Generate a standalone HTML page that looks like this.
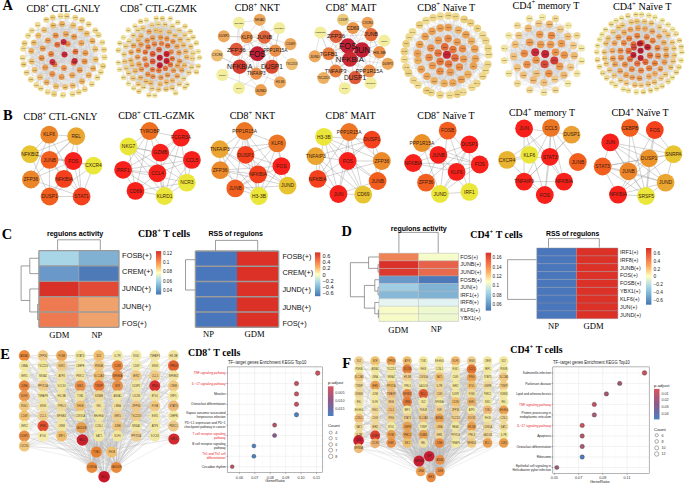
<!DOCTYPE html>
<html><head><meta charset="utf-8"><style>
html,body{margin:0;padding:0;background:#fff;}
svg{display:block;}
</style></head><body>
<svg width="685" height="484" viewBox="0 0 685 484">
<rect width="685" height="484" fill="#fff"/>
<text transform="translate(2.40 9.80) scale(0.25)" font-family="Liberation Serif" font-size="57.60" font-weight="bold" fill="#000" text-anchor="start" >A</text>
<text transform="translate(3.10 119.90) scale(0.25)" font-family="Liberation Serif" font-size="57.60" font-weight="bold" fill="#000" text-anchor="start" >B</text>
<text transform="translate(1.80 238.70) scale(0.25)" font-family="Liberation Serif" font-size="57.60" font-weight="bold" fill="#000" text-anchor="start" >C</text>
<text transform="translate(341.60 235.80) scale(0.25)" font-family="Liberation Serif" font-size="57.60" font-weight="bold" fill="#000" text-anchor="start" >D</text>
<text transform="translate(0.30 358.80) scale(0.25)" font-family="Liberation Serif" font-size="57.60" font-weight="bold" fill="#000" text-anchor="start" >E</text>
<text transform="translate(342.20 367.80) scale(0.25)" font-family="Liberation Serif" font-size="57.60" font-weight="bold" fill="#000" text-anchor="start" >F</text>
<text transform="translate(26.40 11.80) scale(0.25)" font-family="Liberation Serif" font-size="41.20" font-weight="normal" fill="#000" text-anchor="start" textLength="296.00" lengthAdjust="spacingAndGlyphs" >CD8<tspan font-size="28.02" dy="-16.48">+</tspan><tspan dy="16.48"> CTL-GNLY</tspan></text>
<text transform="translate(120.00 11.60) scale(0.25)" font-family="Liberation Serif" font-size="41.20" font-weight="normal" fill="#000" text-anchor="start" textLength="308.00" lengthAdjust="spacingAndGlyphs" >CD8<tspan font-size="28.02" dy="-16.48">+</tspan><tspan dy="16.48"> CTL-GZMK</tspan></text>
<text transform="translate(234.80 10.90) scale(0.25)" font-family="Liberation Serif" font-size="41.20" font-weight="normal" fill="#000" text-anchor="start" textLength="180.40" lengthAdjust="spacingAndGlyphs" >CD8<tspan font-size="28.02" dy="-16.48">+</tspan><tspan dy="16.48"> NKT</tspan></text>
<text transform="translate(325.80 10.90) scale(0.25)" font-family="Liberation Serif" font-size="41.20" font-weight="normal" fill="#000" text-anchor="start" textLength="202.40" lengthAdjust="spacingAndGlyphs" >CD8<tspan font-size="28.02" dy="-16.48">+</tspan><tspan dy="16.48"> MAIT</tspan></text>
<text transform="translate(417.30 10.60) scale(0.25)" font-family="Liberation Serif" font-size="41.20" font-weight="normal" fill="#000" text-anchor="start" textLength="231.60" lengthAdjust="spacingAndGlyphs" >CD8<tspan font-size="28.02" dy="-16.48">+</tspan><tspan dy="16.48"> Na&#239;ve T</tspan></text>
<text transform="translate(512.50 8.60) scale(0.25)" font-family="Liberation Serif" font-size="41.20" font-weight="normal" fill="#000" text-anchor="start" textLength="268.00" lengthAdjust="spacingAndGlyphs" >CD4<tspan font-size="28.02" dy="-16.48">+</tspan><tspan dy="16.48"> memory T</tspan></text>
<text transform="translate(612.90 10.40) scale(0.25)" font-family="Liberation Serif" font-size="41.20" font-weight="normal" fill="#000" text-anchor="start" textLength="234.00" lengthAdjust="spacingAndGlyphs" >CD4<tspan font-size="28.02" dy="-16.48">+</tspan><tspan dy="16.48"> Na&#239;ve T</tspan></text>
<text transform="translate(23.60 120.00) scale(0.25)" font-family="Liberation Serif" font-size="41.20" font-weight="normal" fill="#000" text-anchor="start" textLength="295.20" lengthAdjust="spacingAndGlyphs" >CD8<tspan font-size="28.02" dy="-16.48">+</tspan><tspan dy="16.48"> CTL-GNLY</tspan></text>
<text transform="translate(118.20 119.00) scale(0.25)" font-family="Liberation Serif" font-size="41.20" font-weight="normal" fill="#000" text-anchor="start" textLength="305.60" lengthAdjust="spacingAndGlyphs" >CD8<tspan font-size="28.02" dy="-16.48">+</tspan><tspan dy="16.48"> CTL-GZMK</tspan></text>
<text transform="translate(229.70 119.00) scale(0.25)" font-family="Liberation Serif" font-size="41.20" font-weight="normal" fill="#000" text-anchor="start" textLength="182.00" lengthAdjust="spacingAndGlyphs" >CD8<tspan font-size="28.02" dy="-16.48">+</tspan><tspan dy="16.48"> NKT</tspan></text>
<text transform="translate(325.60 119.00) scale(0.25)" font-family="Liberation Serif" font-size="41.20" font-weight="normal" fill="#000" text-anchor="start" textLength="200.00" lengthAdjust="spacingAndGlyphs" >CD8<tspan font-size="28.02" dy="-16.48">+</tspan><tspan dy="16.48"> MAIT</tspan></text>
<text transform="translate(417.30 119.00) scale(0.25)" font-family="Liberation Serif" font-size="41.20" font-weight="normal" fill="#000" text-anchor="start" textLength="228.80" lengthAdjust="spacingAndGlyphs" >CD8<tspan font-size="28.02" dy="-16.48">+</tspan><tspan dy="16.48"> Na&#239;ve T</tspan></text>
<text transform="translate(509.00 115.80) scale(0.25)" font-family="Liberation Serif" font-size="41.20" font-weight="normal" fill="#000" text-anchor="start" textLength="264.40" lengthAdjust="spacingAndGlyphs" >CD4<tspan font-size="28.02" dy="-16.48">+</tspan><tspan dy="16.48"> memory T</tspan></text>
<text transform="translate(611.40 115.80) scale(0.25)" font-family="Liberation Serif" font-size="41.20" font-weight="normal" fill="#000" text-anchor="start" textLength="229.20" lengthAdjust="spacingAndGlyphs" >CD4<tspan font-size="28.02" dy="-16.48">+</tspan><tspan dy="16.48"> Na&#239;ve T</tspan></text>
<text transform="translate(138.00 237.10) scale(0.25)" font-family="Liberation Serif" font-size="40.00" font-weight="bold" fill="#000" text-anchor="start" textLength="208.40" lengthAdjust="spacingAndGlyphs" >CD8<tspan font-size="27.20" dy="-16.00">+</tspan><tspan dy="16.00"> T cells</tspan></text>
<text transform="translate(470.30 237.80) scale(0.25)" font-family="Liberation Serif" font-size="40.00" font-weight="bold" fill="#000" text-anchor="start" textLength="209.60" lengthAdjust="spacingAndGlyphs" >CD4<tspan font-size="27.20" dy="-16.00">+</tspan><tspan dy="16.00"> T cells</tspan></text>
<text transform="translate(188.00 355.80) scale(0.25)" font-family="Liberation Serif" font-size="40.00" font-weight="bold" fill="#000" text-anchor="start" textLength="209.20" lengthAdjust="spacingAndGlyphs" >CD8<tspan font-size="27.20" dy="-16.00">+</tspan><tspan dy="16.00"> T cells</tspan></text>
<text transform="translate(510.30 353.10) scale(0.25)" font-family="Liberation Serif" font-size="40.00" font-weight="bold" fill="#000" text-anchor="start" textLength="209.60" lengthAdjust="spacingAndGlyphs" >CD4<tspan font-size="27.20" dy="-16.00">+</tspan><tspan dy="16.00"> T cells</tspan></text>
<rect x="38.90" y="250.60" width="40.00" height="15.34" fill="#a9d6e6"/>
<rect x="78.90" y="250.60" width="40.10" height="15.34" fill="#80b1d3"/>
<rect x="38.90" y="265.94" width="40.00" height="15.34" fill="#6a98c8"/>
<rect x="78.90" y="265.94" width="40.10" height="15.34" fill="#4e7ab8"/>
<rect x="38.90" y="281.28" width="40.00" height="15.34" fill="#d73128"/>
<rect x="78.90" y="281.28" width="40.10" height="15.34" fill="#e34a35"/>
<rect x="38.90" y="296.62" width="40.00" height="15.34" fill="#ee7a52"/>
<rect x="78.90" y="296.62" width="40.10" height="15.34" fill="#f0a26c"/>
<rect x="38.90" y="311.96" width="40.00" height="15.34" fill="#ee7a52"/>
<rect x="78.90" y="311.96" width="40.10" height="15.34" fill="#f0a26c"/>
<path d="M38.9 250.6L119 250.6M38.9 265.9L119 265.9M38.9 281.3L119 281.3M38.9 296.6L119 296.6M38.9 312L119 312M38.9 327.3L119 327.3M38.9 250.6L38.9 327.3M119 250.6L119 327.3" fill="none" stroke="#9a9a9a" stroke-width="1.35"/>
<path d="M78.9 250.6L78.9 327.3" fill="none" stroke="#aaaaaa" stroke-width="0.5"/>
<polyline points="57.60,250.00 57.60,239.80 100.30,239.80 100.30,250.00" fill="none" stroke="#4d4d4d" stroke-width="0.55"/>
<polyline points="38.50,258.27 29.80,258.27 29.80,273.61 38.50,273.61" fill="none" stroke="#4d4d4d" stroke-width="0.55"/>
<polyline points="38.50,304.29 37.60,304.29 37.60,319.63 38.50,319.63" fill="none" stroke="#4d4d4d" stroke-width="0.55"/>
<polyline points="38.50,288.95 29.80,288.95 29.80,311.96 37.60,311.96" fill="none" stroke="#4d4d4d" stroke-width="0.55"/>
<polyline points="29.80,265.94 21.10,265.94 21.10,300.46 29.80,300.46" fill="none" stroke="#4d4d4d" stroke-width="0.55"/>
<text transform="translate(46.90 235.70) scale(0.25)" font-family="Liberation Sans" font-size="27.20" font-weight="bold" fill="#000" text-anchor="start" textLength="225.20" lengthAdjust="spacingAndGlyphs" >regulons activity</text>
<text transform="translate(122.10 257.60) scale(0.25)" font-family="Liberation Sans" font-size="32.00" font-weight="normal" fill="#111" text-anchor="start" textLength="118.00" lengthAdjust="spacingAndGlyphs" >FOSB(+)</text>
<text transform="translate(122.10 274.00) scale(0.25)" font-family="Liberation Sans" font-size="32.00" font-weight="normal" fill="#111" text-anchor="start" textLength="123.20" lengthAdjust="spacingAndGlyphs" >CREM(+)</text>
<text transform="translate(122.10 291.00) scale(0.25)" font-family="Liberation Sans" font-size="32.00" font-weight="normal" fill="#111" text-anchor="start" textLength="116.00" lengthAdjust="spacingAndGlyphs" >JUND(+)</text>
<text transform="translate(122.10 309.00) scale(0.25)" font-family="Liberation Sans" font-size="32.00" font-weight="normal" fill="#111" text-anchor="start" textLength="116.00" lengthAdjust="spacingAndGlyphs" >JUNB(+)</text>
<text transform="translate(122.10 325.70) scale(0.25)" font-family="Liberation Sans" font-size="32.00" font-weight="normal" fill="#111" text-anchor="start" textLength="98.40" lengthAdjust="spacingAndGlyphs" >FOS(+)</text>
<text transform="translate(49.30 337.80) scale(0.25)" font-family="Liberation Serif" font-size="34.40" font-weight="normal" fill="#000" text-anchor="start" >GDM</text>
<text transform="translate(91.40 337.80) scale(0.25)" font-family="Liberation Serif" font-size="34.40" font-weight="normal" fill="#000" text-anchor="start" >NP</text>
<defs><linearGradient id="g1" x1="0" y1="0" x2="0" y2="1"><stop offset="0" stop-color="#d73027"/><stop offset="0.17" stop-color="#f46d43"/><stop offset="0.33" stop-color="#fdae61"/><stop offset="0.5" stop-color="#ffffbf"/><stop offset="0.67" stop-color="#abd9e9"/><stop offset="0.83" stop-color="#74add1"/><stop offset="1" stop-color="#4575b4"/></linearGradient></defs>
<rect x="156.0" y="251.1" width="5.2" height="43.4" fill="url(#g1)"/>
<text transform="translate(163.00 254.90) scale(0.25)" font-family="Liberation Sans" font-size="18.40" font-weight="normal" fill="#222" text-anchor="start" >0.12</text>
<text transform="translate(163.00 264.30) scale(0.25)" font-family="Liberation Sans" font-size="18.40" font-weight="normal" fill="#222" text-anchor="start" >0.1</text>
<text transform="translate(163.00 273.40) scale(0.25)" font-family="Liberation Sans" font-size="18.40" font-weight="normal" fill="#222" text-anchor="start" >0.08</text>
<text transform="translate(163.00 282.60) scale(0.25)" font-family="Liberation Sans" font-size="18.40" font-weight="normal" fill="#222" text-anchor="start" >0.06</text>
<text transform="translate(163.00 292.10) scale(0.25)" font-family="Liberation Sans" font-size="18.40" font-weight="normal" fill="#222" text-anchor="start" >0.04</text>
<rect x="195.40" y="251.00" width="41.60" height="15.24" fill="#4a77bb"/>
<rect x="237.00" y="251.00" width="41.70" height="15.24" fill="#dc3127"/>
<rect x="195.40" y="266.24" width="41.60" height="15.24" fill="#4a77bb"/>
<rect x="237.00" y="266.24" width="41.70" height="15.24" fill="#dc3127"/>
<rect x="195.40" y="281.48" width="41.60" height="15.24" fill="#4a77bb"/>
<rect x="237.00" y="281.48" width="41.70" height="15.24" fill="#dc3127"/>
<rect x="195.40" y="296.72" width="41.60" height="15.24" fill="#4a77bb"/>
<rect x="237.00" y="296.72" width="41.70" height="15.24" fill="#dc3127"/>
<rect x="195.40" y="311.96" width="41.60" height="15.24" fill="#4a77bb"/>
<rect x="237.00" y="311.96" width="41.70" height="15.24" fill="#dc3127"/>
<path d="M195.4 251L278.7 251M195.4 266.2L278.7 266.2M195.4 281.5L278.7 281.5M195.4 296.7L278.7 296.7M195.4 312L278.7 312M195.4 327.2L278.7 327.2M195.4 251L195.4 327.2M278.7 251L278.7 327.2" fill="none" stroke="#9a9a9a" stroke-width="1.35"/>
<path d="M237 251L237 327.2" fill="none" stroke="#4a77bb" stroke-width="0.01"/>
<polyline points="215.50,250.50 215.50,240.40 257.70,240.40 257.70,250.50" fill="none" stroke="#4d4d4d" stroke-width="0.55"/>
<polyline points="195.00,259.70 185.50,259.70 185.50,290.00 195.00,290.00" fill="none" stroke="#4d4d4d" stroke-width="0.55"/>
<text transform="translate(208.50 236.30) scale(0.25)" font-family="Liberation Sans" font-size="27.20" font-weight="bold" fill="#000" text-anchor="start" textLength="218.00" lengthAdjust="spacingAndGlyphs" >RSS of regulons</text>
<text transform="translate(282.40 258.50) scale(0.25)" font-family="Liberation Sans" font-size="32.00" font-weight="normal" fill="#111" text-anchor="start" textLength="115.60" lengthAdjust="spacingAndGlyphs" >FOSB(+)</text>
<text transform="translate(282.40 275.00) scale(0.25)" font-family="Liberation Sans" font-size="32.00" font-weight="normal" fill="#111" text-anchor="start" textLength="123.60" lengthAdjust="spacingAndGlyphs" >CREM(+)</text>
<text transform="translate(282.40 292.00) scale(0.25)" font-family="Liberation Sans" font-size="32.00" font-weight="normal" fill="#111" text-anchor="start" textLength="114.40" lengthAdjust="spacingAndGlyphs" >JUND(+)</text>
<text transform="translate(282.40 309.50) scale(0.25)" font-family="Liberation Sans" font-size="32.00" font-weight="normal" fill="#111" text-anchor="start" textLength="114.40" lengthAdjust="spacingAndGlyphs" >JUNB(+)</text>
<text transform="translate(282.40 326.00) scale(0.25)" font-family="Liberation Sans" font-size="32.00" font-weight="normal" fill="#111" text-anchor="start" textLength="97.60" lengthAdjust="spacingAndGlyphs" >FOS(+)</text>
<text transform="translate(203.00 337.30) scale(0.25)" font-family="Liberation Serif" font-size="34.40" font-weight="normal" fill="#000" text-anchor="start" >NP</text>
<text transform="translate(244.50 337.30) scale(0.25)" font-family="Liberation Serif" font-size="34.40" font-weight="normal" fill="#000" text-anchor="start" >GDM</text>
<defs><linearGradient id="g2" x1="0" y1="0" x2="0" y2="1"><stop offset="0" stop-color="#d73027"/><stop offset="0.17" stop-color="#f46d43"/><stop offset="0.33" stop-color="#fdae61"/><stop offset="0.5" stop-color="#ffffbf"/><stop offset="0.67" stop-color="#abd9e9"/><stop offset="0.83" stop-color="#74add1"/><stop offset="1" stop-color="#4575b4"/></linearGradient></defs>
<rect x="315.0" y="252.4" width="5.4" height="43.8" fill="url(#g2)"/>
<text transform="translate(322.60 258.00) scale(0.25)" font-family="Liberation Sans" font-size="22.40" font-weight="normal" fill="#222" text-anchor="start" >0.6</text>
<text transform="translate(322.60 264.00) scale(0.25)" font-family="Liberation Sans" font-size="22.40" font-weight="normal" fill="#222" text-anchor="start" >0.4</text>
<text transform="translate(322.60 270.20) scale(0.25)" font-family="Liberation Sans" font-size="22.40" font-weight="normal" fill="#222" text-anchor="start" >0.2</text>
<text transform="translate(322.60 276.70) scale(0.25)" font-family="Liberation Sans" font-size="22.40" font-weight="normal" fill="#222" text-anchor="start" >0</text>
<text transform="translate(322.60 282.50) scale(0.25)" font-family="Liberation Sans" font-size="22.40" font-weight="normal" fill="#222" text-anchor="start" >&#8722;0.2</text>
<text transform="translate(322.60 288.80) scale(0.25)" font-family="Liberation Sans" font-size="22.40" font-weight="normal" fill="#222" text-anchor="start" >&#8722;0.4</text>
<text transform="translate(322.60 295.00) scale(0.25)" font-family="Liberation Sans" font-size="22.40" font-weight="normal" fill="#222" text-anchor="start" >&#8722;0.6</text>
<rect x="379.00" y="253.20" width="39.50" height="7.58" fill="#ee8356"/>
<rect x="418.50" y="253.20" width="40.00" height="7.58" fill="#f5fbc9"/>
<rect x="379.00" y="260.78" width="39.50" height="7.58" fill="#d93129"/>
<rect x="418.50" y="260.78" width="40.00" height="7.58" fill="#e8614a"/>
<rect x="379.00" y="268.36" width="39.50" height="7.58" fill="#dc3a2e"/>
<rect x="418.50" y="268.36" width="40.00" height="7.58" fill="#e86a4c"/>
<rect x="379.00" y="275.93" width="39.50" height="7.58" fill="#6a98c8"/>
<rect x="418.50" y="275.93" width="40.00" height="7.58" fill="#4d79b8"/>
<rect x="379.00" y="283.51" width="39.50" height="7.58" fill="#a1cde2"/>
<rect x="418.50" y="283.51" width="40.00" height="7.58" fill="#80b2d4"/>
<rect x="379.00" y="291.09" width="39.50" height="7.58" fill="#87b8d8"/>
<rect x="418.50" y="291.09" width="40.00" height="7.58" fill="#80b2d4"/>
<rect x="379.00" y="298.67" width="39.50" height="7.58" fill="#e6f5f2"/>
<rect x="418.50" y="298.67" width="40.00" height="7.58" fill="#e2f3f4"/>
<rect x="379.00" y="306.24" width="39.50" height="7.58" fill="#f6fbc8"/>
<rect x="418.50" y="306.24" width="40.00" height="7.58" fill="#eef8cf"/>
<rect x="379.00" y="313.82" width="39.50" height="7.58" fill="#f6fbc8"/>
<rect x="418.50" y="313.82" width="40.00" height="7.58" fill="#eef8cf"/>
<path d="M379 253.2L458.5 253.2M379 260.8L458.5 260.8M379 268.4L458.5 268.4M379 275.9L458.5 275.9M379 283.5L458.5 283.5M379 291.1L458.5 291.1M379 298.7L458.5 298.7M379 306.2L458.5 306.2M379 313.8L458.5 313.8M379 321.4L458.5 321.4M379 253.2L379 321.4M458.5 253.2L458.5 321.4M418.5 253.2L418.5 321.4" fill="none" stroke="#b4b4b4" stroke-width="0.5"/>
<polyline points="398.90,252.80 398.90,232.40 438.20,232.40 438.20,252.80" fill="none" stroke="#4d4d4d" stroke-width="0.55"/>
<polyline points="378.80,264.57 378.00,264.57 378.00,272.14 378.80,272.14" fill="none" stroke="#4d4d4d" stroke-width="0.55"/>
<polyline points="378.80,256.99 368.60,256.99 368.60,268.36 378.00,268.36" fill="none" stroke="#4d4d4d" stroke-width="0.55"/>
<polyline points="378.80,287.30 378.00,287.30 378.00,294.88 378.80,294.88" fill="none" stroke="#4d4d4d" stroke-width="0.55"/>
<polyline points="378.80,279.72 374.80,279.72 374.80,291.09 378.00,291.09" fill="none" stroke="#4d4d4d" stroke-width="0.55"/>
<polyline points="378.80,310.03 378.30,310.03 378.30,317.61 378.80,317.61" fill="none" stroke="#4d4d4d" stroke-width="0.55"/>
<polyline points="378.80,302.46 374.80,302.46 374.80,313.82 378.30,313.82" fill="none" stroke="#4d4d4d" stroke-width="0.55"/>
<polyline points="374.80,285.41 364.40,285.41 364.40,308.14 374.80,308.14" fill="none" stroke="#4d4d4d" stroke-width="0.55"/>
<polyline points="368.60,262.67 350.40,262.67 350.40,296.77 364.40,296.77" fill="none" stroke="#4d4d4d" stroke-width="0.55"/>
<text transform="translate(390.80 231.40) scale(0.25)" font-family="Liberation Sans" font-size="27.20" font-weight="bold" fill="#000" text-anchor="start" textLength="223.60" lengthAdjust="spacingAndGlyphs" >regulons activity</text>
<text transform="translate(460.30 258.89) scale(0.25)" font-family="Liberation Sans" font-size="21.60" font-weight="normal" fill="#222" text-anchor="start" >FOS(+)</text>
<text transform="translate(460.30 266.47) scale(0.25)" font-family="Liberation Sans" font-size="21.60" font-weight="normal" fill="#222" text-anchor="start" >JUNB(+)</text>
<text transform="translate(460.30 274.04) scale(0.25)" font-family="Liberation Sans" font-size="21.60" font-weight="normal" fill="#222" text-anchor="start" >JUND(+)</text>
<text transform="translate(460.30 281.62) scale(0.25)" font-family="Liberation Sans" font-size="21.60" font-weight="normal" fill="#222" text-anchor="start" >FOSB(+)</text>
<text transform="translate(460.30 289.20) scale(0.25)" font-family="Liberation Sans" font-size="21.60" font-weight="normal" fill="#222" text-anchor="start" >JUN(+)</text>
<text transform="translate(460.30 296.78) scale(0.25)" font-family="Liberation Sans" font-size="21.60" font-weight="normal" fill="#222" text-anchor="start" >IRF1(+)</text>
<text transform="translate(460.30 304.36) scale(0.25)" font-family="Liberation Sans" font-size="21.60" font-weight="normal" fill="#222" text-anchor="start" >IRF8(+)</text>
<text transform="translate(460.30 311.93) scale(0.25)" font-family="Liberation Sans" font-size="21.60" font-weight="normal" fill="#222" text-anchor="start" >KLF6(+)</text>
<text transform="translate(460.30 319.51) scale(0.25)" font-family="Liberation Sans" font-size="21.60" font-weight="normal" fill="#222" text-anchor="start" >YBX1(+)</text>
<text transform="translate(388.30 332.60) scale(0.25)" font-family="Liberation Serif" font-size="34.40" font-weight="normal" fill="#000" text-anchor="start" >GDM</text>
<text transform="translate(430.80 332.00) scale(0.25)" font-family="Liberation Serif" font-size="34.40" font-weight="normal" fill="#000" text-anchor="start" >NP</text>
<defs><linearGradient id="g3" x1="0" y1="0" x2="0" y2="1"><stop offset="0" stop-color="#d73027"/><stop offset="0.17" stop-color="#f46d43"/><stop offset="0.33" stop-color="#fdae61"/><stop offset="0.5" stop-color="#ffffbf"/><stop offset="0.67" stop-color="#abd9e9"/><stop offset="0.83" stop-color="#74add1"/><stop offset="1" stop-color="#4575b4"/></linearGradient></defs>
<rect x="485.7" y="252.7" width="5.4" height="57.9" fill="url(#g3)"/>
<text transform="translate(492.60 259.30) scale(0.25)" font-family="Liberation Sans" font-size="18.40" font-weight="normal" fill="#222" text-anchor="start" >0.16</text>
<text transform="translate(492.60 268.50) scale(0.25)" font-family="Liberation Sans" font-size="18.40" font-weight="normal" fill="#222" text-anchor="start" >0.14</text>
<text transform="translate(492.60 277.90) scale(0.25)" font-family="Liberation Sans" font-size="18.40" font-weight="normal" fill="#222" text-anchor="start" >0.12</text>
<text transform="translate(492.60 287.30) scale(0.25)" font-family="Liberation Sans" font-size="18.40" font-weight="normal" fill="#222" text-anchor="start" >0.1</text>
<text transform="translate(492.60 296.70) scale(0.25)" font-family="Liberation Sans" font-size="18.40" font-weight="normal" fill="#222" text-anchor="start" >0.08</text>
<text transform="translate(492.60 306.00) scale(0.25)" font-family="Liberation Sans" font-size="18.40" font-weight="normal" fill="#222" text-anchor="start" >0.06</text>
<rect x="536.80" y="248.00" width="39.70" height="7.86" fill="#4a77bb"/>
<rect x="576.50" y="248.00" width="41.40" height="7.86" fill="#dc3127"/>
<rect x="536.80" y="255.86" width="39.70" height="7.86" fill="#4a77bb"/>
<rect x="576.50" y="255.86" width="41.40" height="7.86" fill="#dc3127"/>
<rect x="536.80" y="263.71" width="39.70" height="7.86" fill="#4a77bb"/>
<rect x="576.50" y="263.71" width="41.40" height="7.86" fill="#dc3127"/>
<rect x="536.80" y="271.57" width="39.70" height="7.86" fill="#4a77bb"/>
<rect x="576.50" y="271.57" width="41.40" height="7.86" fill="#dc3127"/>
<rect x="536.80" y="279.42" width="39.70" height="7.86" fill="#4a77bb"/>
<rect x="576.50" y="279.42" width="41.40" height="7.86" fill="#dc3127"/>
<rect x="536.80" y="287.28" width="39.70" height="7.86" fill="#4a77bb"/>
<rect x="576.50" y="287.28" width="41.40" height="7.86" fill="#dc3127"/>
<rect x="536.80" y="295.13" width="39.70" height="7.86" fill="#4a77bb"/>
<rect x="576.50" y="295.13" width="41.40" height="7.86" fill="#dc3127"/>
<rect x="536.80" y="302.99" width="39.70" height="7.86" fill="#4a77bb"/>
<rect x="576.50" y="302.99" width="41.40" height="7.86" fill="#dc3127"/>
<rect x="536.80" y="310.84" width="39.70" height="7.86" fill="#4a77bb"/>
<rect x="576.50" y="310.84" width="41.40" height="7.86" fill="#dc3127"/>
<path d="M536.8 248L617.9 248M536.8 255.9L617.9 255.9M536.8 263.7L617.9 263.7M536.8 271.6L617.9 271.6M536.8 279.4L617.9 279.4M536.8 287.3L617.9 287.3M536.8 295.1L617.9 295.1M536.8 303L617.9 303M536.8 310.8L617.9 310.8M536.8 318.7L617.9 318.7M536.8 248L536.8 318.7M617.9 248L617.9 318.7" fill="none" stroke="#8f8f9f" stroke-width="0.45"/>
<path d="M576.5 248L576.5 318.7" fill="none" stroke="#4a77bb" stroke-width="0.01"/>
<polyline points="548.50,247.60 548.50,238.60 599.30,238.60 599.30,247.60" fill="none" stroke="#4d4d4d" stroke-width="0.55"/>
<polyline points="536.40,259.70 507.60,259.70 507.60,299.40 536.40,299.40" fill="none" stroke="#4d4d4d" stroke-width="0.55"/>
<text transform="translate(546.00 236.40) scale(0.25)" font-family="Liberation Sans" font-size="27.20" font-weight="bold" fill="#000" text-anchor="start" textLength="213.20" lengthAdjust="spacingAndGlyphs" >RSS of regulons</text>
<text transform="translate(620.00 253.83) scale(0.25)" font-family="Liberation Sans" font-size="21.60" font-weight="normal" fill="#222" text-anchor="start" >IRF1(+)</text>
<text transform="translate(620.00 261.68) scale(0.25)" font-family="Liberation Sans" font-size="21.60" font-weight="normal" fill="#222" text-anchor="start" >IRF8(+)</text>
<text transform="translate(620.00 269.54) scale(0.25)" font-family="Liberation Sans" font-size="21.60" font-weight="normal" fill="#222" text-anchor="start" >JUNB(+)</text>
<text transform="translate(620.00 277.39) scale(0.25)" font-family="Liberation Sans" font-size="21.60" font-weight="normal" fill="#222" text-anchor="start" >FOS(+)</text>
<text transform="translate(620.00 285.25) scale(0.25)" font-family="Liberation Sans" font-size="21.60" font-weight="normal" fill="#222" text-anchor="start" >FOSB(+)</text>
<text transform="translate(620.00 293.11) scale(0.25)" font-family="Liberation Sans" font-size="21.60" font-weight="normal" fill="#222" text-anchor="start" >YBX1(+)</text>
<text transform="translate(620.00 300.96) scale(0.25)" font-family="Liberation Sans" font-size="21.60" font-weight="normal" fill="#222" text-anchor="start" >KLF6(+)</text>
<text transform="translate(620.00 308.82) scale(0.25)" font-family="Liberation Sans" font-size="21.60" font-weight="normal" fill="#222" text-anchor="start" >JUN(+)</text>
<text transform="translate(620.00 316.67) scale(0.25)" font-family="Liberation Sans" font-size="21.60" font-weight="normal" fill="#222" text-anchor="start" >JUND(+)</text>
<text transform="translate(548.00 329.40) scale(0.25)" font-family="Liberation Serif" font-size="34.40" font-weight="normal" fill="#000" text-anchor="start" >NP</text>
<text transform="translate(583.50 329.40) scale(0.25)" font-family="Liberation Serif" font-size="34.40" font-weight="normal" fill="#000" text-anchor="start" >GDM</text>
<defs><linearGradient id="g4" x1="0" y1="0" x2="0" y2="1"><stop offset="0" stop-color="#d73027"/><stop offset="0.17" stop-color="#f46d43"/><stop offset="0.33" stop-color="#fdae61"/><stop offset="0.5" stop-color="#ffffbf"/><stop offset="0.67" stop-color="#abd9e9"/><stop offset="0.83" stop-color="#74add1"/><stop offset="1" stop-color="#4575b4"/></linearGradient></defs>
<rect x="646.0" y="248.0" width="5.4" height="56.7" fill="url(#g4)"/>
<text transform="translate(653.50 254.50) scale(0.25)" font-family="Liberation Sans" font-size="19.20" font-weight="normal" fill="#222" text-anchor="start" >0.6</text>
<text transform="translate(653.50 262.50) scale(0.25)" font-family="Liberation Sans" font-size="19.20" font-weight="normal" fill="#222" text-anchor="start" >0.4</text>
<text transform="translate(653.50 270.50) scale(0.25)" font-family="Liberation Sans" font-size="19.20" font-weight="normal" fill="#222" text-anchor="start" >0.2</text>
<text transform="translate(653.50 278.30) scale(0.25)" font-family="Liberation Sans" font-size="19.20" font-weight="normal" fill="#222" text-anchor="start" >0</text>
<text transform="translate(653.50 286.30) scale(0.25)" font-family="Liberation Sans" font-size="19.20" font-weight="normal" fill="#222" text-anchor="start" >&#8722;0.2</text>
<text transform="translate(653.50 294.40) scale(0.25)" font-family="Liberation Sans" font-size="19.20" font-weight="normal" fill="#222" text-anchor="start" >&#8722;0.4</text>
<text transform="translate(653.50 302.40) scale(0.25)" font-family="Liberation Sans" font-size="19.20" font-weight="normal" fill="#222" text-anchor="start" >&#8722;0.6</text>
<rect x="227.50" y="366.90" width="95.10" height="105.80" fill="#ffffff"/>
<path d="M231.7 366.9L231.7 472.7M247.1 366.9L247.1 472.7M262.5 366.9L262.5 472.7M278 366.9L278 472.7M293.4 366.9L293.4 472.7M308.8 366.9L308.8 472.7M324.2 366.9L324.2 472.7" fill="none" stroke="#f3f3f3" stroke-width="0.35"/>
<path d="M239.4 366.9L239.4 472.7M254.8 366.9L254.8 472.7M270.2 366.9L270.2 472.7M285.7 366.9L285.7 472.7M301.1 366.9L301.1 472.7M316.5 366.9L316.5 472.7M227.5 373.1L322.6 373.1M227.5 383.5L322.6 383.5M227.5 393.9L322.6 393.9M227.5 404.3L322.6 404.3M227.5 414.7L322.6 414.7M227.5 425.1L322.6 425.1M227.5 435.5L322.6 435.5M227.5 445.9L322.6 445.9M227.5 456.3L322.6 456.3M227.5 466.7L322.6 466.7" fill="none" stroke="#e6e6e6" stroke-width="0.5"/>
<rect x="227.50" y="366.90" width="95.10" height="105.80" fill="none" stroke="#6a6a6a" stroke-width="0.5"/>
<path d="M226.3 373.1L227.5 373.1" fill="none" stroke="#333" stroke-width="0.4"/>
<text transform="translate(225.60 374.20) scale(0.25)" font-family="Liberation Sans" font-size="14.20" font-weight="normal" fill="#e8202a" text-anchor="end" textLength="128.15" lengthAdjust="spacingAndGlyphs" >TNF signaling pathway</text>
<path d="M226.3 383.5L227.5 383.5" fill="none" stroke="#333" stroke-width="0.4"/>
<text transform="translate(225.60 384.60) scale(0.25)" font-family="Liberation Sans" font-size="14.20" font-weight="normal" fill="#e8202a" text-anchor="end" textLength="135.54" lengthAdjust="spacingAndGlyphs" >IL&#8722;17 signaling pathway</text>
<path d="M226.3 393.9L227.5 393.9" fill="none" stroke="#333" stroke-width="0.4"/>
<text transform="translate(225.60 395.00) scale(0.25)" font-family="Liberation Sans" font-size="14.20" font-weight="normal" fill="#1a1a1a" text-anchor="end" textLength="46.92" lengthAdjust="spacingAndGlyphs" >Measles</text>
<path d="M226.3 404.3L227.5 404.3" fill="none" stroke="#333" stroke-width="0.4"/>
<text transform="translate(225.60 405.40) scale(0.25)" font-family="Liberation Sans" font-size="14.20" font-weight="normal" fill="#1a1a1a" text-anchor="end" textLength="138.44" lengthAdjust="spacingAndGlyphs" >Osteoclast differentiation</text>
<path d="M226.3 414.7L227.5 414.7" fill="none" stroke="#333" stroke-width="0.4"/>
<text transform="translate(225.60 413.85) scale(0.25)" font-family="Liberation Sans" font-size="14.20" font-weight="normal" fill="#1a1a1a" text-anchor="end" textLength="157.93" lengthAdjust="spacingAndGlyphs" >Kaposi sarcoma&#8722;associated</text>
<text transform="translate(225.60 417.75) scale(0.25)" font-family="Liberation Sans" font-size="14.20" font-weight="normal" fill="#1a1a1a" text-anchor="end" textLength="115.55" lengthAdjust="spacingAndGlyphs" >herpesvirus infection</text>
<path d="M226.3 425.1L227.5 425.1" fill="none" stroke="#333" stroke-width="0.4"/>
<text transform="translate(225.60 424.25) scale(0.25)" font-family="Liberation Sans" font-size="14.20" font-weight="normal" fill="#1a1a1a" text-anchor="end" textLength="163.20" lengthAdjust="spacingAndGlyphs" >PD&#8722;L1 expression and PD&#8722;1</text>
<text transform="translate(225.60 428.15) scale(0.25)" font-family="Liberation Sans" font-size="14.20" font-weight="normal" fill="#1a1a1a" text-anchor="end" textLength="165.28" lengthAdjust="spacingAndGlyphs" >checkpoint pathway in cancer</text>
<path d="M226.3 435.5L227.5 435.5" fill="none" stroke="#333" stroke-width="0.4"/>
<text transform="translate(225.60 434.65) scale(0.25)" font-family="Liberation Sans" font-size="14.20" font-weight="normal" fill="#e8202a" text-anchor="end" textLength="132.83" lengthAdjust="spacingAndGlyphs" >T cell receptor signaling</text>
<text transform="translate(225.60 438.55) scale(0.25)" font-family="Liberation Sans" font-size="14.20" font-weight="normal" fill="#e8202a" text-anchor="end" textLength="46.93" lengthAdjust="spacingAndGlyphs" >pathway</text>
<path d="M226.3 445.9L227.5 445.9" fill="none" stroke="#333" stroke-width="0.4"/>
<text transform="translate(225.60 445.05) scale(0.25)" font-family="Liberation Sans" font-size="14.20" font-weight="normal" fill="#1a1a1a" text-anchor="end" textLength="133.76" lengthAdjust="spacingAndGlyphs" >B cell receptor signaling</text>
<text transform="translate(225.60 448.95) scale(0.25)" font-family="Liberation Sans" font-size="14.20" font-weight="normal" fill="#1a1a1a" text-anchor="end" textLength="46.93" lengthAdjust="spacingAndGlyphs" >pathway</text>
<path d="M226.3 456.3L227.5 456.3" fill="none" stroke="#333" stroke-width="0.4"/>
<text transform="translate(225.60 455.45) scale(0.25)" font-family="Liberation Sans" font-size="14.20" font-weight="normal" fill="#e8202a" text-anchor="end" textLength="93.62" lengthAdjust="spacingAndGlyphs" >Th1 and Th2 cell</text>
<text transform="translate(225.60 459.35) scale(0.25)" font-family="Liberation Sans" font-size="14.20" font-weight="normal" fill="#e8202a" text-anchor="end" textLength="75.41" lengthAdjust="spacingAndGlyphs" >differentiation</text>
<path d="M226.3 466.7L227.5 466.7" fill="none" stroke="#333" stroke-width="0.4"/>
<text transform="translate(225.60 467.80) scale(0.25)" font-family="Liberation Sans" font-size="14.20" font-weight="normal" fill="#1a1a1a" text-anchor="end" textLength="95.23" lengthAdjust="spacingAndGlyphs" >Circadian rhythm</text>
<path d="M239.4 472.7L239.4 473.9" fill="none" stroke="#333" stroke-width="0.4"/>
<text transform="translate(239.40 478.50) scale(0.25)" font-family="Liberation Sans" font-size="14.80" font-weight="normal" fill="#333" text-anchor="middle" >0.06</text>
<path d="M254.8 472.7L254.8 473.9" fill="none" stroke="#333" stroke-width="0.4"/>
<text transform="translate(254.82 478.50) scale(0.25)" font-family="Liberation Sans" font-size="14.80" font-weight="normal" fill="#333" text-anchor="middle" >0.07</text>
<path d="M270.2 472.7L270.2 473.9" fill="none" stroke="#333" stroke-width="0.4"/>
<text transform="translate(270.24 478.50) scale(0.25)" font-family="Liberation Sans" font-size="14.80" font-weight="normal" fill="#333" text-anchor="middle" >0.08</text>
<path d="M285.7 472.7L285.7 473.9" fill="none" stroke="#333" stroke-width="0.4"/>
<text transform="translate(285.66 478.50) scale(0.25)" font-family="Liberation Sans" font-size="14.80" font-weight="normal" fill="#333" text-anchor="middle" >0.09</text>
<path d="M301.1 472.7L301.1 473.9" fill="none" stroke="#333" stroke-width="0.4"/>
<text transform="translate(301.08 478.50) scale(0.25)" font-family="Liberation Sans" font-size="14.80" font-weight="normal" fill="#333" text-anchor="middle" >0.10</text>
<path d="M316.5 472.7L316.5 473.9" fill="none" stroke="#333" stroke-width="0.4"/>
<text transform="translate(316.50 478.50) scale(0.25)" font-family="Liberation Sans" font-size="14.80" font-weight="normal" fill="#333" text-anchor="middle" >0.11</text>
<text transform="translate(275.00 482.00) scale(0.25)" font-family="Liberation Sans" font-size="16.40" font-weight="normal" fill="#222" text-anchor="middle" >GeneRatio</text>
<text transform="translate(227.90 363.60) scale(0.25)" font-family="Liberation Sans" font-size="18.80" font-weight="normal" fill="#222" text-anchor="start" textLength="313.60" lengthAdjust="spacingAndGlyphs" >TF&#8722;target genes Enrichment KEGG Top10</text>
<circle cx="317.7" cy="373.1" r="2.3" fill="#d0505e" stroke="#333" stroke-width="0.35"/>
<circle cx="296.5" cy="383.5" r="2.2" fill="#c8505e" stroke="#333" stroke-width="0.35"/>
<circle cx="296.5" cy="393.9" r="2.2" fill="#c8505e" stroke="#333" stroke-width="0.35"/>
<circle cx="296.5" cy="404.3" r="2.2" fill="#c8505e" stroke="#333" stroke-width="0.35"/>
<circle cx="296.5" cy="414.7" r="2.2" fill="#4a7fc0" stroke="#333" stroke-width="0.35"/>
<circle cx="274.6" cy="425.1" r="2.1" fill="#b84e64" stroke="#333" stroke-width="0.35"/>
<circle cx="274.6" cy="435.5" r="2.1" fill="#8a5a8e" stroke="#333" stroke-width="0.35"/>
<circle cx="253.9" cy="445.9" r="2" fill="#4a7fc0" stroke="#333" stroke-width="0.35"/>
<circle cx="253.9" cy="456.3" r="2" fill="#4a7fc0" stroke="#333" stroke-width="0.35"/>
<circle cx="232.2" cy="466.7" r="1.9" fill="#c04e60" stroke="#333" stroke-width="0.35"/>
<text transform="translate(327.90 384.00) scale(0.25)" font-family="Liberation Sans" font-size="17.60" font-weight="normal" fill="#222" text-anchor="start" >p.adjust</text>
<defs><linearGradient id="g5" x1="0" y1="0" x2="0" y2="1"><stop offset="0" stop-color="#d9545e"/><stop offset="0.5" stop-color="#8c5a8a"/><stop offset="1" stop-color="#4a80c0"/></linearGradient></defs>
<rect x="327.9" y="386.3" width="5.6" height="29.7" fill="url(#g5)"/>
<text transform="translate(335.20 393.80) scale(0.25)" font-family="Liberation Sans" font-size="14.80" font-weight="normal" fill="#333" text-anchor="start" >0.005</text>
<text transform="translate(335.20 402.10) scale(0.25)" font-family="Liberation Sans" font-size="14.80" font-weight="normal" fill="#333" text-anchor="start" >0.010</text>
<text transform="translate(335.20 410.30) scale(0.25)" font-family="Liberation Sans" font-size="14.80" font-weight="normal" fill="#333" text-anchor="start" >0.015</text>
<text transform="translate(327.90 427.00) scale(0.25)" font-family="Liberation Sans" font-size="17.60" font-weight="normal" fill="#222" text-anchor="start" >Count</text>
<circle cx="330.7" cy="432.6" r="1.5" fill="none" stroke="#333" stroke-width="0.4"/>
<text transform="translate(335.20 434.00) scale(0.25)" font-family="Liberation Sans" font-size="14.80" font-weight="normal" fill="#333" text-anchor="start" >4</text>
<circle cx="330.7" cy="438.2" r="1.7" fill="none" stroke="#333" stroke-width="0.4"/>
<text transform="translate(335.20 439.60) scale(0.25)" font-family="Liberation Sans" font-size="14.80" font-weight="normal" fill="#333" text-anchor="start" >5</text>
<circle cx="330.7" cy="444.5" r="1.9" fill="none" stroke="#333" stroke-width="0.4"/>
<text transform="translate(335.20 445.90) scale(0.25)" font-family="Liberation Sans" font-size="14.80" font-weight="normal" fill="#333" text-anchor="start" >6</text>
<circle cx="330.7" cy="450.2" r="2.0" fill="none" stroke="#333" stroke-width="0.4"/>
<text transform="translate(335.20 451.60) scale(0.25)" font-family="Liberation Sans" font-size="14.80" font-weight="normal" fill="#333" text-anchor="start" >7</text>
<circle cx="330.7" cy="456.4" r="2.2" fill="none" stroke="#333" stroke-width="0.4"/>
<text transform="translate(335.20 457.80) scale(0.25)" font-family="Liberation Sans" font-size="14.80" font-weight="normal" fill="#333" text-anchor="start" >8</text>
<rect x="552.80" y="366.90" width="96.40" height="106.70" fill="#ffffff"/>
<path d="M566.5 366.9L566.5 473.6M590.7 366.9L590.7 473.6M614.9 366.9L614.9 473.6M639.1 366.9L639.1 473.6" fill="none" stroke="#f3f3f3" stroke-width="0.35"/>
<path d="M554.4 366.9L554.4 473.6M578.6 366.9L578.6 473.6M602.8 366.9L602.8 473.6M627 366.9L627 473.6M552.8 372.9L649.2 372.9M552.8 383.4L649.2 383.4M552.8 393.9L649.2 393.9M552.8 404.4L649.2 404.4M552.8 414.9L649.2 414.9M552.8 425.4L649.2 425.4M552.8 436L649.2 436M552.8 446.5L649.2 446.5M552.8 457L649.2 457M552.8 467.5L649.2 467.5" fill="none" stroke="#e6e6e6" stroke-width="0.5"/>
<rect x="552.80" y="366.90" width="96.40" height="106.70" fill="none" stroke="#6a6a6a" stroke-width="0.5"/>
<path d="M551.6 372.9L552.8 372.9" fill="none" stroke="#333" stroke-width="0.4"/>
<text transform="translate(551.00 374.00) scale(0.25)" font-family="Liberation Sans" font-size="14.20" font-weight="normal" fill="#1a1a1a" text-anchor="end" textLength="112.76" lengthAdjust="spacingAndGlyphs" >Salmonella infection</text>
<path d="M551.6 383.4L552.8 383.4" fill="none" stroke="#333" stroke-width="0.4"/>
<text transform="translate(551.00 384.51) scale(0.25)" font-family="Liberation Sans" font-size="14.20" font-weight="normal" fill="#1a1a1a" text-anchor="end" textLength="102.95" lengthAdjust="spacingAndGlyphs" >Parkinson disease</text>
<path d="M551.6 393.9L552.8 393.9" fill="none" stroke="#333" stroke-width="0.4"/>
<text transform="translate(551.00 395.02) scale(0.25)" font-family="Liberation Sans" font-size="14.20" font-weight="normal" fill="#1a1a1a" text-anchor="end" textLength="139.37" lengthAdjust="spacingAndGlyphs" >Lipid and atherosclerosis</text>
<path d="M551.6 404.4L552.8 404.4" fill="none" stroke="#333" stroke-width="0.4"/>
<text transform="translate(551.00 405.53) scale(0.25)" font-family="Liberation Sans" font-size="14.20" font-weight="normal" fill="#e8202a" text-anchor="end" textLength="128.15" lengthAdjust="spacingAndGlyphs" >TNF signaling pathway</text>
<path d="M551.6 414.9L552.8 414.9" fill="none" stroke="#333" stroke-width="0.4"/>
<text transform="translate(551.00 414.09) scale(0.25)" font-family="Liberation Sans" font-size="14.20" font-weight="normal" fill="#1a1a1a" text-anchor="end" textLength="117.66" lengthAdjust="spacingAndGlyphs" >Protein processing in</text>
<text transform="translate(551.00 417.99) scale(0.25)" font-family="Liberation Sans" font-size="14.20" font-weight="normal" fill="#1a1a1a" text-anchor="end" textLength="125.35" lengthAdjust="spacingAndGlyphs" >endoplasmic reticulum</text>
<path d="M551.6 425.4L552.8 425.4" fill="none" stroke="#333" stroke-width="0.4"/>
<text transform="translate(551.00 426.55) scale(0.25)" font-family="Liberation Sans" font-size="14.20" font-weight="normal" fill="#e8202a" text-anchor="end" textLength="135.54" lengthAdjust="spacingAndGlyphs" >IL&#8722;17 signaling pathway</text>
<path d="M551.6 436L552.8 436" fill="none" stroke="#333" stroke-width="0.4"/>
<text transform="translate(551.00 437.06) scale(0.25)" font-family="Liberation Sans" font-size="14.20" font-weight="normal" fill="#1a1a1a" text-anchor="end" textLength="55.33" lengthAdjust="spacingAndGlyphs" >Apoptosis</text>
<path d="M551.6 446.5L552.8 446.5" fill="none" stroke="#333" stroke-width="0.4"/>
<text transform="translate(551.00 447.57) scale(0.25)" font-family="Liberation Sans" font-size="14.20" font-weight="normal" fill="#1a1a1a" text-anchor="end" textLength="138.44" lengthAdjust="spacingAndGlyphs" >Osteoclast differentiation</text>
<path d="M551.6 457L552.8 457" fill="none" stroke="#333" stroke-width="0.4"/>
<text transform="translate(551.00 458.08) scale(0.25)" font-family="Liberation Sans" font-size="14.20" font-weight="normal" fill="#1a1a1a" text-anchor="end" textLength="56.72" lengthAdjust="spacingAndGlyphs" >Ribosome</text>
<path d="M551.6 467.5L552.8 467.5" fill="none" stroke="#333" stroke-width="0.4"/>
<text transform="translate(551.00 466.64) scale(0.25)" font-family="Liberation Sans" font-size="14.20" font-weight="normal" fill="#1a1a1a" text-anchor="end" textLength="140.08" lengthAdjust="spacingAndGlyphs" >Epithelial cell signaling in</text>
<text transform="translate(551.00 470.54) scale(0.25)" font-family="Liberation Sans" font-size="14.20" font-weight="normal" fill="#1a1a1a" text-anchor="end" textLength="154.06" lengthAdjust="spacingAndGlyphs" >Helicobacter pylori infection</text>
<path d="M554.4 473.6L554.4 474.8" fill="none" stroke="#333" stroke-width="0.4"/>
<text transform="translate(554.40 479.40) scale(0.25)" font-family="Liberation Sans" font-size="14.80" font-weight="normal" fill="#333" text-anchor="middle" >0.05</text>
<path d="M578.6 473.6L578.6 474.8" fill="none" stroke="#333" stroke-width="0.4"/>
<text transform="translate(578.60 479.40) scale(0.25)" font-family="Liberation Sans" font-size="14.80" font-weight="normal" fill="#333" text-anchor="middle" >0.07</text>
<path d="M602.8 473.6L602.8 474.8" fill="none" stroke="#333" stroke-width="0.4"/>
<text transform="translate(602.80 479.40) scale(0.25)" font-family="Liberation Sans" font-size="14.80" font-weight="normal" fill="#333" text-anchor="middle" >0.09</text>
<path d="M627 473.6L627 474.8" fill="none" stroke="#333" stroke-width="0.4"/>
<text transform="translate(627.00 479.40) scale(0.25)" font-family="Liberation Sans" font-size="14.80" font-weight="normal" fill="#333" text-anchor="middle" >0.11</text>
<text transform="translate(599.70 482.90) scale(0.25)" font-family="Liberation Sans" font-size="16.40" font-weight="normal" fill="#222" text-anchor="middle" >GeneRatio</text>
<text transform="translate(553.00 363.60) scale(0.25)" font-family="Liberation Sans" font-size="18.80" font-weight="normal" fill="#222" text-anchor="start" textLength="307.20" lengthAdjust="spacingAndGlyphs" >TF&#8722;target genes Enrichment KEGG Top10</text>
<circle cx="644.5" cy="372.9" r="2.3" fill="#c85060" stroke="#333" stroke-width="0.35"/>
<circle cx="619.7" cy="383.4" r="2.2" fill="#a05670" stroke="#333" stroke-width="0.35"/>
<circle cx="606.4" cy="393.9" r="2.2" fill="#a05670" stroke="#333" stroke-width="0.35"/>
<circle cx="594.3" cy="404.4" r="2.2" fill="#c05062" stroke="#333" stroke-width="0.35"/>
<circle cx="594.3" cy="414.9" r="2.2" fill="#a85a72" stroke="#333" stroke-width="0.35"/>
<circle cx="582.2" cy="425.4" r="2.2" fill="#c85060" stroke="#333" stroke-width="0.35"/>
<circle cx="582.2" cy="436" r="2.2" fill="#b05868" stroke="#333" stroke-width="0.35"/>
<circle cx="582.2" cy="446.5" r="2.2" fill="#a85a72" stroke="#333" stroke-width="0.35"/>
<circle cx="582.2" cy="457" r="2.2" fill="#4a7cc0" stroke="#333" stroke-width="0.35"/>
<circle cx="556.8" cy="467.5" r="2.1" fill="#a05878" stroke="#333" stroke-width="0.35"/>
<text transform="translate(654.00 387.00) scale(0.25)" font-family="Liberation Sans" font-size="17.60" font-weight="normal" fill="#222" text-anchor="start" >p.adjust</text>
<defs><linearGradient id="g6" x1="0" y1="0" x2="0" y2="1"><stop offset="0" stop-color="#d9545e"/><stop offset="0.5" stop-color="#8c5a8a"/><stop offset="1" stop-color="#4a80c0"/></linearGradient></defs>
<rect x="654.0" y="388.9" width="5.5" height="30.5" fill="url(#g6)"/>
<text transform="translate(661.40 394.80) scale(0.25)" font-family="Liberation Sans" font-size="14.80" font-weight="normal" fill="#333" text-anchor="start" >0.01</text>
<text transform="translate(661.40 400.90) scale(0.25)" font-family="Liberation Sans" font-size="14.80" font-weight="normal" fill="#333" text-anchor="start" >0.02</text>
<text transform="translate(661.40 407.80) scale(0.25)" font-family="Liberation Sans" font-size="14.80" font-weight="normal" fill="#333" text-anchor="start" >0.03</text>
<text transform="translate(661.40 414.50) scale(0.25)" font-family="Liberation Sans" font-size="14.80" font-weight="normal" fill="#333" text-anchor="start" >0.04</text>
<text transform="translate(654.00 430.80) scale(0.25)" font-family="Liberation Sans" font-size="17.60" font-weight="normal" fill="#222" text-anchor="start" >Count</text>
<circle cx="656.7" cy="435.2" r="1.6" fill="none" stroke="#333" stroke-width="0.4"/>
<text transform="translate(661.40 436.60) scale(0.25)" font-family="Liberation Sans" font-size="14.80" font-weight="normal" fill="#333" text-anchor="start" >6</text>
<circle cx="656.7" cy="441.4" r="1.8" fill="none" stroke="#333" stroke-width="0.4"/>
<text transform="translate(661.40 442.80) scale(0.25)" font-family="Liberation Sans" font-size="14.80" font-weight="normal" fill="#333" text-anchor="start" >8</text>
<circle cx="656.7" cy="447.9" r="2.0" fill="none" stroke="#333" stroke-width="0.4"/>
<text transform="translate(661.40 449.30) scale(0.25)" font-family="Liberation Sans" font-size="14.80" font-weight="normal" fill="#333" text-anchor="start" >10</text>
<circle cx="656.7" cy="454.0" r="2.2" fill="none" stroke="#333" stroke-width="0.4"/>
<text transform="translate(661.40 455.40) scale(0.25)" font-family="Liberation Sans" font-size="14.80" font-weight="normal" fill="#333" text-anchor="start" >12</text>
<path d="M49.2 134.7L76.2 136.2M49.2 134.7L30 154.1M49.2 134.7L30.9 179.5M49.2 134.7L49.6 196.5M49.2 134.7L81.6 196.5M76.2 136.2L30 154.1M76.2 136.2L49.6 159.9M76.2 136.2L30.9 179.5M76.2 136.2L64 178.9M76.2 136.2L81.6 196.5M30 154.1L49.6 159.9M30 154.1L73.3 161M30 154.1L93.5 165.7M30 154.1L49.6 196.5M49.6 159.9L73.3 161M49.6 159.9L64 178.9M49.6 159.9L81.6 196.5M73.3 161L93.5 165.7M73.3 161L30.9 179.5M73.3 161L49.6 196.5M73.3 161L81.6 196.5M93.5 165.7L49.6 196.5M93.5 165.7L81.6 196.5M30.9 179.5L81.6 196.5M64 178.9L49.6 196.5M49.6 196.5L81.6 196.5" fill="none" stroke="#979797" stroke-width="0.42"/>
<circle cx="49.2" cy="134.7" r="8.9" fill="#ec8428"/>
<circle cx="76.2" cy="136.2" r="8.9" fill="#eaa630"/>
<circle cx="30" cy="154.1" r="8.9" fill="#e8c430"/>
<circle cx="49.6" cy="159.9" r="8.9" fill="#f25e1e"/>
<circle cx="73.3" cy="161" r="8.9" fill="#f8201a"/>
<circle cx="93.5" cy="165.7" r="8.9" fill="#eae63a"/>
<circle cx="30.9" cy="179.5" r="8.9" fill="#ec8428"/>
<circle cx="64" cy="178.9" r="8.9" fill="#f4401c"/>
<circle cx="49.6" cy="196.5" r="8.9" fill="#f25e1e"/>
<circle cx="81.6" cy="196.5" r="8.9" fill="#f4401c"/>
<text transform="translate(49.20 136.46) scale(0.25)" font-family="Liberation Sans" font-size="19.60" font-weight="normal" fill="#3a1a10" text-anchor="middle" >KLF6</text>
<text transform="translate(76.20 137.96) scale(0.25)" font-family="Liberation Sans" font-size="19.60" font-weight="normal" fill="#3a1a10" text-anchor="middle" >REL</text>
<text transform="translate(30.00 155.86) scale(0.25)" font-family="Liberation Sans" font-size="19.60" font-weight="normal" fill="#3a1a10" text-anchor="middle" >NFKBIZ</text>
<text transform="translate(49.60 161.66) scale(0.25)" font-family="Liberation Sans" font-size="19.60" font-weight="normal" fill="#3a1a10" text-anchor="middle" >JUNB</text>
<text transform="translate(73.30 162.76) scale(0.25)" font-family="Liberation Sans" font-size="19.60" font-weight="normal" fill="#3a1a10" text-anchor="middle" >FOS</text>
<text transform="translate(93.50 167.46) scale(0.25)" font-family="Liberation Sans" font-size="19.60" font-weight="normal" fill="#3a1a10" text-anchor="middle" >CXCR4</text>
<text transform="translate(30.90 181.26) scale(0.25)" font-family="Liberation Sans" font-size="19.60" font-weight="normal" fill="#3a1a10" text-anchor="middle" >ZFP36</text>
<text transform="translate(64.00 180.66) scale(0.25)" font-family="Liberation Sans" font-size="19.60" font-weight="normal" fill="#3a1a10" text-anchor="middle" >NFKBIA</text>
<text transform="translate(49.60 198.26) scale(0.25)" font-family="Liberation Sans" font-size="19.60" font-weight="normal" fill="#3a1a10" text-anchor="middle" >DUSP1</text>
<text transform="translate(81.60 198.26) scale(0.25)" font-family="Liberation Sans" font-size="19.60" font-weight="normal" fill="#3a1a10" text-anchor="middle" >STAT1</text>
<path d="M149.6 131L181 137.6M149.6 131L128.5 146.5M149.6 131L123.1 169.8M149.6 131L186.8 182.6M149.6 131L135.5 190.9M149.6 131L164.5 196M181 137.6L160.3 152.7M181 137.6L123.1 169.8M181 137.6L157.4 173.3M181 137.6L186.8 182.6M181 137.6L164.5 196M128.5 146.5L160.3 152.7M128.5 146.5L191.9 159.9M128.5 146.5L157.4 173.3M128.5 146.5L186.8 182.6M128.5 146.5L135.5 190.9M128.5 146.5L164.5 196M160.3 152.7L191.9 159.9M160.3 152.7L164.5 196M191.9 159.9L123.1 169.8M191.9 159.9L157.4 173.3M191.9 159.9L186.8 182.6M191.9 159.9L164.5 196M123.1 169.8L157.4 173.3M123.1 169.8L186.8 182.6M123.1 169.8L135.5 190.9M123.1 169.8L164.5 196M157.4 173.3L135.5 190.9M157.4 173.3L164.5 196M186.8 182.6L135.5 190.9M186.8 182.6L164.5 196M135.5 190.9L164.5 196" fill="none" stroke="#979797" stroke-width="0.42"/>
<circle cx="149.6" cy="131" r="8.9" fill="#ec7020"/>
<circle cx="181" cy="137.6" r="8.9" fill="#f8201a"/>
<circle cx="128.5" cy="146.5" r="8.9" fill="#eae63a"/>
<circle cx="160.3" cy="152.7" r="8.9" fill="#f8201a"/>
<circle cx="191.9" cy="159.9" r="8.9" fill="#f8201a"/>
<circle cx="123.1" cy="169.8" r="8.9" fill="#f8201a"/>
<circle cx="157.4" cy="173.3" r="8.9" fill="#f8201a"/>
<circle cx="186.8" cy="182.6" r="8.9" fill="#eae63a"/>
<circle cx="135.5" cy="190.9" r="8.9" fill="#f8201a"/>
<circle cx="164.5" cy="196" r="8.9" fill="#eae63a"/>
<text transform="translate(149.60 132.76) scale(0.25)" font-family="Liberation Sans" font-size="19.60" font-weight="normal" fill="#3a1a10" text-anchor="middle" >TYROBP</text>
<text transform="translate(181.00 139.36) scale(0.25)" font-family="Liberation Sans" font-size="19.60" font-weight="normal" fill="#3a1a10" text-anchor="middle" >FCGR3A</text>
<text transform="translate(128.50 148.26) scale(0.25)" font-family="Liberation Sans" font-size="19.60" font-weight="normal" fill="#3a1a10" text-anchor="middle" >NKG7</text>
<text transform="translate(160.30 154.46) scale(0.25)" font-family="Liberation Sans" font-size="19.60" font-weight="normal" fill="#3a1a10" text-anchor="middle" >GZMB</text>
<text transform="translate(191.90 161.66) scale(0.25)" font-family="Liberation Sans" font-size="19.60" font-weight="normal" fill="#3a1a10" text-anchor="middle" >CCL5</text>
<text transform="translate(123.10 171.56) scale(0.25)" font-family="Liberation Sans" font-size="19.60" font-weight="normal" fill="#3a1a10" text-anchor="middle" >PRF1</text>
<text transform="translate(157.40 175.06) scale(0.25)" font-family="Liberation Sans" font-size="19.60" font-weight="normal" fill="#3a1a10" text-anchor="middle" >CCL4</text>
<text transform="translate(186.80 184.36) scale(0.25)" font-family="Liberation Sans" font-size="19.60" font-weight="normal" fill="#3a1a10" text-anchor="middle" >NCR3</text>
<text transform="translate(135.50 192.66) scale(0.25)" font-family="Liberation Sans" font-size="19.60" font-weight="normal" fill="#3a1a10" text-anchor="middle" >CD69</text>
<text transform="translate(164.50 197.76) scale(0.25)" font-family="Liberation Sans" font-size="19.60" font-weight="normal" fill="#3a1a10" text-anchor="middle" >KLRD1</text>
<path d="M244.6 131L277.2 143.4M244.6 131L219.8 149.2M244.6 131L245.6 154.8M244.6 131L220.2 170.2M244.6 131L258 174.4M244.6 131L235.3 188.4M244.6 131L287.6 185.7M244.6 131L259 196M277.2 143.4L219.8 149.2M277.2 143.4L245.6 154.8M277.2 143.4L281.4 166.1M277.2 143.4L235.3 188.4M277.2 143.4L287.6 185.7M277.2 143.4L259 196M219.8 149.2L220.2 170.2M219.8 149.2L258 174.4M219.8 149.2L235.3 188.4M219.8 149.2L287.6 185.7M219.8 149.2L259 196M245.6 154.8L281.4 166.1M245.6 154.8L287.6 185.7M245.6 154.8L259 196M281.4 166.1L220.2 170.2M281.4 166.1L235.3 188.4M281.4 166.1L259 196M220.2 170.2L258 174.4M220.2 170.2L287.6 185.7M220.2 170.2L259 196M258 174.4L235.3 188.4M258 174.4L259 196M235.3 188.4L287.6 185.7M235.3 188.4L259 196" fill="none" stroke="#979797" stroke-width="0.42"/>
<circle cx="244.6" cy="131" r="8.9" fill="#ec7624"/>
<circle cx="277.2" cy="143.4" r="8.9" fill="#ec7624"/>
<circle cx="219.8" cy="149.2" r="8.9" fill="#eaa630"/>
<circle cx="245.6" cy="154.8" r="8.9" fill="#f4401c"/>
<circle cx="281.4" cy="166.1" r="8.9" fill="#f8201a"/>
<circle cx="220.2" cy="170.2" r="8.9" fill="#ec8a2a"/>
<circle cx="258" cy="174.4" r="8.9" fill="#f4401c"/>
<circle cx="235.3" cy="188.4" r="8.9" fill="#f25e1e"/>
<circle cx="287.6" cy="185.7" r="8.9" fill="#e8c430"/>
<circle cx="259" cy="196" r="8.9" fill="#eae63a"/>
<text transform="translate(244.60 132.76) scale(0.25)" font-family="Liberation Sans" font-size="19.60" font-weight="normal" fill="#3a1a10" text-anchor="middle" >PPP1R15A</text>
<text transform="translate(277.20 145.16) scale(0.25)" font-family="Liberation Sans" font-size="19.60" font-weight="normal" fill="#3a1a10" text-anchor="middle" >KLF6</text>
<text transform="translate(219.80 150.96) scale(0.25)" font-family="Liberation Sans" font-size="19.60" font-weight="normal" fill="#3a1a10" text-anchor="middle" >TNFAIP3</text>
<text transform="translate(245.60 156.56) scale(0.25)" font-family="Liberation Sans" font-size="19.60" font-weight="normal" fill="#3a1a10" text-anchor="middle" >DUSP1</text>
<text transform="translate(281.40 167.86) scale(0.25)" font-family="Liberation Sans" font-size="19.60" font-weight="normal" fill="#3a1a10" text-anchor="middle" >FOS</text>
<text transform="translate(220.20 171.96) scale(0.25)" font-family="Liberation Sans" font-size="19.60" font-weight="normal" fill="#3a1a10" text-anchor="middle" >ZFP36</text>
<text transform="translate(258.00 176.16) scale(0.25)" font-family="Liberation Sans" font-size="19.60" font-weight="normal" fill="#3a1a10" text-anchor="middle" >NFKBIA</text>
<text transform="translate(235.30 190.16) scale(0.25)" font-family="Liberation Sans" font-size="19.60" font-weight="normal" fill="#3a1a10" text-anchor="middle" >JUNB</text>
<text transform="translate(287.60 187.46) scale(0.25)" font-family="Liberation Sans" font-size="19.60" font-weight="normal" fill="#3a1a10" text-anchor="middle" >JUND</text>
<text transform="translate(259.00 197.76) scale(0.25)" font-family="Liberation Sans" font-size="19.60" font-weight="normal" fill="#3a1a10" text-anchor="middle" >H3-3B</text>
<path d="M323.9 136.8L371.9 139.7M323.9 136.8L381.8 161M323.9 136.8L317.7 178.9M323.9 136.8L377.6 181M323.9 136.8L338.4 194M323.9 136.8L363.2 194.6M349.1 132L347.7 161M349.1 132L381.8 161M349.1 132L317.7 178.9M349.1 132L338.4 194M349.1 132L363.2 194.6M371.9 139.7L315.7 156.2M371.9 139.7L347.7 161M371.9 139.7L381.8 161M371.9 139.7L317.7 178.9M371.9 139.7L377.6 181M315.7 156.2L347.7 161M315.7 156.2L317.7 178.9M315.7 156.2L338.4 194M315.7 156.2L363.2 194.6M347.7 161L381.8 161M347.7 161L377.6 181M347.7 161L338.4 194M347.7 161L363.2 194.6M381.8 161L317.7 178.9M381.8 161L377.6 181M317.7 178.9L338.4 194M377.6 181L338.4 194M377.6 181L363.2 194.6M338.4 194L363.2 194.6" fill="none" stroke="#979797" stroke-width="0.42"/>
<circle cx="323.9" cy="136.8" r="8.9" fill="#eae63a"/>
<circle cx="349.1" cy="132" r="8.9" fill="#ec7624"/>
<circle cx="371.9" cy="139.7" r="8.9" fill="#f4401c"/>
<circle cx="315.7" cy="156.2" r="8.9" fill="#eaa630"/>
<circle cx="347.7" cy="161" r="8.9" fill="#f8201a"/>
<circle cx="381.8" cy="161" r="8.9" fill="#ec8a2a"/>
<circle cx="317.7" cy="178.9" r="8.9" fill="#f4401c"/>
<circle cx="377.6" cy="181" r="8.9" fill="#f25e1e"/>
<circle cx="338.4" cy="194" r="8.9" fill="#f8201a"/>
<circle cx="363.2" cy="194.6" r="8.9" fill="#e8c430"/>
<text transform="translate(323.90 138.56) scale(0.25)" font-family="Liberation Sans" font-size="19.60" font-weight="normal" fill="#3a1a10" text-anchor="middle" >H3-3B</text>
<text transform="translate(349.10 133.76) scale(0.25)" font-family="Liberation Sans" font-size="19.60" font-weight="normal" fill="#3a1a10" text-anchor="middle" >PPP1R15A</text>
<text transform="translate(371.90 141.46) scale(0.25)" font-family="Liberation Sans" font-size="19.60" font-weight="normal" fill="#3a1a10" text-anchor="middle" >DUSP1</text>
<text transform="translate(315.70 157.96) scale(0.25)" font-family="Liberation Sans" font-size="19.60" font-weight="normal" fill="#3a1a10" text-anchor="middle" >TNFAIP3</text>
<text transform="translate(347.70 162.76) scale(0.25)" font-family="Liberation Sans" font-size="19.60" font-weight="normal" fill="#3a1a10" text-anchor="middle" >FOS</text>
<text transform="translate(381.80 162.76) scale(0.25)" font-family="Liberation Sans" font-size="19.60" font-weight="normal" fill="#3a1a10" text-anchor="middle" >ZFP36</text>
<text transform="translate(317.70 180.66) scale(0.25)" font-family="Liberation Sans" font-size="19.60" font-weight="normal" fill="#3a1a10" text-anchor="middle" >NFKBIA</text>
<text transform="translate(377.60 182.76) scale(0.25)" font-family="Liberation Sans" font-size="19.60" font-weight="normal" fill="#3a1a10" text-anchor="middle" >JUNB</text>
<text transform="translate(338.40 195.76) scale(0.25)" font-family="Liberation Sans" font-size="19.60" font-weight="normal" fill="#3a1a10" text-anchor="middle" >JUN</text>
<text transform="translate(363.20 196.36) scale(0.25)" font-family="Liberation Sans" font-size="19.60" font-weight="normal" fill="#3a1a10" text-anchor="middle" >CD69</text>
<path d="M447.7 130.6L413.2 163M447.7 130.6L479.7 164.5M447.7 130.6L440 194M447.7 130.6L469.4 191.9M421.9 143L438.4 154.8M421.9 143L479.7 164.5M421.9 143L440 194M421.9 143L469.4 191.9M469.4 144.4L438.4 154.8M469.4 144.4L456.6 171.9M469.4 144.4L426 182.6M469.4 144.4L440 194M469.4 144.4L469.4 191.9M438.4 154.8L413.2 163M438.4 154.8L479.7 164.5M438.4 154.8L456.6 171.9M438.4 154.8L426 182.6M413.2 163L479.7 164.5M413.2 163L456.6 171.9M413.2 163L440 194M479.7 164.5L456.6 171.9M479.7 164.5L440 194M456.6 171.9L440 194M440 194L469.4 191.9" fill="none" stroke="#979797" stroke-width="0.42"/>
<circle cx="447.7" cy="130.6" r="8.9" fill="#f25e1e"/>
<circle cx="421.9" cy="143" r="8.9" fill="#eb9028"/>
<circle cx="469.4" cy="144.4" r="8.9" fill="#f8201a"/>
<circle cx="438.4" cy="154.8" r="8.9" fill="#f8201a"/>
<circle cx="413.2" cy="163" r="8.9" fill="#f8201a"/>
<circle cx="479.7" cy="164.5" r="8.9" fill="#f8201a"/>
<circle cx="456.6" cy="171.9" r="8.9" fill="#f8201a"/>
<circle cx="426" cy="182.6" r="8.9" fill="#f25e1e"/>
<circle cx="440" cy="194" r="8.9" fill="#eae63a"/>
<circle cx="469.4" cy="191.9" r="8.9" fill="#eae63a"/>
<text transform="translate(447.70 132.36) scale(0.25)" font-family="Liberation Sans" font-size="19.60" font-weight="normal" fill="#3a1a10" text-anchor="middle" >FOSB</text>
<text transform="translate(421.90 144.76) scale(0.25)" font-family="Liberation Sans" font-size="19.60" font-weight="normal" fill="#3a1a10" text-anchor="middle" >PPP1R15A</text>
<text transform="translate(469.40 146.16) scale(0.25)" font-family="Liberation Sans" font-size="19.60" font-weight="normal" fill="#3a1a10" text-anchor="middle" >DUSP1</text>
<text transform="translate(438.40 156.56) scale(0.25)" font-family="Liberation Sans" font-size="19.60" font-weight="normal" fill="#3a1a10" text-anchor="middle" >JUNB</text>
<text transform="translate(413.20 164.76) scale(0.25)" font-family="Liberation Sans" font-size="19.60" font-weight="normal" fill="#3a1a10" text-anchor="middle" >NFKBIA</text>
<text transform="translate(479.70 166.26) scale(0.25)" font-family="Liberation Sans" font-size="19.60" font-weight="normal" fill="#3a1a10" text-anchor="middle" >FOS</text>
<text transform="translate(456.60 173.66) scale(0.25)" font-family="Liberation Sans" font-size="19.60" font-weight="normal" fill="#3a1a10" text-anchor="middle" >KLF6</text>
<text transform="translate(426.00 184.36) scale(0.25)" font-family="Liberation Sans" font-size="19.60" font-weight="normal" fill="#3a1a10" text-anchor="middle" >ZFP36</text>
<text transform="translate(440.00 195.76) scale(0.25)" font-family="Liberation Sans" font-size="19.60" font-weight="normal" fill="#3a1a10" text-anchor="middle" >JUND</text>
<text transform="translate(469.40 193.66) scale(0.25)" font-family="Liberation Sans" font-size="19.60" font-weight="normal" fill="#3a1a10" text-anchor="middle" >IRF1</text>
<path d="M524.1 128.5L571.6 134.7M524.1 128.5L549.9 156.8M524.1 128.5L524.1 181.6M524.1 128.5L564 181.6M524.1 128.5L544.8 195M551 127.9L507 159.9M551 127.9L549.9 156.8M551 127.9L577.8 162M551 127.9L524.1 181.6M551 127.9L564 181.6M551 127.9L544.8 195M571.6 134.7L549.9 156.8M571.6 134.7L524.1 181.6M507 159.9L529.3 154.8M507 159.9L549.9 156.8M507 159.9L544.8 195M549.9 156.8L524.1 181.6M549.9 156.8L564 181.6M549.9 156.8L544.8 195M524.1 181.6L564 181.6M524.1 181.6L544.8 195" fill="none" stroke="#979797" stroke-width="0.42"/>
<circle cx="524.1" cy="128.5" r="8.9" fill="#f8201a"/>
<circle cx="551" cy="127.9" r="8.9" fill="#ec7624"/>
<circle cx="571.6" cy="134.7" r="8.9" fill="#eaa032"/>
<circle cx="507" cy="159.9" r="8.9" fill="#e8b430"/>
<circle cx="529.3" cy="154.8" r="8.9" fill="#eae63a"/>
<circle cx="549.9" cy="156.8" r="8.9" fill="#f8201a"/>
<circle cx="577.8" cy="162" r="8.9" fill="#f25e1e"/>
<circle cx="524.1" cy="181.6" r="8.9" fill="#f8201a"/>
<circle cx="564" cy="181.6" r="8.9" fill="#f8201a"/>
<circle cx="544.8" cy="195" r="8.9" fill="#f8201a"/>
<text transform="translate(524.10 130.26) scale(0.25)" font-family="Liberation Sans" font-size="19.60" font-weight="normal" fill="#3a1a10" text-anchor="middle" >JUN</text>
<text transform="translate(551.00 129.66) scale(0.25)" font-family="Liberation Sans" font-size="19.60" font-weight="normal" fill="#3a1a10" text-anchor="middle" >CCL5</text>
<text transform="translate(571.60 136.46) scale(0.25)" font-family="Liberation Sans" font-size="19.60" font-weight="normal" fill="#3a1a10" text-anchor="middle" >DUSP1</text>
<text transform="translate(507.00 161.66) scale(0.25)" font-family="Liberation Sans" font-size="19.60" font-weight="normal" fill="#3a1a10" text-anchor="middle" >CXCR4</text>
<text transform="translate(529.30 156.56) scale(0.25)" font-family="Liberation Sans" font-size="19.60" font-weight="normal" fill="#3a1a10" text-anchor="middle" >KLF6</text>
<text transform="translate(549.90 158.56) scale(0.25)" font-family="Liberation Sans" font-size="19.60" font-weight="normal" fill="#3a1a10" text-anchor="middle" >STAT3</text>
<text transform="translate(577.80 163.76) scale(0.25)" font-family="Liberation Sans" font-size="19.60" font-weight="normal" fill="#3a1a10" text-anchor="middle" >JUNB</text>
<text transform="translate(524.10 183.36) scale(0.25)" font-family="Liberation Sans" font-size="19.60" font-weight="normal" fill="#3a1a10" text-anchor="middle" >TNFAIP3</text>
<text transform="translate(564.00 183.36) scale(0.25)" font-family="Liberation Sans" font-size="19.60" font-weight="normal" fill="#3a1a10" text-anchor="middle" >NFKBIA</text>
<text transform="translate(544.80 196.76) scale(0.25)" font-family="Liberation Sans" font-size="19.60" font-weight="normal" fill="#3a1a10" text-anchor="middle" >FOS</text>
<path d="M630 127.9L673.4 154.1M630 127.9L628.4 171.3M630 127.9L646 196M654.8 130L673.4 154.1M654.8 130L649 158.3M654.8 130L618 194.6M654.8 130L646 196M610.2 142.4L673.4 154.1M610.2 142.4L649 158.3M610.2 142.4L602.6 166.5M610.2 142.4L628.4 171.3M610.2 142.4L665.6 182.6M610.2 142.4L646 196M673.4 154.1L649 158.3M673.4 154.1L602.6 166.5M673.4 154.1L665.6 182.6M673.4 154.1L618 194.6M649 158.3L602.6 166.5M649 158.3L628.4 171.3M649 158.3L665.6 182.6M649 158.3L618 194.6M649 158.3L646 196M602.6 166.5L628.4 171.3M602.6 166.5L665.6 182.6M602.6 166.5L618 194.6M602.6 166.5L646 196M628.4 171.3L665.6 182.6M628.4 171.3L646 196M665.6 182.6L618 194.6M665.6 182.6L646 196M618 194.6L646 196" fill="none" stroke="#979797" stroke-width="0.42"/>
<circle cx="630" cy="127.9" r="8.9" fill="#f25e1e"/>
<circle cx="654.8" cy="130" r="8.9" fill="#f4401c"/>
<circle cx="610.2" cy="142.4" r="8.9" fill="#f8201a"/>
<circle cx="673.4" cy="154.1" r="8.9" fill="#e8c430"/>
<circle cx="649" cy="158.3" r="8.9" fill="#eb9228"/>
<circle cx="602.6" cy="166.5" r="8.9" fill="#f25e1e"/>
<circle cx="628.4" cy="171.3" r="8.9" fill="#ec8628"/>
<circle cx="665.6" cy="182.6" r="8.9" fill="#eaa630"/>
<circle cx="618" cy="194.6" r="8.9" fill="#f8201a"/>
<circle cx="646" cy="196" r="8.9" fill="#eae63a"/>
<text transform="translate(630.00 129.66) scale(0.25)" font-family="Liberation Sans" font-size="19.60" font-weight="normal" fill="#3a1a10" text-anchor="middle" >CEBPB</text>
<text transform="translate(654.80 131.76) scale(0.25)" font-family="Liberation Sans" font-size="19.60" font-weight="normal" fill="#3a1a10" text-anchor="middle" >FOS</text>
<text transform="translate(610.20 144.16) scale(0.25)" font-family="Liberation Sans" font-size="19.60" font-weight="normal" fill="#3a1a10" text-anchor="middle" >JUN</text>
<text transform="translate(673.40 155.86) scale(0.25)" font-family="Liberation Sans" font-size="19.60" font-weight="normal" fill="#3a1a10" text-anchor="middle" >SNRPA</text>
<text transform="translate(649.00 160.06) scale(0.25)" font-family="Liberation Sans" font-size="19.60" font-weight="normal" fill="#3a1a10" text-anchor="middle" >DUSP1</text>
<text transform="translate(602.60 168.26) scale(0.25)" font-family="Liberation Sans" font-size="19.60" font-weight="normal" fill="#3a1a10" text-anchor="middle" >STAT3</text>
<text transform="translate(628.40 173.06) scale(0.25)" font-family="Liberation Sans" font-size="19.60" font-weight="normal" fill="#3a1a10" text-anchor="middle" >JUNB</text>
<text transform="translate(665.60 184.36) scale(0.25)" font-family="Liberation Sans" font-size="19.60" font-weight="normal" fill="#3a1a10" text-anchor="middle" >JUND</text>
<text transform="translate(618.00 196.36) scale(0.25)" font-family="Liberation Sans" font-size="19.60" font-weight="normal" fill="#3a1a10" text-anchor="middle" >NFKBIA</text>
<text transform="translate(646.00 197.76) scale(0.25)" font-family="Liberation Sans" font-size="19.60" font-weight="normal" fill="#3a1a10" text-anchor="middle" >SRSF5</text>
<ellipse cx="63.5" cy="55.5" rx="34" ry="32" fill="#ececec"/>
<path d="M63.6 42L42.7 48.6M72.7 85.7L74.1 36.7M46.3 19.7L63 95M22.6 57.8L95.3 30.5M41.6 57.9L54.6 64.3M54.1 93.9L88.8 75.3M82.1 20.3L75.3 17.7M100.8 71.9L63 95M93.1 68.6L86.8 33.5M72.2 75.3L102.2 42.6M72.5 94L84.8 89.3M46.3 19.7L82 81.4M44.2 30.1L81.3 42.9M57.3 44.7L22.6 57.8M40.8 88.4L38.3 35.6M23.1 48.7L72.2 75.3M34.6 69.9L74.1 36.7M67.8 43.8L23.1 48.7M75.4 51.7L91.8 84.1M100.8 71.9L45.2 67.4M33.8 42.7L56.1 86.2M91.8 84.1L100.8 71.9M63.6 42L54.1 93.9M41.6 57.9L63 95M56.1 86.2L46.6 82.4M23.1 48.7L54.1 93.9M54.1 93.9L72.2 75.3M73.7 62.7L44.2 30.1M84.8 89.3L22.6 57.8M31.6 61.5L33.8 42.7M47.7 92L45.2 67.4M54.1 93.9L92.4 41.1M97.4 77.7L47.8 40.4M57.3 44.7L103 66M74.7 61.1L53.2 25.6M53.2 25.6L67.8 43.8M103 66L64.5 54.6M54.1 93.9L47.7 92M40.8 88.4L26.6 72.7M104 49.7L92.4 41.1M34.6 69.9L62 24M67.8 43.8L61.6 76.9M79.8 70L52.3 74M73.7 62.7L47.7 92M74.1 36.7L65.9 34.1M97.4 77.7L56.1 86.2M63.6 42L40.8 88.4M41.6 57.9L100.8 71.9M95.3 30.5L26.6 72.7M47.8 40.4L52.4 62.1M42.7 48.6L104 49.7M103 66L44.2 30.1M65.2 87L24.5 43.3M52.4 62.1L66.8 16.1M74.1 36.7L37.7 24.8M31.6 61.5L79.8 70M47.8 40.4L98.6 35.1M40 77.3L80.8 28.8M104 49.7L66.8 16.1M84.6 61.6L66.8 16.1M82.1 20.3L62 24M88.6 24.3L67.8 43.8M46.6 82.4L75.3 17.7M47.8 40.4L31.3 51.1M84.8 89.3L63 95M88.8 75.3L37.7 24.8M26.6 72.7L72.2 75.3M45.2 67.4L88.8 75.3M82.1 20.3L86.8 33.5M53.2 25.6L74.1 36.7M47.8 40.4L46.6 82.4M74.7 61.1L72.2 75.3M40 77.3L54.1 93.9M91.8 84.1L88.8 75.3M64.5 54.6L84.8 89.3M88.8 75.3L57.3 44.7M33.8 42.7L56.1 86.2M51.1 54L100.8 71.9M23.1 48.7L80.8 28.8M61.6 76.9L60.5 16.1M97.4 77.7L93.1 68.6M98.6 35.1L24.5 43.3M78.8 92.1L26.6 72.7M72.2 75.3L30.9 79.4M85.4 53.1L44.2 30.1M54.1 93.9L66.8 16.1M66.8 16.1L45.2 67.4M104 49.7L46.3 19.7M103 66L45.2 67.4M85.4 53.1L91.8 84.1M46.3 19.7L88.6 24.3M93.1 68.6L31.3 51.1M73.7 62.7L74.1 36.7M55.7 35.4L52.4 62.1M31.7 30.6L73.2 25.4M88.6 24.3L40.8 88.4M86.8 33.5L62 24M22.6 57.8L72.2 75.3M61.6 76.9L66.8 16.1M104.5 57.3L53.2 25.6M64 68L51.1 54M55.7 35.4L31.6 61.5M52.3 74L40 77.3M75.3 17.7L36.3 85.1M23.6 64.4L82.1 20.3M102.2 42.6L62 24M40.8 88.4L56.1 86.2M85.4 53.1L40 77.3M95.7 59.4L100.8 71.9M31.3 51.1L55.7 35.4M47.7 92L91.8 84.1M79.8 70L31.6 61.5M64 68L92.4 41.1M88.8 75.3L42.7 48.6M97.4 77.7L82.1 20.3M63 95L95.3 49.1M91.8 84.1L46.3 19.7M85.4 53.1L34.6 69.9M23.1 48.7L45.2 67.4M28 35.7L74.1 36.7M74.1 36.7L79.8 70M47.8 40.4L67.8 43.8M40.8 88.4L88.6 24.3M79.8 70L81.3 42.9M54.6 64.3L72.7 85.7M54.6 64.3L37.7 24.8M74.1 36.7L65.9 34.1M54.6 64.3L104 49.7M56.1 86.2L53.2 25.6M52.4 62.1L75.3 17.7M65.2 87L24.5 43.3M73.7 62.7L81.3 42.9M93.1 68.6L57.3 44.7M47.8 40.4L66.8 16.1M86.8 33.5L85.4 53.1M26.6 72.7L55.7 35.4M104.5 57.3L64.5 54.6M53.2 25.6L97.4 77.7M85.4 53.1L84.8 89.3M74.1 36.7L80.8 28.8M73.7 62.7L51.1 54M23.6 64.4L42.7 48.6M40.8 88.4L37.7 24.8M63 95L85.4 53.1M61.6 76.9L86.8 33.5M80.8 28.8L93.1 68.6M102.2 42.6L45.2 67.4M47.8 40.4L22.6 57.8M31.6 61.5L84.6 61.6M45.2 67.4L81.3 42.9M46.6 82.4L30.9 79.4M60.5 16.1L92.4 41.1M74.7 61.1L97.4 77.7M95.7 59.4L22.6 57.8M100.8 71.9L91.8 84.1M60.5 16.1L28 35.7M95.3 30.5L103 66M82 81.4L40 77.3M33.8 42.7L102.2 42.6M74.7 61.1L47.8 40.4M30.9 79.4L47.8 40.4M67.8 43.8L23.6 64.4M65.9 34.1L74.7 61.1M104 49.7L66.8 16.1M81.3 42.9L84.6 61.6M100.8 71.9L53.2 25.6M86.8 33.5L81.3 42.9M52.4 62.1L31.7 30.6M85.4 53.1L75.3 17.7M85.4 53.1L82.1 20.3M81.3 42.9L82.1 20.3M73.7 62.7L52.4 62.1M75.4 51.7L23.1 48.7M95.3 30.5L31.3 51.1M52.7 17.4L46.6 82.4M64.5 54.6L46.6 82.4M60.5 16.1L82.1 20.3M60.5 16.1L36.3 85.1M23.1 48.7L98.6 35.1M22.6 57.8L40.8 88.4M95.7 59.4L62 24M36.3 85.1L84.6 61.6M92.4 41.1L73.7 62.7M22.6 57.8L66.8 16.1M80.8 28.8L100.8 71.9M36.3 85.1L66.8 16.1M51.1 54L33.8 42.7M38.3 35.6L26.6 72.7M55.7 35.4L31.6 61.5M55.7 35.4L60.5 16.1M54.1 93.9L41.6 57.9M30.9 79.4L97.4 77.7M91.8 84.1L64 68M52.4 62.1L65.9 34.1M51.1 54L41.6 57.9M24.5 43.3L60.5 16.1M52.7 17.4L26.6 72.7M75.3 17.7L46.3 19.7M31.7 30.6L82 81.4M36.3 85.1L67.8 43.8M72.5 94L23.1 48.7M52.3 74L54.1 93.9M36.3 85.1L40 77.3M73.2 25.4L52.3 74M95.3 49.1L65.9 34.1M33.8 42.7L84.6 61.6M75.3 17.7L63.6 42M44.2 30.1L103 66M84.8 89.3L66.8 16.1M52.7 17.4L86.8 33.5M61.6 76.9L38.3 35.6M44.2 30.1L80.8 28.8M60.5 16.1L64.5 54.6M37.7 24.8L36.3 85.1M65.9 34.1L103 66M40 77.3L47.7 92M80.8 28.8L51.1 54M63.6 42L60.5 16.1M55.7 35.4L67.8 43.8M31.6 61.5L95.7 59.4M88.8 75.3L26.6 72.7M31.7 30.6L80.8 28.8M23.1 48.7L34.6 69.9M85.4 53.1L44.2 30.1M84.6 61.6L52.7 17.4M80.8 28.8L75.3 17.7M52.7 17.4L54.1 93.9M31.6 61.5L65.2 87M45.2 67.4L36.3 85.1M103 66L33.8 42.7M74.7 61.1L78.8 92.1M95.3 30.5L93.1 68.6M65.2 87L31.6 61.5M82.1 20.3L80.8 28.8M51.1 54L52.7 17.4M85.4 53.1L54.1 93.9M62 24L65.9 34.1M47.8 40.4L82.1 20.3M23.6 64.4L73.2 25.4M57.3 44.7L100.8 71.9M26.6 72.7L52.4 62.1M30.9 79.4L98.6 35.1M104 49.7L79.8 70M80.8 28.8L55.7 35.4M78.8 92.1L66.8 16.1M53.2 25.6L103 66M36.3 85.1L95.7 59.4M104 49.7L88.8 75.3M31.6 61.5L64 68M73.7 62.7L65.9 34.1M92.4 41.1L74.1 36.7M51.1 54L36.3 85.1M79.8 70L54.1 93.9M64 68L63.6 42M84.8 89.3L62 24M31.7 30.6L62 24M45.2 67.4L37.7 24.8M47.8 40.4L73.7 62.7M52.4 62.1L63.6 42M72.5 94L95.3 49.1M47.8 40.4L92.4 41.1M82 81.4L81.3 42.9M80.8 28.8L63.6 42M56.1 86.2L38.3 35.6M81.3 42.9L82 81.4M41.6 57.9L93.1 68.6M54.6 64.3L82 81.4M72.7 85.7L97.4 77.7M103 66L102.2 42.6M67.8 43.8L84.8 89.3M31.7 30.6L86.8 33.5M62 24L78.8 92.1M46.6 82.4L73.2 25.4M78.8 92.1L67.8 43.8M46.6 82.4L54.1 93.9M88.6 24.3L95.3 49.1M41.6 57.9L104 49.7M102.2 42.6L84.8 89.3M74.1 36.7L36.3 85.1M52.3 74L24.5 43.3M102.2 42.6L64.5 54.6M26.6 72.7L78.8 92.1M74.7 61.1L92.4 41.1M61.6 76.9L23.6 64.4M75.3 17.7L78.8 92.1M33.8 42.7L81.3 42.9M28 35.7L23.6 64.4M38.3 35.6L79.8 70M23.1 48.7L92.4 41.1M61.6 76.9L63.6 42M95.7 59.4L67.8 43.8M92.4 41.1L38.3 35.6M81.3 42.9L23.1 48.7M72.7 85.7L22.6 57.8M98.6 35.1L41.6 57.9M26.6 72.7L55.7 35.4M56.1 86.2L55.7 35.4M74.7 61.1L33.8 42.7" fill="none" stroke="#c4c4c4" stroke-width="0.28" stroke-opacity="0.75"/>
<circle cx="104.5" cy="57.3" r="3" fill="#f0dc92"/>
<circle cx="103" cy="66" r="3" fill="#ecd080"/>
<circle cx="100.8" cy="71.9" r="3" fill="#f0dc92"/>
<circle cx="97.4" cy="77.7" r="3" fill="#f0dc92"/>
<circle cx="91.8" cy="84.1" r="3" fill="#f0dc92"/>
<circle cx="84.8" cy="89.3" r="3" fill="#eed68a"/>
<circle cx="78.8" cy="92.1" r="3" fill="#eed68a"/>
<circle cx="72.5" cy="94" r="3" fill="#f0dc92"/>
<circle cx="63" cy="95" r="3" fill="#f0dc92"/>
<circle cx="54.1" cy="93.9" r="3" fill="#ecd080"/>
<circle cx="47.7" cy="92" r="3" fill="#f0dc92"/>
<circle cx="40.8" cy="88.4" r="3" fill="#f0dc92"/>
<circle cx="36.3" cy="85.1" r="3" fill="#f0dc92"/>
<circle cx="30.9" cy="79.4" r="3" fill="#eed68a"/>
<circle cx="26.6" cy="72.7" r="3" fill="#eed68a"/>
<circle cx="23.6" cy="64.4" r="3" fill="#ecd080"/>
<circle cx="22.6" cy="57.8" r="3" fill="#f0dc92"/>
<circle cx="23.1" cy="48.7" r="3" fill="#f0dc92"/>
<circle cx="24.5" cy="43.3" r="3" fill="#ecd080"/>
<circle cx="28" cy="35.7" r="3" fill="#f0dc92"/>
<circle cx="31.7" cy="30.6" r="3" fill="#f0dc92"/>
<circle cx="37.7" cy="24.8" r="3" fill="#f0dc92"/>
<circle cx="46.3" cy="19.7" r="3" fill="#eed68a"/>
<circle cx="52.7" cy="17.4" r="3" fill="#ecd080"/>
<circle cx="60.5" cy="16.1" r="3" fill="#f0dc92"/>
<circle cx="66.8" cy="16.1" r="3" fill="#eed68a"/>
<circle cx="75.3" cy="17.7" r="3" fill="#eed68a"/>
<circle cx="82.1" cy="20.3" r="3" fill="#ecd080"/>
<circle cx="88.6" cy="24.3" r="3" fill="#eed68a"/>
<circle cx="95.3" cy="30.5" r="3" fill="#eed68a"/>
<circle cx="98.6" cy="35.1" r="3" fill="#eed68a"/>
<circle cx="102.2" cy="42.6" r="3" fill="#f0dc92"/>
<circle cx="104" cy="49.7" r="3" fill="#eed68a"/>
<circle cx="95.7" cy="59.4" r="3" fill="#ecbc68"/>
<circle cx="93.1" cy="68.6" r="3" fill="#eab060"/>
<circle cx="88.8" cy="75.3" r="3" fill="#eab060"/>
<circle cx="82" cy="81.4" r="3" fill="#eab060"/>
<circle cx="72.7" cy="85.7" r="3" fill="#ecbc68"/>
<circle cx="65.2" cy="87" r="3" fill="#ecc070"/>
<circle cx="56.1" cy="86.2" r="3" fill="#ecbc68"/>
<circle cx="46.6" cy="82.4" r="3" fill="#eab060"/>
<circle cx="40" cy="77.3" r="3" fill="#ecc070"/>
<circle cx="34.6" cy="69.9" r="3" fill="#ecc070"/>
<circle cx="31.6" cy="61.5" r="3" fill="#ecc070"/>
<circle cx="31.3" cy="51.1" r="3" fill="#eab060"/>
<circle cx="33.8" cy="42.7" r="3" fill="#ecbc68"/>
<circle cx="38.3" cy="35.6" r="3" fill="#ecbc68"/>
<circle cx="44.2" cy="30.1" r="3" fill="#ecc070"/>
<circle cx="53.2" cy="25.6" r="3" fill="#ecbc68"/>
<circle cx="62" cy="24" r="3" fill="#eab060"/>
<circle cx="73.2" cy="25.4" r="3" fill="#ecc070"/>
<circle cx="80.8" cy="28.8" r="3" fill="#ecbc68"/>
<circle cx="86.8" cy="33.5" r="3" fill="#ecbc68"/>
<circle cx="92.4" cy="41.1" r="3" fill="#eab060"/>
<circle cx="95.3" cy="49.1" r="3" fill="#ecc070"/>
<circle cx="84.6" cy="61.6" r="3" fill="#e89048"/>
<circle cx="79.8" cy="70" r="3" fill="#e99a50"/>
<circle cx="72.2" cy="75.3" r="3" fill="#eba458"/>
<circle cx="61.6" cy="76.9" r="3" fill="#e99a50"/>
<circle cx="52.3" cy="74" r="3" fill="#e89048"/>
<circle cx="45.2" cy="67.4" r="3" fill="#e99a50"/>
<circle cx="41.6" cy="57.9" r="3" fill="#e89048"/>
<circle cx="42.7" cy="48.6" r="3" fill="#e99a50"/>
<circle cx="47.8" cy="40.4" r="3" fill="#e99a50"/>
<circle cx="55.7" cy="35.4" r="3" fill="#e89048"/>
<circle cx="65.9" cy="34.1" r="3" fill="#eba458"/>
<circle cx="74.1" cy="36.7" r="3" fill="#e99a50"/>
<circle cx="81.3" cy="42.9" r="3" fill="#eba458"/>
<circle cx="85.4" cy="53.1" r="3" fill="#e99a50"/>
<circle cx="73.7" cy="62.7" r="2.9" fill="#e4703a"/>
<circle cx="64" cy="68" r="2.9" fill="#eb9048"/>
<circle cx="54.6" cy="64.3" r="2.9" fill="#e88040"/>
<circle cx="51.1" cy="54" r="2.9" fill="#e88040"/>
<circle cx="57.3" cy="44.7" r="2.9" fill="#e4703a"/>
<circle cx="67.8" cy="43.8" r="2.9" fill="#eb9048"/>
<circle cx="75.4" cy="51.7" r="2.9" fill="#e4703a"/>
<circle cx="63.6" cy="42" r="3" fill="#c42a3a"/>
<circle cx="64.5" cy="54.6" r="3" fill="#c42a3a"/>
<circle cx="52.4" cy="62.1" r="3" fill="#c83040"/>
<circle cx="74.7" cy="61.1" r="3" fill="#c42a3a"/>
<text transform="translate(104.46 58.04) scale(0.25)" font-family="Liberation Sans" font-size="8.00" font-weight="normal" fill="#2a1a10" text-anchor="middle" textLength="15.93" lengthAdjust="spacingAndGlyphs" fill-opacity="0.9">KLF6</text>
<text transform="translate(103.03 66.72) scale(0.25)" font-family="Liberation Sans" font-size="8.00" font-weight="normal" fill="#2a1a10" text-anchor="middle" textLength="15.93" lengthAdjust="spacingAndGlyphs" fill-opacity="0.9">RGS1</text>
<text transform="translate(100.82 72.58) scale(0.25)" font-family="Liberation Sans" font-size="8.00" font-weight="normal" fill="#2a1a10" text-anchor="middle" textLength="15.93" lengthAdjust="spacingAndGlyphs" fill-opacity="0.9">CD69</text>
<text transform="translate(97.42 78.41) scale(0.25)" font-family="Liberation Sans" font-size="8.00" font-weight="normal" fill="#2a1a10" text-anchor="middle" textLength="15.93" lengthAdjust="spacingAndGlyphs" fill-opacity="0.9">IER2</text>
<text transform="translate(91.78 84.82) scale(0.25)" font-family="Liberation Sans" font-size="8.00" font-weight="normal" fill="#2a1a10" text-anchor="middle" textLength="15.93" lengthAdjust="spacingAndGlyphs" fill-opacity="0.9">DUSP2</text>
<text transform="translate(84.77 89.99) scale(0.25)" font-family="Liberation Sans" font-size="8.00" font-weight="normal" fill="#2a1a10" text-anchor="middle" textLength="15.93" lengthAdjust="spacingAndGlyphs" fill-opacity="0.9">CXCR4</text>
<text transform="translate(78.81 92.86) scale(0.25)" font-family="Liberation Sans" font-size="8.00" font-weight="normal" fill="#2a1a10" text-anchor="middle" textLength="15.93" lengthAdjust="spacingAndGlyphs" fill-opacity="0.9">ZFP36</text>
<text transform="translate(72.48 94.76) scale(0.25)" font-family="Liberation Sans" font-size="8.00" font-weight="normal" fill="#2a1a10" text-anchor="middle" textLength="15.93" lengthAdjust="spacingAndGlyphs" fill-opacity="0.9">TSC22D3</text>
<text transform="translate(62.96 95.72) scale(0.25)" font-family="Liberation Sans" font-size="8.00" font-weight="normal" fill="#2a1a10" text-anchor="middle" textLength="15.93" lengthAdjust="spacingAndGlyphs" fill-opacity="0.9">NR4A2</text>
<text transform="translate(54.10 94.67) scale(0.25)" font-family="Liberation Sans" font-size="8.00" font-weight="normal" fill="#2a1a10" text-anchor="middle" textLength="15.93" lengthAdjust="spacingAndGlyphs" fill-opacity="0.9">PPP1R15A</text>
<text transform="translate(47.70 92.67) scale(0.25)" font-family="Liberation Sans" font-size="8.00" font-weight="normal" fill="#2a1a10" text-anchor="middle" textLength="15.93" lengthAdjust="spacingAndGlyphs" fill-opacity="0.9">TNFAIP3</text>
<text transform="translate(40.84 89.14) scale(0.25)" font-family="Liberation Sans" font-size="8.00" font-weight="normal" fill="#2a1a10" text-anchor="middle" textLength="15.93" lengthAdjust="spacingAndGlyphs" fill-opacity="0.9">SRGN</text>
<text transform="translate(36.31 85.78) scale(0.25)" font-family="Liberation Sans" font-size="8.00" font-weight="normal" fill="#2a1a10" text-anchor="middle" textLength="15.93" lengthAdjust="spacingAndGlyphs" fill-opacity="0.9">CCL5</text>
<text transform="translate(30.89 80.17) scale(0.25)" font-family="Liberation Sans" font-size="8.00" font-weight="normal" fill="#2a1a10" text-anchor="middle" textLength="15.93" lengthAdjust="spacingAndGlyphs" fill-opacity="0.9">IFNG</text>
<text transform="translate(26.60 73.43) scale(0.25)" font-family="Liberation Sans" font-size="8.00" font-weight="normal" fill="#2a1a10" text-anchor="middle" textLength="15.93" lengthAdjust="spacingAndGlyphs" fill-opacity="0.9">BTG1</text>
<text transform="translate(23.56 65.13) scale(0.25)" font-family="Liberation Sans" font-size="8.00" font-weight="normal" fill="#2a1a10" text-anchor="middle" textLength="15.93" lengthAdjust="spacingAndGlyphs" fill-opacity="0.9">FOSB</text>
<text transform="translate(22.57 58.55) scale(0.25)" font-family="Liberation Sans" font-size="8.00" font-weight="normal" fill="#2a1a10" text-anchor="middle" textLength="15.93" lengthAdjust="spacingAndGlyphs" fill-opacity="0.9">EGR1</text>
<text transform="translate(23.11 49.44) scale(0.25)" font-family="Liberation Sans" font-size="8.00" font-weight="normal" fill="#2a1a10" text-anchor="middle" textLength="15.93" lengthAdjust="spacingAndGlyphs" fill-opacity="0.9">ATF3</text>
<text transform="translate(24.51 44.01) scale(0.25)" font-family="Liberation Sans" font-size="8.00" font-weight="normal" fill="#2a1a10" text-anchor="middle" textLength="15.93" lengthAdjust="spacingAndGlyphs" fill-opacity="0.9">SOCS3</text>
<text transform="translate(28.04 36.39) scale(0.25)" font-family="Liberation Sans" font-size="8.00" font-weight="normal" fill="#2a1a10" text-anchor="middle" textLength="15.93" lengthAdjust="spacingAndGlyphs" fill-opacity="0.9">H3-3B</text>
<text transform="translate(31.70 31.28) scale(0.25)" font-family="Liberation Sans" font-size="8.00" font-weight="normal" fill="#2a1a10" text-anchor="middle" textLength="15.93" lengthAdjust="spacingAndGlyphs" fill-opacity="0.9">YPEL3</text>
<text transform="translate(37.66 25.55) scale(0.25)" font-family="Liberation Sans" font-size="8.00" font-weight="normal" fill="#2a1a10" text-anchor="middle" textLength="15.93" lengthAdjust="spacingAndGlyphs" fill-opacity="0.9">NFKBIZ</text>
<text transform="translate(46.26 20.38) scale(0.25)" font-family="Liberation Sans" font-size="8.00" font-weight="normal" fill="#2a1a10" text-anchor="middle" textLength="15.93" lengthAdjust="spacingAndGlyphs" fill-opacity="0.9">CREM</text>
<text transform="translate(52.70 18.12) scale(0.25)" font-family="Liberation Sans" font-size="8.00" font-weight="normal" fill="#2a1a10" text-anchor="middle" textLength="15.93" lengthAdjust="spacingAndGlyphs" fill-opacity="0.9">IRF1</text>
<text transform="translate(60.54 16.82) scale(0.25)" font-family="Liberation Sans" font-size="8.00" font-weight="normal" fill="#2a1a10" text-anchor="middle" textLength="15.93" lengthAdjust="spacingAndGlyphs" fill-opacity="0.9">STAT3</text>
<text transform="translate(66.81 16.85) scale(0.25)" font-family="Liberation Sans" font-size="8.00" font-weight="normal" fill="#2a1a10" text-anchor="middle" textLength="15.93" lengthAdjust="spacingAndGlyphs" fill-opacity="0.9">CEBPB</text>
<text transform="translate(75.34 18.40) scale(0.25)" font-family="Liberation Sans" font-size="8.00" font-weight="normal" fill="#2a1a10" text-anchor="middle" textLength="15.93" lengthAdjust="spacingAndGlyphs" fill-opacity="0.9">PNRC1</text>
<text transform="translate(82.08 21.01) scale(0.25)" font-family="Liberation Sans" font-size="8.00" font-weight="normal" fill="#2a1a10" text-anchor="middle" textLength="15.93" lengthAdjust="spacingAndGlyphs" fill-opacity="0.9">SIK1</text>
<text transform="translate(88.63 25.01) scale(0.25)" font-family="Liberation Sans" font-size="8.00" font-weight="normal" fill="#2a1a10" text-anchor="middle" textLength="15.93" lengthAdjust="spacingAndGlyphs" fill-opacity="0.9">TOB1</text>
<text transform="translate(95.28 31.27) scale(0.25)" font-family="Liberation Sans" font-size="8.00" font-weight="normal" fill="#2a1a10" text-anchor="middle" textLength="15.93" lengthAdjust="spacingAndGlyphs" fill-opacity="0.9">RHOB</text>
<text transform="translate(98.58 35.77) scale(0.25)" font-family="Liberation Sans" font-size="8.00" font-weight="normal" fill="#2a1a10" text-anchor="middle" textLength="15.93" lengthAdjust="spacingAndGlyphs" fill-opacity="0.9">CDKN1A</text>
<text transform="translate(102.25 43.30) scale(0.25)" font-family="Liberation Sans" font-size="8.00" font-weight="normal" fill="#2a1a10" text-anchor="middle" textLength="15.93" lengthAdjust="spacingAndGlyphs" fill-opacity="0.9">GADD45B</text>
<text transform="translate(104.05 50.37) scale(0.25)" font-family="Liberation Sans" font-size="8.00" font-weight="normal" fill="#2a1a10" text-anchor="middle" textLength="15.93" lengthAdjust="spacingAndGlyphs" fill-opacity="0.9">MCL1</text>
<text transform="translate(95.75 60.16) scale(0.25)" font-family="Liberation Sans" font-size="8.00" font-weight="normal" fill="#2a1a10" text-anchor="middle" textLength="13.20" lengthAdjust="spacingAndGlyphs" fill-opacity="0.9">ID2</text>
<text transform="translate(93.07 69.29) scale(0.25)" font-family="Liberation Sans" font-size="8.00" font-weight="normal" fill="#2a1a10" text-anchor="middle" textLength="15.93" lengthAdjust="spacingAndGlyphs" fill-opacity="0.9">PDE4B</text>
<text transform="translate(88.81 75.98) scale(0.25)" font-family="Liberation Sans" font-size="8.00" font-weight="normal" fill="#2a1a10" text-anchor="middle" textLength="15.93" lengthAdjust="spacingAndGlyphs" fill-opacity="0.9">SLC2A3</text>
<text transform="translate(82.05 82.09) scale(0.25)" font-family="Liberation Sans" font-size="8.00" font-weight="normal" fill="#2a1a10" text-anchor="middle" textLength="15.93" lengthAdjust="spacingAndGlyphs" fill-opacity="0.9">TXNIP</text>
<text transform="translate(72.72 86.42) scale(0.25)" font-family="Liberation Sans" font-size="8.00" font-weight="normal" fill="#2a1a10" text-anchor="middle" textLength="15.93" lengthAdjust="spacingAndGlyphs" fill-opacity="0.9">KDM6B</text>
<text transform="translate(65.19 87.68) scale(0.25)" font-family="Liberation Sans" font-size="8.00" font-weight="normal" fill="#2a1a10" text-anchor="middle" textLength="13.20" lengthAdjust="spacingAndGlyphs" fill-opacity="0.9">REL</text>
<text transform="translate(56.06 86.88) scale(0.25)" font-family="Liberation Sans" font-size="8.00" font-weight="normal" fill="#2a1a10" text-anchor="middle" textLength="15.93" lengthAdjust="spacingAndGlyphs" fill-opacity="0.9">BHLHE40</text>
<text transform="translate(46.63 83.15) scale(0.25)" font-family="Liberation Sans" font-size="8.00" font-weight="normal" fill="#2a1a10" text-anchor="middle" textLength="15.93" lengthAdjust="spacingAndGlyphs" fill-opacity="0.9">CCNL1</text>
<text transform="translate(40.00 77.98) scale(0.25)" font-family="Liberation Sans" font-size="8.00" font-weight="normal" fill="#2a1a10" text-anchor="middle" textLength="15.93" lengthAdjust="spacingAndGlyphs" fill-opacity="0.9">SAT1</text>
<text transform="translate(34.61 70.66) scale(0.25)" font-family="Liberation Sans" font-size="8.00" font-weight="normal" fill="#2a1a10" text-anchor="middle" textLength="15.93" lengthAdjust="spacingAndGlyphs" fill-opacity="0.9">IL7R</text>
<text transform="translate(31.59 62.18) scale(0.25)" font-family="Liberation Sans" font-size="8.00" font-weight="normal" fill="#2a1a10" text-anchor="middle" textLength="15.93" lengthAdjust="spacingAndGlyphs" fill-opacity="0.9">CD83</text>
<text transform="translate(31.33 51.78) scale(0.25)" font-family="Liberation Sans" font-size="8.00" font-weight="normal" fill="#2a1a10" text-anchor="middle" textLength="15.93" lengthAdjust="spacingAndGlyphs" fill-opacity="0.9">NFKBIA</text>
<text transform="translate(33.79 43.46) scale(0.25)" font-family="Liberation Sans" font-size="8.00" font-weight="normal" fill="#2a1a10" text-anchor="middle" textLength="13.20" lengthAdjust="spacingAndGlyphs" fill-opacity="0.9">EZR</text>
<text transform="translate(38.29 36.34) scale(0.25)" font-family="Liberation Sans" font-size="8.00" font-weight="normal" fill="#2a1a10" text-anchor="middle" textLength="15.93" lengthAdjust="spacingAndGlyphs" fill-opacity="0.9">ANXA1</text>
<text transform="translate(44.25 30.84) scale(0.25)" font-family="Liberation Sans" font-size="8.00" font-weight="normal" fill="#2a1a10" text-anchor="middle" textLength="15.93" lengthAdjust="spacingAndGlyphs" fill-opacity="0.9">LMNA</text>
<text transform="translate(53.15 26.36) scale(0.25)" font-family="Liberation Sans" font-size="8.00" font-weight="normal" fill="#2a1a10" text-anchor="middle" textLength="15.93" lengthAdjust="spacingAndGlyphs" fill-opacity="0.9">IER5</text>
<text transform="translate(62.01 24.75) scale(0.25)" font-family="Liberation Sans" font-size="8.00" font-weight="normal" fill="#2a1a10" text-anchor="middle" textLength="15.93" lengthAdjust="spacingAndGlyphs" fill-opacity="0.9">JUNB</text>
<text transform="translate(73.18 26.15) scale(0.25)" font-family="Liberation Sans" font-size="8.00" font-weight="normal" fill="#2a1a10" text-anchor="middle" textLength="15.93" lengthAdjust="spacingAndGlyphs" fill-opacity="0.9">KLF6</text>
<text transform="translate(80.76 29.53) scale(0.25)" font-family="Liberation Sans" font-size="8.00" font-weight="normal" fill="#2a1a10" text-anchor="middle" textLength="15.93" lengthAdjust="spacingAndGlyphs" fill-opacity="0.9">RGS1</text>
<text transform="translate(86.75 34.21) scale(0.25)" font-family="Liberation Sans" font-size="8.00" font-weight="normal" fill="#2a1a10" text-anchor="middle" textLength="15.93" lengthAdjust="spacingAndGlyphs" fill-opacity="0.9">CD69</text>
<text transform="translate(92.41 41.84) scale(0.25)" font-family="Liberation Sans" font-size="8.00" font-weight="normal" fill="#2a1a10" text-anchor="middle" textLength="15.93" lengthAdjust="spacingAndGlyphs" fill-opacity="0.9">IER2</text>
<text transform="translate(95.32 49.81) scale(0.25)" font-family="Liberation Sans" font-size="8.00" font-weight="normal" fill="#2a1a10" text-anchor="middle" textLength="15.93" lengthAdjust="spacingAndGlyphs" fill-opacity="0.9">DUSP2</text>
<text transform="translate(84.60 62.29) scale(0.25)" font-family="Liberation Sans" font-size="8.00" font-weight="normal" fill="#2a1a10" text-anchor="middle" textLength="15.93" lengthAdjust="spacingAndGlyphs" fill-opacity="0.9">CXCR4</text>
<text transform="translate(79.75 70.71) scale(0.25)" font-family="Liberation Sans" font-size="8.00" font-weight="normal" fill="#2a1a10" text-anchor="middle" textLength="15.93" lengthAdjust="spacingAndGlyphs" fill-opacity="0.9">ZFP36</text>
<text transform="translate(72.19 75.97) scale(0.25)" font-family="Liberation Sans" font-size="8.00" font-weight="normal" fill="#2a1a10" text-anchor="middle" textLength="15.93" lengthAdjust="spacingAndGlyphs" fill-opacity="0.9">TSC22D3</text>
<text transform="translate(61.60 77.64) scale(0.25)" font-family="Liberation Sans" font-size="8.00" font-weight="normal" fill="#2a1a10" text-anchor="middle" textLength="15.93" lengthAdjust="spacingAndGlyphs" fill-opacity="0.9">NR4A2</text>
<text transform="translate(52.33 74.74) scale(0.25)" font-family="Liberation Sans" font-size="8.00" font-weight="normal" fill="#2a1a10" text-anchor="middle" textLength="15.93" lengthAdjust="spacingAndGlyphs" fill-opacity="0.9">PPP1R15A</text>
<text transform="translate(45.19 68.14) scale(0.25)" font-family="Liberation Sans" font-size="8.00" font-weight="normal" fill="#2a1a10" text-anchor="middle" textLength="15.93" lengthAdjust="spacingAndGlyphs" fill-opacity="0.9">TNFAIP3</text>
<text transform="translate(41.64 58.62) scale(0.25)" font-family="Liberation Sans" font-size="8.00" font-weight="normal" fill="#2a1a10" text-anchor="middle" textLength="15.93" lengthAdjust="spacingAndGlyphs" fill-opacity="0.9">SRGN</text>
<text transform="translate(42.66 49.32) scale(0.25)" font-family="Liberation Sans" font-size="8.00" font-weight="normal" fill="#2a1a10" text-anchor="middle" textLength="15.93" lengthAdjust="spacingAndGlyphs" fill-opacity="0.9">CCL5</text>
<text transform="translate(47.83 41.13) scale(0.25)" font-family="Liberation Sans" font-size="8.00" font-weight="normal" fill="#2a1a10" text-anchor="middle" textLength="15.93" lengthAdjust="spacingAndGlyphs" fill-opacity="0.9">IFNG</text>
<text transform="translate(55.69 36.12) scale(0.25)" font-family="Liberation Sans" font-size="8.00" font-weight="normal" fill="#2a1a10" text-anchor="middle" textLength="15.93" lengthAdjust="spacingAndGlyphs" fill-opacity="0.9">BTG1</text>
<text transform="translate(65.88 34.85) scale(0.25)" font-family="Liberation Sans" font-size="8.00" font-weight="normal" fill="#2a1a10" text-anchor="middle" textLength="15.93" lengthAdjust="spacingAndGlyphs" fill-opacity="0.9">FOSB</text>
<text transform="translate(74.13 37.40) scale(0.25)" font-family="Liberation Sans" font-size="8.00" font-weight="normal" fill="#2a1a10" text-anchor="middle" textLength="15.93" lengthAdjust="spacingAndGlyphs" fill-opacity="0.9">EGR1</text>
<text transform="translate(81.34 43.64) scale(0.25)" font-family="Liberation Sans" font-size="8.00" font-weight="normal" fill="#2a1a10" text-anchor="middle" textLength="15.93" lengthAdjust="spacingAndGlyphs" fill-opacity="0.9">ATF3</text>
<text transform="translate(85.36 53.78) scale(0.25)" font-family="Liberation Sans" font-size="8.00" font-weight="normal" fill="#2a1a10" text-anchor="middle" textLength="15.93" lengthAdjust="spacingAndGlyphs" fill-opacity="0.9">SOCS3</text>
<text transform="translate(73.71 63.43) scale(0.25)" font-family="Liberation Sans" font-size="8.00" font-weight="normal" fill="#2a1a10" text-anchor="middle" textLength="15.66" lengthAdjust="spacingAndGlyphs" fill-opacity="0.9">H3-3B</text>
<text transform="translate(64.03 68.71) scale(0.25)" font-family="Liberation Sans" font-size="8.00" font-weight="normal" fill="#2a1a10" text-anchor="middle" textLength="15.66" lengthAdjust="spacingAndGlyphs" fill-opacity="0.9">YPEL3</text>
<text transform="translate(54.61 65.01) scale(0.25)" font-family="Liberation Sans" font-size="8.00" font-weight="normal" fill="#2a1a10" text-anchor="middle" textLength="15.66" lengthAdjust="spacingAndGlyphs" fill-opacity="0.9">NFKBIZ</text>
<text transform="translate(51.09 54.73) scale(0.25)" font-family="Liberation Sans" font-size="8.00" font-weight="normal" fill="#2a1a10" text-anchor="middle" textLength="15.66" lengthAdjust="spacingAndGlyphs" fill-opacity="0.9">CREM</text>
<text transform="translate(57.28 45.38) scale(0.25)" font-family="Liberation Sans" font-size="8.00" font-weight="normal" fill="#2a1a10" text-anchor="middle" textLength="15.66" lengthAdjust="spacingAndGlyphs" fill-opacity="0.9">IRF1</text>
<text transform="translate(67.84 44.50) scale(0.25)" font-family="Liberation Sans" font-size="8.00" font-weight="normal" fill="#2a1a10" text-anchor="middle" textLength="15.66" lengthAdjust="spacingAndGlyphs" fill-opacity="0.9">STAT3</text>
<text transform="translate(75.42 52.45) scale(0.25)" font-family="Liberation Sans" font-size="8.00" font-weight="normal" fill="#2a1a10" text-anchor="middle" textLength="15.66" lengthAdjust="spacingAndGlyphs" fill-opacity="0.9">CEBPB</text>
<text transform="translate(63.60 42.72) scale(0.25)" font-family="Liberation Sans" font-size="8.00" font-weight="normal" fill="#2a1a10" text-anchor="middle" textLength="15.93" lengthAdjust="spacingAndGlyphs" fill-opacity="0.9">PNRC1</text>
<text transform="translate(64.50 55.32) scale(0.25)" font-family="Liberation Sans" font-size="8.00" font-weight="normal" fill="#2a1a10" text-anchor="middle" textLength="15.93" lengthAdjust="spacingAndGlyphs" fill-opacity="0.9">SIK1</text>
<text transform="translate(52.40 62.82) scale(0.25)" font-family="Liberation Sans" font-size="8.00" font-weight="normal" fill="#2a1a10" text-anchor="middle" textLength="15.93" lengthAdjust="spacingAndGlyphs" fill-opacity="0.9">TOB1</text>
<text transform="translate(74.70 61.82) scale(0.25)" font-family="Liberation Sans" font-size="8.00" font-weight="normal" fill="#2a1a10" text-anchor="middle" textLength="15.93" lengthAdjust="spacingAndGlyphs" fill-opacity="0.9">RHOB</text>
<ellipse cx="158.5" cy="57.0" rx="36" ry="34" fill="#ebebeb"/>
<path d="M135 25.9L158.8 70.5M198.3 51.4L133.2 35.6M144.9 59L150.8 82.9M171.1 51.9L188.9 72.7M166.6 61L152.7 61.4M150.8 82.9L170.4 64.8M125.7 46.3L166.9 38.7M177.8 22.5L123.3 37.4M171.1 51.9L190.3 31.5M147.3 40.7L152.5 69.6M135.3 70.8L118.3 62.8M172.9 41.6L192.4 58.8M183.6 78.8L184.8 87.6M146 81.3L140.5 77.7M171.1 51.9L184.7 34.8M118.3 62.8L181.7 70M160.5 31.3L160.1 84M170.3 18.8L159.1 49.6M158.8 70.5L130.8 60.1M158.8 70.5L152.5 69.6M180.1 39.7L148.9 94.9M179.3 30.4L152 88.7M196.4 71.9L177.2 76M137.8 30.1L124.1 54.2M158.8 70.5L151.9 25.1M128.5 83.7L133.7 88.1M140.5 77.7L159.8 57.8M171.1 51.9L160.1 84M190.8 46.8L132.1 64.8M166.9 38.7L158.8 70.5M161.6 43.5L141 44.7M135.3 70.8L151.9 25.1M140.5 77.7L198.2 66.1M152.5 69.6L172.5 80.6M129.1 41.1L165.1 24.8M167.7 45.8L135 25.9M187.2 84.6L128.6 73M172.9 41.6L133.7 88.1M150.8 82.9L177.5 65.6M160.5 31.3L172.1 87.8M143.3 86.9L196.3 42.9M152 88.7L158.3 23.9M172.1 87.8L177 46.5M166.4 82L138.5 50.5M143 28L150.8 82.9M128.5 83.7L160.6 37.5M175.6 92.9L145.3 52.1M166.1 89.2L183.3 44.9M159.1 49.6L125.7 46.3M167.5 75.1L166.1 89.2M124.8 61.4L128.5 83.7M183.3 44.9L119.7 43.1M170.4 64.8L175.6 92.9M118.3 50.3L178.9 52.7M135 25.9L138.9 91.4M149.1 31.8L140.5 21.4M128.3 30L166.9 38.7M159.1 49.6L172.5 80.6M146 81.3L156.2 18.3M162.4 18.5L135.3 70.8M170.4 64.8L161.6 43.5M144.9 59L124.1 54.2M196.3 42.9L165.4 68.4M151.9 25.1L196.4 71.9M185.7 51.4L135 25.9M166.1 89.2L190.8 46.8M130.8 60.1L190.8 46.8M160.9 77.6L133.1 78.3M141 44.7L156.2 18.3M170.4 64.8L188.9 72.7M141 44.7L198.2 66.1M166.1 89.2L179.3 30.4M141 44.7L147.3 40.7M179.3 30.4L190.3 31.5M156.2 18.3L152.7 61.4M196.4 71.9L166.6 61M160.5 31.3L124.1 54.2M124.1 54.2L158.4 89.6M119.5 69.5L156 30.8M181.7 70L129.1 41.1M165.1 24.8L124.1 54.2M133.1 78.3L175.6 92.9M130.8 60.1L152 88.7M146 81.3L145.3 52.1M150.8 82.9L160.5 31.3M132.1 64.8L167.7 45.8M198.2 66.1L152 88.7M160.5 31.3L145.3 52.1M132.1 64.8L138.2 83.9M128.3 30L166.6 61M158.8 70.5L148.9 94.9M159.8 57.8L138.2 83.9M192.4 58.8L166.6 61M140.5 77.7L185.7 51.4M166.9 38.7L152.8 76.6M161.6 43.5L190.3 31.5M154.4 44L119.7 43.1M123.5 77.6L152.7 61.4M152.7 61.4L138.9 91.4M156 30.8L162.4 18.5M138.5 50.5L179.3 30.4M172.2 58.6L177.5 65.6M126.2 68.2L179.4 83.9M160.6 37.5L175.6 92.9M179.3 30.4L196.3 42.9M171.1 51.9L129.1 41.1M138.2 83.9L126.2 68.2M154.8 95.4L169.3 32.1M152.7 61.4L148.1 46.9M138.2 83.9L185.7 51.4M167.5 75.1L184.4 65.1M167.7 45.8L190.3 31.5M144.9 59L196.3 42.9M160.5 31.3L138.9 91.4M170.4 64.8L119.5 69.5M179.5 61.1L184.4 65.1M177.2 76L161.6 43.5M178.9 52.7L166.6 61M146.3 20L166.4 82M185.1 26.3L177.5 65.6M167.7 45.8L193 53.3M146 81.3L160.6 37.5M137.8 30.1L152.8 76.6M126.2 68.2L177.8 22.5M152.5 69.6L159.8 57.8M177.5 65.6L128.3 30M138.3 40.1L173.4 70.6M156.2 18.3L150.8 82.9M186.6 57.1L147.9 74.2M188.1 39.7L140.5 21.4M118.3 50.3L185.1 26.3M183.3 44.9L158.3 23.9M193.1 37.1L162.4 18.5M188.9 72.7L160.5 31.3M133.7 88.1L133.1 78.3M186.6 57.1L166.6 53.9M173.4 70.6L188.1 39.7M160.1 84L123.5 77.6M179.3 30.4L183.3 44.9M143 28L171.1 51.9M185.1 26.3L156.2 18.3M159.1 49.6L152.5 69.6M171.1 51.9L131.1 52.3M183.3 44.9L162.4 18.5M183.3 44.9L131.1 52.3M135 25.9L128.5 83.7M140.5 77.7L160.9 77.6M156.2 18.3L141.5 69.2M133.1 78.3L169.3 32.1M138.3 40.1L185.7 51.4M156.2 18.3L175.6 92.9M198.3 51.4L186.6 57.1M139 64.3L146.5 65M181.7 70L137.5 57.1M154.4 44L128.3 30M146.3 20L171.1 51.9M123.5 77.6L146.5 65M159.8 65.3L190.8 46.8M149.1 31.8L167.5 75.1M198.3 51.4L140.5 21.4M166.6 53.9L177.2 76M172.9 41.6L171.1 51.9M135 25.9L161.6 43.5M172.1 87.8L160.1 84M135.3 70.8L141 36M191.6 67L150.8 82.9M144.9 59L169.3 32.1M183.6 78.8L188.9 72.7M128.5 83.7L143 28M146.3 20L135.3 70.8M179.4 83.9L159.8 57.8M152.7 53.9L140.5 77.7M148.1 46.9L131.1 52.3M179.5 61.1L187.2 84.6M172.4 26.4L141 36M175.6 92.9L188.1 39.7M165.4 68.4L160.1 84M123.3 37.4L159.1 49.6M185.1 26.3L169.3 32.1M179.3 30.4L152.5 38M144.9 59L132.1 64.8M170.3 18.8L177.5 65.6M148.9 94.9L177.5 65.6M171.1 51.9L196.4 71.9M198.2 66.1L119.7 43.1M139 64.3L146 81.3M135 25.9L151.9 25.1M152 88.7L132.1 64.8M190.3 31.5L123.5 77.6M184.7 34.8L183.3 44.9M159.8 57.8L152.8 76.6M146 81.3L172.2 58.6M123.5 77.6L166.4 82M162.4 18.5L172.9 41.6M158.4 89.6L138.9 91.4M172.9 41.6L146.3 20M159.8 57.8L151.9 25.1M187.2 84.6L158.8 70.5M128.6 73L152.7 61.4M198.2 66.1L140.5 21.4M118.3 62.8L128.5 83.7M198.2 66.1L179.4 83.9M147.3 40.7L154.4 44M129.1 41.1L183.6 78.8M152 88.7L141.5 69.2M124.1 54.2L119.7 43.1M159.8 57.8L185.7 51.4M133.6 45.7L156.2 18.3M184.7 34.8L141 36M177 46.5L138.5 50.5M119.5 69.5L148.1 46.9M160.9 77.6L179.3 30.4M170.4 64.8L166.9 38.7M158.3 23.9L129.1 41.1M152.7 53.9L172.1 87.8M171.1 51.9L125.7 46.3M133.1 78.3L172.1 87.8M198.3 51.4L160.9 77.6M133.1 78.3L154.4 44M159.8 65.3L188.9 72.7M160.6 37.5L152.5 38M126.2 68.2L199.6 57.6M119.7 43.1L128.5 83.7M151.9 25.1L199.6 57.6M146.3 20L198.3 51.4M184.7 34.8L166.6 61M177.2 76L177.5 65.6M146 81.3L144.9 59M146.5 65L159.8 57.8M178.9 52.7L143 28M154.4 44L160.9 77.6M147.3 40.7L183.3 44.9M137.8 30.1L167.5 75.1M138.9 91.4L123.5 77.6M159.1 49.6L146.3 20M149.1 31.8L188.1 39.7M156.2 18.3L167.5 75.1M138.5 50.5L152.5 69.6M170.4 64.8L188.1 39.7M143.3 86.9L135.3 70.8M152 88.7L159.1 49.6M139 64.3L192.4 58.8M154.8 95.4L199.6 57.6M145.3 52.1L185.1 26.3M138.2 83.9L177.2 76M143 28L132.1 64.8M138.2 83.9L141 44.7M147.9 74.2L162.4 18.5M159.8 57.8L128.3 30M177 46.5L138.9 91.4M158.3 23.9L123.3 37.4M128.5 83.7L160.5 31.3M128.6 73L133.2 35.6M199.6 57.6L138.2 83.9M193 53.3L172.1 87.8M124.1 54.2L133.7 88.1M143.3 86.9L126.2 68.2M126.2 68.2L196.4 71.9M118.3 62.8L126.2 68.2M172.4 26.4L192.4 58.8M179.4 83.9L177.8 22.5M148.9 94.9L165.1 24.8M128.3 30L190.3 31.5M166.6 53.9L160.6 37.5M147.9 74.2L160.5 31.3M172.2 58.6L198.2 66.1M137.5 57.1L146.5 65M198.3 51.4L158.4 89.6M118.3 62.8L154.8 95.4M172.9 41.6L173.4 70.6M183.3 44.9L141.5 69.2M152.8 76.6L135 25.9M196.4 71.9L172.9 41.6M129.1 41.1L146 81.3M146.5 65L123.5 77.6M129.1 41.1L190.3 31.5M162.4 18.5L159.1 49.6M179.3 30.4L160.5 31.3M119.7 43.1L123.5 77.6M152.5 69.6L128.5 83.7M166.6 53.9L141 44.7M132.1 64.8L124.1 54.2M158.8 70.5L184.4 65.1M170.3 18.8L128.3 30M169.3 32.1L162.4 18.5M141.5 69.2L177.2 76M126.2 68.2L172.4 26.4M119.5 69.5L170.3 18.8M137.5 57.1L140.5 21.4M143.3 86.9L184.7 34.8M141 44.7L118.3 50.3M159.8 57.8L148.9 94.9M187.2 84.6L186.6 57.1M148.9 94.9L154.8 95.4M166.4 82L139 64.3M192.4 58.8L152.5 38M138.2 83.9L152.8 76.6M198.2 66.1L152.7 53.9M143.3 86.9L156.2 18.3M140.5 77.7L165.1 24.8M169.3 32.1L165.1 24.8M144.9 59L133.7 88.1M128.6 73L144.9 59M119.7 43.1L175.6 92.9M181.7 70L152.5 69.6M177.5 65.6L119.5 69.5M154.4 44L148.9 94.9M186.6 57.1L161.6 43.5M180.1 39.7L159.1 49.6M172.4 26.4L160.6 37.5M172.2 58.6L133.6 45.7M143.3 86.9L180.1 39.7M150.8 82.9L184.4 65.1M177.2 76L146.5 65M172.4 26.4L133.6 45.7M191.6 67L135.3 70.8M186.6 57.1L151.9 25.1M123.3 37.4L169.3 32.1M185.1 26.3L138.3 40.1M199.6 57.6L159.8 65.3M193 53.3L152.5 38M128.6 73L156.2 18.3M141.5 69.2L198.3 51.4M178.9 52.7L184.4 65.1M172.1 87.8L150.8 82.9M141 36L139 64.3M160.6 37.5L133.7 88.1M190.3 31.5L135 25.9M170.4 64.8L170.3 18.8M165.4 68.4L160.5 31.3M196.4 71.9L156.2 18.3M177.2 76L132.1 64.8M178.9 52.7L148.1 46.9M180.1 39.7L172.4 26.4M145.3 52.1L196.3 42.9M141 36L160.9 77.6M158.3 23.9L185.7 51.4M179.3 30.4L146.3 20M162.4 18.5L171.1 51.9M173.4 70.6L161.6 43.5M124.8 61.4L167.7 45.8M135.3 70.8L177.2 76M138.2 83.9L173.4 70.6M162.4 18.5L166.6 53.9M184.7 34.8L162.4 18.5M196.4 71.9L159.8 65.3M166.6 53.9L140.5 77.7M118.3 62.8L145.3 52.1M152.7 53.9L191.6 67M166.9 38.7L149.1 31.8M188.9 72.7L152.7 61.4M147.9 74.2L158.3 23.9M130.8 60.1L166.1 89.2M188.1 39.7L126.2 68.2M169.3 32.1L159.8 65.3M190.8 46.8L179.3 30.4M185.7 51.4L138.9 91.4M167.5 75.1L160.5 31.3M199.6 57.6L119.7 43.1M174.9 35.6L185.7 51.4M152.8 76.6L160.1 84M144.9 59L119.7 43.1M146 81.3L172.5 80.6M140.5 77.7L184.8 87.6M135 25.9L147.3 40.7M185.1 26.3L146 81.3M161.6 43.5L159.8 57.8M148.9 94.9L187.2 84.6M167.7 45.8L158.8 70.5M119.7 43.1L179.3 30.4M137.8 30.1L184.7 34.8M160.5 31.3L159.8 65.3M187.2 84.6L156 30.8M188.1 39.7L152.5 69.6M177 46.5L166.6 61M137.8 30.1L175.6 92.9M162.4 18.5L124.8 61.4M148.9 94.9L185.1 26.3M152.7 53.9L151.9 25.1M118.3 62.8L179.4 83.9M179.5 61.1L166.6 53.9M174.9 35.6L135.3 70.8M172.1 87.8L133.2 35.6M132.1 64.8L177.8 22.5M173.4 70.6L143 28M190.3 31.5L138.2 83.9M191.6 67L118.3 62.8M166.6 53.9L146.3 20M190.3 31.5L141.5 69.2M181.7 70L149.1 31.8M190.8 46.8L148.1 46.9M160.6 37.5L146.5 65M177.8 22.5L147.3 40.7M146.3 20L169.3 32.1M118.3 50.3L140.5 77.7M148.9 94.9L123.5 77.6M160.6 37.5L131.1 52.3M135 25.9L179.3 30.4M172.9 41.6L141 44.7M152.5 38L133.2 35.6M129.1 41.1L119.7 43.1M172.5 80.6L137.8 30.1M141 36L165.4 68.4M135.3 70.8L177.2 76M156 30.8L179.5 61.1M179.3 30.4L148.9 94.9M177.5 65.6L196.3 42.9M135 25.9L179.4 83.9M178.9 52.7L184.4 65.1M188.1 39.7L119.7 43.1M177.5 65.6L152.7 53.9M178.9 52.7L128.6 73M166.1 89.2L199.6 57.6M190.3 31.5L192.4 58.8M167.5 75.1L172.5 80.6M165.1 24.8L156 30.8M156 30.8L172.2 58.6M123.3 37.4L123.5 77.6M184.8 87.6L151.9 25.1M146.5 65L187.2 84.6M166.4 82L166.6 61M180.1 39.7L172.1 87.8M143.3 86.9L198.3 51.4M140.5 21.4L175.6 92.9M198.2 66.1L160.5 31.3M159.1 49.6L165.4 68.4M154.4 44L147.9 74.2M188.1 39.7L141 44.7M149.1 31.8L156 30.8M184.4 65.1L175.6 92.9M167.5 75.1L124.8 61.4M119.5 69.5L174.9 35.6M141 44.7L198.2 66.1M162.4 18.5L172.1 87.8M138.3 40.1L177 46.5M160.5 31.3L171.1 51.9M152.5 69.6L156 30.8M181.7 70L162.4 18.5M128.3 30L172.2 58.6M181.7 70L129.1 41.1M130.8 60.1L141 36M177 46.5L184.8 87.6M159.8 65.3L118.3 62.8M165.4 68.4L190.8 46.8" fill="none" stroke="#c4c4c4" stroke-width="0.28" stroke-opacity="0.75"/>
<circle cx="199.6" cy="57.6" r="2.7" fill="#f0dc92"/>
<circle cx="198.2" cy="66.1" r="2.7" fill="#eed68a"/>
<circle cx="196.4" cy="71.9" r="2.7" fill="#eed68a"/>
<circle cx="187.2" cy="84.6" r="2.7" fill="#f2e2a0"/>
<circle cx="184.8" cy="87.6" r="2.7" fill="#f0dc92"/>
<circle cx="175.6" cy="92.9" r="2.7" fill="#f0dc92"/>
<circle cx="154.8" cy="95.4" r="2.7" fill="#f2e2a0"/>
<circle cx="148.9" cy="94.9" r="2.7" fill="#f0dc92"/>
<circle cx="138.9" cy="91.4" r="2.7" fill="#eed68a"/>
<circle cx="133.7" cy="88.1" r="2.7" fill="#f0dc92"/>
<circle cx="128.5" cy="83.7" r="2.7" fill="#f2e2a0"/>
<circle cx="123.5" cy="77.6" r="2.7" fill="#f0dc92"/>
<circle cx="119.5" cy="69.5" r="2.7" fill="#f2e2a0"/>
<circle cx="118.3" cy="62.8" r="2.7" fill="#f2e2a0"/>
<circle cx="118.3" cy="50.3" r="2.7" fill="#eed68a"/>
<circle cx="119.7" cy="43.1" r="2.7" fill="#f0dc92"/>
<circle cx="123.3" cy="37.4" r="2.7" fill="#f2e2a0"/>
<circle cx="128.3" cy="30" r="2.7" fill="#f0dc92"/>
<circle cx="135" cy="25.9" r="2.7" fill="#f2e2a0"/>
<circle cx="140.5" cy="21.4" r="2.7" fill="#eed68a"/>
<circle cx="146.3" cy="20" r="2.7" fill="#f2e2a0"/>
<circle cx="156.2" cy="18.3" r="2.7" fill="#f0dc92"/>
<circle cx="162.4" cy="18.5" r="2.7" fill="#eed68a"/>
<circle cx="170.3" cy="18.8" r="2.7" fill="#f2e2a0"/>
<circle cx="177.8" cy="22.5" r="2.7" fill="#f0dc92"/>
<circle cx="185.1" cy="26.3" r="2.7" fill="#eed68a"/>
<circle cx="190.3" cy="31.5" r="2.7" fill="#eed68a"/>
<circle cx="193.1" cy="37.1" r="2.7" fill="#eed68a"/>
<circle cx="196.3" cy="42.9" r="2.7" fill="#eed68a"/>
<circle cx="198.3" cy="51.4" r="2.7" fill="#f2e2a0"/>
<circle cx="192.4" cy="58.8" r="2.7" fill="#f0d088"/>
<circle cx="191.6" cy="67" r="2.7" fill="#f0d088"/>
<circle cx="188.9" cy="72.7" r="2.7" fill="#f0d088"/>
<circle cx="183.6" cy="78.8" r="2.7" fill="#eed68a"/>
<circle cx="179.4" cy="83.9" r="2.7" fill="#f0d088"/>
<circle cx="172.1" cy="87.8" r="2.7" fill="#eec878"/>
<circle cx="166.1" cy="89.2" r="2.7" fill="#eec878"/>
<circle cx="158.4" cy="89.6" r="2.7" fill="#eec878"/>
<circle cx="152" cy="88.7" r="2.7" fill="#f0d088"/>
<circle cx="143.3" cy="86.9" r="2.7" fill="#eed68a"/>
<circle cx="138.2" cy="83.9" r="2.7" fill="#eec878"/>
<circle cx="133.1" cy="78.3" r="2.7" fill="#eec878"/>
<circle cx="128.6" cy="73" r="2.7" fill="#f0d088"/>
<circle cx="126.2" cy="68.2" r="2.7" fill="#f0d088"/>
<circle cx="124.8" cy="61.4" r="2.7" fill="#eec878"/>
<circle cx="124.1" cy="54.2" r="2.7" fill="#f0d088"/>
<circle cx="125.7" cy="46.3" r="2.7" fill="#f0d088"/>
<circle cx="129.1" cy="41.1" r="2.7" fill="#eed68a"/>
<circle cx="133.2" cy="35.6" r="2.7" fill="#f0d088"/>
<circle cx="137.8" cy="30.1" r="2.7" fill="#eed68a"/>
<circle cx="143" cy="28" r="2.7" fill="#eec878"/>
<circle cx="151.9" cy="25.1" r="2.7" fill="#f0d088"/>
<circle cx="158.3" cy="23.9" r="2.7" fill="#eed68a"/>
<circle cx="165.1" cy="24.8" r="2.7" fill="#f0d088"/>
<circle cx="172.4" cy="26.4" r="2.7" fill="#eed68a"/>
<circle cx="179.3" cy="30.4" r="2.7" fill="#f0d088"/>
<circle cx="184.7" cy="34.8" r="2.7" fill="#f0d088"/>
<circle cx="188.1" cy="39.7" r="2.7" fill="#eed68a"/>
<circle cx="190.8" cy="46.8" r="2.7" fill="#eec878"/>
<circle cx="193" cy="53.3" r="2.7" fill="#eed68a"/>
<circle cx="186.6" cy="57.1" r="2.7" fill="#eeb868"/>
<circle cx="184.4" cy="65.1" r="2.7" fill="#eeb868"/>
<circle cx="181.7" cy="70" r="2.7" fill="#eba458"/>
<circle cx="177.2" cy="76" r="2.7" fill="#eba458"/>
<circle cx="172.5" cy="80.6" r="2.7" fill="#ecb868"/>
<circle cx="166.4" cy="82" r="2.7" fill="#eeb868"/>
<circle cx="160.1" cy="84" r="2.7" fill="#eeb868"/>
<circle cx="150.8" cy="82.9" r="2.7" fill="#eeb868"/>
<circle cx="146" cy="81.3" r="2.7" fill="#eec070"/>
<circle cx="140.5" cy="77.7" r="2.7" fill="#ecb868"/>
<circle cx="135.3" cy="70.8" r="2.7" fill="#ecb868"/>
<circle cx="132.1" cy="64.8" r="2.7" fill="#eec070"/>
<circle cx="130.8" cy="60.1" r="2.7" fill="#ecb868"/>
<circle cx="131.1" cy="52.3" r="2.7" fill="#eba458"/>
<circle cx="133.6" cy="45.7" r="2.7" fill="#eba458"/>
<circle cx="138.3" cy="40.1" r="2.7" fill="#eeb868"/>
<circle cx="141" cy="36" r="2.7" fill="#eeb868"/>
<circle cx="149.1" cy="31.8" r="2.7" fill="#eba458"/>
<circle cx="156" cy="30.8" r="2.7" fill="#eec070"/>
<circle cx="160.5" cy="31.3" r="2.7" fill="#eec070"/>
<circle cx="169.3" cy="32.1" r="2.7" fill="#ecb868"/>
<circle cx="174.9" cy="35.6" r="2.7" fill="#eec070"/>
<circle cx="180.1" cy="39.7" r="2.7" fill="#ecb868"/>
<circle cx="183.3" cy="44.9" r="2.7" fill="#eeb868"/>
<circle cx="185.7" cy="51.4" r="2.7" fill="#eeb868"/>
<circle cx="179.5" cy="61.1" r="2.7" fill="#e99a50"/>
<circle cx="177.5" cy="65.6" r="2.7" fill="#eba458"/>
<circle cx="173.4" cy="70.6" r="2.7" fill="#e99a50"/>
<circle cx="167.5" cy="75.1" r="2.7" fill="#e99a50"/>
<circle cx="160.9" cy="77.6" r="2.7" fill="#e99a50"/>
<circle cx="152.8" cy="76.6" r="2.7" fill="#e89048"/>
<circle cx="147.9" cy="74.2" r="2.7" fill="#e89048"/>
<circle cx="141.5" cy="69.2" r="2.7" fill="#e99a50"/>
<circle cx="139" cy="64.3" r="2.7" fill="#eba458"/>
<circle cx="137.5" cy="57.1" r="2.7" fill="#e99a50"/>
<circle cx="138.5" cy="50.5" r="2.7" fill="#e99a50"/>
<circle cx="141" cy="44.7" r="2.7" fill="#e99a50"/>
<circle cx="147.3" cy="40.7" r="2.7" fill="#e89048"/>
<circle cx="152.5" cy="38" r="2.7" fill="#e99a50"/>
<circle cx="160.6" cy="37.5" r="2.7" fill="#e99a50"/>
<circle cx="166.9" cy="38.7" r="2.7" fill="#e89048"/>
<circle cx="172.9" cy="41.6" r="2.7" fill="#e89048"/>
<circle cx="177" cy="46.5" r="2.7" fill="#eba458"/>
<circle cx="178.9" cy="52.7" r="2.7" fill="#e99a50"/>
<circle cx="172.2" cy="58.6" r="2.7" fill="#e4763c"/>
<circle cx="170.4" cy="64.8" r="2.7" fill="#e4763c"/>
<circle cx="165.4" cy="68.4" r="2.7" fill="#e4763c"/>
<circle cx="158.8" cy="70.5" r="2.7" fill="#e87a40"/>
<circle cx="152.5" cy="69.6" r="2.7" fill="#e87a40"/>
<circle cx="146.5" cy="65" r="2.7" fill="#e87a40"/>
<circle cx="144.9" cy="59" r="2.7" fill="#e88848"/>
<circle cx="145.3" cy="52.1" r="2.7" fill="#e4763c"/>
<circle cx="148.1" cy="46.9" r="2.7" fill="#e4763c"/>
<circle cx="154.4" cy="44" r="2.7" fill="#e88848"/>
<circle cx="161.6" cy="43.5" r="2.7" fill="#e88848"/>
<circle cx="167.7" cy="45.8" r="2.7" fill="#e4763c"/>
<circle cx="171.1" cy="51.9" r="2.7" fill="#e88848"/>
<circle cx="159.8" cy="57.8" r="3" fill="#c42030"/>
<circle cx="166.6" cy="53.9" r="3" fill="#c82232"/>
<circle cx="166.6" cy="61" r="3" fill="#c82232"/>
<circle cx="159.8" cy="65.3" r="3" fill="#c42030"/>
<circle cx="152.7" cy="53.9" r="2.9" fill="#e05a38"/>
<circle cx="152.7" cy="61.4" r="2.9" fill="#e05a38"/>
<circle cx="159.1" cy="49.6" r="2.9" fill="#e36838"/>
<text transform="translate(199.56 58.30) scale(0.25)" font-family="Liberation Sans" font-size="7.60" font-weight="normal" fill="#2a1a10" text-anchor="middle" textLength="14.58" lengthAdjust="spacingAndGlyphs" fill-opacity="0.9">CDKN1A</text>
<text transform="translate(198.16 66.78) scale(0.25)" font-family="Liberation Sans" font-size="7.60" font-weight="normal" fill="#2a1a10" text-anchor="middle" textLength="14.58" lengthAdjust="spacingAndGlyphs" fill-opacity="0.9">GADD45B</text>
<text transform="translate(196.41 72.59) scale(0.25)" font-family="Liberation Sans" font-size="7.60" font-weight="normal" fill="#2a1a10" text-anchor="middle" textLength="14.58" lengthAdjust="spacingAndGlyphs" fill-opacity="0.9">MCL1</text>
<text transform="translate(187.15 85.28) scale(0.25)" font-family="Liberation Sans" font-size="7.60" font-weight="normal" fill="#2a1a10" text-anchor="middle" textLength="12.54" lengthAdjust="spacingAndGlyphs" fill-opacity="0.9">ID2</text>
<text transform="translate(184.82 88.25) scale(0.25)" font-family="Liberation Sans" font-size="7.60" font-weight="normal" fill="#2a1a10" text-anchor="middle" textLength="14.58" lengthAdjust="spacingAndGlyphs" fill-opacity="0.9">PDE4B</text>
<text transform="translate(175.63 93.54) scale(0.25)" font-family="Liberation Sans" font-size="7.60" font-weight="normal" fill="#2a1a10" text-anchor="middle" textLength="14.58" lengthAdjust="spacingAndGlyphs" fill-opacity="0.9">SLC2A3</text>
<text transform="translate(154.76 96.06) scale(0.25)" font-family="Liberation Sans" font-size="7.60" font-weight="normal" fill="#2a1a10" text-anchor="middle" textLength="14.58" lengthAdjust="spacingAndGlyphs" fill-opacity="0.9">TXNIP</text>
<text transform="translate(148.89 95.63) scale(0.25)" font-family="Liberation Sans" font-size="7.60" font-weight="normal" fill="#2a1a10" text-anchor="middle" textLength="14.58" lengthAdjust="spacingAndGlyphs" fill-opacity="0.9">KDM6B</text>
<text transform="translate(138.89 92.13) scale(0.25)" font-family="Liberation Sans" font-size="7.60" font-weight="normal" fill="#2a1a10" text-anchor="middle" textLength="12.54" lengthAdjust="spacingAndGlyphs" fill-opacity="0.9">REL</text>
<text transform="translate(133.73 88.82) scale(0.25)" font-family="Liberation Sans" font-size="7.60" font-weight="normal" fill="#2a1a10" text-anchor="middle" textLength="14.58" lengthAdjust="spacingAndGlyphs" fill-opacity="0.9">BHLHE40</text>
<text transform="translate(128.46 84.41) scale(0.25)" font-family="Liberation Sans" font-size="7.60" font-weight="normal" fill="#2a1a10" text-anchor="middle" textLength="14.58" lengthAdjust="spacingAndGlyphs" fill-opacity="0.9">CCNL1</text>
<text transform="translate(123.53 78.28) scale(0.25)" font-family="Liberation Sans" font-size="7.60" font-weight="normal" fill="#2a1a10" text-anchor="middle" textLength="14.58" lengthAdjust="spacingAndGlyphs" fill-opacity="0.9">SAT1</text>
<text transform="translate(119.55 70.16) scale(0.25)" font-family="Liberation Sans" font-size="7.60" font-weight="normal" fill="#2a1a10" text-anchor="middle" textLength="14.58" lengthAdjust="spacingAndGlyphs" fill-opacity="0.9">IL7R</text>
<text transform="translate(118.33 63.44) scale(0.25)" font-family="Liberation Sans" font-size="7.60" font-weight="normal" fill="#2a1a10" text-anchor="middle" textLength="14.58" lengthAdjust="spacingAndGlyphs" fill-opacity="0.9">CD83</text>
<text transform="translate(118.28 51.01) scale(0.25)" font-family="Liberation Sans" font-size="7.60" font-weight="normal" fill="#2a1a10" text-anchor="middle" textLength="14.58" lengthAdjust="spacingAndGlyphs" fill-opacity="0.9">NFKBIA</text>
<text transform="translate(119.74 43.78) scale(0.25)" font-family="Liberation Sans" font-size="7.60" font-weight="normal" fill="#2a1a10" text-anchor="middle" textLength="12.54" lengthAdjust="spacingAndGlyphs" fill-opacity="0.9">EZR</text>
<text transform="translate(123.33 38.05) scale(0.25)" font-family="Liberation Sans" font-size="7.60" font-weight="normal" fill="#2a1a10" text-anchor="middle" textLength="14.58" lengthAdjust="spacingAndGlyphs" fill-opacity="0.9">ANXA1</text>
<text transform="translate(128.35 30.72) scale(0.25)" font-family="Liberation Sans" font-size="7.60" font-weight="normal" fill="#2a1a10" text-anchor="middle" textLength="14.58" lengthAdjust="spacingAndGlyphs" fill-opacity="0.9">LMNA</text>
<text transform="translate(134.99 26.55) scale(0.25)" font-family="Liberation Sans" font-size="7.60" font-weight="normal" fill="#2a1a10" text-anchor="middle" textLength="14.58" lengthAdjust="spacingAndGlyphs" fill-opacity="0.9">IER5</text>
<text transform="translate(140.53 22.13) scale(0.25)" font-family="Liberation Sans" font-size="7.60" font-weight="normal" fill="#2a1a10" text-anchor="middle" textLength="14.58" lengthAdjust="spacingAndGlyphs" fill-opacity="0.9">JUNB</text>
<text transform="translate(146.30 20.66) scale(0.25)" font-family="Liberation Sans" font-size="7.60" font-weight="normal" fill="#2a1a10" text-anchor="middle" textLength="14.58" lengthAdjust="spacingAndGlyphs" fill-opacity="0.9">KLF6</text>
<text transform="translate(156.21 18.98) scale(0.25)" font-family="Liberation Sans" font-size="7.60" font-weight="normal" fill="#2a1a10" text-anchor="middle" textLength="14.58" lengthAdjust="spacingAndGlyphs" fill-opacity="0.9">RGS1</text>
<text transform="translate(162.41 19.19) scale(0.25)" font-family="Liberation Sans" font-size="7.60" font-weight="normal" fill="#2a1a10" text-anchor="middle" textLength="14.58" lengthAdjust="spacingAndGlyphs" fill-opacity="0.9">CD69</text>
<text transform="translate(170.29 19.47) scale(0.25)" font-family="Liberation Sans" font-size="7.60" font-weight="normal" fill="#2a1a10" text-anchor="middle" textLength="14.58" lengthAdjust="spacingAndGlyphs" fill-opacity="0.9">IER2</text>
<text transform="translate(177.76 23.15) scale(0.25)" font-family="Liberation Sans" font-size="7.60" font-weight="normal" fill="#2a1a10" text-anchor="middle" textLength="14.58" lengthAdjust="spacingAndGlyphs" fill-opacity="0.9">DUSP2</text>
<text transform="translate(185.14 27.02) scale(0.25)" font-family="Liberation Sans" font-size="7.60" font-weight="normal" fill="#2a1a10" text-anchor="middle" textLength="14.58" lengthAdjust="spacingAndGlyphs" fill-opacity="0.9">CXCR4</text>
<text transform="translate(190.27 32.18) scale(0.25)" font-family="Liberation Sans" font-size="7.60" font-weight="normal" fill="#2a1a10" text-anchor="middle" textLength="14.58" lengthAdjust="spacingAndGlyphs" fill-opacity="0.9">ZFP36</text>
<text transform="translate(193.11 37.74) scale(0.25)" font-family="Liberation Sans" font-size="7.60" font-weight="normal" fill="#2a1a10" text-anchor="middle" textLength="14.58" lengthAdjust="spacingAndGlyphs" fill-opacity="0.9">TSC22D3</text>
<text transform="translate(196.31 43.58) scale(0.25)" font-family="Liberation Sans" font-size="7.60" font-weight="normal" fill="#2a1a10" text-anchor="middle" textLength="14.58" lengthAdjust="spacingAndGlyphs" fill-opacity="0.9">NR4A2</text>
<text transform="translate(198.33 52.09) scale(0.25)" font-family="Liberation Sans" font-size="7.60" font-weight="normal" fill="#2a1a10" text-anchor="middle" textLength="14.58" lengthAdjust="spacingAndGlyphs" fill-opacity="0.9">PPP1R15A</text>
<text transform="translate(192.38 59.46) scale(0.25)" font-family="Liberation Sans" font-size="7.60" font-weight="normal" fill="#2a1a10" text-anchor="middle" textLength="14.58" lengthAdjust="spacingAndGlyphs" fill-opacity="0.9">TNFAIP3</text>
<text transform="translate(191.58 67.64) scale(0.25)" font-family="Liberation Sans" font-size="7.60" font-weight="normal" fill="#2a1a10" text-anchor="middle" textLength="14.58" lengthAdjust="spacingAndGlyphs" fill-opacity="0.9">SRGN</text>
<text transform="translate(188.86 73.40) scale(0.25)" font-family="Liberation Sans" font-size="7.60" font-weight="normal" fill="#2a1a10" text-anchor="middle" textLength="14.58" lengthAdjust="spacingAndGlyphs" fill-opacity="0.9">CCL5</text>
<text transform="translate(183.61 79.44) scale(0.25)" font-family="Liberation Sans" font-size="7.60" font-weight="normal" fill="#2a1a10" text-anchor="middle" textLength="14.58" lengthAdjust="spacingAndGlyphs" fill-opacity="0.9">IFNG</text>
<text transform="translate(179.37 84.62) scale(0.25)" font-family="Liberation Sans" font-size="7.60" font-weight="normal" fill="#2a1a10" text-anchor="middle" textLength="14.58" lengthAdjust="spacingAndGlyphs" fill-opacity="0.9">BTG1</text>
<text transform="translate(172.15 88.52) scale(0.25)" font-family="Liberation Sans" font-size="7.60" font-weight="normal" fill="#2a1a10" text-anchor="middle" textLength="14.58" lengthAdjust="spacingAndGlyphs" fill-opacity="0.9">FOSB</text>
<text transform="translate(166.07 89.84) scale(0.25)" font-family="Liberation Sans" font-size="7.60" font-weight="normal" fill="#2a1a10" text-anchor="middle" textLength="14.58" lengthAdjust="spacingAndGlyphs" fill-opacity="0.9">EGR1</text>
<text transform="translate(158.39 90.28) scale(0.25)" font-family="Liberation Sans" font-size="7.60" font-weight="normal" fill="#2a1a10" text-anchor="middle" textLength="14.58" lengthAdjust="spacingAndGlyphs" fill-opacity="0.9">ATF3</text>
<text transform="translate(152.04 89.39) scale(0.25)" font-family="Liberation Sans" font-size="7.60" font-weight="normal" fill="#2a1a10" text-anchor="middle" textLength="14.58" lengthAdjust="spacingAndGlyphs" fill-opacity="0.9">SOCS3</text>
<text transform="translate(143.28 87.59) scale(0.25)" font-family="Liberation Sans" font-size="7.60" font-weight="normal" fill="#2a1a10" text-anchor="middle" textLength="14.58" lengthAdjust="spacingAndGlyphs" fill-opacity="0.9">H3-3B</text>
<text transform="translate(138.16 84.63) scale(0.25)" font-family="Liberation Sans" font-size="7.60" font-weight="normal" fill="#2a1a10" text-anchor="middle" textLength="14.58" lengthAdjust="spacingAndGlyphs" fill-opacity="0.9">YPEL3</text>
<text transform="translate(133.09 78.94) scale(0.25)" font-family="Liberation Sans" font-size="7.60" font-weight="normal" fill="#2a1a10" text-anchor="middle" textLength="14.58" lengthAdjust="spacingAndGlyphs" fill-opacity="0.9">NFKBIZ</text>
<text transform="translate(128.58 73.73) scale(0.25)" font-family="Liberation Sans" font-size="7.60" font-weight="normal" fill="#2a1a10" text-anchor="middle" textLength="14.58" lengthAdjust="spacingAndGlyphs" fill-opacity="0.9">CREM</text>
<text transform="translate(126.20 68.92) scale(0.25)" font-family="Liberation Sans" font-size="7.60" font-weight="normal" fill="#2a1a10" text-anchor="middle" textLength="14.58" lengthAdjust="spacingAndGlyphs" fill-opacity="0.9">IRF1</text>
<text transform="translate(124.76 62.08) scale(0.25)" font-family="Liberation Sans" font-size="7.60" font-weight="normal" fill="#2a1a10" text-anchor="middle" textLength="14.58" lengthAdjust="spacingAndGlyphs" fill-opacity="0.9">STAT3</text>
<text transform="translate(124.12 54.93) scale(0.25)" font-family="Liberation Sans" font-size="7.60" font-weight="normal" fill="#2a1a10" text-anchor="middle" textLength="14.58" lengthAdjust="spacingAndGlyphs" fill-opacity="0.9">CEBPB</text>
<text transform="translate(125.74 46.95) scale(0.25)" font-family="Liberation Sans" font-size="7.60" font-weight="normal" fill="#2a1a10" text-anchor="middle" textLength="14.58" lengthAdjust="spacingAndGlyphs" fill-opacity="0.9">PNRC1</text>
<text transform="translate(129.15 41.83) scale(0.25)" font-family="Liberation Sans" font-size="7.60" font-weight="normal" fill="#2a1a10" text-anchor="middle" textLength="14.58" lengthAdjust="spacingAndGlyphs" fill-opacity="0.9">SIK1</text>
<text transform="translate(133.23 36.29) scale(0.25)" font-family="Liberation Sans" font-size="7.60" font-weight="normal" fill="#2a1a10" text-anchor="middle" textLength="14.58" lengthAdjust="spacingAndGlyphs" fill-opacity="0.9">TOB1</text>
<text transform="translate(137.78 30.82) scale(0.25)" font-family="Liberation Sans" font-size="7.60" font-weight="normal" fill="#2a1a10" text-anchor="middle" textLength="14.58" lengthAdjust="spacingAndGlyphs" fill-opacity="0.9">RHOB</text>
<text transform="translate(143.03 28.65) scale(0.25)" font-family="Liberation Sans" font-size="7.60" font-weight="normal" fill="#2a1a10" text-anchor="middle" textLength="14.58" lengthAdjust="spacingAndGlyphs" fill-opacity="0.9">CDKN1A</text>
<text transform="translate(151.93 25.78) scale(0.25)" font-family="Liberation Sans" font-size="7.60" font-weight="normal" fill="#2a1a10" text-anchor="middle" textLength="14.58" lengthAdjust="spacingAndGlyphs" fill-opacity="0.9">GADD45B</text>
<text transform="translate(158.34 24.55) scale(0.25)" font-family="Liberation Sans" font-size="7.60" font-weight="normal" fill="#2a1a10" text-anchor="middle" textLength="14.58" lengthAdjust="spacingAndGlyphs" fill-opacity="0.9">MCL1</text>
<text transform="translate(165.08 25.46) scale(0.25)" font-family="Liberation Sans" font-size="7.60" font-weight="normal" fill="#2a1a10" text-anchor="middle" textLength="12.54" lengthAdjust="spacingAndGlyphs" fill-opacity="0.9">ID2</text>
<text transform="translate(172.36 27.07) scale(0.25)" font-family="Liberation Sans" font-size="7.60" font-weight="normal" fill="#2a1a10" text-anchor="middle" textLength="14.58" lengthAdjust="spacingAndGlyphs" fill-opacity="0.9">PDE4B</text>
<text transform="translate(179.30 31.06) scale(0.25)" font-family="Liberation Sans" font-size="7.60" font-weight="normal" fill="#2a1a10" text-anchor="middle" textLength="14.58" lengthAdjust="spacingAndGlyphs" fill-opacity="0.9">SLC2A3</text>
<text transform="translate(184.75 35.52) scale(0.25)" font-family="Liberation Sans" font-size="7.60" font-weight="normal" fill="#2a1a10" text-anchor="middle" textLength="14.58" lengthAdjust="spacingAndGlyphs" fill-opacity="0.9">TXNIP</text>
<text transform="translate(188.07 40.39) scale(0.25)" font-family="Liberation Sans" font-size="7.60" font-weight="normal" fill="#2a1a10" text-anchor="middle" textLength="14.58" lengthAdjust="spacingAndGlyphs" fill-opacity="0.9">KDM6B</text>
<text transform="translate(190.76 47.46) scale(0.25)" font-family="Liberation Sans" font-size="7.60" font-weight="normal" fill="#2a1a10" text-anchor="middle" textLength="12.54" lengthAdjust="spacingAndGlyphs" fill-opacity="0.9">REL</text>
<text transform="translate(192.97 53.97) scale(0.25)" font-family="Liberation Sans" font-size="7.60" font-weight="normal" fill="#2a1a10" text-anchor="middle" textLength="14.58" lengthAdjust="spacingAndGlyphs" fill-opacity="0.9">BHLHE40</text>
<text transform="translate(186.59 57.81) scale(0.25)" font-family="Liberation Sans" font-size="7.60" font-weight="normal" fill="#2a1a10" text-anchor="middle" textLength="14.58" lengthAdjust="spacingAndGlyphs" fill-opacity="0.9">CCNL1</text>
<text transform="translate(184.42 65.77) scale(0.25)" font-family="Liberation Sans" font-size="7.60" font-weight="normal" fill="#2a1a10" text-anchor="middle" textLength="14.58" lengthAdjust="spacingAndGlyphs" fill-opacity="0.9">SAT1</text>
<text transform="translate(181.69 70.68) scale(0.25)" font-family="Liberation Sans" font-size="7.60" font-weight="normal" fill="#2a1a10" text-anchor="middle" textLength="14.58" lengthAdjust="spacingAndGlyphs" fill-opacity="0.9">IL7R</text>
<text transform="translate(177.15 76.71) scale(0.25)" font-family="Liberation Sans" font-size="7.60" font-weight="normal" fill="#2a1a10" text-anchor="middle" textLength="14.58" lengthAdjust="spacingAndGlyphs" fill-opacity="0.9">CD83</text>
<text transform="translate(172.47 81.31) scale(0.25)" font-family="Liberation Sans" font-size="7.60" font-weight="normal" fill="#2a1a10" text-anchor="middle" textLength="14.58" lengthAdjust="spacingAndGlyphs" fill-opacity="0.9">NFKBIA</text>
<text transform="translate(166.38 82.69) scale(0.25)" font-family="Liberation Sans" font-size="7.60" font-weight="normal" fill="#2a1a10" text-anchor="middle" textLength="12.54" lengthAdjust="spacingAndGlyphs" fill-opacity="0.9">EZR</text>
<text transform="translate(160.12 84.65) scale(0.25)" font-family="Liberation Sans" font-size="7.60" font-weight="normal" fill="#2a1a10" text-anchor="middle" textLength="14.58" lengthAdjust="spacingAndGlyphs" fill-opacity="0.9">ANXA1</text>
<text transform="translate(150.75 83.55) scale(0.25)" font-family="Liberation Sans" font-size="7.60" font-weight="normal" fill="#2a1a10" text-anchor="middle" textLength="14.58" lengthAdjust="spacingAndGlyphs" fill-opacity="0.9">LMNA</text>
<text transform="translate(145.95 81.94) scale(0.25)" font-family="Liberation Sans" font-size="7.60" font-weight="normal" fill="#2a1a10" text-anchor="middle" textLength="14.58" lengthAdjust="spacingAndGlyphs" fill-opacity="0.9">IER5</text>
<text transform="translate(140.50 78.39) scale(0.25)" font-family="Liberation Sans" font-size="7.60" font-weight="normal" fill="#2a1a10" text-anchor="middle" textLength="14.58" lengthAdjust="spacingAndGlyphs" fill-opacity="0.9">JUNB</text>
<text transform="translate(135.34 71.52) scale(0.25)" font-family="Liberation Sans" font-size="7.60" font-weight="normal" fill="#2a1a10" text-anchor="middle" textLength="14.58" lengthAdjust="spacingAndGlyphs" fill-opacity="0.9">KLF6</text>
<text transform="translate(132.06 65.53) scale(0.25)" font-family="Liberation Sans" font-size="7.60" font-weight="normal" fill="#2a1a10" text-anchor="middle" textLength="14.58" lengthAdjust="spacingAndGlyphs" fill-opacity="0.9">RGS1</text>
<text transform="translate(130.79 60.77) scale(0.25)" font-family="Liberation Sans" font-size="7.60" font-weight="normal" fill="#2a1a10" text-anchor="middle" textLength="14.58" lengthAdjust="spacingAndGlyphs" fill-opacity="0.9">CD69</text>
<text transform="translate(131.10 52.94) scale(0.25)" font-family="Liberation Sans" font-size="7.60" font-weight="normal" fill="#2a1a10" text-anchor="middle" textLength="14.58" lengthAdjust="spacingAndGlyphs" fill-opacity="0.9">IER2</text>
<text transform="translate(133.58 46.41) scale(0.25)" font-family="Liberation Sans" font-size="7.60" font-weight="normal" fill="#2a1a10" text-anchor="middle" textLength="14.58" lengthAdjust="spacingAndGlyphs" fill-opacity="0.9">DUSP2</text>
<text transform="translate(138.28 40.74) scale(0.25)" font-family="Liberation Sans" font-size="7.60" font-weight="normal" fill="#2a1a10" text-anchor="middle" textLength="14.58" lengthAdjust="spacingAndGlyphs" fill-opacity="0.9">CXCR4</text>
<text transform="translate(140.98 36.70) scale(0.25)" font-family="Liberation Sans" font-size="7.60" font-weight="normal" fill="#2a1a10" text-anchor="middle" textLength="14.58" lengthAdjust="spacingAndGlyphs" fill-opacity="0.9">ZFP36</text>
<text transform="translate(149.09 32.48) scale(0.25)" font-family="Liberation Sans" font-size="7.60" font-weight="normal" fill="#2a1a10" text-anchor="middle" textLength="14.58" lengthAdjust="spacingAndGlyphs" fill-opacity="0.9">TSC22D3</text>
<text transform="translate(155.98 31.49) scale(0.25)" font-family="Liberation Sans" font-size="7.60" font-weight="normal" fill="#2a1a10" text-anchor="middle" textLength="14.58" lengthAdjust="spacingAndGlyphs" fill-opacity="0.9">NR4A2</text>
<text transform="translate(160.54 31.93) scale(0.25)" font-family="Liberation Sans" font-size="7.60" font-weight="normal" fill="#2a1a10" text-anchor="middle" textLength="14.58" lengthAdjust="spacingAndGlyphs" fill-opacity="0.9">PPP1R15A</text>
<text transform="translate(169.32 32.75) scale(0.25)" font-family="Liberation Sans" font-size="7.60" font-weight="normal" fill="#2a1a10" text-anchor="middle" textLength="14.58" lengthAdjust="spacingAndGlyphs" fill-opacity="0.9">TNFAIP3</text>
<text transform="translate(174.91 36.26) scale(0.25)" font-family="Liberation Sans" font-size="7.60" font-weight="normal" fill="#2a1a10" text-anchor="middle" textLength="14.58" lengthAdjust="spacingAndGlyphs" fill-opacity="0.9">SRGN</text>
<text transform="translate(180.07 40.41) scale(0.25)" font-family="Liberation Sans" font-size="7.60" font-weight="normal" fill="#2a1a10" text-anchor="middle" textLength="14.58" lengthAdjust="spacingAndGlyphs" fill-opacity="0.9">CCL5</text>
<text transform="translate(183.33 45.60) scale(0.25)" font-family="Liberation Sans" font-size="7.60" font-weight="normal" fill="#2a1a10" text-anchor="middle" textLength="14.58" lengthAdjust="spacingAndGlyphs" fill-opacity="0.9">IFNG</text>
<text transform="translate(185.72 52.05) scale(0.25)" font-family="Liberation Sans" font-size="7.60" font-weight="normal" fill="#2a1a10" text-anchor="middle" textLength="14.58" lengthAdjust="spacingAndGlyphs" fill-opacity="0.9">BTG1</text>
<text transform="translate(179.50 61.74) scale(0.25)" font-family="Liberation Sans" font-size="7.60" font-weight="normal" fill="#2a1a10" text-anchor="middle" textLength="14.58" lengthAdjust="spacingAndGlyphs" fill-opacity="0.9">FOSB</text>
<text transform="translate(177.45 66.32) scale(0.25)" font-family="Liberation Sans" font-size="7.60" font-weight="normal" fill="#2a1a10" text-anchor="middle" textLength="14.58" lengthAdjust="spacingAndGlyphs" fill-opacity="0.9">EGR1</text>
<text transform="translate(173.37 71.32) scale(0.25)" font-family="Liberation Sans" font-size="7.60" font-weight="normal" fill="#2a1a10" text-anchor="middle" textLength="14.58" lengthAdjust="spacingAndGlyphs" fill-opacity="0.9">ATF3</text>
<text transform="translate(167.47 75.75) scale(0.25)" font-family="Liberation Sans" font-size="7.60" font-weight="normal" fill="#2a1a10" text-anchor="middle" textLength="14.58" lengthAdjust="spacingAndGlyphs" fill-opacity="0.9">SOCS3</text>
<text transform="translate(160.87 78.28) scale(0.25)" font-family="Liberation Sans" font-size="7.60" font-weight="normal" fill="#2a1a10" text-anchor="middle" textLength="14.58" lengthAdjust="spacingAndGlyphs" fill-opacity="0.9">H3-3B</text>
<text transform="translate(152.81 77.31) scale(0.25)" font-family="Liberation Sans" font-size="7.60" font-weight="normal" fill="#2a1a10" text-anchor="middle" textLength="14.58" lengthAdjust="spacingAndGlyphs" fill-opacity="0.9">YPEL3</text>
<text transform="translate(147.86 74.86) scale(0.25)" font-family="Liberation Sans" font-size="7.60" font-weight="normal" fill="#2a1a10" text-anchor="middle" textLength="14.58" lengthAdjust="spacingAndGlyphs" fill-opacity="0.9">NFKBIZ</text>
<text transform="translate(141.48 69.92) scale(0.25)" font-family="Liberation Sans" font-size="7.60" font-weight="normal" fill="#2a1a10" text-anchor="middle" textLength="14.58" lengthAdjust="spacingAndGlyphs" fill-opacity="0.9">CREM</text>
<text transform="translate(139.05 64.94) scale(0.25)" font-family="Liberation Sans" font-size="7.60" font-weight="normal" fill="#2a1a10" text-anchor="middle" textLength="14.58" lengthAdjust="spacingAndGlyphs" fill-opacity="0.9">IRF1</text>
<text transform="translate(137.51 57.82) scale(0.25)" font-family="Liberation Sans" font-size="7.60" font-weight="normal" fill="#2a1a10" text-anchor="middle" textLength="14.58" lengthAdjust="spacingAndGlyphs" fill-opacity="0.9">STAT3</text>
<text transform="translate(138.48 51.21) scale(0.25)" font-family="Liberation Sans" font-size="7.60" font-weight="normal" fill="#2a1a10" text-anchor="middle" textLength="14.58" lengthAdjust="spacingAndGlyphs" fill-opacity="0.9">CEBPB</text>
<text transform="translate(141.05 45.38) scale(0.25)" font-family="Liberation Sans" font-size="7.60" font-weight="normal" fill="#2a1a10" text-anchor="middle" textLength="14.58" lengthAdjust="spacingAndGlyphs" fill-opacity="0.9">PNRC1</text>
<text transform="translate(147.30 41.42) scale(0.25)" font-family="Liberation Sans" font-size="7.60" font-weight="normal" fill="#2a1a10" text-anchor="middle" textLength="14.58" lengthAdjust="spacingAndGlyphs" fill-opacity="0.9">SIK1</text>
<text transform="translate(152.52 38.64) scale(0.25)" font-family="Liberation Sans" font-size="7.60" font-weight="normal" fill="#2a1a10" text-anchor="middle" textLength="14.58" lengthAdjust="spacingAndGlyphs" fill-opacity="0.9">TOB1</text>
<text transform="translate(160.60 38.18) scale(0.25)" font-family="Liberation Sans" font-size="7.60" font-weight="normal" fill="#2a1a10" text-anchor="middle" textLength="14.58" lengthAdjust="spacingAndGlyphs" fill-opacity="0.9">RHOB</text>
<text transform="translate(166.88 39.37) scale(0.25)" font-family="Liberation Sans" font-size="7.60" font-weight="normal" fill="#2a1a10" text-anchor="middle" textLength="14.58" lengthAdjust="spacingAndGlyphs" fill-opacity="0.9">CDKN1A</text>
<text transform="translate(172.90 42.31) scale(0.25)" font-family="Liberation Sans" font-size="7.60" font-weight="normal" fill="#2a1a10" text-anchor="middle" textLength="14.58" lengthAdjust="spacingAndGlyphs" fill-opacity="0.9">GADD45B</text>
<text transform="translate(176.98 47.14) scale(0.25)" font-family="Liberation Sans" font-size="7.60" font-weight="normal" fill="#2a1a10" text-anchor="middle" textLength="14.58" lengthAdjust="spacingAndGlyphs" fill-opacity="0.9">MCL1</text>
<text transform="translate(178.93 53.43) scale(0.25)" font-family="Liberation Sans" font-size="7.60" font-weight="normal" fill="#2a1a10" text-anchor="middle" textLength="12.54" lengthAdjust="spacingAndGlyphs" fill-opacity="0.9">ID2</text>
<text transform="translate(172.20 59.25) scale(0.25)" font-family="Liberation Sans" font-size="7.60" font-weight="normal" fill="#2a1a10" text-anchor="middle" textLength="14.58" lengthAdjust="spacingAndGlyphs" fill-opacity="0.9">PDE4B</text>
<text transform="translate(170.44 65.48) scale(0.25)" font-family="Liberation Sans" font-size="7.60" font-weight="normal" fill="#2a1a10" text-anchor="middle" textLength="14.58" lengthAdjust="spacingAndGlyphs" fill-opacity="0.9">SLC2A3</text>
<text transform="translate(165.35 69.09) scale(0.25)" font-family="Liberation Sans" font-size="7.60" font-weight="normal" fill="#2a1a10" text-anchor="middle" textLength="14.58" lengthAdjust="spacingAndGlyphs" fill-opacity="0.9">TXNIP</text>
<text transform="translate(158.84 71.19) scale(0.25)" font-family="Liberation Sans" font-size="7.60" font-weight="normal" fill="#2a1a10" text-anchor="middle" textLength="14.58" lengthAdjust="spacingAndGlyphs" fill-opacity="0.9">KDM6B</text>
<text transform="translate(152.45 70.28) scale(0.25)" font-family="Liberation Sans" font-size="7.60" font-weight="normal" fill="#2a1a10" text-anchor="middle" textLength="12.54" lengthAdjust="spacingAndGlyphs" fill-opacity="0.9">REL</text>
<text transform="translate(146.49 65.73) scale(0.25)" font-family="Liberation Sans" font-size="7.60" font-weight="normal" fill="#2a1a10" text-anchor="middle" textLength="14.58" lengthAdjust="spacingAndGlyphs" fill-opacity="0.9">BHLHE40</text>
<text transform="translate(144.94 59.68) scale(0.25)" font-family="Liberation Sans" font-size="7.60" font-weight="normal" fill="#2a1a10" text-anchor="middle" textLength="14.58" lengthAdjust="spacingAndGlyphs" fill-opacity="0.9">CCNL1</text>
<text transform="translate(145.33 52.77) scale(0.25)" font-family="Liberation Sans" font-size="7.60" font-weight="normal" fill="#2a1a10" text-anchor="middle" textLength="14.58" lengthAdjust="spacingAndGlyphs" fill-opacity="0.9">SAT1</text>
<text transform="translate(148.06 47.56) scale(0.25)" font-family="Liberation Sans" font-size="7.60" font-weight="normal" fill="#2a1a10" text-anchor="middle" textLength="14.58" lengthAdjust="spacingAndGlyphs" fill-opacity="0.9">IL7R</text>
<text transform="translate(154.38 44.66) scale(0.25)" font-family="Liberation Sans" font-size="7.60" font-weight="normal" fill="#2a1a10" text-anchor="middle" textLength="14.58" lengthAdjust="spacingAndGlyphs" fill-opacity="0.9">CD83</text>
<text transform="translate(161.58 44.23) scale(0.25)" font-family="Liberation Sans" font-size="7.60" font-weight="normal" fill="#2a1a10" text-anchor="middle" textLength="14.58" lengthAdjust="spacingAndGlyphs" fill-opacity="0.9">NFKBIA</text>
<text transform="translate(167.67 46.49) scale(0.25)" font-family="Liberation Sans" font-size="7.60" font-weight="normal" fill="#2a1a10" text-anchor="middle" textLength="12.54" lengthAdjust="spacingAndGlyphs" fill-opacity="0.9">EZR</text>
<text transform="translate(171.06 52.55) scale(0.25)" font-family="Liberation Sans" font-size="7.60" font-weight="normal" fill="#2a1a10" text-anchor="middle" textLength="14.58" lengthAdjust="spacingAndGlyphs" fill-opacity="0.9">ANXA1</text>
<text transform="translate(159.80 58.48) scale(0.25)" font-family="Liberation Sans" font-size="7.60" font-weight="normal" fill="#2a1a10" text-anchor="middle" textLength="15.93" lengthAdjust="spacingAndGlyphs" fill-opacity="0.9">LMNA</text>
<text transform="translate(166.60 54.58) scale(0.25)" font-family="Liberation Sans" font-size="7.60" font-weight="normal" fill="#2a1a10" text-anchor="middle" textLength="15.93" lengthAdjust="spacingAndGlyphs" fill-opacity="0.9">IER5</text>
<text transform="translate(166.60 61.68) scale(0.25)" font-family="Liberation Sans" font-size="7.60" font-weight="normal" fill="#2a1a10" text-anchor="middle" textLength="15.93" lengthAdjust="spacingAndGlyphs" fill-opacity="0.9">JUNB</text>
<text transform="translate(159.80 65.98) scale(0.25)" font-family="Liberation Sans" font-size="7.60" font-weight="normal" fill="#2a1a10" text-anchor="middle" textLength="15.93" lengthAdjust="spacingAndGlyphs" fill-opacity="0.9">KLF6</text>
<text transform="translate(152.70 54.58) scale(0.25)" font-family="Liberation Sans" font-size="7.60" font-weight="normal" fill="#2a1a10" text-anchor="middle" textLength="15.66" lengthAdjust="spacingAndGlyphs" fill-opacity="0.9">RGS1</text>
<text transform="translate(152.70 62.08) scale(0.25)" font-family="Liberation Sans" font-size="7.60" font-weight="normal" fill="#2a1a10" text-anchor="middle" textLength="15.66" lengthAdjust="spacingAndGlyphs" fill-opacity="0.9">CD69</text>
<text transform="translate(159.10 50.28) scale(0.25)" font-family="Liberation Sans" font-size="7.60" font-weight="normal" fill="#2a1a10" text-anchor="middle" textLength="15.66" lengthAdjust="spacingAndGlyphs" fill-opacity="0.9">IER2</text>
<ellipse cx="446.5" cy="55.5" rx="34" ry="32" fill="#ececec"/>
<path d="M475.3 58.7L459.4 67M482.8 35L425.1 36.6M485.8 40.7L461.3 79.6M459.4 67L455.8 16.7M419.8 44.5L459.4 67M476.8 83.3L427 76.2M465.9 34.7L429.1 57.5M426.6 90.6L449.8 95.2M472 87.2L488.8 54.7M434.2 80.8L440.3 16.1M432.5 65.7L448.1 38.6M446.9 54.7L458.4 30M418 60.6L457.1 94M452.8 82.8L438.1 53M450.3 72.1L404.4 51.5M406.1 43.8L463 92.1M408.5 72.9L440.3 28.1M412.5 31.9L464.1 19.3M434.2 80.8L444.2 83.4M458.4 30L452.8 82.8M476.8 83.3L419.8 44.5M404.4 59.3L418 84.9M432.1 31.2L457.2 42M440 71.3L450.3 72.1M472 87.2L419.8 44.5M444.7 46.9L452.8 82.8M404.4 59.3L463 92.1M421.2 69.2L419.6 24.8M452.9 49.5L404.4 59.3M488.8 54.7L485.8 40.7M409.1 36.9L426.6 90.6M448.1 38.6L440.3 28.1M440.1 94.8L419.8 44.5M475.3 58.7L464.1 19.3M463 92.1L482.8 35M482.8 35L440.1 61.6M440 71.3L440.3 16.1M465.9 34.7L463 92.1M446.9 54.7L463 92.1M408.5 72.9L404.4 51.5M444.7 46.9L440.3 28.1M444.7 46.9L465.9 34.7M444.2 83.4L409.1 36.9M452.9 49.5L444.2 83.4M475.3 58.7L426.6 90.6M440.3 28.1L463 92.1M482.7 76.1L419.6 24.8M487.8 64.3L413.4 80.3M438.1 53L473.4 65.9M426.6 90.6L418 60.6M459.4 67L412.5 31.9M452.8 82.8L472 87.2M408.5 72.9L418 84.9M434.2 80.8L471.4 41.1M458.4 30L438.4 40.4M458.4 30L473.4 65.9M432.5 65.7L444.2 83.4M488.8 54.7L438.1 53M482.7 76.1L444.7 46.9M475.3 58.7L467.9 74.4M418 60.6L470.7 22.8M485.8 40.7L440.3 28.1M463.6 59L412.5 31.9M448.1 38.6L474.7 48.9M475.3 58.7L409.1 36.9M430.8 48L444.7 46.9M430.8 48L440.3 16.1M448.3 27.6L438.4 40.4M440.3 16.1L482.7 76.1M476.8 83.3L448.1 38.6M455 57.9L425.9 20.7M404.4 59.3L413.4 80.3M488.8 54.7L404.4 51.5M434.2 80.8L431.1 92.6M462.5 48.7L440.1 61.6M457.1 94L464.1 19.3M459.4 67L482.7 76.1M444.7 46.9L485.6 70.7M406.1 43.8L444.2 83.4M409.1 36.9L463 92.1M455 57.9L459.4 67M488.1 48.2L470.7 22.8M457.2 42L485.6 70.7M418 84.9L485.8 40.7M427 76.2L438.1 53M455 57.9L487.8 64.3M432.5 65.7L417.6 53.4M470.7 22.8L463 92.1M438.1 53L459.4 67M482.8 35L448.6 64M487.8 64.3L418 84.9M440.3 28.1L406.1 43.8M430.8 48L425.1 36.6M404.4 51.5L419.8 44.5M477.4 28.3L461.3 79.6M426.6 90.6L488.1 48.2M404.4 51.5L404.4 59.3M425.9 20.7L413.4 80.3M457.1 94L452.9 49.5M406.1 43.8L448.6 64M482.7 76.1L430.8 48M425.1 36.6L448.3 27.6M462.5 48.7L448.6 64M474.7 48.9L449.8 95.2M440 71.3L438.1 53M467.9 74.4L417.6 53.4M448.3 27.6L406.1 67.2M455.8 16.7L421.2 69.2M448.3 27.6L440.1 94.8M448.1 38.6L463.6 59M444.2 83.4L482.7 76.1M432.5 65.7L458.4 30M474.7 48.9L448.1 38.6M457.1 94L431.1 92.6M488.1 48.2L464.1 19.3M488.8 54.7L406.1 43.8M444.7 46.9L421.2 69.2M444.2 83.4L438.1 53M455.8 16.7L450.3 72.1M452.8 82.8L487.8 64.3M455.8 16.7L426.6 90.6M408.5 72.9L404.4 59.3M449.8 95.2L446.9 54.7M458.4 30L464.1 19.3M427 76.2L412.5 31.9M485.6 70.7L412.5 31.9M433 17.8L463 92.1M457.1 94L477.4 28.3M450.3 72.1L425.9 20.7M474.7 48.9L431.1 92.6M457.2 42L448.6 64M409.1 36.9L408.5 72.9M463 92.1L419.8 44.5M463 92.1L440.1 61.6M440.1 61.6L425.9 20.7M426.6 90.6L459.4 67M434.2 80.8L463.6 59M444.2 83.4L485.8 40.7M475.3 58.7L461.3 79.6M446.9 54.7L463.6 59M461.3 79.6L467.9 74.4M464.1 19.3L418 84.9M431.1 92.6L412.5 31.9M463 92.1L406.1 67.2M488.1 48.2L409.1 36.9M470.7 22.8L434.2 80.8M418 84.9L413.4 80.3M462.5 48.7L440 71.3M413.4 80.3L472 87.2M452.9 49.5L463.6 59M404.4 51.5L448.1 38.6M477.4 28.3L448.1 38.6M418 60.6L432.1 31.2M406.1 67.2L488.8 54.7M457.2 42L426.6 90.6M418 84.9L473.4 65.9M432.5 65.7L487.8 64.3M463.6 59L404.4 51.5M488.8 54.7L440.1 61.6M404.4 51.5L485.8 40.7M419.8 44.5L409.1 36.9M459.4 67L450.3 72.1M485.6 70.7L425.1 36.6M432.1 31.2L418 60.6M419.8 44.5L440.3 16.1M413.4 80.3L406.1 43.8M412.5 31.9L419.6 24.8M459.4 67L457.1 94M450.3 72.1L406.1 67.2M457.2 42L474.7 48.9M446.9 54.7L455.8 16.7M409.1 36.9L448.3 27.6M485.6 70.7L465.9 34.7M465.9 34.7L417.6 53.4M459.4 67L471.4 41.1M461.3 79.6L431.1 92.6M485.8 40.7L471.4 41.1M419.6 24.8L463 92.1M430.8 48L440 71.3M413.4 80.3L444.7 46.9M448.6 64L432.5 65.7M406.1 43.8L472 87.2M440.3 16.1L482.7 76.1M482.8 35L450.3 72.1M472 87.2L462.5 48.7M473.4 65.9L459.4 67M472 87.2L419.8 44.5M440.3 16.1L429.1 57.5M471.4 41.1L412.5 31.9M440 71.3L455.8 16.7M450.3 72.1L465.9 34.7M457.1 94L465.9 34.7M471.4 41.1L470.7 22.8M440.3 16.1L459.4 67M455.8 16.7L476.8 83.3M476.8 83.3L485.6 70.7M432.5 65.7L438.1 53M465.9 34.7L471.4 41.1M455 57.9L404.4 59.3M429.1 57.5L426.6 90.6M462.5 48.7L457.2 42M432.5 65.7L431.1 92.6M444.7 46.9L448.6 64M448.6 64L487.8 64.3M457.1 94L457.2 42M425.9 20.7L482.8 35M408.5 72.9L482.7 76.1M463.6 59L455.8 16.7M430.8 48L448.1 38.6M476.8 83.3L463.6 59M472 87.2L448.3 15.7M467.9 74.4L462.5 48.7M438.1 53L409.1 36.9M406.1 43.8L409.1 36.9M485.6 70.7L425.9 20.7M449.8 95.2L452.8 82.8M419.6 24.8L438.4 40.4M440.3 16.1L462.5 48.7M488.8 54.7L485.8 40.7M449.8 95.2L430.8 48M408.5 72.9L449.8 95.2M449.8 95.2L458.4 30M438.1 53L425.9 20.7M440.3 16.1L457.1 94M482.7 76.1L448.3 27.6M455.8 16.7L432.5 65.7M418 60.6L406.1 43.8M432.5 65.7L425.9 20.7M404.4 51.5L482.8 35M440.1 61.6L440.1 94.8M455 57.9L459.4 67M448.6 64L419.6 24.8M471.4 41.1L474.7 48.9M485.8 40.7L434.2 80.8M461.3 79.6L432.5 65.7M488.8 54.7L413.4 80.3M440 71.3L429.1 57.5M482.8 35L433 17.8M475.3 58.7L485.6 70.7M430.8 48L464.1 19.3M467.9 74.4L444.7 46.9M488.8 54.7L404.4 59.3M459.4 67L418 60.6M482.8 35L440 71.3M485.6 70.7L471.4 41.1M473.4 65.9L418 84.9M404.4 51.5L476.8 83.3M418 60.6L440 71.3M482.7 76.1L440.1 94.8M440.1 94.8L408.5 72.9M432.1 31.2L431.1 92.6M425.9 20.7L457.2 42M430.8 48L488.8 54.7M430.8 48L448.6 64M485.6 70.7L417.6 53.4M446.9 54.7L419.8 44.5M431.1 92.6L474.7 48.9M474.7 48.9L431.1 92.6M455.8 16.7L417.6 53.4M409.1 36.9L406.1 67.2M409.1 36.9L440.1 94.8M458.4 30L452.8 82.8M462.5 48.7L461.3 79.6M463.6 59L448.3 15.7M462.5 48.7L440.3 16.1M413.4 80.3L444.7 46.9M458.4 30L444.2 83.4M472 87.2L440.1 94.8M434.2 80.8L432.5 65.7M448.3 15.7L438.4 40.4M487.8 64.3L463 92.1M459.4 67L440.1 61.6M440.1 94.8L438.4 40.4M434.2 80.8L455.8 16.7M406.1 67.2L421.2 69.2M487.8 64.3L444.2 83.4M438.4 40.4L485.6 70.7M419.6 24.8L438.1 53M418 60.6L476.8 83.3M452.8 82.8L450.3 72.1M488.8 54.7L459.4 67M404.4 51.5L459.4 67M463 92.1L440.3 28.1M409.1 36.9L419.6 24.8M432.1 31.2L458.4 30M485.8 40.7L444.2 83.4M448.6 64L448.1 38.6M455.8 16.7L485.6 70.7M418 84.9L427 76.2M419.6 24.8L457.1 94M485.8 40.7L470.7 22.8M461.3 79.6L425.1 36.6M471.4 41.1L440.1 61.6M461.3 79.6L487.8 64.3M487.8 64.3L440.3 16.1M475.3 58.7L449.8 95.2M446.9 54.7L482.8 35M404.4 51.5L413.4 80.3M463.6 59L465.9 34.7" fill="none" stroke="#c4c4c4" stroke-width="0.28" stroke-opacity="0.75"/>
<circle cx="488.8" cy="54.7" r="3.9" fill="#f0dc92"/>
<circle cx="487.8" cy="64.3" r="3.9" fill="#eed68a"/>
<circle cx="485.6" cy="70.7" r="3.9" fill="#f0dc92"/>
<circle cx="482.7" cy="76.1" r="3.9" fill="#eed68a"/>
<circle cx="476.8" cy="83.3" r="3.9" fill="#eed68a"/>
<circle cx="472" cy="87.2" r="3.9" fill="#f0dc92"/>
<circle cx="463" cy="92.1" r="3.9" fill="#f0dc92"/>
<circle cx="457.1" cy="94" r="3.9" fill="#ecd080"/>
<circle cx="449.8" cy="95.2" r="3.9" fill="#f0dc92"/>
<circle cx="440.1" cy="94.8" r="3.9" fill="#eed68a"/>
<circle cx="431.1" cy="92.6" r="3.9" fill="#eed68a"/>
<circle cx="426.6" cy="90.6" r="3.9" fill="#ecd080"/>
<circle cx="418" cy="84.9" r="3.9" fill="#f0dc92"/>
<circle cx="413.4" cy="80.3" r="3.9" fill="#eed68a"/>
<circle cx="408.5" cy="72.9" r="3.9" fill="#ecd080"/>
<circle cx="406.1" cy="67.2" r="3.9" fill="#eed68a"/>
<circle cx="404.4" cy="59.3" r="3.9" fill="#f0dc92"/>
<circle cx="404.4" cy="51.5" r="3.9" fill="#ecd080"/>
<circle cx="406.1" cy="43.8" r="3.9" fill="#ecd080"/>
<circle cx="409.1" cy="36.9" r="3.9" fill="#f0dc92"/>
<circle cx="412.5" cy="31.9" r="3.9" fill="#f0dc92"/>
<circle cx="419.6" cy="24.8" r="3.9" fill="#ecd080"/>
<circle cx="425.9" cy="20.7" r="3.9" fill="#f0dc92"/>
<circle cx="433" cy="17.8" r="3.9" fill="#eed68a"/>
<circle cx="440.3" cy="16.1" r="3.9" fill="#f0dc92"/>
<circle cx="448.3" cy="15.7" r="3.9" fill="#eed68a"/>
<circle cx="455.8" cy="16.7" r="3.9" fill="#eed68a"/>
<circle cx="464.1" cy="19.3" r="3.9" fill="#ecd080"/>
<circle cx="470.7" cy="22.8" r="3.9" fill="#ecd080"/>
<circle cx="477.4" cy="28.3" r="3.9" fill="#ecd080"/>
<circle cx="482.8" cy="35" r="3.9" fill="#f0dc92"/>
<circle cx="485.8" cy="40.7" r="3.9" fill="#eed68a"/>
<circle cx="488.1" cy="48.2" r="3.9" fill="#eed68a"/>
<circle cx="475.3" cy="58.7" r="3.8" fill="#eba458"/>
<circle cx="473.4" cy="65.9" r="3.8" fill="#eaa050"/>
<circle cx="467.9" cy="74.4" r="3.8" fill="#ecb060"/>
<circle cx="461.3" cy="79.6" r="3.8" fill="#eaa050"/>
<circle cx="452.8" cy="82.8" r="3.8" fill="#eba458"/>
<circle cx="444.2" cy="83.4" r="3.8" fill="#ecb060"/>
<circle cx="434.2" cy="80.8" r="3.8" fill="#ecb060"/>
<circle cx="427" cy="76.2" r="3.8" fill="#eba458"/>
<circle cx="421.2" cy="69.2" r="3.8" fill="#eaa050"/>
<circle cx="418" cy="60.6" r="3.8" fill="#ecb060"/>
<circle cx="417.6" cy="53.4" r="3.8" fill="#eaa050"/>
<circle cx="419.8" cy="44.5" r="3.8" fill="#eaa050"/>
<circle cx="425.1" cy="36.6" r="3.8" fill="#eaa050"/>
<circle cx="432.1" cy="31.2" r="3.8" fill="#eaa050"/>
<circle cx="440.3" cy="28.1" r="3.8" fill="#eaa050"/>
<circle cx="448.3" cy="27.6" r="3.8" fill="#eaa050"/>
<circle cx="458.4" cy="30" r="3.8" fill="#ecb060"/>
<circle cx="465.9" cy="34.7" r="3.8" fill="#eaa050"/>
<circle cx="471.4" cy="41.1" r="3.8" fill="#ecb060"/>
<circle cx="474.7" cy="48.9" r="3.8" fill="#eaa050"/>
<circle cx="463.6" cy="59" r="3.8" fill="#eb9a52"/>
<circle cx="459.4" cy="67" r="3.8" fill="#e88c48"/>
<circle cx="450.3" cy="72.1" r="3.8" fill="#eb9a52"/>
<circle cx="440" cy="71.3" r="3.8" fill="#e88c48"/>
<circle cx="432.5" cy="65.7" r="3.8" fill="#eb9a52"/>
<circle cx="429.1" cy="57.5" r="3.8" fill="#e88c48"/>
<circle cx="430.8" cy="48" r="3.8" fill="#e88c48"/>
<circle cx="438.4" cy="40.4" r="3.8" fill="#eb9a52"/>
<circle cx="448.1" cy="38.6" r="3.8" fill="#e88c48"/>
<circle cx="457.2" cy="42" r="3.8" fill="#eb9a52"/>
<circle cx="462.5" cy="48.7" r="3.8" fill="#e88c48"/>
<circle cx="455" cy="57.9" r="3.8" fill="#e06a3a"/>
<circle cx="448.6" cy="64" r="3.8" fill="#e4763c"/>
<circle cx="440.1" cy="61.6" r="3.8" fill="#e4763c"/>
<circle cx="438.1" cy="53" r="3.8" fill="#e4763c"/>
<circle cx="444.7" cy="46.9" r="3.8" fill="#e06a3a"/>
<circle cx="452.9" cy="49.5" r="3.8" fill="#e4763c"/>
<circle cx="446.9" cy="54.7" r="4" fill="#c42434"/>
<text transform="translate(488.79 55.45) scale(0.25)" font-family="Liberation Sans" font-size="8.00" font-weight="normal" fill="#2a1a10" text-anchor="middle" textLength="20.79" lengthAdjust="spacingAndGlyphs" fill-opacity="0.9">DUSP2</text>
<text transform="translate(487.75 65.03) scale(0.25)" font-family="Liberation Sans" font-size="8.00" font-weight="normal" fill="#2a1a10" text-anchor="middle" textLength="20.79" lengthAdjust="spacingAndGlyphs" fill-opacity="0.9">CXCR4</text>
<text transform="translate(485.58 71.46) scale(0.25)" font-family="Liberation Sans" font-size="8.00" font-weight="normal" fill="#2a1a10" text-anchor="middle" textLength="20.79" lengthAdjust="spacingAndGlyphs" fill-opacity="0.9">ZFP36</text>
<text transform="translate(482.72 76.78) scale(0.25)" font-family="Liberation Sans" font-size="8.00" font-weight="normal" fill="#2a1a10" text-anchor="middle" textLength="20.79" lengthAdjust="spacingAndGlyphs" fill-opacity="0.9">TSC22D3</text>
<text transform="translate(476.78 84.01) scale(0.25)" font-family="Liberation Sans" font-size="8.00" font-weight="normal" fill="#2a1a10" text-anchor="middle" textLength="20.79" lengthAdjust="spacingAndGlyphs" fill-opacity="0.9">NR4A2</text>
<text transform="translate(472.04 87.94) scale(0.25)" font-family="Liberation Sans" font-size="8.00" font-weight="normal" fill="#2a1a10" text-anchor="middle" textLength="20.79" lengthAdjust="spacingAndGlyphs" fill-opacity="0.9">PPP1R15A</text>
<text transform="translate(463.00 92.87) scale(0.25)" font-family="Liberation Sans" font-size="8.00" font-weight="normal" fill="#2a1a10" text-anchor="middle" textLength="20.79" lengthAdjust="spacingAndGlyphs" fill-opacity="0.9">TNFAIP3</text>
<text transform="translate(457.15 94.74) scale(0.25)" font-family="Liberation Sans" font-size="8.00" font-weight="normal" fill="#2a1a10" text-anchor="middle" textLength="17.60" lengthAdjust="spacingAndGlyphs" fill-opacity="0.9">SRGN</text>
<text transform="translate(449.77 95.90) scale(0.25)" font-family="Liberation Sans" font-size="8.00" font-weight="normal" fill="#2a1a10" text-anchor="middle" textLength="17.60" lengthAdjust="spacingAndGlyphs" fill-opacity="0.9">CCL5</text>
<text transform="translate(440.12 95.56) scale(0.25)" font-family="Liberation Sans" font-size="8.00" font-weight="normal" fill="#2a1a10" text-anchor="middle" textLength="17.60" lengthAdjust="spacingAndGlyphs" fill-opacity="0.9">IFNG</text>
<text transform="translate(431.10 93.29) scale(0.25)" font-family="Liberation Sans" font-size="8.00" font-weight="normal" fill="#2a1a10" text-anchor="middle" textLength="17.60" lengthAdjust="spacingAndGlyphs" fill-opacity="0.9">BTG1</text>
<text transform="translate(426.58 91.33) scale(0.25)" font-family="Liberation Sans" font-size="8.00" font-weight="normal" fill="#2a1a10" text-anchor="middle" textLength="17.60" lengthAdjust="spacingAndGlyphs" fill-opacity="0.9">FOSB</text>
<text transform="translate(417.97 85.61) scale(0.25)" font-family="Liberation Sans" font-size="8.00" font-weight="normal" fill="#2a1a10" text-anchor="middle" textLength="17.60" lengthAdjust="spacingAndGlyphs" fill-opacity="0.9">EGR1</text>
<text transform="translate(413.38 80.98) scale(0.25)" font-family="Liberation Sans" font-size="8.00" font-weight="normal" fill="#2a1a10" text-anchor="middle" textLength="17.60" lengthAdjust="spacingAndGlyphs" fill-opacity="0.9">ATF3</text>
<text transform="translate(408.46 73.62) scale(0.25)" font-family="Liberation Sans" font-size="8.00" font-weight="normal" fill="#2a1a10" text-anchor="middle" textLength="20.79" lengthAdjust="spacingAndGlyphs" fill-opacity="0.9">SOCS3</text>
<text transform="translate(406.05 67.87) scale(0.25)" font-family="Liberation Sans" font-size="8.00" font-weight="normal" fill="#2a1a10" text-anchor="middle" textLength="20.79" lengthAdjust="spacingAndGlyphs" fill-opacity="0.9">H3-3B</text>
<text transform="translate(404.40 60.05) scale(0.25)" font-family="Liberation Sans" font-size="8.00" font-weight="normal" fill="#2a1a10" text-anchor="middle" textLength="20.79" lengthAdjust="spacingAndGlyphs" fill-opacity="0.9">YPEL3</text>
<text transform="translate(404.41 52.23) scale(0.25)" font-family="Liberation Sans" font-size="8.00" font-weight="normal" fill="#2a1a10" text-anchor="middle" textLength="20.79" lengthAdjust="spacingAndGlyphs" fill-opacity="0.9">NFKBIZ</text>
<text transform="translate(406.08 44.49) scale(0.25)" font-family="Liberation Sans" font-size="8.00" font-weight="normal" fill="#2a1a10" text-anchor="middle" textLength="17.60" lengthAdjust="spacingAndGlyphs" fill-opacity="0.9">CREM</text>
<text transform="translate(409.12 37.59) scale(0.25)" font-family="Liberation Sans" font-size="8.00" font-weight="normal" fill="#2a1a10" text-anchor="middle" textLength="17.60" lengthAdjust="spacingAndGlyphs" fill-opacity="0.9">IRF1</text>
<text transform="translate(412.47 32.59) scale(0.25)" font-family="Liberation Sans" font-size="8.00" font-weight="normal" fill="#2a1a10" text-anchor="middle" textLength="20.79" lengthAdjust="spacingAndGlyphs" fill-opacity="0.9">STAT3</text>
<text transform="translate(419.57 25.53) scale(0.25)" font-family="Liberation Sans" font-size="8.00" font-weight="normal" fill="#2a1a10" text-anchor="middle" textLength="20.79" lengthAdjust="spacingAndGlyphs" fill-opacity="0.9">CEBPB</text>
<text transform="translate(425.91 21.45) scale(0.25)" font-family="Liberation Sans" font-size="8.00" font-weight="normal" fill="#2a1a10" text-anchor="middle" textLength="20.79" lengthAdjust="spacingAndGlyphs" fill-opacity="0.9">PNRC1</text>
<text transform="translate(433.02 18.49) scale(0.25)" font-family="Liberation Sans" font-size="8.00" font-weight="normal" fill="#2a1a10" text-anchor="middle" textLength="17.60" lengthAdjust="spacingAndGlyphs" fill-opacity="0.9">SIK1</text>
<text transform="translate(440.28 16.85) scale(0.25)" font-family="Liberation Sans" font-size="8.00" font-weight="normal" fill="#2a1a10" text-anchor="middle" textLength="17.60" lengthAdjust="spacingAndGlyphs" fill-opacity="0.9">TOB1</text>
<text transform="translate(448.32 16.46) scale(0.25)" font-family="Liberation Sans" font-size="8.00" font-weight="normal" fill="#2a1a10" text-anchor="middle" textLength="17.60" lengthAdjust="spacingAndGlyphs" fill-opacity="0.9">RHOB</text>
<text transform="translate(455.79 17.39) scale(0.25)" font-family="Liberation Sans" font-size="8.00" font-weight="normal" fill="#2a1a10" text-anchor="middle" textLength="20.79" lengthAdjust="spacingAndGlyphs" fill-opacity="0.9">CDKN1A</text>
<text transform="translate(464.14 20.05) scale(0.25)" font-family="Liberation Sans" font-size="8.00" font-weight="normal" fill="#2a1a10" text-anchor="middle" textLength="20.79" lengthAdjust="spacingAndGlyphs" fill-opacity="0.9">GADD45B</text>
<text transform="translate(470.68 23.56) scale(0.25)" font-family="Liberation Sans" font-size="8.00" font-weight="normal" fill="#2a1a10" text-anchor="middle" textLength="17.60" lengthAdjust="spacingAndGlyphs" fill-opacity="0.9">MCL1</text>
<text transform="translate(477.36 29.00) scale(0.25)" font-family="Liberation Sans" font-size="8.00" font-weight="normal" fill="#2a1a10" text-anchor="middle" textLength="13.20" lengthAdjust="spacingAndGlyphs" fill-opacity="0.9">ID2</text>
<text transform="translate(482.78 35.76) scale(0.25)" font-family="Liberation Sans" font-size="8.00" font-weight="normal" fill="#2a1a10" text-anchor="middle" textLength="20.79" lengthAdjust="spacingAndGlyphs" fill-opacity="0.9">PDE4B</text>
<text transform="translate(485.76 41.40) scale(0.25)" font-family="Liberation Sans" font-size="8.00" font-weight="normal" fill="#2a1a10" text-anchor="middle" textLength="20.79" lengthAdjust="spacingAndGlyphs" fill-opacity="0.9">SLC2A3</text>
<text transform="translate(488.08 48.89) scale(0.25)" font-family="Liberation Sans" font-size="8.00" font-weight="normal" fill="#2a1a10" text-anchor="middle" textLength="20.79" lengthAdjust="spacingAndGlyphs" fill-opacity="0.9">TXNIP</text>
<text transform="translate(475.30 59.46) scale(0.25)" font-family="Liberation Sans" font-size="8.00" font-weight="normal" fill="#2a1a10" text-anchor="middle" textLength="20.52" lengthAdjust="spacingAndGlyphs" fill-opacity="0.9">KDM6B</text>
<text transform="translate(473.43 66.61) scale(0.25)" font-family="Liberation Sans" font-size="8.00" font-weight="normal" fill="#2a1a10" text-anchor="middle" textLength="13.20" lengthAdjust="spacingAndGlyphs" fill-opacity="0.9">REL</text>
<text transform="translate(467.94 75.07) scale(0.25)" font-family="Liberation Sans" font-size="8.00" font-weight="normal" fill="#2a1a10" text-anchor="middle" textLength="20.52" lengthAdjust="spacingAndGlyphs" fill-opacity="0.9">BHLHE40</text>
<text transform="translate(461.34 80.28) scale(0.25)" font-family="Liberation Sans" font-size="8.00" font-weight="normal" fill="#2a1a10" text-anchor="middle" textLength="20.52" lengthAdjust="spacingAndGlyphs" fill-opacity="0.9">CCNL1</text>
<text transform="translate(452.83 83.54) scale(0.25)" font-family="Liberation Sans" font-size="8.00" font-weight="normal" fill="#2a1a10" text-anchor="middle" textLength="17.60" lengthAdjust="spacingAndGlyphs" fill-opacity="0.9">SAT1</text>
<text transform="translate(444.24 84.13) scale(0.25)" font-family="Liberation Sans" font-size="8.00" font-weight="normal" fill="#2a1a10" text-anchor="middle" textLength="17.60" lengthAdjust="spacingAndGlyphs" fill-opacity="0.9">IL7R</text>
<text transform="translate(434.18 81.57) scale(0.25)" font-family="Liberation Sans" font-size="8.00" font-weight="normal" fill="#2a1a10" text-anchor="middle" textLength="17.60" lengthAdjust="spacingAndGlyphs" fill-opacity="0.9">CD83</text>
<text transform="translate(426.96 76.91) scale(0.25)" font-family="Liberation Sans" font-size="8.00" font-weight="normal" fill="#2a1a10" text-anchor="middle" textLength="20.52" lengthAdjust="spacingAndGlyphs" fill-opacity="0.9">NFKBIA</text>
<text transform="translate(421.19 69.88) scale(0.25)" font-family="Liberation Sans" font-size="8.00" font-weight="normal" fill="#2a1a10" text-anchor="middle" textLength="13.20" lengthAdjust="spacingAndGlyphs" fill-opacity="0.9">EZR</text>
<text transform="translate(417.99 61.36) scale(0.25)" font-family="Liberation Sans" font-size="8.00" font-weight="normal" fill="#2a1a10" text-anchor="middle" textLength="20.52" lengthAdjust="spacingAndGlyphs" fill-opacity="0.9">ANXA1</text>
<text transform="translate(417.58 54.09) scale(0.25)" font-family="Liberation Sans" font-size="8.00" font-weight="normal" fill="#2a1a10" text-anchor="middle" textLength="17.60" lengthAdjust="spacingAndGlyphs" fill-opacity="0.9">LMNA</text>
<text transform="translate(419.84 45.21) scale(0.25)" font-family="Liberation Sans" font-size="8.00" font-weight="normal" fill="#2a1a10" text-anchor="middle" textLength="17.60" lengthAdjust="spacingAndGlyphs" fill-opacity="0.9">IER5</text>
<text transform="translate(425.10 37.32) scale(0.25)" font-family="Liberation Sans" font-size="8.00" font-weight="normal" fill="#2a1a10" text-anchor="middle" textLength="17.60" lengthAdjust="spacingAndGlyphs" fill-opacity="0.9">JUNB</text>
<text transform="translate(432.09 31.92) scale(0.25)" font-family="Liberation Sans" font-size="8.00" font-weight="normal" fill="#2a1a10" text-anchor="middle" textLength="17.60" lengthAdjust="spacingAndGlyphs" fill-opacity="0.9">KLF6</text>
<text transform="translate(440.33 28.86) scale(0.25)" font-family="Liberation Sans" font-size="8.00" font-weight="normal" fill="#2a1a10" text-anchor="middle" textLength="17.60" lengthAdjust="spacingAndGlyphs" fill-opacity="0.9">RGS1</text>
<text transform="translate(448.34 28.28) scale(0.25)" font-family="Liberation Sans" font-size="8.00" font-weight="normal" fill="#2a1a10" text-anchor="middle" textLength="17.60" lengthAdjust="spacingAndGlyphs" fill-opacity="0.9">CD69</text>
<text transform="translate(458.36 30.67) scale(0.25)" font-family="Liberation Sans" font-size="8.00" font-weight="normal" fill="#2a1a10" text-anchor="middle" textLength="17.60" lengthAdjust="spacingAndGlyphs" fill-opacity="0.9">IER2</text>
<text transform="translate(465.95 35.45) scale(0.25)" font-family="Liberation Sans" font-size="8.00" font-weight="normal" fill="#2a1a10" text-anchor="middle" textLength="20.52" lengthAdjust="spacingAndGlyphs" fill-opacity="0.9">DUSP2</text>
<text transform="translate(471.36 41.80) scale(0.25)" font-family="Liberation Sans" font-size="8.00" font-weight="normal" fill="#2a1a10" text-anchor="middle" textLength="20.52" lengthAdjust="spacingAndGlyphs" fill-opacity="0.9">CXCR4</text>
<text transform="translate(474.68 49.60) scale(0.25)" font-family="Liberation Sans" font-size="8.00" font-weight="normal" fill="#2a1a10" text-anchor="middle" textLength="20.52" lengthAdjust="spacingAndGlyphs" fill-opacity="0.9">ZFP36</text>
<text transform="translate(463.64 59.67) scale(0.25)" font-family="Liberation Sans" font-size="8.00" font-weight="normal" fill="#2a1a10" text-anchor="middle" textLength="20.52" lengthAdjust="spacingAndGlyphs" fill-opacity="0.9">TSC22D3</text>
<text transform="translate(459.37 67.74) scale(0.25)" font-family="Liberation Sans" font-size="8.00" font-weight="normal" fill="#2a1a10" text-anchor="middle" textLength="20.52" lengthAdjust="spacingAndGlyphs" fill-opacity="0.9">NR4A2</text>
<text transform="translate(450.27 72.82) scale(0.25)" font-family="Liberation Sans" font-size="8.00" font-weight="normal" fill="#2a1a10" text-anchor="middle" textLength="20.52" lengthAdjust="spacingAndGlyphs" fill-opacity="0.9">PPP1R15A</text>
<text transform="translate(440.00 72.00) scale(0.25)" font-family="Liberation Sans" font-size="8.00" font-weight="normal" fill="#2a1a10" text-anchor="middle" textLength="20.52" lengthAdjust="spacingAndGlyphs" fill-opacity="0.9">TNFAIP3</text>
<text transform="translate(432.52 66.44) scale(0.25)" font-family="Liberation Sans" font-size="8.00" font-weight="normal" fill="#2a1a10" text-anchor="middle" textLength="17.60" lengthAdjust="spacingAndGlyphs" fill-opacity="0.9">SRGN</text>
<text transform="translate(429.12 58.18) scale(0.25)" font-family="Liberation Sans" font-size="8.00" font-weight="normal" fill="#2a1a10" text-anchor="middle" textLength="17.60" lengthAdjust="spacingAndGlyphs" fill-opacity="0.9">CCL5</text>
<text transform="translate(430.78 48.74) scale(0.25)" font-family="Liberation Sans" font-size="8.00" font-weight="normal" fill="#2a1a10" text-anchor="middle" textLength="17.60" lengthAdjust="spacingAndGlyphs" fill-opacity="0.9">IFNG</text>
<text transform="translate(438.40 41.15) scale(0.25)" font-family="Liberation Sans" font-size="8.00" font-weight="normal" fill="#2a1a10" text-anchor="middle" textLength="17.60" lengthAdjust="spacingAndGlyphs" fill-opacity="0.9">BTG1</text>
<text transform="translate(448.11 39.29) scale(0.25)" font-family="Liberation Sans" font-size="8.00" font-weight="normal" fill="#2a1a10" text-anchor="middle" textLength="17.60" lengthAdjust="spacingAndGlyphs" fill-opacity="0.9">FOSB</text>
<text transform="translate(457.18 42.75) scale(0.25)" font-family="Liberation Sans" font-size="8.00" font-weight="normal" fill="#2a1a10" text-anchor="middle" textLength="17.60" lengthAdjust="spacingAndGlyphs" fill-opacity="0.9">EGR1</text>
<text transform="translate(462.54 49.43) scale(0.25)" font-family="Liberation Sans" font-size="8.00" font-weight="normal" fill="#2a1a10" text-anchor="middle" textLength="17.60" lengthAdjust="spacingAndGlyphs" fill-opacity="0.9">ATF3</text>
<text transform="translate(454.98 58.59) scale(0.25)" font-family="Liberation Sans" font-size="8.00" font-weight="normal" fill="#2a1a10" text-anchor="middle" textLength="20.52" lengthAdjust="spacingAndGlyphs" fill-opacity="0.9">SOCS3</text>
<text transform="translate(448.64 64.76) scale(0.25)" font-family="Liberation Sans" font-size="8.00" font-weight="normal" fill="#2a1a10" text-anchor="middle" textLength="20.52" lengthAdjust="spacingAndGlyphs" fill-opacity="0.9">H3-3B</text>
<text transform="translate(440.14 62.30) scale(0.25)" font-family="Liberation Sans" font-size="8.00" font-weight="normal" fill="#2a1a10" text-anchor="middle" textLength="20.52" lengthAdjust="spacingAndGlyphs" fill-opacity="0.9">YPEL3</text>
<text transform="translate(438.07 53.70) scale(0.25)" font-family="Liberation Sans" font-size="8.00" font-weight="normal" fill="#2a1a10" text-anchor="middle" textLength="20.52" lengthAdjust="spacingAndGlyphs" fill-opacity="0.9">NFKBIZ</text>
<text transform="translate(444.71 47.60) scale(0.25)" font-family="Liberation Sans" font-size="8.00" font-weight="normal" fill="#2a1a10" text-anchor="middle" textLength="17.60" lengthAdjust="spacingAndGlyphs" fill-opacity="0.9">CREM</text>
<text transform="translate(452.92 50.20) scale(0.25)" font-family="Liberation Sans" font-size="8.00" font-weight="normal" fill="#2a1a10" text-anchor="middle" textLength="17.60" lengthAdjust="spacingAndGlyphs" fill-opacity="0.9">IRF1</text>
<text transform="translate(446.90 55.42) scale(0.25)" font-family="Liberation Sans" font-size="8.00" font-weight="normal" fill="#2a1a10" text-anchor="middle" textLength="21.60" lengthAdjust="spacingAndGlyphs" fill-opacity="0.9">STAT3</text>
<ellipse cx="639.3" cy="53.2" rx="36" ry="33" fill="#ececec"/>
<path d="M648.3 84.1L649.1 68.2M661 78.3L676.3 72.3M662.3 20.6L599.4 66.7M679.4 40.5L649 76.5M657.4 48L623.9 42.9M658 56L673.2 61.1M627.9 15.8L673.9 48.5M632.2 77.3L637.3 63.5M633.4 54.9L613.1 32M676.3 72.3L633.4 54.9M624.1 32.5L650.5 90.6M613.1 32L654.4 82.1M639.5 78.2L614.3 75.6M646.8 37.1L620.2 70.9M605.9 43.5L662.3 20.6M659.2 36.3L620.5 50.7M604.3 52.1L616.1 20.7M637.2 35.8L676.3 72.3M620.6 80.2L641.8 43M654.9 63.2L637 21.3M654.9 17.1L614.3 75.6M650 55.5L672.3 42.5M606.6 77.9L620.5 50.7M635.8 14.5L645.5 61.9M649 15.4L611.1 24.1M662.3 20.6L628.6 50.9M641.8 43L643.3 91.8M654.9 17.1L646.8 37.1M628.4 90.7L622.5 25.1M641.8 43L638 28.2M654.9 73.6L662 86M676.3 72.3L611.1 24.1M652.3 31.3L657.4 48M659.2 36.3L615.1 64.2M630.4 29.6L679.4 40.5M629.2 38.4L605.9 43.5M622.5 25.1L635.8 14.5M633.4 54.9L624.9 64.6M650.5 90.6L614.6 43.1M643.3 91.8L658 56M654.9 63.2L605.5 29.7M654.9 63.2L626.3 82.9M622.5 25.1L663.8 42.7M616.1 20.7L614.3 75.6M615.6 85.4L615.1 64.2M634.9 84.9L637 21.3M627.9 15.8L621 57.8M659.2 36.3L648.3 84.1M661 78.3L659.5 27.1M666.2 55.4L637.3 63.5M673.2 61.1L662 86M602.1 34.5L612.9 58.4M618.5 37.2L622.5 25.1M599.4 66.7L633.4 54.9M633.5 44.3L650 55.5M676.1 33.8L637 21.3M633.4 54.9L673.2 61.1M666.2 55.4L662 86M596.8 52L656.7 88.6M672.3 42.5L676.3 72.3M659.2 36.3L673.2 61.1M651.3 23.1L634.9 84.9M618.5 37.2L681.2 46.7M626.3 82.9L645 28.8M631.8 69.3L602.1 34.5M602.7 72.9L652.7 40.8M676.3 72.3L621.5 18M664.7 31.2L623.9 42.9M650.5 90.6L602.7 72.9M639.9 43.5L626.1 75M641.5 14.5L633.4 54.9M641.8 43L673.2 61.1M628.6 50.9L606.2 63.7M626.1 75L637 21.3M645.5 61.9L615.1 64.2M657.4 48L648.3 84.1M602.1 34.5L648.3 84.1M654.9 17.1L633.5 44.3M641.8 43L654.9 73.6M618.5 37.2L641.1 85.2M661 78.3L650 55.5M672.3 42.5L608.2 38.4M611.8 82.8L681.1 60.4M668.2 81.6L673.2 61.1M648.4 47.3L640.6 50.7M672.7 29.2L599.5 39.5M674.2 55.4L616.1 20.7M657.4 48L646.8 37.1M616.1 20.7L611.8 82.8M668.1 35L628.6 50.9M631.8 69.3L635.8 14.5M614.3 75.6L679.4 40.5M620.2 70.9L613.1 32M611.8 82.8L614.3 75.6M629.2 38.4L611.8 82.8M613.1 32L623.9 42.9M615.1 64.2L620.5 50.7M657.4 48L643.3 91.8M658 56L645.5 61.9M664.5 62.1L645.5 61.9M649 15.4L656.7 88.6M626.1 75L664.5 62.1M621.5 18L664.5 62.1M666.2 55.4L621 57.8M626.1 75L620.6 80.2M611.1 24.1L666.2 55.4M636.3 91.9L602.7 72.9M634.9 84.9L641.8 43M614.6 43.1L644.4 21.5M637.3 63.5L606.6 77.9M636.3 91.9L623.9 42.9M624.9 64.6L628.4 90.7M648.4 47.3L654.9 73.6M632.2 77.3L641.5 14.5M635.8 14.5L633.4 54.9M615.6 85.4L599.4 66.7M637 21.3L654.9 73.6M637 21.3L670.7 67.3M614.3 75.6L668.1 35M650.5 90.6L624.1 32.5M645 28.8L647.2 47.1M639.9 43.5L634.9 84.9M606.6 77.9L633.4 54.9M664.7 31.2L654.4 82.1M628.6 50.9L672.7 29.2M599.5 39.5L622.5 25.1M644.4 21.5L654.9 63.2M629.2 38.4L623.3 89.1M614.6 43.1L641.1 85.2M668.2 81.6L666.2 55.4M618.6 27.4L670.7 67.3M681.1 60.4L621 57.8M656.7 88.6L666.2 55.4M620.6 80.2L616.1 20.7M654.9 17.1L664.5 62.1M615.6 85.4L641.1 85.2M668.1 35L666 49.2M637.2 35.8L599.5 39.5M633.9 47.6L676.1 33.8M605.9 43.5L662 86M602.1 34.5L621 57.8M650.5 90.6L605.9 43.5M614.6 43.1L654.4 82.1M644.4 21.5L645.5 61.9M611.1 24.1L654.9 73.6M666 49.2L647.2 47.1M608.2 38.4L596.8 52M620.5 50.7L654.9 73.6M664.5 62.1L621 57.8M666 49.2L604.3 52.1M674.2 55.4L654.9 63.2M654.9 17.1L657.4 48M681.2 46.7L627.9 15.8M599.5 39.5L666 49.2M630.4 29.6L606.6 77.9M662.3 20.6L654.9 17.1M668.1 35L618.5 37.2M656.7 88.6L621.5 18M597.4 59.9L627.9 15.8M609.6 70.1L662.3 20.6M611.8 82.8L641.5 14.5M641.5 14.5L681.1 60.4M616.1 20.7L631.8 69.3M652.3 31.3L638 28.2M623.9 42.9L673.2 61.1M672.3 77.6L633.4 54.9M676.1 33.8L654.9 73.6M649 15.4L635.8 14.5M661 78.3L599.4 66.7M641.5 14.5L662 86M657.4 48L676.1 33.8M650 55.5L605.5 29.7M681.8 52L660.4 68.8M628.6 50.9L650 55.5M604.3 52.1L618.5 37.2M664.7 31.2L676.1 33.8M651.3 23.1L618.6 27.4M623.9 42.9L649 15.4M624.9 64.6L662 86M659.5 27.1L647.2 47.1M596.8 52L622.5 25.1M621.5 18L654.9 63.2M641 70.6L624.1 32.5M668.1 24.7L616.1 20.7M664.7 31.2L632.2 77.3M640.6 58L630.4 29.6M673.2 61.1L606.6 77.9M659.5 27.1L618.5 37.2M606.2 63.7L676.3 72.3M644.4 21.5L666.2 55.4M665.5 74.4L605.9 43.5M670.7 67.3L681.2 46.7M664.5 62.1L665.5 74.4M630.1 59L666.2 55.4M650.5 90.6L652.7 40.8M630.4 29.6L681.1 60.4M654.4 82.1L650.5 90.6M654.9 17.1L597.6 45.7M611.1 24.1L613.1 32M662.3 20.6L613.1 32M659.5 27.1L658 56M614.3 75.6L620.5 50.7M614.3 75.6L681.8 52M606.2 63.7L639.5 78.2M649 15.4L633.5 44.3M658 56L643.3 91.8M679.4 40.5L628.4 90.7M668.1 35L615.1 64.2M639.5 78.2L621.5 18M623.9 42.9L638 28.2M631.8 69.3L672.3 42.5M644.4 21.5L652.7 40.8M647.2 47.1L604.3 52.1M654.9 63.2L657.4 48M622.5 25.1L661 78.3M634.9 84.9L620.6 80.2M641.8 43L649 76.5M637 21.3L658 56M624.9 64.6L668.1 24.7M614.3 75.6L676.1 33.8M634.9 84.9L605.5 29.7M679 67.1L602.7 72.9M641 70.6L681.2 46.7M606.6 77.9L659.5 27.1M650 55.5L649.1 68.2M637.3 63.5L630.4 29.6M651.3 23.1L638 28.2M656.7 88.6L641.5 14.5M637 21.3L679 67.1M662 86L599.4 66.7M604.7 58.2L624.1 32.5M620.5 50.7L628.6 50.9M602.1 34.5L620.2 70.9M616.1 20.7L648.4 47.3M663.8 42.7L602.1 34.5M614.3 75.6L668.2 81.6M621.5 18L681.2 46.7M602.7 72.9L637.3 63.5M668.2 81.6L665.5 74.4M665.5 74.4L650.5 90.6M668.1 35L621.5 18M648.4 47.3L679 67.1M615.6 85.4L649.1 68.2M636.3 91.9L654.9 73.6M623.9 42.9L681.1 60.4M621 57.8L635.8 14.5M654.9 73.6L604.7 58.2M596.8 52L639.9 43.5M662 86L661 78.3M661 78.3L649 76.5M615.1 64.2L652.7 40.8M604.3 52.1L612.4 50.8M604.3 52.1L637.3 63.5M612.9 58.4L679 67.1M614.6 43.1L664.5 62.1M644.4 21.5L679 67.1M633.4 54.9L633.5 44.3M662 86L676.3 72.3M623.3 89.1L654.9 63.2M605.9 43.5L611.1 24.1M612.4 50.8L620.2 70.9M681.1 60.4L657.4 48M618.5 37.2L602.7 72.9M615.6 85.4L674.2 55.4M665.5 74.4L679 67.1M668.2 81.6L664.5 62.1M641 70.6L611.1 24.1M637.3 63.5L631.2 22.1M623.9 42.9L638 28.2M665.5 74.4L605.5 29.7M654.9 17.1L679.4 40.5M672.7 29.2L650 55.5M637 21.3L604.3 52.1M611.1 24.1L639.9 43.5M651.3 23.1L652.3 31.3M624.9 64.6L637.2 35.8M627.9 15.8L668.1 35M605.5 29.7L637.2 35.8M612.4 50.8L659.5 27.1M641.5 14.5L672.7 29.2M644.4 21.5L597.6 45.7M668.2 81.6L636.3 91.9M652.3 31.3L614.3 75.6M661 78.3L659.5 27.1M646.8 37.1L626.1 75M673.9 48.5L608.2 38.4M670.7 67.3L630.4 29.6M633.4 54.9L679.4 40.5M605.9 43.5L629.2 38.4M664.5 62.1L654.4 82.1M681.8 52L662 86M641.1 85.2L672.3 77.6M666.2 55.4L668.1 35M637.2 35.8L654.9 17.1M676.3 72.3L660.4 68.8M679 67.1L633.9 47.6M656.7 88.6L661 78.3M643.3 91.8L673.9 48.5M621 57.8L646.8 37.1M597.6 45.7L620.5 50.7M661 78.3L615.1 64.2M651.3 23.1L620.6 80.2M631.8 69.3L620.6 80.2M639.5 78.2L602.7 72.9M661 78.3L609.6 70.1M611.1 24.1L606.6 77.9M602.7 72.9L657.4 48M666.2 55.4L640.6 50.7M620.6 80.2L606.2 63.7M633.5 44.3L616.1 20.7M674.2 55.4L606.6 77.9M648.4 47.3L633.4 54.9M654.9 63.2L641.1 85.2M614.6 43.1L650.5 90.6M620.2 70.9L673.2 61.1M618.5 37.2L664.7 31.2M633.4 54.9L672.7 29.2M645 28.8L654.9 73.6M679.4 40.5L618.6 27.4M654.9 17.1L668.2 81.6M631.8 69.3L647.2 47.1M615.1 64.2L618.5 37.2M618.6 27.4L611.8 82.8M614.3 75.6L647.2 47.1M611.8 82.8L620.6 80.2M614.3 75.6L661 78.3M606.6 77.9L661 78.3M628.4 90.7L681.2 46.7M624.1 32.5L624.9 64.6M635.8 14.5L673.2 61.1M648.4 47.3L645.5 61.9M627.9 15.8L637.3 63.5M615.6 85.4L665.5 74.4M651.3 23.1L658 56M622.5 25.1L633.9 47.6M621 57.8L656.7 88.6M676.1 33.8L660.4 68.8M681.2 46.7L660.4 68.8M681.2 46.7L660.4 68.8M633.9 47.6L602.7 72.9M654.4 82.1L654.9 73.6M645.5 61.9L663.8 42.7M673.2 61.1L662.3 20.6M652.3 31.3L644.4 21.5M628.4 90.7L623.3 89.1M618.6 27.4L637 21.3M620.5 50.7L672.7 29.2M681.8 52L674.2 55.4M624.1 32.5L633.9 47.6M620.6 80.2L676.1 33.8M641.8 43L670.7 67.3M654.9 63.2L659.2 36.3M597.4 59.9L596.8 52M636.3 91.9L672.7 29.2M620.2 70.9L612.4 50.8M647.2 47.1L672.3 42.5M648.4 47.3L599.5 39.5M616.1 20.7L621 57.8M651.3 23.1L615.1 64.2M648.4 47.3L616.1 20.7M658 56L659.2 36.3M657.4 48L666.2 55.4M606.2 63.7L676.1 33.8M614.3 75.6L604.7 58.2M670.7 67.3L645.5 61.9M623.3 89.1L615.6 85.4M660.4 68.8L664.7 31.2M644.4 21.5L665.5 74.4M611.8 82.8L641.5 14.5M604.3 52.1L599.5 39.5M640.6 50.7L606.2 63.7M618.6 27.4L676.3 72.3M649 76.5L641 70.6M652.7 40.8L649.1 68.2M648.4 47.3L638 28.2M621 57.8L662.3 20.6M633.5 44.3L652.7 40.8M620.5 50.7L641.1 85.2M615.1 64.2L654.9 63.2M673.2 61.1L637 21.3M608.2 38.4L624.9 64.6M606.2 63.7L676.1 33.8M668.1 24.7L631.2 22.1M645.5 61.9L652.7 40.8M609.6 70.1L605.5 29.7M681.2 46.7L641 70.6M623.9 42.9L621.5 18M622.5 25.1L604.7 58.2M641 70.6L620.6 80.2M645 28.8L654.9 73.6M639.5 78.2L618.6 27.4M676.1 33.8L605.5 29.7M640.6 50.7L668.2 81.6M639.9 43.5L644.4 21.5M679.4 40.5L602.7 72.9M615.6 85.4L664.7 31.2M635.8 14.5L672.3 77.6M623.9 42.9L679 67.1M649.1 68.2L599.5 39.5M639.5 78.2L630.1 59M628.6 50.9L641.8 43M606.6 77.9L626.1 75M597.4 59.9L650 55.5M606.6 77.9L660.4 68.8M649 15.4L651.3 23.1M666 49.2L621.5 18M639.5 78.2L599.5 39.5M663.8 42.7L648.4 47.3M627.9 15.8L672.3 77.6M637 21.3L648.4 47.3M665.5 74.4L602.7 72.9M676.3 72.3L649 76.5M657.4 48L666 49.2M604.7 58.2L618.6 27.4M639.5 78.2L611.8 82.8M599.5 39.5L623.3 89.1M659.5 27.1L635.8 14.5M599.5 39.5L631.8 69.3M620.2 70.9L616.1 20.7M670.7 67.3L644.4 21.5M621 57.8L654.4 82.1M597.6 45.7L602.7 72.9M640.6 50.7L626.3 82.9M668.1 24.7L651.3 23.1M668.1 24.7L633.9 47.6M668.1 35L629.2 38.4M635.8 14.5L608.2 38.4M628.6 50.9L681.2 46.7M620.5 50.7L649 15.4M662.3 20.6L641.1 85.2M672.3 42.5L673.9 48.5M638 28.2L664.7 31.2M643.3 91.8L672.3 77.6M611.1 24.1L613.1 32M609.6 70.1L628.6 50.9M649 76.5L679.4 40.5M650.5 90.6L620.2 70.9M679 67.1L658 56" fill="none" stroke="#c4c4c4" stroke-width="0.28" stroke-opacity="0.75"/>
<circle cx="681.8" cy="52" r="2.8" fill="#f0e49a"/>
<circle cx="681.1" cy="60.4" r="2.8" fill="#f0e49a"/>
<circle cx="679" cy="67.1" r="2.8" fill="#eed890"/>
<circle cx="676.3" cy="72.3" r="2.8" fill="#eed890"/>
<circle cx="672.3" cy="77.6" r="2.8" fill="#f0e49a"/>
<circle cx="668.2" cy="81.6" r="2.8" fill="#eed890"/>
<circle cx="662" cy="86" r="2.8" fill="#eed890"/>
<circle cx="656.7" cy="88.6" r="2.8" fill="#f0e098"/>
<circle cx="650.5" cy="90.6" r="2.8" fill="#eed890"/>
<circle cx="643.3" cy="91.8" r="2.8" fill="#eed890"/>
<circle cx="636.3" cy="91.9" r="2.8" fill="#f0e49a"/>
<circle cx="628.4" cy="90.7" r="2.8" fill="#f0e098"/>
<circle cx="623.3" cy="89.1" r="2.8" fill="#f0e49a"/>
<circle cx="615.6" cy="85.4" r="2.8" fill="#f0e098"/>
<circle cx="611.8" cy="82.8" r="2.8" fill="#f0e098"/>
<circle cx="606.6" cy="77.9" r="2.8" fill="#eed890"/>
<circle cx="602.7" cy="72.9" r="2.8" fill="#eed890"/>
<circle cx="599.4" cy="66.7" r="2.8" fill="#eed890"/>
<circle cx="597.4" cy="59.9" r="2.8" fill="#eed890"/>
<circle cx="596.8" cy="52" r="2.8" fill="#f0e098"/>
<circle cx="597.6" cy="45.7" r="2.8" fill="#f0e49a"/>
<circle cx="599.5" cy="39.5" r="2.8" fill="#f0e49a"/>
<circle cx="602.1" cy="34.5" r="2.8" fill="#f0e49a"/>
<circle cx="605.5" cy="29.7" r="2.8" fill="#f0e098"/>
<circle cx="611.1" cy="24.1" r="2.8" fill="#eed890"/>
<circle cx="616.1" cy="20.7" r="2.8" fill="#f0e098"/>
<circle cx="621.5" cy="18" r="2.8" fill="#f0e49a"/>
<circle cx="627.9" cy="15.8" r="2.8" fill="#eed890"/>
<circle cx="635.8" cy="14.5" r="2.8" fill="#f0e098"/>
<circle cx="641.5" cy="14.5" r="2.8" fill="#f0e098"/>
<circle cx="649" cy="15.4" r="2.8" fill="#f0e098"/>
<circle cx="654.9" cy="17.1" r="2.8" fill="#f0e49a"/>
<circle cx="662.3" cy="20.6" r="2.8" fill="#f0e49a"/>
<circle cx="668.1" cy="24.7" r="2.8" fill="#f0e098"/>
<circle cx="672.7" cy="29.2" r="2.8" fill="#f0e49a"/>
<circle cx="676.1" cy="33.8" r="2.8" fill="#eed890"/>
<circle cx="679.4" cy="40.5" r="2.8" fill="#eed890"/>
<circle cx="681.2" cy="46.7" r="2.8" fill="#eed890"/>
<circle cx="674.2" cy="55.4" r="2.8" fill="#eec878"/>
<circle cx="673.2" cy="61.1" r="2.8" fill="#f0c880"/>
<circle cx="670.7" cy="67.3" r="2.8" fill="#ecc070"/>
<circle cx="665.5" cy="74.4" r="2.8" fill="#eec878"/>
<circle cx="661" cy="78.3" r="2.8" fill="#f0c880"/>
<circle cx="654.4" cy="82.1" r="2.8" fill="#ecc070"/>
<circle cx="648.3" cy="84.1" r="2.8" fill="#ecc070"/>
<circle cx="641.1" cy="85.2" r="2.8" fill="#f0c880"/>
<circle cx="634.9" cy="84.9" r="2.8" fill="#ecc070"/>
<circle cx="626.3" cy="82.9" r="2.8" fill="#f0c880"/>
<circle cx="620.6" cy="80.2" r="2.8" fill="#f0c880"/>
<circle cx="614.3" cy="75.6" r="2.8" fill="#eec878"/>
<circle cx="609.6" cy="70.1" r="2.8" fill="#f0c880"/>
<circle cx="606.2" cy="63.7" r="2.8" fill="#eec878"/>
<circle cx="604.7" cy="58.2" r="2.8" fill="#eec878"/>
<circle cx="604.3" cy="52.1" r="2.8" fill="#eec878"/>
<circle cx="605.9" cy="43.5" r="2.8" fill="#ecc070"/>
<circle cx="608.2" cy="38.4" r="2.8" fill="#ecc070"/>
<circle cx="613.1" cy="32" r="2.8" fill="#f0c880"/>
<circle cx="618.6" cy="27.4" r="2.8" fill="#eec878"/>
<circle cx="622.5" cy="25.1" r="2.8" fill="#eec878"/>
<circle cx="631.2" cy="22.1" r="2.8" fill="#eec878"/>
<circle cx="637" cy="21.3" r="2.8" fill="#ecc070"/>
<circle cx="644.4" cy="21.5" r="2.8" fill="#eec878"/>
<circle cx="651.3" cy="23.1" r="2.8" fill="#ecc070"/>
<circle cx="659.5" cy="27.1" r="2.8" fill="#f0c880"/>
<circle cx="664.7" cy="31.2" r="2.8" fill="#f0c880"/>
<circle cx="668.1" cy="35" r="2.8" fill="#ecc070"/>
<circle cx="672.3" cy="42.5" r="2.8" fill="#eec878"/>
<circle cx="673.9" cy="48.5" r="2.8" fill="#eec878"/>
<circle cx="666.2" cy="55.4" r="2.9" fill="#e99a50"/>
<circle cx="664.5" cy="62.1" r="2.9" fill="#e99a50"/>
<circle cx="660.4" cy="68.8" r="2.9" fill="#e99a50"/>
<circle cx="654.9" cy="73.6" r="2.9" fill="#ecaa60"/>
<circle cx="649" cy="76.5" r="2.9" fill="#ecaa60"/>
<circle cx="639.5" cy="78.2" r="2.9" fill="#e99a50"/>
<circle cx="632.2" cy="77.3" r="2.9" fill="#eba258"/>
<circle cx="626.1" cy="75" r="2.9" fill="#eba258"/>
<circle cx="620.2" cy="70.9" r="2.9" fill="#eba258"/>
<circle cx="615.1" cy="64.2" r="2.9" fill="#eba258"/>
<circle cx="612.9" cy="58.4" r="2.9" fill="#e99a50"/>
<circle cx="612.4" cy="50.8" r="2.9" fill="#ecaa60"/>
<circle cx="614.6" cy="43.1" r="2.9" fill="#eba258"/>
<circle cx="618.5" cy="37.2" r="2.9" fill="#e99a50"/>
<circle cx="624.1" cy="32.5" r="2.9" fill="#ecaa60"/>
<circle cx="630.4" cy="29.6" r="2.9" fill="#eba258"/>
<circle cx="638" cy="28.2" r="2.9" fill="#eba258"/>
<circle cx="645" cy="28.8" r="2.9" fill="#ecaa60"/>
<circle cx="652.3" cy="31.3" r="2.9" fill="#eba258"/>
<circle cx="659.2" cy="36.3" r="2.9" fill="#eba258"/>
<circle cx="663.8" cy="42.7" r="2.9" fill="#ecaa60"/>
<circle cx="666" cy="49.2" r="2.9" fill="#ecaa60"/>
<circle cx="658" cy="56" r="3" fill="#e88a45"/>
<circle cx="654.9" cy="63.2" r="3" fill="#e6823f"/>
<circle cx="649.1" cy="68.2" r="3" fill="#e6823f"/>
<circle cx="641" cy="70.6" r="3" fill="#e88a45"/>
<circle cx="631.8" cy="69.3" r="3" fill="#e88a45"/>
<circle cx="624.9" cy="64.6" r="3" fill="#e88a45"/>
<circle cx="621" cy="57.8" r="3" fill="#e88a45"/>
<circle cx="620.5" cy="50.7" r="3" fill="#e88a45"/>
<circle cx="623.9" cy="42.9" r="3" fill="#e88a45"/>
<circle cx="629.2" cy="38.4" r="3" fill="#e6823f"/>
<circle cx="637.2" cy="35.8" r="3" fill="#e6823f"/>
<circle cx="646.8" cy="37.1" r="3" fill="#e88a45"/>
<circle cx="652.7" cy="40.8" r="3" fill="#e6823f"/>
<circle cx="657.4" cy="48" r="3" fill="#e6823f"/>
<circle cx="650" cy="55.5" r="3.1" fill="#e4703a"/>
<circle cx="645.5" cy="61.9" r="3.1" fill="#e06a38"/>
<circle cx="637.3" cy="63.5" r="3.1" fill="#e4703a"/>
<circle cx="630.1" cy="59" r="3.1" fill="#e4703a"/>
<circle cx="628.6" cy="50.9" r="3.1" fill="#e4703a"/>
<circle cx="633.5" cy="44.3" r="3.1" fill="#e4703a"/>
<circle cx="641.8" cy="43" r="3.1" fill="#e06a38"/>
<circle cx="648.4" cy="47.3" r="3.1" fill="#e06a38"/>
<circle cx="639.9" cy="43.5" r="3" fill="#b81e30"/>
<circle cx="647.2" cy="47.1" r="3" fill="#bc2030"/>
<circle cx="640.6" cy="50.7" r="3" fill="#b81e30"/>
<circle cx="633.4" cy="54.9" r="3" fill="#bc2030"/>
<circle cx="640.6" cy="58" r="3" fill="#c02432"/>
<circle cx="633.9" cy="47.6" r="3" fill="#d0483a"/>
<text transform="translate(681.78 52.70) scale(0.25)" font-family="Liberation Sans" font-size="8.00" font-weight="normal" fill="#2a1a10" text-anchor="middle" textLength="15.12" lengthAdjust="spacingAndGlyphs" fill-opacity="0.9">CEBPB</text>
<text transform="translate(681.07 61.09) scale(0.25)" font-family="Liberation Sans" font-size="8.00" font-weight="normal" fill="#2a1a10" text-anchor="middle" textLength="15.12" lengthAdjust="spacingAndGlyphs" fill-opacity="0.9">PNRC1</text>
<text transform="translate(678.99 67.80) scale(0.25)" font-family="Liberation Sans" font-size="8.00" font-weight="normal" fill="#2a1a10" text-anchor="middle" textLength="15.12" lengthAdjust="spacingAndGlyphs" fill-opacity="0.9">SIK1</text>
<text transform="translate(676.29 73.03) scale(0.25)" font-family="Liberation Sans" font-size="8.00" font-weight="normal" fill="#2a1a10" text-anchor="middle" textLength="15.12" lengthAdjust="spacingAndGlyphs" fill-opacity="0.9">TOB1</text>
<text transform="translate(672.34 78.32) scale(0.25)" font-family="Liberation Sans" font-size="8.00" font-weight="normal" fill="#2a1a10" text-anchor="middle" textLength="15.12" lengthAdjust="spacingAndGlyphs" fill-opacity="0.9">RHOB</text>
<text transform="translate(668.21 82.36) scale(0.25)" font-family="Liberation Sans" font-size="8.00" font-weight="normal" fill="#2a1a10" text-anchor="middle" textLength="15.12" lengthAdjust="spacingAndGlyphs" fill-opacity="0.9">CDKN1A</text>
<text transform="translate(662.02 86.71) scale(0.25)" font-family="Liberation Sans" font-size="8.00" font-weight="normal" fill="#2a1a10" text-anchor="middle" textLength="15.12" lengthAdjust="spacingAndGlyphs" fill-opacity="0.9">GADD45B</text>
<text transform="translate(656.70 89.32) scale(0.25)" font-family="Liberation Sans" font-size="8.00" font-weight="normal" fill="#2a1a10" text-anchor="middle" textLength="15.12" lengthAdjust="spacingAndGlyphs" fill-opacity="0.9">MCL1</text>
<text transform="translate(650.51 91.35) scale(0.25)" font-family="Liberation Sans" font-size="8.00" font-weight="normal" fill="#2a1a10" text-anchor="middle" textLength="13.20" lengthAdjust="spacingAndGlyphs" fill-opacity="0.9">ID2</text>
<text transform="translate(643.29 92.55) scale(0.25)" font-family="Liberation Sans" font-size="8.00" font-weight="normal" fill="#2a1a10" text-anchor="middle" textLength="15.12" lengthAdjust="spacingAndGlyphs" fill-opacity="0.9">PDE4B</text>
<text transform="translate(636.26 92.62) scale(0.25)" font-family="Liberation Sans" font-size="8.00" font-weight="normal" fill="#2a1a10" text-anchor="middle" textLength="15.12" lengthAdjust="spacingAndGlyphs" fill-opacity="0.9">SLC2A3</text>
<text transform="translate(628.43 91.43) scale(0.25)" font-family="Liberation Sans" font-size="8.00" font-weight="normal" fill="#2a1a10" text-anchor="middle" textLength="15.12" lengthAdjust="spacingAndGlyphs" fill-opacity="0.9">TXNIP</text>
<text transform="translate(623.29 89.86) scale(0.25)" font-family="Liberation Sans" font-size="8.00" font-weight="normal" fill="#2a1a10" text-anchor="middle" textLength="15.12" lengthAdjust="spacingAndGlyphs" fill-opacity="0.9">KDM6B</text>
<text transform="translate(615.59 86.12) scale(0.25)" font-family="Liberation Sans" font-size="8.00" font-weight="normal" fill="#2a1a10" text-anchor="middle" textLength="13.20" lengthAdjust="spacingAndGlyphs" fill-opacity="0.9">REL</text>
<text transform="translate(611.76 83.47) scale(0.25)" font-family="Liberation Sans" font-size="8.00" font-weight="normal" fill="#2a1a10" text-anchor="middle" textLength="15.12" lengthAdjust="spacingAndGlyphs" fill-opacity="0.9">BHLHE40</text>
<text transform="translate(606.56 78.66) scale(0.25)" font-family="Liberation Sans" font-size="8.00" font-weight="normal" fill="#2a1a10" text-anchor="middle" textLength="15.12" lengthAdjust="spacingAndGlyphs" fill-opacity="0.9">CCNL1</text>
<text transform="translate(602.71 73.66) scale(0.25)" font-family="Liberation Sans" font-size="8.00" font-weight="normal" fill="#2a1a10" text-anchor="middle" textLength="15.12" lengthAdjust="spacingAndGlyphs" fill-opacity="0.9">SAT1</text>
<text transform="translate(599.44 67.38) scale(0.25)" font-family="Liberation Sans" font-size="8.00" font-weight="normal" fill="#2a1a10" text-anchor="middle" textLength="15.12" lengthAdjust="spacingAndGlyphs" fill-opacity="0.9">IL7R</text>
<text transform="translate(597.43 60.60) scale(0.25)" font-family="Liberation Sans" font-size="8.00" font-weight="normal" fill="#2a1a10" text-anchor="middle" textLength="15.12" lengthAdjust="spacingAndGlyphs" fill-opacity="0.9">CD83</text>
<text transform="translate(596.82 52.69) scale(0.25)" font-family="Liberation Sans" font-size="8.00" font-weight="normal" fill="#2a1a10" text-anchor="middle" textLength="15.12" lengthAdjust="spacingAndGlyphs" fill-opacity="0.9">NFKBIA</text>
<text transform="translate(597.61 46.40) scale(0.25)" font-family="Liberation Sans" font-size="8.00" font-weight="normal" fill="#2a1a10" text-anchor="middle" textLength="13.20" lengthAdjust="spacingAndGlyphs" fill-opacity="0.9">EZR</text>
<text transform="translate(599.55 40.19) scale(0.25)" font-family="Liberation Sans" font-size="8.00" font-weight="normal" fill="#2a1a10" text-anchor="middle" textLength="15.12" lengthAdjust="spacingAndGlyphs" fill-opacity="0.9">ANXA1</text>
<text transform="translate(602.07 35.21) scale(0.25)" font-family="Liberation Sans" font-size="8.00" font-weight="normal" fill="#2a1a10" text-anchor="middle" textLength="15.12" lengthAdjust="spacingAndGlyphs" fill-opacity="0.9">LMNA</text>
<text transform="translate(605.48 30.42) scale(0.25)" font-family="Liberation Sans" font-size="8.00" font-weight="normal" fill="#2a1a10" text-anchor="middle" textLength="15.12" lengthAdjust="spacingAndGlyphs" fill-opacity="0.9">IER5</text>
<text transform="translate(611.14 24.86) scale(0.25)" font-family="Liberation Sans" font-size="8.00" font-weight="normal" fill="#2a1a10" text-anchor="middle" textLength="15.12" lengthAdjust="spacingAndGlyphs" fill-opacity="0.9">JUNB</text>
<text transform="translate(616.09 21.41) scale(0.25)" font-family="Liberation Sans" font-size="8.00" font-weight="normal" fill="#2a1a10" text-anchor="middle" textLength="15.12" lengthAdjust="spacingAndGlyphs" fill-opacity="0.9">KLF6</text>
<text transform="translate(621.52 18.68) scale(0.25)" font-family="Liberation Sans" font-size="8.00" font-weight="normal" fill="#2a1a10" text-anchor="middle" textLength="15.12" lengthAdjust="spacingAndGlyphs" fill-opacity="0.9">RGS1</text>
<text transform="translate(627.94 16.53) scale(0.25)" font-family="Liberation Sans" font-size="8.00" font-weight="normal" fill="#2a1a10" text-anchor="middle" textLength="15.12" lengthAdjust="spacingAndGlyphs" fill-opacity="0.9">CD69</text>
<text transform="translate(635.79 15.25) scale(0.25)" font-family="Liberation Sans" font-size="8.00" font-weight="normal" fill="#2a1a10" text-anchor="middle" textLength="15.12" lengthAdjust="spacingAndGlyphs" fill-opacity="0.9">IER2</text>
<text transform="translate(641.52 15.17) scale(0.25)" font-family="Liberation Sans" font-size="8.00" font-weight="normal" fill="#2a1a10" text-anchor="middle" textLength="15.12" lengthAdjust="spacingAndGlyphs" fill-opacity="0.9">DUSP2</text>
<text transform="translate(649.00 16.14) scale(0.25)" font-family="Liberation Sans" font-size="8.00" font-weight="normal" fill="#2a1a10" text-anchor="middle" textLength="15.12" lengthAdjust="spacingAndGlyphs" fill-opacity="0.9">CXCR4</text>
<text transform="translate(654.89 17.82) scale(0.25)" font-family="Liberation Sans" font-size="8.00" font-weight="normal" fill="#2a1a10" text-anchor="middle" textLength="15.12" lengthAdjust="spacingAndGlyphs" fill-opacity="0.9">ZFP36</text>
<text transform="translate(662.29 21.29) scale(0.25)" font-family="Liberation Sans" font-size="8.00" font-weight="normal" fill="#2a1a10" text-anchor="middle" textLength="15.12" lengthAdjust="spacingAndGlyphs" fill-opacity="0.9">TSC22D3</text>
<text transform="translate(668.15 25.43) scale(0.25)" font-family="Liberation Sans" font-size="8.00" font-weight="normal" fill="#2a1a10" text-anchor="middle" textLength="15.12" lengthAdjust="spacingAndGlyphs" fill-opacity="0.9">NR4A2</text>
<text transform="translate(672.68 29.91) scale(0.25)" font-family="Liberation Sans" font-size="8.00" font-weight="normal" fill="#2a1a10" text-anchor="middle" textLength="15.12" lengthAdjust="spacingAndGlyphs" fill-opacity="0.9">PPP1R15A</text>
<text transform="translate(676.13 34.55) scale(0.25)" font-family="Liberation Sans" font-size="8.00" font-weight="normal" fill="#2a1a10" text-anchor="middle" textLength="15.12" lengthAdjust="spacingAndGlyphs" fill-opacity="0.9">TNFAIP3</text>
<text transform="translate(679.45 41.19) scale(0.25)" font-family="Liberation Sans" font-size="8.00" font-weight="normal" fill="#2a1a10" text-anchor="middle" textLength="15.12" lengthAdjust="spacingAndGlyphs" fill-opacity="0.9">SRGN</text>
<text transform="translate(681.20 47.41) scale(0.25)" font-family="Liberation Sans" font-size="8.00" font-weight="normal" fill="#2a1a10" text-anchor="middle" textLength="15.12" lengthAdjust="spacingAndGlyphs" fill-opacity="0.9">CCL5</text>
<text transform="translate(674.22 56.08) scale(0.25)" font-family="Liberation Sans" font-size="8.00" font-weight="normal" fill="#2a1a10" text-anchor="middle" textLength="15.12" lengthAdjust="spacingAndGlyphs" fill-opacity="0.9">IFNG</text>
<text transform="translate(673.21 61.84) scale(0.25)" font-family="Liberation Sans" font-size="8.00" font-weight="normal" fill="#2a1a10" text-anchor="middle" textLength="15.12" lengthAdjust="spacingAndGlyphs" fill-opacity="0.9">BTG1</text>
<text transform="translate(670.70 68.06) scale(0.25)" font-family="Liberation Sans" font-size="8.00" font-weight="normal" fill="#2a1a10" text-anchor="middle" textLength="15.12" lengthAdjust="spacingAndGlyphs" fill-opacity="0.9">FOSB</text>
<text transform="translate(665.53 75.10) scale(0.25)" font-family="Liberation Sans" font-size="8.00" font-weight="normal" fill="#2a1a10" text-anchor="middle" textLength="15.12" lengthAdjust="spacingAndGlyphs" fill-opacity="0.9">EGR1</text>
<text transform="translate(660.97 79.05) scale(0.25)" font-family="Liberation Sans" font-size="8.00" font-weight="normal" fill="#2a1a10" text-anchor="middle" textLength="15.12" lengthAdjust="spacingAndGlyphs" fill-opacity="0.9">ATF3</text>
<text transform="translate(654.44 82.77) scale(0.25)" font-family="Liberation Sans" font-size="8.00" font-weight="normal" fill="#2a1a10" text-anchor="middle" textLength="15.12" lengthAdjust="spacingAndGlyphs" fill-opacity="0.9">SOCS3</text>
<text transform="translate(648.26 84.85) scale(0.25)" font-family="Liberation Sans" font-size="8.00" font-weight="normal" fill="#2a1a10" text-anchor="middle" textLength="15.12" lengthAdjust="spacingAndGlyphs" fill-opacity="0.9">H3-3B</text>
<text transform="translate(641.13 85.88) scale(0.25)" font-family="Liberation Sans" font-size="8.00" font-weight="normal" fill="#2a1a10" text-anchor="middle" textLength="15.12" lengthAdjust="spacingAndGlyphs" fill-opacity="0.9">YPEL3</text>
<text transform="translate(634.89 85.66) scale(0.25)" font-family="Liberation Sans" font-size="8.00" font-weight="normal" fill="#2a1a10" text-anchor="middle" textLength="15.12" lengthAdjust="spacingAndGlyphs" fill-opacity="0.9">NFKBIZ</text>
<text transform="translate(626.33 83.64) scale(0.25)" font-family="Liberation Sans" font-size="8.00" font-weight="normal" fill="#2a1a10" text-anchor="middle" textLength="15.12" lengthAdjust="spacingAndGlyphs" fill-opacity="0.9">CREM</text>
<text transform="translate(620.57 80.95) scale(0.25)" font-family="Liberation Sans" font-size="8.00" font-weight="normal" fill="#2a1a10" text-anchor="middle" textLength="15.12" lengthAdjust="spacingAndGlyphs" fill-opacity="0.9">IRF1</text>
<text transform="translate(614.30 76.32) scale(0.25)" font-family="Liberation Sans" font-size="8.00" font-weight="normal" fill="#2a1a10" text-anchor="middle" textLength="15.12" lengthAdjust="spacingAndGlyphs" fill-opacity="0.9">STAT3</text>
<text transform="translate(609.61 70.86) scale(0.25)" font-family="Liberation Sans" font-size="8.00" font-weight="normal" fill="#2a1a10" text-anchor="middle" textLength="15.12" lengthAdjust="spacingAndGlyphs" fill-opacity="0.9">CEBPB</text>
<text transform="translate(606.25 64.44) scale(0.25)" font-family="Liberation Sans" font-size="8.00" font-weight="normal" fill="#2a1a10" text-anchor="middle" textLength="15.12" lengthAdjust="spacingAndGlyphs" fill-opacity="0.9">PNRC1</text>
<text transform="translate(604.74 58.97) scale(0.25)" font-family="Liberation Sans" font-size="8.00" font-weight="normal" fill="#2a1a10" text-anchor="middle" textLength="15.12" lengthAdjust="spacingAndGlyphs" fill-opacity="0.9">SIK1</text>
<text transform="translate(604.32 52.79) scale(0.25)" font-family="Liberation Sans" font-size="8.00" font-weight="normal" fill="#2a1a10" text-anchor="middle" textLength="15.12" lengthAdjust="spacingAndGlyphs" fill-opacity="0.9">TOB1</text>
<text transform="translate(605.95 44.22) scale(0.25)" font-family="Liberation Sans" font-size="8.00" font-weight="normal" fill="#2a1a10" text-anchor="middle" textLength="15.12" lengthAdjust="spacingAndGlyphs" fill-opacity="0.9">RHOB</text>
<text transform="translate(608.25 39.16) scale(0.25)" font-family="Liberation Sans" font-size="8.00" font-weight="normal" fill="#2a1a10" text-anchor="middle" textLength="15.12" lengthAdjust="spacingAndGlyphs" fill-opacity="0.9">CDKN1A</text>
<text transform="translate(613.06 32.74) scale(0.25)" font-family="Liberation Sans" font-size="8.00" font-weight="normal" fill="#2a1a10" text-anchor="middle" textLength="15.12" lengthAdjust="spacingAndGlyphs" fill-opacity="0.9">GADD45B</text>
<text transform="translate(618.57 28.14) scale(0.25)" font-family="Liberation Sans" font-size="8.00" font-weight="normal" fill="#2a1a10" text-anchor="middle" textLength="15.12" lengthAdjust="spacingAndGlyphs" fill-opacity="0.9">MCL1</text>
<text transform="translate(622.50 25.85) scale(0.25)" font-family="Liberation Sans" font-size="8.00" font-weight="normal" fill="#2a1a10" text-anchor="middle" textLength="13.20" lengthAdjust="spacingAndGlyphs" fill-opacity="0.9">ID2</text>
<text transform="translate(631.25 22.78) scale(0.25)" font-family="Liberation Sans" font-size="8.00" font-weight="normal" fill="#2a1a10" text-anchor="middle" textLength="15.12" lengthAdjust="spacingAndGlyphs" fill-opacity="0.9">PDE4B</text>
<text transform="translate(636.98 21.99) scale(0.25)" font-family="Liberation Sans" font-size="8.00" font-weight="normal" fill="#2a1a10" text-anchor="middle" textLength="15.12" lengthAdjust="spacingAndGlyphs" fill-opacity="0.9">SLC2A3</text>
<text transform="translate(644.39 22.26) scale(0.25)" font-family="Liberation Sans" font-size="8.00" font-weight="normal" fill="#2a1a10" text-anchor="middle" textLength="15.12" lengthAdjust="spacingAndGlyphs" fill-opacity="0.9">TXNIP</text>
<text transform="translate(651.33 23.87) scale(0.25)" font-family="Liberation Sans" font-size="8.00" font-weight="normal" fill="#2a1a10" text-anchor="middle" textLength="15.12" lengthAdjust="spacingAndGlyphs" fill-opacity="0.9">KDM6B</text>
<text transform="translate(659.55 27.82) scale(0.25)" font-family="Liberation Sans" font-size="8.00" font-weight="normal" fill="#2a1a10" text-anchor="middle" textLength="13.20" lengthAdjust="spacingAndGlyphs" fill-opacity="0.9">REL</text>
<text transform="translate(664.67 31.87) scale(0.25)" font-family="Liberation Sans" font-size="8.00" font-weight="normal" fill="#2a1a10" text-anchor="middle" textLength="15.12" lengthAdjust="spacingAndGlyphs" fill-opacity="0.9">BHLHE40</text>
<text transform="translate(668.07 35.70) scale(0.25)" font-family="Liberation Sans" font-size="8.00" font-weight="normal" fill="#2a1a10" text-anchor="middle" textLength="15.12" lengthAdjust="spacingAndGlyphs" fill-opacity="0.9">CCNL1</text>
<text transform="translate(672.30 43.26) scale(0.25)" font-family="Liberation Sans" font-size="8.00" font-weight="normal" fill="#2a1a10" text-anchor="middle" textLength="15.12" lengthAdjust="spacingAndGlyphs" fill-opacity="0.9">SAT1</text>
<text transform="translate(673.91 49.18) scale(0.25)" font-family="Liberation Sans" font-size="8.00" font-weight="normal" fill="#2a1a10" text-anchor="middle" textLength="15.12" lengthAdjust="spacingAndGlyphs" fill-opacity="0.9">IL7R</text>
<text transform="translate(666.19 56.15) scale(0.25)" font-family="Liberation Sans" font-size="8.00" font-weight="normal" fill="#2a1a10" text-anchor="middle" textLength="15.66" lengthAdjust="spacingAndGlyphs" fill-opacity="0.9">CD83</text>
<text transform="translate(664.52 62.85) scale(0.25)" font-family="Liberation Sans" font-size="8.00" font-weight="normal" fill="#2a1a10" text-anchor="middle" textLength="15.66" lengthAdjust="spacingAndGlyphs" fill-opacity="0.9">NFKBIA</text>
<text transform="translate(660.38 69.54) scale(0.25)" font-family="Liberation Sans" font-size="8.00" font-weight="normal" fill="#2a1a10" text-anchor="middle" textLength="13.20" lengthAdjust="spacingAndGlyphs" fill-opacity="0.9">EZR</text>
<text transform="translate(654.88 74.34) scale(0.25)" font-family="Liberation Sans" font-size="8.00" font-weight="normal" fill="#2a1a10" text-anchor="middle" textLength="15.66" lengthAdjust="spacingAndGlyphs" fill-opacity="0.9">ANXA1</text>
<text transform="translate(648.96 77.27) scale(0.25)" font-family="Liberation Sans" font-size="8.00" font-weight="normal" fill="#2a1a10" text-anchor="middle" textLength="15.66" lengthAdjust="spacingAndGlyphs" fill-opacity="0.9">LMNA</text>
<text transform="translate(639.52 78.92) scale(0.25)" font-family="Liberation Sans" font-size="8.00" font-weight="normal" fill="#2a1a10" text-anchor="middle" textLength="15.66" lengthAdjust="spacingAndGlyphs" fill-opacity="0.9">IER5</text>
<text transform="translate(632.24 78.05) scale(0.25)" font-family="Liberation Sans" font-size="8.00" font-weight="normal" fill="#2a1a10" text-anchor="middle" textLength="15.66" lengthAdjust="spacingAndGlyphs" fill-opacity="0.9">JUNB</text>
<text transform="translate(626.13 75.75) scale(0.25)" font-family="Liberation Sans" font-size="8.00" font-weight="normal" fill="#2a1a10" text-anchor="middle" textLength="15.66" lengthAdjust="spacingAndGlyphs" fill-opacity="0.9">KLF6</text>
<text transform="translate(620.23 71.62) scale(0.25)" font-family="Liberation Sans" font-size="8.00" font-weight="normal" fill="#2a1a10" text-anchor="middle" textLength="15.66" lengthAdjust="spacingAndGlyphs" fill-opacity="0.9">RGS1</text>
<text transform="translate(615.06 64.92) scale(0.25)" font-family="Liberation Sans" font-size="8.00" font-weight="normal" fill="#2a1a10" text-anchor="middle" textLength="15.66" lengthAdjust="spacingAndGlyphs" fill-opacity="0.9">CD69</text>
<text transform="translate(612.89 59.10) scale(0.25)" font-family="Liberation Sans" font-size="8.00" font-weight="normal" fill="#2a1a10" text-anchor="middle" textLength="15.66" lengthAdjust="spacingAndGlyphs" fill-opacity="0.9">IER2</text>
<text transform="translate(612.42 51.53) scale(0.25)" font-family="Liberation Sans" font-size="8.00" font-weight="normal" fill="#2a1a10" text-anchor="middle" textLength="15.66" lengthAdjust="spacingAndGlyphs" fill-opacity="0.9">DUSP2</text>
<text transform="translate(614.62 43.79) scale(0.25)" font-family="Liberation Sans" font-size="8.00" font-weight="normal" fill="#2a1a10" text-anchor="middle" textLength="15.66" lengthAdjust="spacingAndGlyphs" fill-opacity="0.9">CXCR4</text>
<text transform="translate(618.55 37.93) scale(0.25)" font-family="Liberation Sans" font-size="8.00" font-weight="normal" fill="#2a1a10" text-anchor="middle" textLength="15.66" lengthAdjust="spacingAndGlyphs" fill-opacity="0.9">ZFP36</text>
<text transform="translate(624.11 33.25) scale(0.25)" font-family="Liberation Sans" font-size="8.00" font-weight="normal" fill="#2a1a10" text-anchor="middle" textLength="15.66" lengthAdjust="spacingAndGlyphs" fill-opacity="0.9">TSC22D3</text>
<text transform="translate(630.44 30.30) scale(0.25)" font-family="Liberation Sans" font-size="8.00" font-weight="normal" fill="#2a1a10" text-anchor="middle" textLength="15.66" lengthAdjust="spacingAndGlyphs" fill-opacity="0.9">NR4A2</text>
<text transform="translate(638.03 28.95) scale(0.25)" font-family="Liberation Sans" font-size="8.00" font-weight="normal" fill="#2a1a10" text-anchor="middle" textLength="15.66" lengthAdjust="spacingAndGlyphs" fill-opacity="0.9">PPP1R15A</text>
<text transform="translate(645.05 29.49) scale(0.25)" font-family="Liberation Sans" font-size="8.00" font-weight="normal" fill="#2a1a10" text-anchor="middle" textLength="15.66" lengthAdjust="spacingAndGlyphs" fill-opacity="0.9">TNFAIP3</text>
<text transform="translate(652.30 32.01) scale(0.25)" font-family="Liberation Sans" font-size="8.00" font-weight="normal" fill="#2a1a10" text-anchor="middle" textLength="15.66" lengthAdjust="spacingAndGlyphs" fill-opacity="0.9">SRGN</text>
<text transform="translate(659.18 37.00) scale(0.25)" font-family="Liberation Sans" font-size="8.00" font-weight="normal" fill="#2a1a10" text-anchor="middle" textLength="15.66" lengthAdjust="spacingAndGlyphs" fill-opacity="0.9">CCL5</text>
<text transform="translate(663.81 43.44) scale(0.25)" font-family="Liberation Sans" font-size="8.00" font-weight="normal" fill="#2a1a10" text-anchor="middle" textLength="15.66" lengthAdjust="spacingAndGlyphs" fill-opacity="0.9">IFNG</text>
<text transform="translate(665.96 49.94) scale(0.25)" font-family="Liberation Sans" font-size="8.00" font-weight="normal" fill="#2a1a10" text-anchor="middle" textLength="15.66" lengthAdjust="spacingAndGlyphs" fill-opacity="0.9">BTG1</text>
<text transform="translate(658.05 56.75) scale(0.25)" font-family="Liberation Sans" font-size="8.00" font-weight="normal" fill="#2a1a10" text-anchor="middle" textLength="16.20" lengthAdjust="spacingAndGlyphs" fill-opacity="0.9">FOSB</text>
<text transform="translate(654.93 63.87) scale(0.25)" font-family="Liberation Sans" font-size="8.00" font-weight="normal" fill="#2a1a10" text-anchor="middle" textLength="16.20" lengthAdjust="spacingAndGlyphs" fill-opacity="0.9">EGR1</text>
<text transform="translate(649.10 68.91) scale(0.25)" font-family="Liberation Sans" font-size="8.00" font-weight="normal" fill="#2a1a10" text-anchor="middle" textLength="16.20" lengthAdjust="spacingAndGlyphs" fill-opacity="0.9">ATF3</text>
<text transform="translate(640.98 71.35) scale(0.25)" font-family="Liberation Sans" font-size="8.00" font-weight="normal" fill="#2a1a10" text-anchor="middle" textLength="16.20" lengthAdjust="spacingAndGlyphs" fill-opacity="0.9">SOCS3</text>
<text transform="translate(631.84 70.01) scale(0.25)" font-family="Liberation Sans" font-size="8.00" font-weight="normal" fill="#2a1a10" text-anchor="middle" textLength="16.20" lengthAdjust="spacingAndGlyphs" fill-opacity="0.9">H3-3B</text>
<text transform="translate(624.87 65.30) scale(0.25)" font-family="Liberation Sans" font-size="8.00" font-weight="normal" fill="#2a1a10" text-anchor="middle" textLength="16.20" lengthAdjust="spacingAndGlyphs" fill-opacity="0.9">YPEL3</text>
<text transform="translate(620.96 58.51) scale(0.25)" font-family="Liberation Sans" font-size="8.00" font-weight="normal" fill="#2a1a10" text-anchor="middle" textLength="16.20" lengthAdjust="spacingAndGlyphs" fill-opacity="0.9">NFKBIZ</text>
<text transform="translate(620.50 51.41) scale(0.25)" font-family="Liberation Sans" font-size="8.00" font-weight="normal" fill="#2a1a10" text-anchor="middle" textLength="16.20" lengthAdjust="spacingAndGlyphs" fill-opacity="0.9">CREM</text>
<text transform="translate(623.93 43.63) scale(0.25)" font-family="Liberation Sans" font-size="8.00" font-weight="normal" fill="#2a1a10" text-anchor="middle" textLength="16.20" lengthAdjust="spacingAndGlyphs" fill-opacity="0.9">IRF1</text>
<text transform="translate(629.24 39.07) scale(0.25)" font-family="Liberation Sans" font-size="8.00" font-weight="normal" fill="#2a1a10" text-anchor="middle" textLength="16.20" lengthAdjust="spacingAndGlyphs" fill-opacity="0.9">STAT3</text>
<text transform="translate(637.20 36.53) scale(0.25)" font-family="Liberation Sans" font-size="8.00" font-weight="normal" fill="#2a1a10" text-anchor="middle" textLength="16.20" lengthAdjust="spacingAndGlyphs" fill-opacity="0.9">CEBPB</text>
<text transform="translate(646.79 37.84) scale(0.25)" font-family="Liberation Sans" font-size="8.00" font-weight="normal" fill="#2a1a10" text-anchor="middle" textLength="16.20" lengthAdjust="spacingAndGlyphs" fill-opacity="0.9">PNRC1</text>
<text transform="translate(652.71 41.52) scale(0.25)" font-family="Liberation Sans" font-size="8.00" font-weight="normal" fill="#2a1a10" text-anchor="middle" textLength="16.20" lengthAdjust="spacingAndGlyphs" fill-opacity="0.9">SIK1</text>
<text transform="translate(657.44 48.73) scale(0.25)" font-family="Liberation Sans" font-size="8.00" font-weight="normal" fill="#2a1a10" text-anchor="middle" textLength="16.20" lengthAdjust="spacingAndGlyphs" fill-opacity="0.9">TOB1</text>
<text transform="translate(650.04 56.19) scale(0.25)" font-family="Liberation Sans" font-size="8.00" font-weight="normal" fill="#2a1a10" text-anchor="middle" textLength="16.74" lengthAdjust="spacingAndGlyphs" fill-opacity="0.9">RHOB</text>
<text transform="translate(645.53 62.58) scale(0.25)" font-family="Liberation Sans" font-size="8.00" font-weight="normal" fill="#2a1a10" text-anchor="middle" textLength="16.74" lengthAdjust="spacingAndGlyphs" fill-opacity="0.9">CDKN1A</text>
<text transform="translate(637.33 64.25) scale(0.25)" font-family="Liberation Sans" font-size="8.00" font-weight="normal" fill="#2a1a10" text-anchor="middle" textLength="16.74" lengthAdjust="spacingAndGlyphs" fill-opacity="0.9">GADD45B</text>
<text transform="translate(630.11 59.69) scale(0.25)" font-family="Liberation Sans" font-size="8.00" font-weight="normal" fill="#2a1a10" text-anchor="middle" textLength="16.74" lengthAdjust="spacingAndGlyphs" fill-opacity="0.9">MCL1</text>
<text transform="translate(628.56 51.65) scale(0.25)" font-family="Liberation Sans" font-size="8.00" font-weight="normal" fill="#2a1a10" text-anchor="middle" textLength="13.20" lengthAdjust="spacingAndGlyphs" fill-opacity="0.9">ID2</text>
<text transform="translate(633.54 44.97) scale(0.25)" font-family="Liberation Sans" font-size="8.00" font-weight="normal" fill="#2a1a10" text-anchor="middle" textLength="16.74" lengthAdjust="spacingAndGlyphs" fill-opacity="0.9">PDE4B</text>
<text transform="translate(641.79 43.69) scale(0.25)" font-family="Liberation Sans" font-size="8.00" font-weight="normal" fill="#2a1a10" text-anchor="middle" textLength="16.74" lengthAdjust="spacingAndGlyphs" fill-opacity="0.9">SLC2A3</text>
<text transform="translate(648.41 48.04) scale(0.25)" font-family="Liberation Sans" font-size="8.00" font-weight="normal" fill="#2a1a10" text-anchor="middle" textLength="16.74" lengthAdjust="spacingAndGlyphs" fill-opacity="0.9">TXNIP</text>
<text transform="translate(639.90 44.22) scale(0.25)" font-family="Liberation Sans" font-size="8.00" font-weight="normal" fill="#2a1a10" text-anchor="middle" textLength="16.20" lengthAdjust="spacingAndGlyphs" fill-opacity="0.9">KDM6B</text>
<text transform="translate(647.20 47.82) scale(0.25)" font-family="Liberation Sans" font-size="8.00" font-weight="normal" fill="#2a1a10" text-anchor="middle" textLength="13.20" lengthAdjust="spacingAndGlyphs" fill-opacity="0.9">REL</text>
<text transform="translate(640.60 51.42) scale(0.25)" font-family="Liberation Sans" font-size="8.00" font-weight="normal" fill="#2a1a10" text-anchor="middle" textLength="16.20" lengthAdjust="spacingAndGlyphs" fill-opacity="0.9">BHLHE40</text>
<text transform="translate(633.40 55.62) scale(0.25)" font-family="Liberation Sans" font-size="8.00" font-weight="normal" fill="#2a1a10" text-anchor="middle" textLength="16.20" lengthAdjust="spacingAndGlyphs" fill-opacity="0.9">CCNL1</text>
<text transform="translate(640.60 58.72) scale(0.25)" font-family="Liberation Sans" font-size="8.00" font-weight="normal" fill="#2a1a10" text-anchor="middle" textLength="16.20" lengthAdjust="spacingAndGlyphs" fill-opacity="0.9">SAT1</text>
<text transform="translate(633.90 48.32) scale(0.25)" font-family="Liberation Sans" font-size="8.00" font-weight="normal" fill="#2a1a10" text-anchor="middle" textLength="16.20" lengthAdjust="spacingAndGlyphs" fill-opacity="0.9">IL7R</text>
<ellipse cx="543" cy="55" rx="33" ry="31" fill="#ececec"/>
<path d="M554.8 79.1L560.3 29.1M555.5 90L529.7 90M559.7 66.4L555.5 18.7M567.9 36.4L544.6 64.2M504.3 48.2L577 35.5M535.2 52.2L517.4 83.6M508.8 73.6L539.7 34.5M554.3 60.5L559.7 66.4M524.3 53.6L564.3 55.1M577 35.5L577 73.6M536.6 73.6L567.9 36.4M536.6 73.6L544.6 64.2M543.9 82.7L517.4 83.6M517.4 67.8L555.5 90M528.3 28.2L563.9 75.1M518.8 35.5L533.4 80M574.3 55.8L549.4 24.2M543.9 82.7L513.7 56.4M560.3 29.1L543.9 82.7M517.4 25.5L542.5 17.3M581.5 48.2L543.9 92.7M560.3 29.1L529.4 18.7M560.3 29.1L577 35.5M536.6 73.6L540.6 44.5M548.8 73.6L538.8 23.6M504.3 60.5L536.1 60M540.6 44.5L513.7 56.4M536.6 73.6L550.6 44.5M577 73.6L529.7 90M559.7 66.4L543.9 92.7M555.5 52.2L523.4 75.1M517.4 67.8L523.4 75.1M527 64.5L540.6 44.5M515.2 44.5L504.3 48.2M581.5 60.9L543.9 92.7M577 35.5L544.6 64.2M529.7 90L535.2 52.2M570.6 67.3L533.4 80M543.9 92.7L539.7 34.5M555.5 18.7L539.7 34.5M538.8 23.6L559.7 66.4M504.3 48.2L563.9 75.1M543.9 92.7L548.8 73.6M524.3 53.6L529.4 18.7M523.4 75.1L560.3 29.1M549.4 24.2L543.9 82.7M559.7 66.4L504.3 48.2M504.3 48.2L543.9 92.7M536.6 73.6L577 35.5M574.3 55.8L554.3 60.5M563.9 75.1L535.2 52.2M548.8 73.6L567.9 36.4M568.3 25.5L518.8 35.5M568.3 25.5L508.8 35.5M559.7 66.4L518.8 35.5M555.5 18.7L563.9 75.1M504.3 48.2L543.9 92.7M554.8 79.1L577 35.5M517.4 67.8L529.7 42.4M548.8 73.6L564.3 55.1M567.9 36.4L568.3 25.5M508.8 35.5L567.9 83.6M529.7 42.4L538.8 23.6M564.3 55.1L567.9 36.4M542.5 17.3L508.8 73.6M533.4 80L545.2 54M555.5 90L533.4 80M540.6 44.5L535.2 52.2M570.6 67.3L560.3 29.1M524.3 53.6L567.9 36.4M515.2 44.5L567.9 83.6M528.3 28.2L524.3 53.6M517.4 25.5L567.9 83.6M535.2 52.2L564.3 55.1M529.4 18.7L543.9 82.7M539.7 34.5L567.9 83.6M561.5 43.6L542.5 17.3M508.8 35.5L524.3 53.6M513.7 56.4L529.7 42.4M504.3 48.2L524.3 53.6M563.9 75.1L508.8 35.5M539.7 34.5L554.8 79.1M527 64.5L554.3 60.5M555.5 90L581.5 60.9M554.8 79.1L581.5 60.9M529.7 90L542.5 17.3M529.7 42.4L574.3 55.8M545.2 54L555.5 90M577 35.5L577 73.6M529.7 42.4L518.8 35.5M567.9 83.6L515.2 44.5M528.3 28.2L513.7 56.4M554.8 79.1L560.3 29.1M504.3 60.5L550.6 44.5M543.9 92.7L529.7 90M529.7 90L543.9 82.7M517.4 83.6L561.5 43.6M548.8 73.6L536.6 73.6M527 64.5L555.5 18.7M540.6 44.5L561.5 43.6M549.4 24.2L548.8 73.6M535.2 52.2L568.3 25.5M545.2 54L529.4 18.7M543.9 82.7L573.4 45.5M577 35.5L554.8 79.1M527 64.5L536.1 60M529.7 90L561.5 43.6M504.3 60.5L508.8 35.5M551.5 35.5L540.6 44.5M513.7 56.4L548.8 73.6M555.5 18.7L504.3 48.2M543.9 82.7L555.5 90M515.2 44.5L564.3 55.1M518.8 35.5L544.6 64.2M549.4 24.2L554.3 60.5M536.6 73.6L560.3 29.1M536.1 60L581.5 60.9M528.3 28.2L540.6 44.5M568.3 25.5L549.4 24.2M540.6 44.5L548.8 73.6M513.7 56.4L538.8 23.6M515.2 44.5L518.8 35.5M551.5 35.5L550.6 44.5M538.8 23.6L527 64.5M536.6 73.6L517.4 83.6M577 35.5L550.6 44.5M544.6 64.2L513.7 56.4M517.4 83.6L523.4 75.1M577 35.5L513.7 56.4M559.7 66.4L563.9 75.1M581.5 60.9L577 35.5M529.7 42.4L577 35.5M555.5 52.2L544.6 64.2M554.3 60.5L527 64.5M574.3 55.8L549.4 24.2M550.6 44.5L542.5 17.3M539.7 34.5L529.7 42.4M561.5 43.6L574.3 55.8M567.9 36.4L538.8 23.6M549.4 24.2L543.9 82.7M554.8 79.1L577 35.5M504.3 60.5L542.5 17.3M568.3 25.5L559.7 66.4M570.6 67.3L555.5 18.7M504.3 48.2L517.4 25.5M561.5 43.6L524.3 53.6M544.6 64.2L554.8 79.1M564.3 55.1L570.6 67.3M573.4 45.5L554.3 60.5M504.3 48.2L554.8 79.1M543.9 82.7L513.7 56.4M560.3 29.1L504.3 60.5M555.5 52.2L529.7 42.4M581.5 48.2L555.5 18.7M567.9 36.4L529.7 90M560.3 29.1L533.4 80M561.5 43.6L540.6 44.5M508.8 73.6L535.2 52.2M574.3 55.8L555.5 52.2M555.5 52.2L527 64.5M550.6 44.5L559.7 66.4M564.3 55.1L540.6 44.5M551.5 35.5L544.6 64.2M539.7 34.5L508.8 35.5M504.3 48.2L567.9 36.4M560.3 29.1L543.9 82.7M515.2 44.5L550.6 44.5M543.9 82.7L544.6 64.2M538.8 23.6L561.5 43.6M529.4 18.7L543.9 92.7M513.7 56.4L517.4 83.6M515.2 44.5L554.8 79.1M561.5 43.6L555.5 90M581.5 48.2L536.6 73.6M529.7 90L581.5 48.2M538.8 23.6L515.2 44.5M550.6 44.5L543.9 82.7M573.4 45.5L581.5 60.9M543.9 92.7L561.5 43.6M570.6 67.3L508.8 73.6M539.7 34.5L517.4 67.8M533.4 80L529.7 42.4M524.3 53.6L539.7 34.5M517.4 83.6L508.8 35.5M581.5 48.2L542.5 17.3M513.7 56.4L549.4 24.2M508.8 35.5L555.5 90M539.7 34.5L549.4 24.2M517.4 83.6L504.3 48.2M540.6 44.5L551.5 35.5M517.4 25.5L561.5 43.6M543.9 82.7L543.9 92.7M554.8 79.1L573.4 45.5M554.8 79.1L570.6 67.3M573.4 45.5L550.6 44.5M559.7 66.4L517.4 25.5M559.7 66.4L529.7 90M559.7 66.4L543.9 82.7M550.6 44.5L517.4 25.5M581.5 60.9L517.4 83.6M508.8 73.6L555.5 18.7M523.4 75.1L554.3 60.5M555.5 52.2L561.5 43.6M533.4 80L542.5 17.3M577 35.5L549.4 24.2M524.3 53.6L555.5 18.7M554.8 79.1L540.6 44.5M574.3 55.8L551.5 35.5M574.3 55.8L504.3 48.2M529.4 18.7L528.3 28.2M555.5 90L581.5 60.9M515.2 44.5L517.4 83.6M573.4 45.5L533.4 80M529.4 18.7L533.4 80M543.9 92.7L567.9 83.6M536.1 60L545.2 54M544.6 64.2L570.6 67.3M538.8 23.6L568.3 25.5M515.2 44.5L517.4 83.6M563.9 75.1L554.8 79.1M536.6 73.6L504.3 48.2M504.3 60.5L536.1 60M554.3 60.5L544.6 64.2M524.3 53.6L573.4 45.5M545.2 54L542.5 17.3M559.7 66.4L524.3 53.6M577 35.5L581.5 48.2M570.6 67.3L548.8 73.6M527 64.5L559.7 66.4M517.4 83.6L555.5 90M568.3 25.5L560.3 29.1M544.6 64.2L538.8 23.6M540.6 44.5L528.3 28.2M550.6 44.5L560.3 29.1M567.9 36.4L539.7 34.5" fill="none" stroke="#c4c4c4" stroke-width="0.28" stroke-opacity="0.75"/>
<circle cx="529.4" cy="18.7" r="3.6" fill="#f2e4a2"/>
<circle cx="542.5" cy="17.3" r="3.6" fill="#f3e8a8"/>
<circle cx="555.5" cy="18.7" r="3.6" fill="#f1d894"/>
<circle cx="568.3" cy="25.5" r="3.6" fill="#f3e8a8"/>
<circle cx="577" cy="35.5" r="3.6" fill="#f1d894"/>
<circle cx="581.5" cy="48.2" r="3.6" fill="#f3e8a8"/>
<circle cx="581.5" cy="60.9" r="3.6" fill="#f3e8a8"/>
<circle cx="577" cy="73.6" r="3.6" fill="#f2e4a2"/>
<circle cx="567.9" cy="83.6" r="3.6" fill="#f3e8a8"/>
<circle cx="555.5" cy="90" r="3.6" fill="#f1d894"/>
<circle cx="543.9" cy="92.7" r="3.6" fill="#f2e4a2"/>
<circle cx="529.7" cy="90" r="3.6" fill="#f1d894"/>
<circle cx="517.4" cy="83.6" r="3.6" fill="#f1d894"/>
<circle cx="508.8" cy="73.6" r="3.6" fill="#f2e4a2"/>
<circle cx="504.3" cy="60.5" r="3.6" fill="#f2e4a2"/>
<circle cx="504.3" cy="48.2" r="3.6" fill="#f2e4a2"/>
<circle cx="508.8" cy="35.5" r="3.6" fill="#f3e8a8"/>
<circle cx="517.4" cy="25.5" r="3.6" fill="#f1d894"/>
<circle cx="518.8" cy="35.5" r="3.7" fill="#f0c888"/>
<circle cx="515.2" cy="44.5" r="3.7" fill="#efc07a"/>
<circle cx="513.7" cy="56.4" r="3.7" fill="#efc07a"/>
<circle cx="517.4" cy="67.8" r="3.7" fill="#efc07a"/>
<circle cx="523.4" cy="75.1" r="3.7" fill="#efc07a"/>
<circle cx="533.4" cy="80" r="3.7" fill="#eeb870"/>
<circle cx="543.9" cy="82.7" r="3.7" fill="#efc07a"/>
<circle cx="554.8" cy="79.1" r="3.7" fill="#f0c888"/>
<circle cx="563.9" cy="75.1" r="3.7" fill="#eeb870"/>
<circle cx="570.6" cy="67.3" r="3.7" fill="#f0c888"/>
<circle cx="574.3" cy="55.8" r="3.7" fill="#eeb870"/>
<circle cx="573.4" cy="45.5" r="3.7" fill="#f0c888"/>
<circle cx="567.9" cy="36.4" r="3.7" fill="#efc07a"/>
<circle cx="560.3" cy="29.1" r="3.7" fill="#f0c888"/>
<circle cx="549.4" cy="24.2" r="3.7" fill="#eeb870"/>
<circle cx="538.8" cy="23.6" r="3.7" fill="#f0c888"/>
<circle cx="528.3" cy="28.2" r="3.7" fill="#eeb870"/>
<circle cx="536.6" cy="73.6" r="3.7" fill="#efc07a"/>
<circle cx="536.1" cy="60" r="3.8" fill="#eb9248"/>
<circle cx="524.3" cy="53.6" r="3.8" fill="#e88c48"/>
<circle cx="540.6" cy="44.5" r="3.8" fill="#eb9a52"/>
<circle cx="550.6" cy="44.5" r="3.8" fill="#eb9a52"/>
<circle cx="555.5" cy="52.2" r="3.8" fill="#eb9248"/>
<circle cx="529.7" cy="42.4" r="3.8" fill="#eb9a52"/>
<circle cx="559.7" cy="66.4" r="3.8" fill="#eb9a52"/>
<circle cx="539.7" cy="34.5" r="3.8" fill="#eb9a52"/>
<circle cx="551.5" cy="35.5" r="3.8" fill="#e88c48"/>
<circle cx="561.5" cy="43.6" r="3.8" fill="#eb9a52"/>
<circle cx="564.3" cy="55.1" r="3.8" fill="#eb9248"/>
<circle cx="548.8" cy="73.6" r="3.8" fill="#eb9248"/>
<circle cx="527" cy="64.5" r="3.8" fill="#e88c48"/>
<circle cx="535.2" cy="52.2" r="4" fill="#c8283a"/>
<circle cx="545.2" cy="54" r="4" fill="#c42434"/>
<circle cx="554.3" cy="60.5" r="4" fill="#d03a36"/>
<circle cx="544.6" cy="64.2" r="4" fill="#d84838"/>
<text transform="translate(529.40 19.46) scale(0.25)" font-family="Liberation Sans" font-size="8.40" font-weight="normal" fill="#2a1a10" text-anchor="middle" textLength="18.48" lengthAdjust="spacingAndGlyphs" fill-opacity="0.9">CD83</text>
<text transform="translate(542.50 18.06) scale(0.25)" font-family="Liberation Sans" font-size="8.40" font-weight="normal" fill="#2a1a10" text-anchor="middle" textLength="19.44" lengthAdjust="spacingAndGlyphs" fill-opacity="0.9">NFKBIA</text>
<text transform="translate(555.50 19.46) scale(0.25)" font-family="Liberation Sans" font-size="8.40" font-weight="normal" fill="#2a1a10" text-anchor="middle" textLength="13.86" lengthAdjust="spacingAndGlyphs" fill-opacity="0.9">EZR</text>
<text transform="translate(568.30 26.26) scale(0.25)" font-family="Liberation Sans" font-size="8.40" font-weight="normal" fill="#2a1a10" text-anchor="middle" textLength="19.44" lengthAdjust="spacingAndGlyphs" fill-opacity="0.9">ANXA1</text>
<text transform="translate(577.00 36.26) scale(0.25)" font-family="Liberation Sans" font-size="8.40" font-weight="normal" fill="#2a1a10" text-anchor="middle" textLength="18.48" lengthAdjust="spacingAndGlyphs" fill-opacity="0.9">LMNA</text>
<text transform="translate(581.50 48.96) scale(0.25)" font-family="Liberation Sans" font-size="8.40" font-weight="normal" fill="#2a1a10" text-anchor="middle" textLength="18.48" lengthAdjust="spacingAndGlyphs" fill-opacity="0.9">IER5</text>
<text transform="translate(581.50 61.66) scale(0.25)" font-family="Liberation Sans" font-size="8.40" font-weight="normal" fill="#2a1a10" text-anchor="middle" textLength="18.48" lengthAdjust="spacingAndGlyphs" fill-opacity="0.9">JUNB</text>
<text transform="translate(577.00 74.36) scale(0.25)" font-family="Liberation Sans" font-size="8.40" font-weight="normal" fill="#2a1a10" text-anchor="middle" textLength="18.48" lengthAdjust="spacingAndGlyphs" fill-opacity="0.9">KLF6</text>
<text transform="translate(567.90 84.36) scale(0.25)" font-family="Liberation Sans" font-size="8.40" font-weight="normal" fill="#2a1a10" text-anchor="middle" textLength="18.48" lengthAdjust="spacingAndGlyphs" fill-opacity="0.9">RGS1</text>
<text transform="translate(555.50 90.76) scale(0.25)" font-family="Liberation Sans" font-size="8.40" font-weight="normal" fill="#2a1a10" text-anchor="middle" textLength="18.48" lengthAdjust="spacingAndGlyphs" fill-opacity="0.9">CD69</text>
<text transform="translate(543.90 93.46) scale(0.25)" font-family="Liberation Sans" font-size="8.40" font-weight="normal" fill="#2a1a10" text-anchor="middle" textLength="18.48" lengthAdjust="spacingAndGlyphs" fill-opacity="0.9">IER2</text>
<text transform="translate(529.70 90.76) scale(0.25)" font-family="Liberation Sans" font-size="8.40" font-weight="normal" fill="#2a1a10" text-anchor="middle" textLength="19.44" lengthAdjust="spacingAndGlyphs" fill-opacity="0.9">DUSP2</text>
<text transform="translate(517.40 84.36) scale(0.25)" font-family="Liberation Sans" font-size="8.40" font-weight="normal" fill="#2a1a10" text-anchor="middle" textLength="19.44" lengthAdjust="spacingAndGlyphs" fill-opacity="0.9">CXCR4</text>
<text transform="translate(508.80 74.36) scale(0.25)" font-family="Liberation Sans" font-size="8.40" font-weight="normal" fill="#2a1a10" text-anchor="middle" textLength="19.44" lengthAdjust="spacingAndGlyphs" fill-opacity="0.9">ZFP36</text>
<text transform="translate(504.30 61.26) scale(0.25)" font-family="Liberation Sans" font-size="8.40" font-weight="normal" fill="#2a1a10" text-anchor="middle" textLength="19.44" lengthAdjust="spacingAndGlyphs" fill-opacity="0.9">TSC22D3</text>
<text transform="translate(504.30 48.96) scale(0.25)" font-family="Liberation Sans" font-size="8.40" font-weight="normal" fill="#2a1a10" text-anchor="middle" textLength="19.44" lengthAdjust="spacingAndGlyphs" fill-opacity="0.9">NR4A2</text>
<text transform="translate(508.80 36.26) scale(0.25)" font-family="Liberation Sans" font-size="8.40" font-weight="normal" fill="#2a1a10" text-anchor="middle" textLength="19.44" lengthAdjust="spacingAndGlyphs" fill-opacity="0.9">PPP1R15A</text>
<text transform="translate(517.40 26.26) scale(0.25)" font-family="Liberation Sans" font-size="8.40" font-weight="normal" fill="#2a1a10" text-anchor="middle" textLength="19.44" lengthAdjust="spacingAndGlyphs" fill-opacity="0.9">TNFAIP3</text>
<text transform="translate(518.80 36.26) scale(0.25)" font-family="Liberation Sans" font-size="8.40" font-weight="normal" fill="#2a1a10" text-anchor="middle" textLength="18.48" lengthAdjust="spacingAndGlyphs" fill-opacity="0.9">SRGN</text>
<text transform="translate(515.20 45.26) scale(0.25)" font-family="Liberation Sans" font-size="8.40" font-weight="normal" fill="#2a1a10" text-anchor="middle" textLength="18.48" lengthAdjust="spacingAndGlyphs" fill-opacity="0.9">CCL5</text>
<text transform="translate(513.70 57.16) scale(0.25)" font-family="Liberation Sans" font-size="8.40" font-weight="normal" fill="#2a1a10" text-anchor="middle" textLength="18.48" lengthAdjust="spacingAndGlyphs" fill-opacity="0.9">IFNG</text>
<text transform="translate(517.40 68.56) scale(0.25)" font-family="Liberation Sans" font-size="8.40" font-weight="normal" fill="#2a1a10" text-anchor="middle" textLength="18.48" lengthAdjust="spacingAndGlyphs" fill-opacity="0.9">BTG1</text>
<text transform="translate(523.40 75.86) scale(0.25)" font-family="Liberation Sans" font-size="8.40" font-weight="normal" fill="#2a1a10" text-anchor="middle" textLength="18.48" lengthAdjust="spacingAndGlyphs" fill-opacity="0.9">FOSB</text>
<text transform="translate(533.40 80.76) scale(0.25)" font-family="Liberation Sans" font-size="8.40" font-weight="normal" fill="#2a1a10" text-anchor="middle" textLength="18.48" lengthAdjust="spacingAndGlyphs" fill-opacity="0.9">EGR1</text>
<text transform="translate(543.90 83.46) scale(0.25)" font-family="Liberation Sans" font-size="8.40" font-weight="normal" fill="#2a1a10" text-anchor="middle" textLength="18.48" lengthAdjust="spacingAndGlyphs" fill-opacity="0.9">ATF3</text>
<text transform="translate(554.80 79.86) scale(0.25)" font-family="Liberation Sans" font-size="8.40" font-weight="normal" fill="#2a1a10" text-anchor="middle" textLength="19.98" lengthAdjust="spacingAndGlyphs" fill-opacity="0.9">SOCS3</text>
<text transform="translate(563.90 75.86) scale(0.25)" font-family="Liberation Sans" font-size="8.40" font-weight="normal" fill="#2a1a10" text-anchor="middle" textLength="19.98" lengthAdjust="spacingAndGlyphs" fill-opacity="0.9">H3-3B</text>
<text transform="translate(570.60 68.06) scale(0.25)" font-family="Liberation Sans" font-size="8.40" font-weight="normal" fill="#2a1a10" text-anchor="middle" textLength="19.98" lengthAdjust="spacingAndGlyphs" fill-opacity="0.9">YPEL3</text>
<text transform="translate(574.30 56.56) scale(0.25)" font-family="Liberation Sans" font-size="8.40" font-weight="normal" fill="#2a1a10" text-anchor="middle" textLength="19.98" lengthAdjust="spacingAndGlyphs" fill-opacity="0.9">NFKBIZ</text>
<text transform="translate(573.40 46.26) scale(0.25)" font-family="Liberation Sans" font-size="8.40" font-weight="normal" fill="#2a1a10" text-anchor="middle" textLength="18.48" lengthAdjust="spacingAndGlyphs" fill-opacity="0.9">CREM</text>
<text transform="translate(567.90 37.16) scale(0.25)" font-family="Liberation Sans" font-size="8.40" font-weight="normal" fill="#2a1a10" text-anchor="middle" textLength="18.48" lengthAdjust="spacingAndGlyphs" fill-opacity="0.9">IRF1</text>
<text transform="translate(560.30 29.86) scale(0.25)" font-family="Liberation Sans" font-size="8.40" font-weight="normal" fill="#2a1a10" text-anchor="middle" textLength="19.98" lengthAdjust="spacingAndGlyphs" fill-opacity="0.9">STAT3</text>
<text transform="translate(549.40 24.96) scale(0.25)" font-family="Liberation Sans" font-size="8.40" font-weight="normal" fill="#2a1a10" text-anchor="middle" textLength="19.98" lengthAdjust="spacingAndGlyphs" fill-opacity="0.9">CEBPB</text>
<text transform="translate(538.80 24.36) scale(0.25)" font-family="Liberation Sans" font-size="8.40" font-weight="normal" fill="#2a1a10" text-anchor="middle" textLength="19.98" lengthAdjust="spacingAndGlyphs" fill-opacity="0.9">PNRC1</text>
<text transform="translate(528.30 28.96) scale(0.25)" font-family="Liberation Sans" font-size="8.40" font-weight="normal" fill="#2a1a10" text-anchor="middle" textLength="18.48" lengthAdjust="spacingAndGlyphs" fill-opacity="0.9">SIK1</text>
<text transform="translate(536.60 74.36) scale(0.25)" font-family="Liberation Sans" font-size="8.40" font-weight="normal" fill="#2a1a10" text-anchor="middle" textLength="18.48" lengthAdjust="spacingAndGlyphs" fill-opacity="0.9">TOB1</text>
<text transform="translate(536.10 60.76) scale(0.25)" font-family="Liberation Sans" font-size="8.40" font-weight="normal" fill="#2a1a10" text-anchor="middle" textLength="18.48" lengthAdjust="spacingAndGlyphs" fill-opacity="0.9">RHOB</text>
<text transform="translate(524.30 54.36) scale(0.25)" font-family="Liberation Sans" font-size="8.40" font-weight="normal" fill="#2a1a10" text-anchor="middle" textLength="20.52" lengthAdjust="spacingAndGlyphs" fill-opacity="0.9">CDKN1A</text>
<text transform="translate(540.60 45.26) scale(0.25)" font-family="Liberation Sans" font-size="8.40" font-weight="normal" fill="#2a1a10" text-anchor="middle" textLength="20.52" lengthAdjust="spacingAndGlyphs" fill-opacity="0.9">GADD45B</text>
<text transform="translate(550.60 45.26) scale(0.25)" font-family="Liberation Sans" font-size="8.40" font-weight="normal" fill="#2a1a10" text-anchor="middle" textLength="18.48" lengthAdjust="spacingAndGlyphs" fill-opacity="0.9">MCL1</text>
<text transform="translate(555.50 52.96) scale(0.25)" font-family="Liberation Sans" font-size="8.40" font-weight="normal" fill="#2a1a10" text-anchor="middle" textLength="13.86" lengthAdjust="spacingAndGlyphs" fill-opacity="0.9">ID2</text>
<text transform="translate(529.70 43.16) scale(0.25)" font-family="Liberation Sans" font-size="8.40" font-weight="normal" fill="#2a1a10" text-anchor="middle" textLength="20.52" lengthAdjust="spacingAndGlyphs" fill-opacity="0.9">PDE4B</text>
<text transform="translate(559.70 67.16) scale(0.25)" font-family="Liberation Sans" font-size="8.40" font-weight="normal" fill="#2a1a10" text-anchor="middle" textLength="20.52" lengthAdjust="spacingAndGlyphs" fill-opacity="0.9">SLC2A3</text>
<text transform="translate(539.70 35.26) scale(0.25)" font-family="Liberation Sans" font-size="8.40" font-weight="normal" fill="#2a1a10" text-anchor="middle" textLength="20.52" lengthAdjust="spacingAndGlyphs" fill-opacity="0.9">TXNIP</text>
<text transform="translate(551.50 36.26) scale(0.25)" font-family="Liberation Sans" font-size="8.40" font-weight="normal" fill="#2a1a10" text-anchor="middle" textLength="20.52" lengthAdjust="spacingAndGlyphs" fill-opacity="0.9">KDM6B</text>
<text transform="translate(561.50 44.36) scale(0.25)" font-family="Liberation Sans" font-size="8.40" font-weight="normal" fill="#2a1a10" text-anchor="middle" textLength="13.86" lengthAdjust="spacingAndGlyphs" fill-opacity="0.9">REL</text>
<text transform="translate(564.30 55.86) scale(0.25)" font-family="Liberation Sans" font-size="8.40" font-weight="normal" fill="#2a1a10" text-anchor="middle" textLength="20.52" lengthAdjust="spacingAndGlyphs" fill-opacity="0.9">BHLHE40</text>
<text transform="translate(548.80 74.36) scale(0.25)" font-family="Liberation Sans" font-size="8.40" font-weight="normal" fill="#2a1a10" text-anchor="middle" textLength="20.52" lengthAdjust="spacingAndGlyphs" fill-opacity="0.9">CCNL1</text>
<text transform="translate(527.00 65.26) scale(0.25)" font-family="Liberation Sans" font-size="8.40" font-weight="normal" fill="#2a1a10" text-anchor="middle" textLength="18.48" lengthAdjust="spacingAndGlyphs" fill-opacity="0.9">SAT1</text>
<text transform="translate(535.20 52.96) scale(0.25)" font-family="Liberation Sans" font-size="8.40" font-weight="normal" fill="#2a1a10" text-anchor="middle" textLength="18.48" lengthAdjust="spacingAndGlyphs" fill-opacity="0.9">IL7R</text>
<text transform="translate(545.20 54.76) scale(0.25)" font-family="Liberation Sans" font-size="8.40" font-weight="normal" fill="#2a1a10" text-anchor="middle" textLength="18.48" lengthAdjust="spacingAndGlyphs" fill-opacity="0.9">CD83</text>
<text transform="translate(554.30 61.26) scale(0.25)" font-family="Liberation Sans" font-size="8.40" font-weight="normal" fill="#2a1a10" text-anchor="middle" textLength="21.60" lengthAdjust="spacingAndGlyphs" fill-opacity="0.9">NFKBIA</text>
<text transform="translate(544.60 64.96) scale(0.25)" font-family="Liberation Sans" font-size="8.40" font-weight="normal" fill="#2a1a10" text-anchor="middle" textLength="13.86" lengthAdjust="spacingAndGlyphs" fill-opacity="0.9">EZR</text>
<path d="M259.7 19.8L238.9 22.8M259.7 19.8L264.4 37.2M259.7 19.8L236.3 49.3M259.7 19.8L275.3 50.6M238.9 22.8L246.7 37.2M238.9 22.8L236.3 49.3M238.9 22.8L257.4 53.7M238.9 22.8L239.7 66.7M279.3 28L246.7 37.2M279.3 28L257.4 53.7M279.3 28L275.3 50.6M279.3 28L271.9 66.7M223.8 36.3L246.7 37.2M223.8 36.3L264.4 37.2M246.7 37.2L264.4 37.2M246.7 37.2L257.4 53.7M246.7 37.2L275.3 50.6M246.7 37.2L239.7 66.7M246.7 37.2L271.9 66.7M246.7 37.2L256.2 73.7M264.4 37.2L290.4 44.1M264.4 37.2L236.3 49.3M264.4 37.2L257.4 53.7M264.4 37.2L275.3 50.6M264.4 37.2L239.7 66.7M264.4 37.2L271.9 66.7M264.4 37.2L291.8 64.1M264.4 37.2L256.2 73.7M236.3 49.3L257.4 53.7M236.3 49.3L275.3 50.6M236.3 49.3L239.7 66.7M236.3 49.3L271.9 66.7M236.3 49.3L256.2 73.7M236.3 49.3L222.4 74.9M257.4 53.7L275.3 50.6M257.4 53.7L239.7 66.7M257.4 53.7L271.9 66.7M257.4 53.7L256.2 73.7M257.4 53.7L280 82.3M275.3 50.6L239.7 66.7M275.3 50.6L271.9 66.7M275.3 50.6L256.2 73.7M275.3 50.6L280 82.3M217.2 55.4L239.7 66.7M217.2 55.4L256.2 73.7M239.7 66.7L271.9 66.7M239.7 66.7L256.2 73.7M239.7 66.7L238.9 88.1M239.7 66.7L260.9 90.2M271.9 66.7L256.2 73.7M271.9 66.7L280 82.3M271.9 66.7L238.9 88.1M271.9 66.7L260.9 90.2M256.2 73.7L280 82.3M222.4 74.9L260.9 90.2" fill="none" stroke="#b0b0b0" stroke-width="0.35"/>
<circle cx="259.7" cy="19.8" r="6.1" fill="#eca85c"/>
<circle cx="238.9" cy="22.8" r="6.1" fill="#f2ee9e"/>
<circle cx="279.3" cy="28" r="6.1" fill="#f2ee9e"/>
<circle cx="223.8" cy="36.3" r="6.1" fill="#eca85c"/>
<circle cx="246.7" cy="37.2" r="6.1" fill="#eb9048"/>
<circle cx="264.4" cy="37.2" r="6.6" fill="#e2663a"/>
<circle cx="290.4" cy="44.1" r="6.1" fill="#eca85c"/>
<circle cx="236.3" cy="49.3" r="6.6" fill="#e0583a"/>
<circle cx="257.4" cy="53.7" r="7.4" fill="#c41e34"/>
<circle cx="275.3" cy="50.6" r="6.1" fill="#eb9048"/>
<circle cx="217.2" cy="55.4" r="6.1" fill="#eebe72"/>
<circle cx="239.7" cy="66.7" r="7.2" fill="#d53a2e"/>
<circle cx="271.9" cy="66.7" r="7" fill="#db4a30"/>
<circle cx="291.8" cy="64.1" r="6.1" fill="#eebe72"/>
<circle cx="256.2" cy="73.7" r="6.1" fill="#eb9048"/>
<circle cx="222.4" cy="74.9" r="6.1" fill="#f2ee9e"/>
<circle cx="280" cy="82.3" r="6.1" fill="#eca85c"/>
<circle cx="238.9" cy="88.1" r="6.1" fill="#f2ee9e"/>
<circle cx="260.9" cy="90.2" r="6.1" fill="#eba050"/>
<text transform="translate(259.70 20.88) scale(0.25)" font-family="Liberation Sans" font-size="12.00" font-weight="normal" fill="#1c1616" text-anchor="middle" >NR4A2</text>
<text transform="translate(238.90 23.66) scale(0.25)" font-family="Liberation Sans" font-size="9.60" font-weight="normal" fill="#1c1616" text-anchor="middle" >ZNF331</text>
<text transform="translate(279.30 28.86) scale(0.25)" font-family="Liberation Sans" font-size="9.60" font-weight="normal" fill="#1c1616" text-anchor="middle" >PTGER4</text>
<text transform="translate(223.80 37.38) scale(0.25)" font-family="Liberation Sans" font-size="12.00" font-weight="normal" fill="#1c1616" text-anchor="middle" >DUSP2</text>
<text transform="translate(246.70 38.86) scale(0.25)" font-family="Liberation Sans" font-size="18.40" font-weight="normal" fill="#1c1616" text-anchor="middle" >KLF6</text>
<text transform="translate(264.40 39.36) scale(0.25)" font-family="Liberation Sans" font-size="24.00" font-weight="normal" fill="#1c1616" text-anchor="middle" >JUNB</text>
<text transform="translate(290.40 45.40) scale(0.25)" font-family="Liberation Sans" font-size="14.40" font-weight="normal" fill="#1c1616" text-anchor="middle" >CD69</text>
<text transform="translate(236.30 51.53) scale(0.25)" font-family="Liberation Sans" font-size="24.80" font-weight="normal" fill="#1c1616" text-anchor="middle" >ZFP36</text>
<text transform="translate(257.40 56.65) scale(0.25)" font-family="Liberation Sans" font-size="32.80" font-weight="normal" fill="#1c1616" text-anchor="middle" >FOS</text>
<text transform="translate(275.30 52.33) scale(0.25)" font-family="Liberation Sans" font-size="19.20" font-weight="normal" fill="#1c1616" text-anchor="middle" >PPP1R15A</text>
<text transform="translate(217.20 56.48) scale(0.25)" font-family="Liberation Sans" font-size="12.00" font-weight="normal" fill="#1c1616" text-anchor="middle" >CXCR4</text>
<text transform="translate(239.70 69.22) scale(0.25)" font-family="Liberation Sans" font-size="28.00" font-weight="normal" fill="#1c1616" text-anchor="middle" >NFKBIA</text>
<text transform="translate(271.90 69.08) scale(0.25)" font-family="Liberation Sans" font-size="26.40" font-weight="normal" fill="#1c1616" text-anchor="middle" >DUSP1</text>
<text transform="translate(291.80 65.04) scale(0.25)" font-family="Liberation Sans" font-size="10.40" font-weight="normal" fill="#1c1616" text-anchor="middle" >TSC22D3</text>
<text transform="translate(256.20 75.36) scale(0.25)" font-family="Liberation Sans" font-size="18.40" font-weight="normal" fill="#1c1616" text-anchor="middle" >TNFAIP3</text>
<text transform="translate(222.40 75.76) scale(0.25)" font-family="Liberation Sans" font-size="9.60" font-weight="normal" fill="#1c1616" text-anchor="middle" >CCNP</text>
<text transform="translate(280.00 83.38) scale(0.25)" font-family="Liberation Sans" font-size="12.00" font-weight="normal" fill="#1c1616" text-anchor="middle" >H3-3B</text>
<text transform="translate(238.90 88.96) scale(0.25)" font-family="Liberation Sans" font-size="9.60" font-weight="normal" fill="#1c1616" text-anchor="middle" >SIK1</text>
<text transform="translate(260.90 91.64) scale(0.25)" font-family="Liberation Sans" font-size="16.00" font-weight="normal" fill="#1c1616" text-anchor="middle" >JUND</text>
<path d="M343 19.8L367.6 22.8M343 19.8L353 28M343 19.8L362 49.9M367.6 22.8L347.8 45.9M367.6 22.8L379.4 52.3M367.6 22.8L349.9 59.2M353 28L336 36.3M353 28L371.1 34.6M353 28L347.8 45.9M353 28L362 49.9M353 28L328.7 53.7M353 28L349.9 59.2M320.4 32.5L336 36.3M320.4 32.5L347.8 45.9M320.4 32.5L314.8 56.3M320.4 32.5L328.7 53.7M320.4 32.5L349.9 59.2M320.4 32.5L335.6 71M336 36.3L371.1 34.6M336 36.3L362 49.9M336 36.3L328.7 53.7M336 36.3L349.9 59.2M336 36.3L335.6 71M371.1 34.6L347.8 45.9M371.1 34.6L362 49.9M371.1 34.6L379.4 52.3M371.1 34.6L349.9 59.2M371.1 34.6L369.3 71M384.3 40.7L347.8 45.9M384.3 40.7L349.9 59.2M384.3 40.7L369.3 71M384.3 40.7L370.7 83.2M347.8 45.9L362 49.9M347.8 45.9L314.8 56.3M347.8 45.9L328.7 53.7M347.8 45.9L379.4 52.3M347.8 45.9L349.9 59.2M347.8 45.9L387.8 63.8M347.8 45.9L335.6 71M362 49.9L328.7 53.7M362 49.9L379.4 52.3M362 49.9L349.9 59.2M362 49.9L335.6 71M362 49.9L369.3 71M362 49.9L355.1 77.6M362 49.9L370.7 83.2M328.7 53.7L349.9 59.2M328.7 53.7L335.6 71M328.7 53.7L369.3 71M328.7 53.7L355.1 77.6M379.4 52.3L349.9 59.2M379.4 52.3L387.8 63.8M349.9 59.2L387.8 63.8M349.9 59.2L335.6 71M349.9 59.2L369.3 71M349.9 59.2L323.5 78M349.9 59.2L355.1 77.6M387.8 63.8L369.3 71M335.6 71L369.3 71M335.6 71L355.1 77.6M335.6 71L344.7 88.4M369.3 71L370.7 83.2M369.3 71L344.7 88.4" fill="none" stroke="#b0b0b0" stroke-width="0.35"/>
<circle cx="343" cy="19.8" r="6" fill="#eccc7a"/>
<circle cx="367.6" cy="22.8" r="6.1" fill="#eca25a"/>
<circle cx="353" cy="28" r="6.1" fill="#ec9448"/>
<circle cx="320.4" cy="32.5" r="6.1" fill="#f2ee9e"/>
<circle cx="336" cy="36.3" r="6.6" fill="#e0603a"/>
<circle cx="371.1" cy="34.6" r="6.6" fill="#e46a38"/>
<circle cx="384.3" cy="40.7" r="6.1" fill="#f2ee9e"/>
<circle cx="347.8" cy="45.9" r="7.6" fill="#c41e34"/>
<circle cx="362" cy="49.9" r="7.6" fill="#c41e34"/>
<circle cx="314.8" cy="56.3" r="6.1" fill="#eca85c"/>
<circle cx="328.7" cy="53.7" r="6.4" fill="#e67a3c"/>
<circle cx="379.4" cy="52.3" r="6.2" fill="#eb9048"/>
<circle cx="349.9" cy="59.2" r="7.6" fill="#cc2a32"/>
<circle cx="387.8" cy="63.8" r="6.1" fill="#eca85c"/>
<circle cx="335.6" cy="71" r="6.4" fill="#e8803e"/>
<circle cx="369.3" cy="71" r="6.4" fill="#eb9048"/>
<circle cx="323.5" cy="78" r="6.1" fill="#ecb060"/>
<circle cx="355.1" cy="77.6" r="6.6" fill="#e0583a"/>
<circle cx="370.7" cy="83.2" r="6.1" fill="#f2ee9e"/>
<circle cx="344.7" cy="88.4" r="6.1" fill="#f2ee9e"/>
<text transform="translate(343.00 20.74) scale(0.25)" font-family="Liberation Sans" font-size="10.40" font-weight="normal" fill="#1c1616" text-anchor="middle" >CXXXP</text>
<text transform="translate(367.60 23.88) scale(0.25)" font-family="Liberation Sans" font-size="12.00" font-weight="normal" fill="#1c1616" text-anchor="middle" >CXCR4</text>
<text transform="translate(353.00 29.80) scale(0.25)" font-family="Liberation Sans" font-size="20.00" font-weight="normal" fill="#1c1616" text-anchor="middle" >CD69</text>
<text transform="translate(320.40 33.29) scale(0.25)" font-family="Liberation Sans" font-size="8.80" font-weight="normal" fill="#1c1616" text-anchor="middle" >HNRNPDL</text>
<text transform="translate(336.00 38.46) scale(0.25)" font-family="Liberation Sans" font-size="24.00" font-weight="normal" fill="#1c1616" text-anchor="middle" >ZFP36</text>
<text transform="translate(371.10 36.47) scale(0.25)" font-family="Liberation Sans" font-size="20.80" font-weight="normal" fill="#1c1616" text-anchor="middle" >JUNB</text>
<text transform="translate(384.30 41.56) scale(0.25)" font-family="Liberation Sans" font-size="9.60" font-weight="normal" fill="#1c1616" text-anchor="middle" >CRLF</text>
<text transform="translate(347.80 49.00) scale(0.25)" font-family="Liberation Sans" font-size="34.40" font-weight="normal" fill="#1c1616" text-anchor="middle" >FOS</text>
<text transform="translate(362.00 53.00) scale(0.25)" font-family="Liberation Sans" font-size="34.40" font-weight="normal" fill="#1c1616" text-anchor="middle" >JUN</text>
<text transform="translate(314.80 57.60) scale(0.25)" font-family="Liberation Sans" font-size="14.40" font-weight="normal" fill="#1c1616" text-anchor="middle" >JUND</text>
<text transform="translate(328.70 55.72) scale(0.25)" font-family="Liberation Sans" font-size="22.40" font-weight="normal" fill="#1c1616" text-anchor="middle" >TGFB1</text>
<text transform="translate(379.40 53.88) scale(0.25)" font-family="Liberation Sans" font-size="17.60" font-weight="normal" fill="#1c1616" text-anchor="middle" >H3-3B</text>
<text transform="translate(349.90 62.01) scale(0.25)" font-family="Liberation Sans" font-size="31.20" font-weight="normal" fill="#1c1616" text-anchor="middle" >NFKBIA</text>
<text transform="translate(387.80 64.95) scale(0.25)" font-family="Liberation Sans" font-size="12.80" font-weight="normal" fill="#1c1616" text-anchor="middle" >DUSP2</text>
<text transform="translate(335.60 72.94) scale(0.25)" font-family="Liberation Sans" font-size="21.60" font-weight="normal" fill="#1c1616" text-anchor="middle" >TNFAIP3</text>
<text transform="translate(369.30 72.94) scale(0.25)" font-family="Liberation Sans" font-size="21.60" font-weight="normal" fill="#1c1616" text-anchor="middle" >PPP1R15A</text>
<text transform="translate(323.50 79.08) scale(0.25)" font-family="Liberation Sans" font-size="12.00" font-weight="normal" fill="#1c1616" text-anchor="middle" >TSC22D3</text>
<text transform="translate(355.10 79.98) scale(0.25)" font-family="Liberation Sans" font-size="26.40" font-weight="normal" fill="#1c1616" text-anchor="middle" >DUSP1</text>
<text transform="translate(370.70 83.99) scale(0.25)" font-family="Liberation Sans" font-size="8.80" font-weight="normal" fill="#1c1616" text-anchor="middle" >ZFP36L2</text>
<text transform="translate(344.70 89.19) scale(0.25)" font-family="Liberation Sans" font-size="8.80" font-weight="normal" fill="#1c1616" text-anchor="middle" >CHD6</text>
<path d="M80.2 385.8L154.8 355.6M154.8 415.9L61.6 365.7M80.2 385.8L80.2 365.7M154.8 415.9L80.2 395.8M117.5 395.8L154.8 415.9M136.2 395.8L154.8 415.9M154.8 385.8L173.5 426M98.9 415.9L173.5 375.7M117.5 355.6L117.5 385.8M81.4 427.5L117.5 405.9M24.3 355.6L43 395.8M24.3 385.8L154.8 395.8M80.2 405.9L24.3 395.8M136.2 415.9L61.6 385.8M98.9 426L173.5 405.9M98.9 365.7L117.5 365.7M136.2 375.7L61.6 405.9M24.3 385.8L136.2 365.7M61.6 375.7L136.2 405.9M24.3 365.7L24.3 426M43 385.8L173.5 375.7M43 385.8L61.6 385.8M154.8 415.9L136.2 395.8M24.3 375.7L136.2 355.6M117.5 426L61.6 415.9M117.5 365.7L43 395.8M136.2 426L154.8 415.9M61.6 385.8L173.5 375.7M98.9 436L136.2 375.7M136.2 436L43 405.9M154.8 375.7L136.2 365.7M24.3 365.7L136.2 355.6M154.8 405.9L24.3 405.9M136.2 405.9L154.8 365.7M154.8 405.9L43 375.7M154.8 385.8L98.9 375.7M154.8 395.8L136.2 385.8M24.3 385.8L98.9 395.8M117.5 426L154.8 385.8M43 365.7L173.5 365.7M173.5 365.7L117.5 415.9M154.8 426L81.4 427.5M80.2 355.6L136.2 405.9M173.5 375.7L136.2 415.9M61.6 436L154.8 405.9M24.3 415.9L98.9 395.8M136.2 395.8L98.9 375.7M154.8 395.8L173.5 385.8M136.2 365.7L61.6 415.9M154.8 415.9L98.9 436M98.9 355.6L80.2 395.8M136.2 415.9L43 436M154.8 415.9L173.9 439M117.5 436L61.6 385.8M43 395.8L98.9 365.7M136.2 395.8L24.3 365.7M61.6 365.7L117.5 426M24.3 446.1L154.8 426M82.4 440L173.5 365.7M173.5 375.7L136.2 365.7M136.2 375.7L136.2 415.9M117.5 375.7L24.3 375.7M173.9 439L81.4 427.5M43 426L117.5 405.9M117.5 405.9L173.9 439M117.5 385.8L98.9 385.8M98.9 385.8L117.5 405.9M173.5 355.6L98.9 405.9M154.8 415.9L136.2 385.8M117.5 415.9L154.8 365.7M173.5 375.7L98.9 395.8M136.2 415.9L173.5 395.8M43 405.9L24.3 355.6M43 415.9L117.5 395.8M61.6 436L117.5 415.9M80.2 405.9L24.3 415.9M117.5 395.8L154.8 426M98.9 405.9L24.3 415.9M154.8 385.8L81.4 427.5M24.3 395.8L98.9 395.8M24.3 355.6L98.9 355.6M136.2 375.7L24.3 446.1M173.5 385.8L136.2 415.9M154.8 395.8L154.8 415.9M43 436L98.9 426M81.4 427.5L43 355.6M136.2 426L154.8 355.6M173.5 375.7L24.3 355.6M80.2 375.7L136.2 355.6M61.6 395.8L43 385.8M154.8 436L24.3 365.7M173.5 405.9L154.8 385.8M173.5 405.9L61.6 365.7M173.5 365.7L136.2 415.9M173.9 439L43 426M61.6 355.6L154.8 375.7M154.8 395.8L117.5 415.9M117.5 426L61.6 426M136.2 426L24.3 415.9M117.5 405.9L24.3 446.1M154.8 415.9L24.3 405.9M43 405.9L98.9 355.6M154.8 355.6L24.3 446.1M154.8 436L61.6 405.9M43 436L24.3 436M173.5 395.8L154.8 365.7M61.6 415.9L136.2 365.7M98.9 436L80.2 355.6M136.2 426L80.2 365.7M43 355.6L24.3 436M136.2 415.9L154.8 405.9M61.6 426L61.6 375.7M117.5 385.8L61.6 405.9M154.8 415.9L80.2 355.6M43 395.8L61.6 365.7M154.8 426L43 365.7M154.8 385.8L24.3 375.7M24.3 365.7L61.6 405.9M24.3 375.7L98.9 405.9M43 355.6L61.6 365.7M154.8 385.8L98.9 365.7M43 375.7L43 426M24.3 365.7L61.6 395.8M24.3 426L136.2 405.9M98.9 395.8L43 355.6M43 375.7L154.8 426M117.5 385.8L82.4 440M24.3 395.8L173.9 439M154.8 355.6L117.5 415.9M98.9 395.8L173.5 375.7M24.3 426L136.2 365.7M61.6 375.7L24.3 405.9M24.3 375.7L98.9 365.7M136.2 426L98.9 395.8M24.3 426L154.8 395.8M24.3 405.9L136.2 355.6M173.9 439L98.9 405.9M61.6 405.9L173.9 439M98.9 395.8L136.2 415.9M43 385.8L173.5 355.6M117.5 426L136.2 426M24.3 405.9L98.9 355.6M24.3 415.9L61.6 415.9M24.3 385.8L136.2 385.8M117.5 405.9L173.9 439M154.8 365.7L61.6 375.7M61.6 385.8L136.2 436M136.2 415.9L43 365.7M173.9 439L136.2 355.6M98.9 365.7L173.5 405.9M154.8 355.6L43 405.9M24.3 385.8L61.6 385.8M117.5 405.9L98.9 375.7M136.2 375.7L80.2 365.7M98.9 405.9L98.9 375.7M173.5 355.6L136.2 395.8M80.2 365.7L43 375.7M117.5 436L61.6 375.7M24.3 395.8L98.9 426M61.6 436L61.6 375.7M98.9 365.7L98.9 436M61.6 415.9L61.6 436M136.2 355.6L43 365.7M117.5 395.8L173.5 426M98.9 436L173.5 426M98.9 375.7L24.3 385.8M82.4 440L80.2 355.6M24.3 415.9L80.2 355.6M80.2 415.9L61.6 375.7M98.9 395.8L43 385.8M154.8 395.8L43 375.7M173.5 415.9L136.2 415.9M82.4 440L24.3 365.7M136.2 395.8L80.2 385.8M173.5 395.8L43 436M43 375.7L80.2 385.8M81.4 427.5L117.5 426M117.5 415.9L80.2 365.7M98.9 395.8L80.2 365.7M24.3 355.6L136.2 405.9M154.8 415.9L24.3 405.9M24.3 415.9L80.2 415.9M80.2 395.8L173.5 426M80.2 415.9L98.9 365.7M24.3 365.7L154.8 415.9M61.6 405.9L82.4 440M82.4 440L80.2 395.8M80.2 395.8L117.5 385.8M117.5 395.8L24.3 375.7M98.9 405.9L154.8 415.9M136.2 405.9L61.6 385.8M61.6 426L173.5 375.7M117.5 415.9L43 426M117.5 365.7L80.2 355.6M80.2 355.6L43 405.9M173.5 355.6L81.4 427.5M154.8 426L43 415.9M117.5 415.9L98.9 375.7M136.2 385.8L24.3 405.9M24.3 365.7L24.3 436M43 385.8L173.5 405.9M136.2 426L98.9 365.7M98.9 436L98.9 355.6M136.2 385.8L81.4 427.5M43 426L80.2 355.6M24.3 446.1L117.5 426M136.2 375.7L98.9 365.7M43 436L80.2 365.7M117.5 365.7L173.5 426M154.8 405.9L43 405.9M154.8 436L80.2 365.7M80.2 385.8L24.3 375.7M43 375.7L173.5 415.9M98.9 395.8L98.9 375.7M98.9 405.9L117.5 415.9M173.5 426L43 405.9M117.5 365.7L61.6 385.8M80.2 375.7L154.8 375.7M117.5 365.7L154.8 385.8M173.5 426L43 405.9M173.5 365.7L61.6 426M154.8 375.7L136.2 405.9M136.2 365.7L82.4 440M61.6 415.9L154.8 365.7M98.9 385.8L117.5 405.9M80.2 385.8L98.9 385.8M80.2 365.7L98.9 385.8M61.6 385.8L61.6 355.6M136.2 375.7L80.2 415.9M154.8 375.7L43 365.7M173.5 415.9L24.3 436M98.9 436L154.8 436M154.8 415.9L80.2 365.7M117.5 415.9L154.8 355.6M136.2 365.7L61.6 365.7M154.8 415.9L98.9 395.8M24.3 385.8L154.8 395.8M43 375.7L154.8 436M117.5 355.6L98.9 355.6M61.6 415.9L117.5 375.7M136.2 395.8L61.6 405.9M43 415.9L80.2 365.7M154.8 375.7L98.9 436M24.3 355.6L173.5 395.8M136.2 385.8L61.6 365.7M80.2 415.9L98.9 426M173.5 426L24.3 365.7M98.9 405.9L117.5 395.8M81.4 427.5L24.3 395.8M24.3 375.7L154.8 355.6M154.8 426L80.2 355.6M136.2 355.6L117.5 375.7M61.6 405.9L24.3 426M173.5 385.8L117.5 436M24.3 385.8L80.2 365.7M173.5 395.8L24.3 415.9M136.2 415.9L98.9 436M80.2 375.7L80.2 395.8M24.3 385.8L154.8 405.9M117.5 365.7L136.2 405.9M136.2 385.8L173.5 375.7M24.3 385.8L80.2 355.6M173.5 365.7L173.5 355.6M61.6 385.8L80.2 355.6M173.5 355.6L136.2 426M136.2 426L173.5 405.9M43 436L117.5 385.8M117.5 405.9L24.3 385.8M80.2 365.7L154.8 436M61.6 436L80.2 375.7M117.5 355.6L154.8 405.9M154.8 436L117.5 375.7M80.2 385.8L98.9 355.6M98.9 365.7L43 405.9M154.8 426L98.9 355.6M154.8 436L24.3 385.8M24.3 365.7L43 405.9M24.3 426L117.5 436M43 355.6L80.2 415.9M24.3 375.7L43 355.6M173.5 405.9L173.5 365.7M24.3 395.8L173.9 439M82.4 440L98.9 395.8M24.3 436L117.5 415.9M81.4 427.5L136.2 355.6M43 375.7L154.8 375.7M24.3 436L117.5 426M117.5 405.9L61.6 365.7M82.4 440L136.2 415.9M43 365.7L98.9 436M43 365.7L117.5 355.6M24.3 446.1L117.5 375.7M154.8 355.6L173.5 415.9M173.5 405.9L173.5 365.7M61.6 426L43 426M43 395.8L61.6 426M24.3 415.9L43 355.6M136.2 426L80.2 415.9M136.2 405.9L98.9 415.9M98.9 395.8L61.6 365.7M117.5 385.8L117.5 395.8M80.2 395.8L136.2 405.9M80.2 355.6L173.5 426M43 375.7L98.9 395.8M173.5 395.8L98.9 365.7M117.5 426L98.9 355.6M24.3 375.7L117.5 375.7M136.2 436L24.3 395.8M173.5 385.8L43 395.8M98.9 355.6L173.5 375.7M117.5 405.9L43 355.6M136.2 426L117.5 415.9M24.3 446.1L43 395.8M61.6 426L173.5 395.8M173.9 439L98.9 375.7M117.5 415.9L61.6 405.9M82.4 440L43 395.8M173.5 385.8L82.4 440M173.5 355.6L173.9 439M117.5 426L80.2 375.7M43 415.9L154.8 436M61.6 365.7L24.3 426M98.9 385.8L81.4 427.5M117.5 395.8L117.5 365.7M43 365.7L117.5 355.6M80.2 395.8L136.2 365.7M43 365.7L80.2 365.7M136.2 365.7L117.5 355.6M43 415.9L154.8 355.6M136.2 375.7L117.5 365.7M173.5 395.8L24.3 365.7M173.5 415.9L61.6 375.7M24.3 365.7L43 426M98.9 426L24.3 446.1M117.5 385.8L80.2 385.8M61.6 395.8L61.6 426M98.9 436L61.6 355.6M80.2 355.6L24.3 405.9M61.6 405.9L154.8 436M81.4 427.5L154.8 405.9M81.4 427.5L136.2 375.7M24.3 365.7L80.2 355.6M98.9 355.6L173.5 426M117.5 426L173.5 375.7M24.3 426L98.9 426M80.2 395.8L43 375.7M154.8 405.9L24.3 436M173.5 385.8L117.5 426M154.8 365.7L173.5 385.8M154.8 405.9L117.5 405.9M24.3 415.9L24.3 355.6M136.2 355.6L173.5 415.9M136.2 436L136.2 355.6M61.6 426L61.6 415.9M24.3 385.8L136.2 436M173.5 365.7L173.5 385.8M136.2 365.7L24.3 415.9M43 375.7L136.2 436M98.9 415.9L24.3 415.9M80.2 385.8L24.3 415.9M61.6 415.9L80.2 395.8M117.5 415.9L24.3 426M80.2 365.7L61.6 365.7M136.2 436L154.8 426M154.8 436L24.3 446.1M136.2 395.8L154.8 405.9M24.3 355.6L24.3 426M61.6 385.8L154.8 426M61.6 436L117.5 415.9M154.8 426L154.8 365.7M136.2 385.8L61.6 375.7M80.2 365.7L117.5 415.9M43 385.8L154.8 426M80.2 395.8L117.5 426M82.4 440L24.3 365.7M24.3 446.1L80.2 395.8M173.5 385.8L80.2 395.8M24.3 415.9L154.8 385.8M117.5 415.9L136.2 426M154.8 426L98.9 426M24.3 375.7L154.8 405.9M24.3 365.7L173.5 355.6M173.5 415.9L154.8 436M61.6 385.8L98.9 415.9M98.9 385.8L24.3 395.8M117.5 415.9L154.8 395.8M61.6 436L81.4 427.5M136.2 436L98.9 405.9M136.2 405.9L173.5 405.9M80.2 415.9L173.5 415.9M61.6 426L80.2 405.9M154.8 355.6L154.8 405.9M80.2 375.7L61.6 365.7M117.5 426L98.9 365.7M136.2 355.6L117.5 415.9M43 375.7L154.8 436M154.8 395.8L80.2 375.7M81.4 427.5L24.3 446.1M43 355.6L24.3 405.9M80.2 375.7L80.2 365.7M136.2 365.7L136.2 415.9M24.3 405.9L61.6 395.8M154.8 426L80.2 375.7M98.9 355.6L24.3 355.6M61.6 355.6L154.8 426M82.4 440L80.2 395.8M117.5 375.7L117.5 365.7M98.9 405.9L61.6 375.7M154.8 426L24.3 375.7M136.2 375.7L98.9 426M24.3 365.7L24.3 355.6M136.2 365.7L61.6 405.9M173.5 375.7L136.2 365.7M98.9 365.7L136.2 426M61.6 436L24.3 395.8M43 415.9L24.3 415.9M61.6 405.9L98.9 426M173.5 355.6L81.4 427.5M43 415.9L61.6 415.9M80.2 375.7L43 395.8M136.2 375.7L43 385.8M173.5 385.8L24.3 355.6M117.5 436L24.3 415.9M98.9 395.8L24.3 426M80.2 405.9L173.5 395.8M136.2 405.9L61.6 395.8M136.2 426L98.9 426M136.2 405.9L136.2 426M173.5 365.7L81.4 427.5M173.5 426L173.5 405.9M173.5 405.9L43 436M154.8 355.6L80.2 395.8M154.8 395.8L117.5 355.6M117.5 375.7L136.2 355.6M98.9 436L136.2 405.9M61.6 385.8L136.2 426M117.5 355.6L61.6 385.8M43 365.7L98.9 365.7M24.3 385.8L117.5 415.9M154.8 355.6L61.6 415.9M98.9 365.7L136.2 365.7M136.2 355.6L61.6 436M24.3 415.9L154.8 415.9M136.2 355.6L61.6 436M136.2 405.9L173.5 385.8M61.6 385.8L81.4 427.5M24.3 446.1L154.8 385.8M98.9 436L98.9 395.8M80.2 365.7L117.5 385.8M24.3 375.7L117.5 355.6M117.5 405.9L136.2 405.9M24.3 405.9L136.2 405.9M98.9 395.8L136.2 415.9M98.9 375.7L154.8 436M61.6 426L173.5 355.6M98.9 415.9L43 385.8M43 426L43 355.6M136.2 375.7L117.5 415.9M173.5 385.8L154.8 436M117.5 426L61.6 355.6M24.3 355.6L61.6 395.8M80.2 375.7L98.9 436M24.3 395.8L154.8 375.7M173.5 426L154.8 426M136.2 395.8L136.2 436M98.9 355.6L43 385.8M136.2 405.9L24.3 395.8M117.5 436L98.9 375.7M98.9 355.6L24.3 436M117.5 405.9L80.2 415.9M24.3 375.7L24.3 365.7M24.3 405.9L136.2 375.7M80.2 395.8L43 415.9M43 405.9L24.3 395.8M173.5 385.8L43 385.8M80.2 415.9L136.2 395.8M43 355.6L136.2 355.6M24.3 355.6L154.8 395.8M82.4 440L173.9 439M173.5 415.9L43 426M136.2 385.8L136.2 355.6M154.8 385.8L136.2 365.7M43 355.6L173.5 395.8M24.3 395.8L24.3 405.9M117.5 385.8L80.2 415.9M173.5 426L154.8 436M98.9 355.6L61.6 415.9M61.6 426L24.3 405.9M154.8 436L43 415.9M98.9 415.9L24.3 365.7M98.9 385.8L98.9 395.8M80.2 415.9L80.2 355.6" fill="none" stroke="#c6c6c6" stroke-width="0.28" stroke-opacity="0.8"/>
<path d="M24.3 355.6L116.4 467.4M24.3 355.6L96.4 452M24.3 355.6L96.4 452M24.3 365.7L116.4 467.4M24.3 365.7L111.7 452M24.3 365.7L91.9 467.4M24.3 375.7L104.1 476.7M24.3 375.7L91.9 467.4M24.3 375.7L116.4 467.4M24.3 385.8L104.1 476.7M24.3 385.8L116.4 467.4M24.3 385.8L91.9 467.4M24.3 395.8L116.4 467.4M24.3 395.8L104.1 476.7M24.3 395.8L96.4 452M24.3 405.9L111.7 452M24.3 405.9L91.9 467.4M24.3 405.9L91.9 467.4M24.3 415.9L111.7 452M24.3 415.9L91.9 467.4M24.3 415.9L91.9 467.4M24.3 426L91.9 467.4M24.3 426L111.7 452M24.3 426L116.4 467.4M24.3 436L116.4 467.4M24.3 436L96.4 452M24.3 436L116.4 467.4M24.3 446.1L111.7 452M24.3 446.1L116.4 467.4M24.3 446.1L96.4 452M43 355.6L116.4 467.4M43 355.6L116.4 467.4M43 355.6L111.7 452M43 365.7L104.1 476.7M43 365.7L104.1 476.7M43 365.7L104.1 476.7M43 375.7L91.9 467.4M43 375.7L116.4 467.4M43 375.7L91.9 467.4M43 385.8L111.7 452M43 385.8L111.7 452M43 385.8L111.7 452M43 395.8L96.4 452M43 395.8L111.7 452M43 395.8L116.4 467.4M43 405.9L116.4 467.4M43 405.9L104.1 476.7M43 405.9L91.9 467.4M43 415.9L91.9 467.4M43 415.9L116.4 467.4M43 415.9L104.1 476.7M43 426L96.4 452M43 426L91.9 467.4M43 426L111.7 452M43 436L104.1 476.7M43 436L96.4 452M43 436L116.4 467.4M61.6 355.6L111.7 452M61.6 355.6L91.9 467.4M61.6 355.6L104.1 476.7M61.6 365.7L96.4 452M61.6 365.7L111.7 452M61.6 365.7L91.9 467.4M61.6 375.7L104.1 476.7M61.6 375.7L96.4 452M61.6 375.7L96.4 452M61.6 385.8L104.1 476.7M61.6 385.8L116.4 467.4M61.6 385.8L96.4 452M61.6 395.8L91.9 467.4M61.6 395.8L96.4 452M61.6 395.8L104.1 476.7M61.6 405.9L116.4 467.4M61.6 405.9L111.7 452M61.6 405.9L111.7 452M61.6 415.9L96.4 452M61.6 415.9L96.4 452M61.6 415.9L116.4 467.4M61.6 426L111.7 452M61.6 426L96.4 452M61.6 426L116.4 467.4M61.6 436L91.9 467.4M61.6 436L104.1 476.7M61.6 436L116.4 467.4M80.2 355.6L116.4 467.4M80.2 355.6L96.4 452M80.2 355.6L116.4 467.4M80.2 365.7L91.9 467.4M80.2 365.7L91.9 467.4M80.2 365.7L96.4 452M80.2 375.7L104.1 476.7M80.2 375.7L96.4 452M80.2 375.7L91.9 467.4M80.2 385.8L116.4 467.4M80.2 385.8L111.7 452M80.2 385.8L111.7 452M80.2 395.8L104.1 476.7M80.2 395.8L111.7 452M80.2 395.8L104.1 476.7M80.2 405.9L91.9 467.4M80.2 405.9L96.4 452M80.2 405.9L91.9 467.4M80.2 415.9L104.1 476.7M80.2 415.9L116.4 467.4M80.2 415.9L104.1 476.7M81.4 427.5L104.1 476.7M81.4 427.5L96.4 452M81.4 427.5L91.9 467.4M82.4 440L104.1 476.7M82.4 440L104.1 476.7M82.4 440L111.7 452M98.9 355.6L111.7 452M98.9 355.6L116.4 467.4M98.9 355.6L111.7 452M98.9 365.7L96.4 452M98.9 365.7L96.4 452M98.9 365.7L104.1 476.7M98.9 375.7L116.4 467.4M98.9 375.7L91.9 467.4M98.9 375.7L104.1 476.7M98.9 385.8L96.4 452M98.9 385.8L96.4 452M98.9 385.8L111.7 452M98.9 395.8L91.9 467.4M98.9 395.8L116.4 467.4M98.9 395.8L91.9 467.4M98.9 405.9L96.4 452M98.9 405.9L116.4 467.4M98.9 405.9L104.1 476.7M98.9 415.9L104.1 476.7M98.9 415.9L116.4 467.4M98.9 415.9L116.4 467.4M98.9 426L91.9 467.4M98.9 426L96.4 452M98.9 426L91.9 467.4M98.9 436L111.7 452M98.9 436L96.4 452M98.9 436L104.1 476.7M117.5 355.6L116.4 467.4M117.5 355.6L91.9 467.4M117.5 355.6L91.9 467.4M117.5 365.7L116.4 467.4M117.5 365.7L91.9 467.4M117.5 365.7L104.1 476.7M117.5 375.7L91.9 467.4M117.5 375.7L116.4 467.4M117.5 375.7L91.9 467.4M117.5 385.8L111.7 452M117.5 385.8L116.4 467.4M117.5 385.8L111.7 452M117.5 395.8L91.9 467.4M117.5 395.8L91.9 467.4M117.5 395.8L91.9 467.4M117.5 405.9L96.4 452M117.5 405.9L104.1 476.7M117.5 405.9L96.4 452M117.5 415.9L111.7 452M117.5 415.9L104.1 476.7M117.5 415.9L104.1 476.7M117.5 426L111.7 452M117.5 426L96.4 452M117.5 426L116.4 467.4M117.5 436L111.7 452M117.5 436L104.1 476.7M117.5 436L104.1 476.7M136.2 355.6L91.9 467.4M136.2 355.6L116.4 467.4M136.2 355.6L116.4 467.4M136.2 365.7L91.9 467.4M136.2 365.7L116.4 467.4M136.2 365.7L111.7 452M136.2 375.7L104.1 476.7M136.2 375.7L111.7 452M136.2 375.7L116.4 467.4M136.2 385.8L91.9 467.4M136.2 385.8L91.9 467.4M136.2 385.8L104.1 476.7M136.2 395.8L116.4 467.4M136.2 395.8L111.7 452M136.2 395.8L96.4 452M136.2 405.9L91.9 467.4M136.2 405.9L91.9 467.4M136.2 405.9L116.4 467.4M136.2 415.9L111.7 452M136.2 415.9L91.9 467.4M136.2 415.9L111.7 452M136.2 426L96.4 452M136.2 426L91.9 467.4M136.2 426L116.4 467.4M136.2 436L111.7 452M136.2 436L104.1 476.7M136.2 436L104.1 476.7M154.8 355.6L111.7 452M154.8 355.6L111.7 452M154.8 355.6L96.4 452M154.8 365.7L111.7 452M154.8 365.7L96.4 452M154.8 365.7L104.1 476.7M154.8 375.7L96.4 452M154.8 375.7L111.7 452M154.8 375.7L111.7 452M154.8 385.8L96.4 452M154.8 385.8L104.1 476.7M154.8 385.8L111.7 452M154.8 395.8L104.1 476.7M154.8 395.8L116.4 467.4M154.8 395.8L116.4 467.4M154.8 405.9L104.1 476.7M154.8 405.9L111.7 452M154.8 405.9L91.9 467.4M154.8 415.9L116.4 467.4M154.8 415.9L96.4 452M154.8 415.9L91.9 467.4M154.8 426L104.1 476.7M154.8 426L104.1 476.7M154.8 426L116.4 467.4M154.8 436L116.4 467.4M154.8 436L96.4 452M154.8 436L104.1 476.7M173.5 355.6L96.4 452M173.5 355.6L116.4 467.4M173.5 355.6L91.9 467.4M173.5 365.7L91.9 467.4M173.5 365.7L111.7 452M173.5 365.7L116.4 467.4M173.5 375.7L111.7 452M173.5 375.7L91.9 467.4M173.5 375.7L116.4 467.4M173.5 385.8L96.4 452M173.5 385.8L96.4 452M173.5 385.8L96.4 452M173.5 395.8L116.4 467.4M173.5 395.8L104.1 476.7M173.5 395.8L104.1 476.7M173.5 405.9L104.1 476.7M173.5 405.9L116.4 467.4M173.5 405.9L96.4 452M173.5 415.9L96.4 452M173.5 415.9L116.4 467.4M173.5 415.9L111.7 452M173.5 426L91.9 467.4M173.5 426L91.9 467.4M173.5 426L111.7 452M173.9 439L96.4 452M173.9 439L104.1 476.7M173.9 439L96.4 452" fill="none" stroke="#b4b4b4" stroke-width="0.28" stroke-opacity="0.8"/>
<path d="M96.4 452L111.7 452M96.4 452L91.9 467.4M96.4 452L116.4 467.4M96.4 452L104.1 476.7M111.7 452L91.9 467.4M111.7 452L116.4 467.4M111.7 452L104.1 476.7M91.9 467.4L116.4 467.4M91.9 467.4L104.1 476.7M116.4 467.4L104.1 476.7" fill="none" stroke="#b8b8b8" stroke-width="0.3"/>
<circle cx="24.3" cy="355.6" r="5.5" fill="#ec8a3a"/>
<circle cx="24.3" cy="365.7" r="5.5" fill="#f2e8a0"/>
<circle cx="24.3" cy="375.7" r="5.5" fill="#f4eca8"/>
<circle cx="24.3" cy="385.8" r="5.5" fill="#e88840"/>
<circle cx="24.3" cy="395.8" r="5.5" fill="#eb9850"/>
<circle cx="24.3" cy="405.9" r="5.5" fill="#f0c880"/>
<circle cx="24.3" cy="415.9" r="5.5" fill="#f0c070"/>
<circle cx="24.3" cy="426" r="5.5" fill="#f4eca8"/>
<circle cx="24.3" cy="436" r="5.5" fill="#e89048"/>
<circle cx="24.3" cy="446.1" r="5.5" fill="#f0c880"/>
<circle cx="43" cy="355.6" r="5.5" fill="#f0cc88"/>
<circle cx="43" cy="365.7" r="5.5" fill="#f2e8a0"/>
<circle cx="43" cy="375.7" r="5.5" fill="#f4eca8"/>
<circle cx="43" cy="385.8" r="5.5" fill="#f0cc88"/>
<circle cx="43" cy="395.8" r="5.5" fill="#f2e8a0"/>
<circle cx="43" cy="405.9" r="5.5" fill="#f2e4a0"/>
<circle cx="43" cy="415.9" r="5.5" fill="#f0d090"/>
<circle cx="43" cy="426" r="5.5" fill="#e05030"/>
<circle cx="43" cy="436" r="5.5" fill="#f4eca8"/>
<circle cx="61.6" cy="355.6" r="5.5" fill="#eca85a"/>
<circle cx="61.6" cy="365.7" r="5.5" fill="#f0cc88"/>
<circle cx="61.6" cy="375.7" r="5.5" fill="#f2e0a0"/>
<circle cx="61.6" cy="385.8" r="5.5" fill="#f2e8a0"/>
<circle cx="61.6" cy="395.8" r="5.5" fill="#f2e4a0"/>
<circle cx="61.6" cy="405.9" r="5.5" fill="#f0dc98"/>
<circle cx="61.6" cy="415.9" r="5.5" fill="#f2e4a0"/>
<circle cx="61.6" cy="426" r="5.5" fill="#f2e6a0"/>
<circle cx="61.6" cy="436" r="5.5" fill="#f0c070"/>
<circle cx="80.2" cy="355.6" r="5.5" fill="#f2e8a0"/>
<circle cx="80.2" cy="365.7" r="5.5" fill="#f4eca8"/>
<circle cx="80.2" cy="375.7" r="5.5" fill="#f2e6a0"/>
<circle cx="80.2" cy="385.8" r="5.5" fill="#e8904a"/>
<circle cx="80.2" cy="395.8" r="5.5" fill="#f0e4a0"/>
<circle cx="80.2" cy="405.9" r="5.5" fill="#eec070"/>
<circle cx="80.2" cy="415.9" r="5.5" fill="#f2e8a0"/>
<circle cx="81.4" cy="427.5" r="5.5" fill="#e8a050"/>
<circle cx="82.4" cy="440" r="5.8" fill="#c8202e"/>
<circle cx="98.9" cy="355.6" r="5.5" fill="#f0c070"/>
<circle cx="98.9" cy="365.7" r="5.5" fill="#f0c880"/>
<circle cx="98.9" cy="375.7" r="5.5" fill="#f0c070"/>
<circle cx="98.9" cy="385.8" r="5.5" fill="#e87838"/>
<circle cx="98.9" cy="395.8" r="5.5" fill="#f0dc98"/>
<circle cx="98.9" cy="405.9" r="5.5" fill="#f2e4a0"/>
<circle cx="98.9" cy="415.9" r="5.5" fill="#f2e8a0"/>
<circle cx="98.9" cy="426" r="5.5" fill="#f2e4a0"/>
<circle cx="98.9" cy="436" r="5.5" fill="#f2e8a0"/>
<circle cx="117.5" cy="355.6" r="5.5" fill="#f4eaa8"/>
<circle cx="117.5" cy="365.7" r="5.5" fill="#e88840"/>
<circle cx="117.5" cy="375.7" r="5.5" fill="#e89048"/>
<circle cx="117.5" cy="385.8" r="5.5" fill="#e89048"/>
<circle cx="117.5" cy="395.8" r="5.5" fill="#f2e6a0"/>
<circle cx="117.5" cy="405.9" r="5.5" fill="#f2e0a0"/>
<circle cx="117.5" cy="415.9" r="5.5" fill="#f0d090"/>
<circle cx="117.5" cy="426" r="5.5" fill="#eec880"/>
<circle cx="117.5" cy="436" r="5.5" fill="#f2e8a0"/>
<circle cx="136.2" cy="355.6" r="5.5" fill="#f4eaa8"/>
<circle cx="136.2" cy="365.7" r="5.5" fill="#f4eaa8"/>
<circle cx="136.2" cy="375.7" r="5.5" fill="#f0cc88"/>
<circle cx="136.2" cy="385.8" r="5.5" fill="#f2e8a0"/>
<circle cx="136.2" cy="395.8" r="5.5" fill="#f2e4a0"/>
<circle cx="136.2" cy="405.9" r="5.5" fill="#eec888"/>
<circle cx="136.2" cy="415.9" r="5.5" fill="#f0cc88"/>
<circle cx="136.2" cy="426" r="5.5" fill="#f2e8a0"/>
<circle cx="136.2" cy="436" r="5.5" fill="#f0d090"/>
<circle cx="154.8" cy="355.6" r="5.5" fill="#f2e4a0"/>
<circle cx="154.8" cy="365.7" r="5.5" fill="#f2e8a0"/>
<circle cx="154.8" cy="375.7" r="5.5" fill="#f0cc88"/>
<circle cx="154.8" cy="385.8" r="5.5" fill="#d83030"/>
<circle cx="154.8" cy="395.8" r="5.5" fill="#f2e4a0"/>
<circle cx="154.8" cy="405.9" r="5.5" fill="#f0c880"/>
<circle cx="154.8" cy="415.9" r="5.5" fill="#f2e8a0"/>
<circle cx="154.8" cy="426" r="5.5" fill="#f2e8a0"/>
<circle cx="154.8" cy="436" r="5.5" fill="#f2e8a0"/>
<circle cx="173.5" cy="355.6" r="5.5" fill="#f2e4a0"/>
<circle cx="173.5" cy="365.7" r="5.5" fill="#e06030"/>
<circle cx="173.5" cy="375.7" r="5.5" fill="#f2e4a0"/>
<circle cx="173.5" cy="385.8" r="5.5" fill="#f0c880"/>
<circle cx="173.5" cy="395.8" r="5.5" fill="#f2e8a0"/>
<circle cx="173.5" cy="405.9" r="5.5" fill="#eeb878"/>
<circle cx="173.5" cy="415.9" r="5.5" fill="#f2e8a0"/>
<circle cx="173.5" cy="426" r="5.5" fill="#eec888"/>
<circle cx="173.9" cy="439" r="5.6" fill="#d02a30"/>
<circle cx="96.4" cy="452" r="5.5" fill="#e88030"/>
<circle cx="111.7" cy="452" r="5.5" fill="#f0c070"/>
<circle cx="91.9" cy="467.4" r="5.5" fill="#eb8a3a"/>
<circle cx="116.4" cy="467.4" r="5.5" fill="#eb8a3a"/>
<circle cx="104.1" cy="476.7" r="5.8" fill="#c8182a"/>
<text transform="translate(24.30 356.64) scale(0.25)" font-family="Liberation Sans" font-size="11.60" font-weight="normal" fill="#2a1a10" text-anchor="middle" textLength="31.90" lengthAdjust="spacingAndGlyphs" fill-opacity="0.9">ANXA1</text>
<text transform="translate(24.30 366.69) scale(0.25)" font-family="Liberation Sans" font-size="11.60" font-weight="normal" fill="#2a1a10" text-anchor="middle" textLength="25.52" lengthAdjust="spacingAndGlyphs" fill-opacity="0.9">LMNA</text>
<text transform="translate(24.30 376.74) scale(0.25)" font-family="Liberation Sans" font-size="11.60" font-weight="normal" fill="#2a1a10" text-anchor="middle" textLength="25.52" lengthAdjust="spacingAndGlyphs" fill-opacity="0.9">IER5</text>
<text transform="translate(24.30 386.79) scale(0.25)" font-family="Liberation Sans" font-size="11.60" font-weight="normal" fill="#2a1a10" text-anchor="middle" textLength="25.52" lengthAdjust="spacingAndGlyphs" fill-opacity="0.9">JUNB</text>
<text transform="translate(24.30 396.84) scale(0.25)" font-family="Liberation Sans" font-size="11.60" font-weight="normal" fill="#2a1a10" text-anchor="middle" textLength="25.52" lengthAdjust="spacingAndGlyphs" fill-opacity="0.9">KLF6</text>
<text transform="translate(24.30 406.89) scale(0.25)" font-family="Liberation Sans" font-size="11.60" font-weight="normal" fill="#2a1a10" text-anchor="middle" textLength="25.52" lengthAdjust="spacingAndGlyphs" fill-opacity="0.9">RGS1</text>
<text transform="translate(24.30 416.94) scale(0.25)" font-family="Liberation Sans" font-size="11.60" font-weight="normal" fill="#2a1a10" text-anchor="middle" textLength="25.52" lengthAdjust="spacingAndGlyphs" fill-opacity="0.9">CD69</text>
<text transform="translate(24.30 426.99) scale(0.25)" font-family="Liberation Sans" font-size="11.60" font-weight="normal" fill="#2a1a10" text-anchor="middle" textLength="25.52" lengthAdjust="spacingAndGlyphs" fill-opacity="0.9">IER2</text>
<text transform="translate(24.30 437.04) scale(0.25)" font-family="Liberation Sans" font-size="11.60" font-weight="normal" fill="#2a1a10" text-anchor="middle" textLength="31.90" lengthAdjust="spacingAndGlyphs" fill-opacity="0.9">DUSP2</text>
<text transform="translate(24.30 447.09) scale(0.25)" font-family="Liberation Sans" font-size="11.60" font-weight="normal" fill="#2a1a10" text-anchor="middle" textLength="31.90" lengthAdjust="spacingAndGlyphs" fill-opacity="0.9">CXCR4</text>
<text transform="translate(42.95 356.64) scale(0.25)" font-family="Liberation Sans" font-size="11.60" font-weight="normal" fill="#2a1a10" text-anchor="middle" textLength="31.90" lengthAdjust="spacingAndGlyphs" fill-opacity="0.9">ZFP36</text>
<text transform="translate(42.95 366.69) scale(0.25)" font-family="Liberation Sans" font-size="11.60" font-weight="normal" fill="#2a1a10" text-anchor="middle" textLength="39.60" lengthAdjust="spacingAndGlyphs" fill-opacity="0.9">TSC22D3</text>
<text transform="translate(42.95 376.74) scale(0.25)" font-family="Liberation Sans" font-size="11.60" font-weight="normal" fill="#2a1a10" text-anchor="middle" textLength="31.90" lengthAdjust="spacingAndGlyphs" fill-opacity="0.9">NR4A2</text>
<text transform="translate(42.95 386.79) scale(0.25)" font-family="Liberation Sans" font-size="11.60" font-weight="normal" fill="#2a1a10" text-anchor="middle" textLength="39.60" lengthAdjust="spacingAndGlyphs" fill-opacity="0.9">PPP1R15A</text>
<text transform="translate(42.95 396.84) scale(0.25)" font-family="Liberation Sans" font-size="11.60" font-weight="normal" fill="#2a1a10" text-anchor="middle" textLength="39.60" lengthAdjust="spacingAndGlyphs" fill-opacity="0.9">TNFAIP3</text>
<text transform="translate(42.95 406.89) scale(0.25)" font-family="Liberation Sans" font-size="11.60" font-weight="normal" fill="#2a1a10" text-anchor="middle" textLength="25.52" lengthAdjust="spacingAndGlyphs" fill-opacity="0.9">SRGN</text>
<text transform="translate(42.95 416.94) scale(0.25)" font-family="Liberation Sans" font-size="11.60" font-weight="normal" fill="#2a1a10" text-anchor="middle" textLength="25.52" lengthAdjust="spacingAndGlyphs" fill-opacity="0.9">CCL5</text>
<text transform="translate(42.95 426.99) scale(0.25)" font-family="Liberation Sans" font-size="11.60" font-weight="normal" fill="#2a1a10" text-anchor="middle" textLength="25.52" lengthAdjust="spacingAndGlyphs" fill-opacity="0.9">IFNG</text>
<text transform="translate(42.95 437.04) scale(0.25)" font-family="Liberation Sans" font-size="11.60" font-weight="normal" fill="#2a1a10" text-anchor="middle" textLength="25.52" lengthAdjust="spacingAndGlyphs" fill-opacity="0.9">BTG1</text>
<text transform="translate(61.60 356.64) scale(0.25)" font-family="Liberation Sans" font-size="11.60" font-weight="normal" fill="#2a1a10" text-anchor="middle" textLength="25.52" lengthAdjust="spacingAndGlyphs" fill-opacity="0.9">FOSB</text>
<text transform="translate(61.60 366.69) scale(0.25)" font-family="Liberation Sans" font-size="11.60" font-weight="normal" fill="#2a1a10" text-anchor="middle" textLength="25.52" lengthAdjust="spacingAndGlyphs" fill-opacity="0.9">EGR1</text>
<text transform="translate(61.60 376.74) scale(0.25)" font-family="Liberation Sans" font-size="11.60" font-weight="normal" fill="#2a1a10" text-anchor="middle" textLength="25.52" lengthAdjust="spacingAndGlyphs" fill-opacity="0.9">ATF3</text>
<text transform="translate(61.60 386.79) scale(0.25)" font-family="Liberation Sans" font-size="11.60" font-weight="normal" fill="#2a1a10" text-anchor="middle" textLength="31.90" lengthAdjust="spacingAndGlyphs" fill-opacity="0.9">SOCS3</text>
<text transform="translate(61.60 396.84) scale(0.25)" font-family="Liberation Sans" font-size="11.60" font-weight="normal" fill="#2a1a10" text-anchor="middle" textLength="31.90" lengthAdjust="spacingAndGlyphs" fill-opacity="0.9">H3-3B</text>
<text transform="translate(61.60 406.89) scale(0.25)" font-family="Liberation Sans" font-size="11.60" font-weight="normal" fill="#2a1a10" text-anchor="middle" textLength="31.90" lengthAdjust="spacingAndGlyphs" fill-opacity="0.9">YPEL3</text>
<text transform="translate(61.60 416.94) scale(0.25)" font-family="Liberation Sans" font-size="11.60" font-weight="normal" fill="#2a1a10" text-anchor="middle" textLength="38.28" lengthAdjust="spacingAndGlyphs" fill-opacity="0.9">NFKBIZ</text>
<text transform="translate(61.60 426.99) scale(0.25)" font-family="Liberation Sans" font-size="11.60" font-weight="normal" fill="#2a1a10" text-anchor="middle" textLength="25.52" lengthAdjust="spacingAndGlyphs" fill-opacity="0.9">CREM</text>
<text transform="translate(61.60 437.04) scale(0.25)" font-family="Liberation Sans" font-size="11.60" font-weight="normal" fill="#2a1a10" text-anchor="middle" textLength="25.52" lengthAdjust="spacingAndGlyphs" fill-opacity="0.9">IRF1</text>
<text transform="translate(80.25 356.64) scale(0.25)" font-family="Liberation Sans" font-size="11.60" font-weight="normal" fill="#2a1a10" text-anchor="middle" textLength="31.90" lengthAdjust="spacingAndGlyphs" fill-opacity="0.9">STAT3</text>
<text transform="translate(80.25 366.69) scale(0.25)" font-family="Liberation Sans" font-size="11.60" font-weight="normal" fill="#2a1a10" text-anchor="middle" textLength="31.90" lengthAdjust="spacingAndGlyphs" fill-opacity="0.9">CEBPB</text>
<text transform="translate(80.25 376.74) scale(0.25)" font-family="Liberation Sans" font-size="11.60" font-weight="normal" fill="#2a1a10" text-anchor="middle" textLength="31.90" lengthAdjust="spacingAndGlyphs" fill-opacity="0.9">PNRC1</text>
<text transform="translate(80.25 386.79) scale(0.25)" font-family="Liberation Sans" font-size="11.60" font-weight="normal" fill="#2a1a10" text-anchor="middle" textLength="25.52" lengthAdjust="spacingAndGlyphs" fill-opacity="0.9">SIK1</text>
<text transform="translate(80.25 396.84) scale(0.25)" font-family="Liberation Sans" font-size="11.60" font-weight="normal" fill="#2a1a10" text-anchor="middle" textLength="25.52" lengthAdjust="spacingAndGlyphs" fill-opacity="0.9">TOB1</text>
<text transform="translate(80.25 406.89) scale(0.25)" font-family="Liberation Sans" font-size="11.60" font-weight="normal" fill="#2a1a10" text-anchor="middle" textLength="25.52" lengthAdjust="spacingAndGlyphs" fill-opacity="0.9">RHOB</text>
<text transform="translate(80.25 416.94) scale(0.25)" font-family="Liberation Sans" font-size="11.60" font-weight="normal" fill="#2a1a10" text-anchor="middle" textLength="38.28" lengthAdjust="spacingAndGlyphs" fill-opacity="0.9">CDKN1A</text>
<text transform="translate(81.40 428.54) scale(0.25)" font-family="Liberation Sans" font-size="11.60" font-weight="normal" fill="#2a1a10" text-anchor="middle" textLength="39.60" lengthAdjust="spacingAndGlyphs" fill-opacity="0.9">GADD45B</text>
<text transform="translate(82.40 441.04) scale(0.25)" font-family="Liberation Sans" font-size="11.60" font-weight="normal" fill="#2a1a10" text-anchor="middle" textLength="25.52" lengthAdjust="spacingAndGlyphs" fill-opacity="0.9">MCL1</text>
<text transform="translate(98.90 356.64) scale(0.25)" font-family="Liberation Sans" font-size="11.60" font-weight="normal" fill="#2a1a10" text-anchor="middle" textLength="19.14" lengthAdjust="spacingAndGlyphs" fill-opacity="0.9">ID2</text>
<text transform="translate(98.90 366.69) scale(0.25)" font-family="Liberation Sans" font-size="11.60" font-weight="normal" fill="#2a1a10" text-anchor="middle" textLength="31.90" lengthAdjust="spacingAndGlyphs" fill-opacity="0.9">PDE4B</text>
<text transform="translate(98.90 376.74) scale(0.25)" font-family="Liberation Sans" font-size="11.60" font-weight="normal" fill="#2a1a10" text-anchor="middle" textLength="38.28" lengthAdjust="spacingAndGlyphs" fill-opacity="0.9">SLC2A3</text>
<text transform="translate(98.90 386.79) scale(0.25)" font-family="Liberation Sans" font-size="11.60" font-weight="normal" fill="#2a1a10" text-anchor="middle" textLength="31.90" lengthAdjust="spacingAndGlyphs" fill-opacity="0.9">TXNIP</text>
<text transform="translate(98.90 396.84) scale(0.25)" font-family="Liberation Sans" font-size="11.60" font-weight="normal" fill="#2a1a10" text-anchor="middle" textLength="31.90" lengthAdjust="spacingAndGlyphs" fill-opacity="0.9">KDM6B</text>
<text transform="translate(98.90 406.89) scale(0.25)" font-family="Liberation Sans" font-size="11.60" font-weight="normal" fill="#2a1a10" text-anchor="middle" textLength="19.14" lengthAdjust="spacingAndGlyphs" fill-opacity="0.9">REL</text>
<text transform="translate(98.90 416.94) scale(0.25)" font-family="Liberation Sans" font-size="11.60" font-weight="normal" fill="#2a1a10" text-anchor="middle" textLength="39.60" lengthAdjust="spacingAndGlyphs" fill-opacity="0.9">BHLHE40</text>
<text transform="translate(98.90 426.99) scale(0.25)" font-family="Liberation Sans" font-size="11.60" font-weight="normal" fill="#2a1a10" text-anchor="middle" textLength="31.90" lengthAdjust="spacingAndGlyphs" fill-opacity="0.9">CCNL1</text>
<text transform="translate(98.90 437.04) scale(0.25)" font-family="Liberation Sans" font-size="11.60" font-weight="normal" fill="#2a1a10" text-anchor="middle" textLength="25.52" lengthAdjust="spacingAndGlyphs" fill-opacity="0.9">SAT1</text>
<text transform="translate(117.55 356.64) scale(0.25)" font-family="Liberation Sans" font-size="11.60" font-weight="normal" fill="#2a1a10" text-anchor="middle" textLength="25.52" lengthAdjust="spacingAndGlyphs" fill-opacity="0.9">IL7R</text>
<text transform="translate(117.55 366.69) scale(0.25)" font-family="Liberation Sans" font-size="11.60" font-weight="normal" fill="#2a1a10" text-anchor="middle" textLength="25.52" lengthAdjust="spacingAndGlyphs" fill-opacity="0.9">CD83</text>
<text transform="translate(117.55 376.74) scale(0.25)" font-family="Liberation Sans" font-size="11.60" font-weight="normal" fill="#2a1a10" text-anchor="middle" textLength="38.28" lengthAdjust="spacingAndGlyphs" fill-opacity="0.9">NFKBIA</text>
<text transform="translate(117.55 386.79) scale(0.25)" font-family="Liberation Sans" font-size="11.60" font-weight="normal" fill="#2a1a10" text-anchor="middle" textLength="19.14" lengthAdjust="spacingAndGlyphs" fill-opacity="0.9">EZR</text>
<text transform="translate(117.55 396.84) scale(0.25)" font-family="Liberation Sans" font-size="11.60" font-weight="normal" fill="#2a1a10" text-anchor="middle" textLength="31.90" lengthAdjust="spacingAndGlyphs" fill-opacity="0.9">ANXA1</text>
<text transform="translate(117.55 406.89) scale(0.25)" font-family="Liberation Sans" font-size="11.60" font-weight="normal" fill="#2a1a10" text-anchor="middle" textLength="25.52" lengthAdjust="spacingAndGlyphs" fill-opacity="0.9">LMNA</text>
<text transform="translate(117.55 416.94) scale(0.25)" font-family="Liberation Sans" font-size="11.60" font-weight="normal" fill="#2a1a10" text-anchor="middle" textLength="25.52" lengthAdjust="spacingAndGlyphs" fill-opacity="0.9">IER5</text>
<text transform="translate(117.55 426.99) scale(0.25)" font-family="Liberation Sans" font-size="11.60" font-weight="normal" fill="#2a1a10" text-anchor="middle" textLength="25.52" lengthAdjust="spacingAndGlyphs" fill-opacity="0.9">JUNB</text>
<text transform="translate(117.55 437.04) scale(0.25)" font-family="Liberation Sans" font-size="11.60" font-weight="normal" fill="#2a1a10" text-anchor="middle" textLength="25.52" lengthAdjust="spacingAndGlyphs" fill-opacity="0.9">KLF6</text>
<text transform="translate(136.20 356.64) scale(0.25)" font-family="Liberation Sans" font-size="11.60" font-weight="normal" fill="#2a1a10" text-anchor="middle" textLength="25.52" lengthAdjust="spacingAndGlyphs" fill-opacity="0.9">RGS1</text>
<text transform="translate(136.20 366.69) scale(0.25)" font-family="Liberation Sans" font-size="11.60" font-weight="normal" fill="#2a1a10" text-anchor="middle" textLength="25.52" lengthAdjust="spacingAndGlyphs" fill-opacity="0.9">CD69</text>
<text transform="translate(136.20 376.74) scale(0.25)" font-family="Liberation Sans" font-size="11.60" font-weight="normal" fill="#2a1a10" text-anchor="middle" textLength="25.52" lengthAdjust="spacingAndGlyphs" fill-opacity="0.9">IER2</text>
<text transform="translate(136.20 386.79) scale(0.25)" font-family="Liberation Sans" font-size="11.60" font-weight="normal" fill="#2a1a10" text-anchor="middle" textLength="31.90" lengthAdjust="spacingAndGlyphs" fill-opacity="0.9">DUSP2</text>
<text transform="translate(136.20 396.84) scale(0.25)" font-family="Liberation Sans" font-size="11.60" font-weight="normal" fill="#2a1a10" text-anchor="middle" textLength="31.90" lengthAdjust="spacingAndGlyphs" fill-opacity="0.9">CXCR4</text>
<text transform="translate(136.20 406.89) scale(0.25)" font-family="Liberation Sans" font-size="11.60" font-weight="normal" fill="#2a1a10" text-anchor="middle" textLength="31.90" lengthAdjust="spacingAndGlyphs" fill-opacity="0.9">ZFP36</text>
<text transform="translate(136.20 416.94) scale(0.25)" font-family="Liberation Sans" font-size="11.60" font-weight="normal" fill="#2a1a10" text-anchor="middle" textLength="39.60" lengthAdjust="spacingAndGlyphs" fill-opacity="0.9">TSC22D3</text>
<text transform="translate(136.20 426.99) scale(0.25)" font-family="Liberation Sans" font-size="11.60" font-weight="normal" fill="#2a1a10" text-anchor="middle" textLength="31.90" lengthAdjust="spacingAndGlyphs" fill-opacity="0.9">NR4A2</text>
<text transform="translate(136.20 437.04) scale(0.25)" font-family="Liberation Sans" font-size="11.60" font-weight="normal" fill="#2a1a10" text-anchor="middle" textLength="39.60" lengthAdjust="spacingAndGlyphs" fill-opacity="0.9">PPP1R15A</text>
<text transform="translate(154.85 356.64) scale(0.25)" font-family="Liberation Sans" font-size="11.60" font-weight="normal" fill="#2a1a10" text-anchor="middle" textLength="39.60" lengthAdjust="spacingAndGlyphs" fill-opacity="0.9">TNFAIP3</text>
<text transform="translate(154.85 366.69) scale(0.25)" font-family="Liberation Sans" font-size="11.60" font-weight="normal" fill="#2a1a10" text-anchor="middle" textLength="25.52" lengthAdjust="spacingAndGlyphs" fill-opacity="0.9">SRGN</text>
<text transform="translate(154.85 376.74) scale(0.25)" font-family="Liberation Sans" font-size="11.60" font-weight="normal" fill="#2a1a10" text-anchor="middle" textLength="25.52" lengthAdjust="spacingAndGlyphs" fill-opacity="0.9">CCL5</text>
<text transform="translate(154.85 386.79) scale(0.25)" font-family="Liberation Sans" font-size="11.60" font-weight="normal" fill="#2a1a10" text-anchor="middle" textLength="25.52" lengthAdjust="spacingAndGlyphs" fill-opacity="0.9">IFNG</text>
<text transform="translate(154.85 396.84) scale(0.25)" font-family="Liberation Sans" font-size="11.60" font-weight="normal" fill="#2a1a10" text-anchor="middle" textLength="25.52" lengthAdjust="spacingAndGlyphs" fill-opacity="0.9">BTG1</text>
<text transform="translate(154.85 406.89) scale(0.25)" font-family="Liberation Sans" font-size="11.60" font-weight="normal" fill="#2a1a10" text-anchor="middle" textLength="25.52" lengthAdjust="spacingAndGlyphs" fill-opacity="0.9">FOSB</text>
<text transform="translate(154.85 416.94) scale(0.25)" font-family="Liberation Sans" font-size="11.60" font-weight="normal" fill="#2a1a10" text-anchor="middle" textLength="25.52" lengthAdjust="spacingAndGlyphs" fill-opacity="0.9">EGR1</text>
<text transform="translate(154.85 426.99) scale(0.25)" font-family="Liberation Sans" font-size="11.60" font-weight="normal" fill="#2a1a10" text-anchor="middle" textLength="25.52" lengthAdjust="spacingAndGlyphs" fill-opacity="0.9">ATF3</text>
<text transform="translate(154.85 437.04) scale(0.25)" font-family="Liberation Sans" font-size="11.60" font-weight="normal" fill="#2a1a10" text-anchor="middle" textLength="31.90" lengthAdjust="spacingAndGlyphs" fill-opacity="0.9">SOCS3</text>
<text transform="translate(173.50 356.64) scale(0.25)" font-family="Liberation Sans" font-size="11.60" font-weight="normal" fill="#2a1a10" text-anchor="middle" textLength="31.90" lengthAdjust="spacingAndGlyphs" fill-opacity="0.9">H3-3B</text>
<text transform="translate(173.50 366.69) scale(0.25)" font-family="Liberation Sans" font-size="11.60" font-weight="normal" fill="#2a1a10" text-anchor="middle" textLength="31.90" lengthAdjust="spacingAndGlyphs" fill-opacity="0.9">YPEL3</text>
<text transform="translate(173.50 376.74) scale(0.25)" font-family="Liberation Sans" font-size="11.60" font-weight="normal" fill="#2a1a10" text-anchor="middle" textLength="38.28" lengthAdjust="spacingAndGlyphs" fill-opacity="0.9">NFKBIZ</text>
<text transform="translate(173.50 386.79) scale(0.25)" font-family="Liberation Sans" font-size="11.60" font-weight="normal" fill="#2a1a10" text-anchor="middle" textLength="25.52" lengthAdjust="spacingAndGlyphs" fill-opacity="0.9">CREM</text>
<text transform="translate(173.50 396.84) scale(0.25)" font-family="Liberation Sans" font-size="11.60" font-weight="normal" fill="#2a1a10" text-anchor="middle" textLength="25.52" lengthAdjust="spacingAndGlyphs" fill-opacity="0.9">IRF1</text>
<text transform="translate(173.50 406.89) scale(0.25)" font-family="Liberation Sans" font-size="11.60" font-weight="normal" fill="#2a1a10" text-anchor="middle" textLength="31.90" lengthAdjust="spacingAndGlyphs" fill-opacity="0.9">STAT3</text>
<text transform="translate(173.50 416.94) scale(0.25)" font-family="Liberation Sans" font-size="11.60" font-weight="normal" fill="#2a1a10" text-anchor="middle" textLength="31.90" lengthAdjust="spacingAndGlyphs" fill-opacity="0.9">CEBPB</text>
<text transform="translate(173.50 426.99) scale(0.25)" font-family="Liberation Sans" font-size="11.60" font-weight="normal" fill="#2a1a10" text-anchor="middle" textLength="31.90" lengthAdjust="spacingAndGlyphs" fill-opacity="0.9">PNRC1</text>
<text transform="translate(173.90 440.04) scale(0.25)" font-family="Liberation Sans" font-size="11.60" font-weight="normal" fill="#2a1a10" text-anchor="middle" textLength="25.52" lengthAdjust="spacingAndGlyphs" fill-opacity="0.9">SIK1</text>
<text transform="translate(96.40 453.04) scale(0.25)" font-family="Liberation Sans" font-size="11.60" font-weight="normal" fill="#2a1a10" text-anchor="middle" textLength="25.52" lengthAdjust="spacingAndGlyphs" fill-opacity="0.9">TOB1</text>
<text transform="translate(111.70 453.04) scale(0.25)" font-family="Liberation Sans" font-size="11.60" font-weight="normal" fill="#2a1a10" text-anchor="middle" textLength="25.52" lengthAdjust="spacingAndGlyphs" fill-opacity="0.9">RHOB</text>
<text transform="translate(91.90 468.44) scale(0.25)" font-family="Liberation Sans" font-size="11.60" font-weight="normal" fill="#2a1a10" text-anchor="middle" textLength="38.28" lengthAdjust="spacingAndGlyphs" fill-opacity="0.9">CDKN1A</text>
<text transform="translate(116.40 468.44) scale(0.25)" font-family="Liberation Sans" font-size="11.60" font-weight="normal" fill="#2a1a10" text-anchor="middle" textLength="39.60" lengthAdjust="spacingAndGlyphs" fill-opacity="0.9">GADD45B</text>
<text transform="translate(104.10 477.74) scale(0.25)" font-family="Liberation Sans" font-size="11.60" font-weight="normal" fill="#2a1a10" text-anchor="middle" textLength="25.52" lengthAdjust="spacingAndGlyphs" fill-opacity="0.9">MCL1</text>
<path d="M439.4 418.4L391.2 361M455.5 393.8L391.2 393.8M503.7 385.6L407.2 418.4M407.2 385.6L407.2 418.4M503.7 377.4L471.6 443M359 385.6L439.4 410.2M359 426.6L423.3 410.2M439.4 385.6L407.2 426.6M375.1 435.6L407.2 426.6M471.6 377.4L359 361M439.4 426.6L471.6 443M358.6 448.4L471.6 385.6M375.1 443.4L407.2 434.8M359 385.6L423.3 443M503.7 385.6L375.1 410.2M375.1 393.8L487.6 393.8M423.3 410.2L407.2 385.6M407.2 385.6L487.6 402M503.7 426.6L407.2 434.8M439.4 361L407.2 410.2M471.6 369.2L423.3 377.4M487.6 426.6L503.7 393.8M375.1 443.4L503.7 361M487.6 377.4L471.6 361M391.2 443L423.3 426.6M423.3 418.4L391.2 410.2M375.1 393.8L391.2 361M359 418.4L455.5 377.4M423.3 377.4L439.4 402M359 369.2L455.5 377.4M423.3 393.8L358.6 440.4M503.7 426.6L407.2 402M359 361L423.3 434.8M375.1 443.4L375.1 369.2M439.4 385.6L407.2 443M487.6 377.4L359 426.6M423.3 402L391.2 393.8M375.1 377.4L471.6 369.2M423.3 361L471.6 361M407.2 418.4L359 393.8M503.7 402L439.4 410.2M407.2 361L423.3 434.8M423.3 402L391.2 369.2M375.1 402L359 434.8M423.3 402L439.4 418.4M375.1 369.2L471.6 434.8M407.2 402L471.6 402M439.4 410.2L471.6 377.4M423.3 418.4L359 385.6M503.7 434.8L423.3 377.4M487.6 402L391.2 385.6M487.6 385.6L423.3 377.4M503.7 402L375.1 426.6M503.7 410.2L487.6 426.6M503.7 434.8L439.4 426.6M439.4 385.6L439.4 369.2M359 434.8L375.1 369.2M487.6 369.2L391.2 385.6M503.7 385.6L375.1 443.4M375.1 385.6L455.5 443M359 385.6L487.6 402M423.3 402L391.2 418.4M471.6 402L391.2 385.6M391.2 443L503.7 418.4M487.6 434.8L455.5 402M439.4 377.4L423.3 418.4M407.2 410.2L439.4 410.2M359 434.8L391.2 434.8M503.7 443L391.2 426.6M391.2 361L375.1 369.2M375.1 435.6L423.3 410.2M439.4 377.4L375.1 410.2M407.2 410.2L375.1 418.4M455.5 426.6L407.2 369.2M358.6 448.4L503.7 426.6M455.5 434.8L471.6 393.8M375.1 418.4L375.1 410.2M423.3 377.4L375.1 369.2M375.1 393.8L375.1 435.6M439.4 418.4L503.7 434.8M359 434.8L423.3 434.8M407.2 369.2L423.3 443M391.2 410.2L423.3 443M439.4 385.6L471.6 393.8M471.6 434.8L455.5 418.4M423.3 385.6L503.7 361M487.6 385.6L455.5 361M503.7 361L359 426.6M487.6 418.4L359 418.4M503.7 385.6L375.1 402M503.7 443L439.4 443M471.6 410.2L407.2 434.8M487.6 426.6L439.4 410.2M391.2 377.4L439.4 426.6M375.1 393.8L471.6 434.8M471.6 393.8L455.5 410.2M455.5 443L359 402M359 410.2L439.4 410.2M407.2 443L439.4 361M503.7 402L407.2 418.4M487.6 443L503.7 393.8M471.6 426.6L455.5 369.2M407.2 369.2L439.4 393.8M471.6 443L407.2 377.4M375.1 402L455.5 393.8M503.7 410.2L407.2 369.2M471.6 402L455.5 369.2M471.6 361L471.6 410.2M375.1 402L471.6 377.4M407.2 443L407.2 402M391.2 361L471.6 443M455.5 410.2L375.1 443.4M391.2 434.8L455.5 418.4M423.3 426.6L487.6 434.8M375.1 377.4L375.1 418.4M439.4 434.8L487.6 443M375.1 410.2L439.4 410.2M471.6 443L407.2 361M487.6 402L487.6 434.8M439.4 369.2L375.1 369.2M455.5 402L471.6 418.4M455.5 418.4L423.3 369.2M375.1 369.2L471.6 361M423.3 385.6L439.4 426.6M439.4 402L407.2 369.2M391.2 393.8L391.2 385.6M423.3 377.4L503.7 402M471.6 443L439.4 377.4M375.1 393.8L407.2 377.4M471.6 393.8L455.5 426.6M503.7 393.8L487.6 434.8M503.7 426.6L358.6 448.4M439.4 385.6L439.4 377.4M375.1 418.4L471.6 385.6M487.6 434.8L439.4 443M359 402L391.2 369.2M503.7 410.2L358.6 448.4M455.5 393.8L455.5 369.2M439.4 443L359 385.6M455.5 369.2L407.2 369.2M375.1 410.2L439.4 369.2M407.2 377.4L375.1 435.6M359 385.6L423.3 361M487.6 443L471.6 361M407.2 418.4L391.2 393.8M471.6 361L439.4 402M503.7 361L407.2 418.4M487.6 443L423.3 393.8M359 361L503.7 402M439.4 426.6L407.2 402M375.1 435.6L407.2 385.6M503.7 393.8L407.2 369.2M455.5 418.4L407.2 426.6M439.4 361L455.5 443M471.6 361L455.5 402M439.4 434.8L471.6 426.6M391.2 385.6L407.2 410.2M375.1 426.6L359 418.4M455.5 434.8L359 393.8M407.2 434.8L407.2 385.6M391.2 393.8L375.1 410.2M375.1 377.4L423.3 377.4M471.6 361L455.5 418.4M423.3 393.8L487.6 402M503.7 385.6L407.2 418.4M391.2 393.8L455.5 434.8M391.2 393.8L455.5 385.6M471.6 377.4L503.7 385.6M439.4 410.2L359 434.8M375.1 426.6L358.6 440.4M439.4 361L407.2 434.8M407.2 434.8L375.1 426.6M391.2 426.6L423.3 410.2M358.6 448.4L407.2 377.4M359 385.6L359 434.8M503.7 377.4L391.2 385.6M391.2 361L391.2 393.8M471.6 385.6L359 426.6M358.6 448.4L503.7 393.8M487.6 410.2L423.3 377.4M359 385.6L503.7 369.2M391.2 377.4L455.5 385.6M391.2 410.2L471.6 402M439.4 393.8L439.4 377.4M375.1 369.2L503.7 402M455.5 402L487.6 443M455.5 385.6L375.1 410.2M359 377.4L503.7 393.8M503.7 410.2L359 385.6M455.5 402L375.1 435.6M391.2 410.2L503.7 410.2M375.1 393.8L487.6 443M471.6 385.6L375.1 402M471.6 443L455.5 434.8M439.4 410.2L503.7 418.4M455.5 361L359 393.8M407.2 393.8L359 361M375.1 402L375.1 369.2M391.2 426.6L407.2 402M471.6 361L359 410.2M487.6 393.8L391.2 418.4M487.6 434.8L391.2 385.6M359 361L503.7 393.8M359 369.2L455.5 361M471.6 385.6L391.2 377.4M455.5 443L439.4 426.6M471.6 385.6L375.1 418.4M359 369.2L375.1 361M358.6 448.4L359 361M391.2 418.4L359 385.6M455.5 410.2L391.2 385.6M407.2 443L471.6 402M471.6 418.4L375.1 402M407.2 418.4L455.5 443M439.4 385.6L487.6 402M391.2 443L439.4 434.8M471.6 385.6L391.2 434.8M455.5 393.8L503.7 402M391.2 402L487.6 361M359 426.6L503.7 361M391.2 377.4L503.7 393.8M503.7 418.4L423.3 434.8M439.4 402L487.6 385.6M391.2 402L391.2 418.4M391.2 434.8L375.1 361M375.1 418.4L375.1 369.2M375.1 410.2L471.6 369.2M471.6 385.6L423.3 410.2M391.2 434.8L391.2 426.6M391.2 434.8L455.5 434.8M423.3 361L439.4 402M503.7 426.6L439.4 418.4M359 426.6L423.3 393.8M471.6 443L407.2 418.4M375.1 385.6L439.4 410.2M391.2 443L471.6 369.2M423.3 361L503.7 443M391.2 361L471.6 385.6M407.2 443L503.7 434.8M487.6 434.8L423.3 369.2M503.7 393.8L487.6 443M359 385.6L407.2 434.8M359 426.6L487.6 361M455.5 361L407.2 377.4M391.2 377.4L407.2 369.2M423.3 369.2L391.2 418.4M455.5 361L407.2 393.8M455.5 369.2L487.6 434.8M503.7 377.4L487.6 434.8M391.2 410.2L391.2 393.8M375.1 385.6L455.5 410.2M439.4 393.8L439.4 361M455.5 377.4L487.6 385.6M407.2 369.2L487.6 377.4M391.2 426.6L487.6 369.2M375.1 377.4L423.3 393.8M358.6 440.4L359 402M455.5 418.4L391.2 434.8M487.6 418.4L407.2 402M407.2 434.8L375.1 361M455.5 418.4L359 434.8M423.3 369.2L439.4 361M439.4 377.4L503.7 369.2M471.6 361L423.3 434.8M391.2 434.8L423.3 402M455.5 443L391.2 377.4M487.6 410.2L471.6 426.6M391.2 402L359 434.8M375.1 385.6L439.4 426.6M503.7 418.4L375.1 426.6M423.3 385.6L439.4 418.4M439.4 369.2L455.5 434.8M439.4 418.4L423.3 385.6M455.5 418.4L439.4 402M391.2 426.6L391.2 418.4M423.3 426.6L487.6 393.8M471.6 385.6L358.6 440.4M487.6 434.8L375.1 385.6M375.1 443.4L503.7 393.8M487.6 361L439.4 369.2M455.5 377.4L407.2 426.6M423.3 385.6L455.5 410.2M375.1 443.4L455.5 385.6M375.1 385.6L359 369.2M359 385.6L423.3 443M487.6 443L359 369.2M439.4 426.6L359 385.6M375.1 369.2L391.2 393.8M358.6 440.4L359 410.2M471.6 369.2L375.1 410.2M423.3 443L375.1 361M503.7 385.6L359 361M407.2 385.6L391.2 393.8M487.6 443L503.7 377.4M391.2 418.4L423.3 443M391.2 426.6L423.3 418.4M423.3 377.4L471.6 369.2M375.1 402L503.7 434.8M487.6 443L407.2 402M391.2 434.8L423.3 434.8M439.4 443L359 385.6M391.2 393.8L439.4 361M391.2 443L455.5 393.8M375.1 410.2L487.6 377.4M423.3 402L487.6 369.2M423.3 443L391.2 410.2M375.1 361L503.7 385.6M503.7 410.2L487.6 418.4M407.2 426.6L471.6 369.2M471.6 426.6L471.6 410.2M391.2 369.2L375.1 385.6M359 402L487.6 385.6M471.6 369.2L391.2 418.4M375.1 369.2L359 369.2M423.3 377.4L487.6 426.6M423.3 434.8L375.1 393.8M359 361L471.6 385.6M423.3 443L407.2 434.8M471.6 385.6L487.6 443M503.7 393.8L455.5 402M471.6 410.2L471.6 426.6M487.6 361L455.5 393.8M407.2 418.4L407.2 410.2M439.4 369.2L471.6 426.6M391.2 426.6L359 418.4M359 410.2L359 377.4M359 426.6L423.3 402M455.5 361L391.2 402M471.6 369.2L359 410.2M503.7 385.6L407.2 434.8M487.6 418.4L423.3 393.8M423.3 434.8L439.4 361M358.6 440.4L423.3 402M503.7 418.4L503.7 361M391.2 393.8L503.7 369.2M375.1 393.8L391.2 410.2M391.2 377.4L471.6 410.2M375.1 435.6L471.6 377.4M439.4 369.2L391.2 426.6M391.2 434.8L423.3 377.4M407.2 418.4L391.2 361M423.3 393.8L455.5 369.2M358.6 440.4L471.6 377.4M375.1 426.6L439.4 410.2M471.6 443L471.6 418.4M439.4 410.2L503.7 377.4M423.3 402L455.5 434.8M439.4 377.4L471.6 361M471.6 377.4L375.1 418.4M487.6 402L455.5 393.8M455.5 402L391.2 385.6M391.2 443L439.4 418.4M471.6 385.6L423.3 393.8M391.2 361L423.3 418.4M471.6 369.2L407.2 402M359 434.8L359 369.2M391.2 377.4L487.6 393.8M487.6 393.8L407.2 393.8M423.3 393.8L439.4 426.6M375.1 385.6L471.6 418.4M375.1 369.2L423.3 393.8M487.6 385.6L391.2 369.2M407.2 393.8L455.5 410.2M439.4 443L455.5 426.6M359 426.6L487.6 434.8M407.2 410.2L407.2 369.2M471.6 369.2L455.5 369.2M487.6 434.8L407.2 410.2M391.2 410.2L503.7 361M471.6 361L455.5 410.2M503.7 434.8L375.1 443.4M455.5 402L439.4 443M439.4 393.8L455.5 418.4M455.5 434.8L439.4 410.2M375.1 361L439.4 393.8M359 377.4L407.2 393.8M375.1 443.4L503.7 443M391.2 418.4L407.2 402M423.3 418.4L423.3 402M359 369.2L407.2 434.8M359 361L503.7 418.4M503.7 434.8L439.4 443M407.2 385.6L503.7 434.8M423.3 393.8L359 361M375.1 426.6L455.5 443M423.3 426.6L503.7 410.2M487.6 443L407.2 361M439.4 418.4L503.7 434.8M455.5 377.4L487.6 385.6M375.1 410.2L503.7 410.2M439.4 369.2L423.3 377.4M359 393.8L391.2 369.2M423.3 393.8L487.6 377.4M407.2 418.4L503.7 418.4M391.2 418.4L487.6 393.8M375.1 443.4L503.7 377.4M471.6 377.4L439.4 385.6M439.4 385.6L407.2 443M439.4 393.8L503.7 369.2M439.4 418.4L503.7 402M439.4 418.4L359 385.6M359 361L471.6 426.6M359 426.6L503.7 385.6M471.6 434.8L391.2 426.6M391.2 402L439.4 434.8M359 369.2L487.6 385.6M455.5 434.8L471.6 443M471.6 426.6L503.7 393.8M391.2 369.2L359 393.8M407.2 369.2L375.1 361M391.2 410.2L503.7 385.6M503.7 410.2L423.3 402M391.2 402L439.4 361M375.1 435.6L487.6 402M391.2 393.8L423.3 426.6M423.3 361L503.7 402M391.2 402L439.4 393.8M471.6 434.8L407.2 434.8M359 393.8L503.7 443M407.2 402L375.1 361M375.1 377.4L439.4 410.2M423.3 377.4L391.2 418.4M471.6 434.8L423.3 410.2M359 393.8L391.2 410.2M423.3 377.4L423.3 410.2M359 410.2L455.5 361M407.2 385.6L375.1 369.2M375.1 377.4L439.4 443M423.3 418.4L407.2 402M358.6 440.4L455.5 377.4M391.2 426.6L439.4 443M471.6 426.6L391.2 361M358.6 440.4L375.1 361M359 377.4L503.7 377.4M423.3 418.4L503.7 426.6M358.6 448.4L503.7 385.6M423.3 426.6L503.7 385.6M391.2 369.2L423.3 410.2M423.3 426.6L487.6 434.8M423.3 426.6L487.6 418.4M455.5 402L439.4 418.4M503.7 369.2L503.7 393.8M375.1 385.6L487.6 402M391.2 361L391.2 410.2M359 418.4L423.3 385.6M391.2 402L503.7 369.2M407.2 418.4L423.3 418.4M455.5 361L407.2 410.2M359 361L487.6 410.2M487.6 385.6L391.2 361M375.1 410.2L391.2 426.6M375.1 393.8L359 418.4M391.2 426.6L407.2 361M423.3 393.8L455.5 385.6M503.7 426.6L391.2 361M359 377.4L407.2 418.4M503.7 377.4L359 434.8M375.1 369.2L423.3 402M375.1 426.6L503.7 418.4M391.2 393.8L423.3 385.6M471.6 410.2L503.7 426.6M407.2 393.8L439.4 410.2M455.5 377.4L359 393.8M423.3 434.8L439.4 393.8M487.6 377.4L471.6 393.8M487.6 410.2L503.7 377.4M455.5 426.6L391.2 402M359 361L471.6 369.2M487.6 426.6L391.2 361M503.7 393.8L407.2 385.6M407.2 377.4L407.2 443M455.5 377.4L439.4 402M391.2 426.6L471.6 385.6M455.5 402L439.4 385.6M407.2 393.8L439.4 402M359 410.2L407.2 443M359 369.2L503.7 377.4M487.6 377.4L359 410.2M391.2 418.4L439.4 402M375.1 410.2L471.6 393.8M487.6 369.2L471.6 377.4M503.7 393.8L359 377.4M391.2 443L375.1 377.4M455.5 402L407.2 369.2M503.7 443L455.5 377.4M439.4 385.6L471.6 443M487.6 369.2L455.5 434.8M503.7 393.8L487.6 434.8M439.4 385.6L439.4 402M391.2 393.8L423.3 443M423.3 393.8L375.1 443.4M407.2 361L503.7 434.8M407.2 385.6L359 418.4M503.7 402L391.2 426.6M407.2 410.2L407.2 443M455.5 426.6L455.5 418.4M359 434.8L391.2 393.8M375.1 410.2L455.5 434.8M423.3 443L359 434.8M407.2 377.4L375.1 410.2M471.6 410.2L375.1 361M487.6 369.2L455.5 385.6M455.5 443L487.6 369.2M455.5 402L455.5 418.4M439.4 369.2L487.6 418.4M487.6 361L503.7 434.8M503.7 402L439.4 434.8M471.6 377.4L471.6 393.8M423.3 426.6L487.6 369.2M439.4 410.2L503.7 410.2M471.6 369.2L391.2 410.2M423.3 410.2L407.2 410.2M471.6 402L487.6 443M503.7 377.4L375.1 443.4M455.5 434.8L423.3 361M407.2 410.2L439.4 434.8M359 418.4L455.5 369.2M503.7 426.6L391.2 377.4M375.1 377.4L359 418.4M359 426.6L375.1 418.4M391.2 418.4L423.3 443M407.2 402L503.7 369.2M503.7 369.2L423.3 443M359 369.2L455.5 434.8M359 377.4L359 410.2M439.4 369.2L439.4 393.8M423.3 426.6L455.5 410.2M407.2 410.2L455.5 369.2M455.5 434.8L407.2 443M439.4 369.2L359 410.2M407.2 361L359 418.4M471.6 393.8L375.1 393.8M487.6 418.4L391.2 369.2M423.3 410.2L439.4 385.6M359 434.8L487.6 410.2M359 434.8L439.4 410.2M439.4 410.2L471.6 385.6M391.2 385.6L487.6 385.6M503.7 385.6L503.7 443M471.6 369.2L358.6 440.4M359 426.6L423.3 443M375.1 435.6L375.1 361M391.2 410.2L487.6 402M407.2 361L439.4 393.8M423.3 361L503.7 393.8M375.1 369.2L375.1 377.4M503.7 426.6L503.7 369.2M375.1 385.6L471.6 393.8M359 426.6L359 418.4M407.2 361L455.5 410.2M407.2 402L439.4 443M358.6 440.4L471.6 393.8M503.7 418.4L358.6 440.4M439.4 402L471.6 393.8M455.5 418.4L439.4 418.4M455.5 369.2L423.3 410.2M423.3 385.6L407.2 377.4M375.1 385.6L439.4 385.6M359 361L439.4 443M503.7 361L487.6 410.2M471.6 385.6L423.3 377.4M487.6 443L423.3 393.8M471.6 426.6L503.7 418.4M439.4 385.6L487.6 369.2M359 434.8L358.6 440.4M471.6 434.8L439.4 402M439.4 402L407.2 434.8M455.5 377.4L391.2 434.8M487.6 434.8L455.5 369.2M455.5 434.8L391.2 410.2M471.6 402L455.5 361M503.7 418.4L375.1 435.6M407.2 385.6L407.2 361M375.1 410.2L391.2 369.2M407.2 418.4L471.6 418.4M375.1 361L391.2 393.8M439.4 418.4L503.7 418.4M358.6 440.4L391.2 410.2M471.6 410.2L375.1 377.4M358.6 448.4L503.7 410.2M455.5 402L503.7 426.6M423.3 443L423.3 385.6M358.6 448.4L359 369.2M471.6 443L407.2 402M391.2 385.6L407.2 443M503.7 377.4L487.6 361M359 402L455.5 443M358.6 448.4L423.3 361M487.6 434.8L503.7 402M391.2 434.8L455.5 369.2M503.7 426.6L407.2 410.2M471.6 402L471.6 377.4M503.7 443L487.6 361M503.7 402L503.7 443M503.7 426.6L471.6 410.2" fill="none" stroke="#c6c6c6" stroke-width="0.28" stroke-opacity="0.8"/>
<path d="M359 361L429.2 456.2M359 361L440 471.5M359 361L429.2 456.2M359 369.2L429.2 456.2M359 369.2L431 477.5M359 369.2L440 459.9M359 377.4L419 461.1M359 377.4L431 477.5M359 377.4L429.2 456.2M359 385.6L431 477.5M359 385.6L431 477.5M359 385.6L440 471.5M359 393.8L440 471.5M359 393.8L420.7 471.5M359 393.8L419 461.1M359 402L440 471.5M359 402L429.2 456.2M359 402L420.7 471.5M359 410.2L419 461.1M359 410.2L429.2 456.2M359 410.2L429.2 456.2M359 418.4L419 461.1M359 418.4L429.2 456.2M359 418.4L440 459.9M359 426.6L419 461.1M359 426.6L420.7 471.5M359 426.6L420.7 471.5M359 434.8L440 459.9M359 434.8L420.7 471.5M359 434.8L429.2 456.2M358.6 440.4L440 459.9M358.6 440.4L440 459.9M358.6 440.4L431 477.5M358.6 448.4L419 461.1M358.6 448.4L431 477.5M358.6 448.4L440 459.9M375.1 361L440 471.5M375.1 361L440 471.5M375.1 361L440 471.5M375.1 369.2L429.2 456.2M375.1 369.2L440 471.5M375.1 369.2L420.7 471.5M375.1 377.4L440 471.5M375.1 377.4L429.2 456.2M375.1 377.4L420.7 471.5M375.1 385.6L440 471.5M375.1 385.6L431 477.5M375.1 385.6L429.2 456.2M375.1 393.8L440 459.9M375.1 393.8L440 471.5M375.1 393.8L419 461.1M375.1 402L429.2 456.2M375.1 402L420.7 471.5M375.1 402L419 461.1M375.1 410.2L420.7 471.5M375.1 410.2L431 477.5M375.1 410.2L440 471.5M375.1 418.4L440 471.5M375.1 418.4L419 461.1M375.1 418.4L431 477.5M375.1 426.6L440 471.5M375.1 426.6L419 461.1M375.1 426.6L419 461.1M375.1 435.6L440 471.5M375.1 435.6L429.2 456.2M375.1 435.6L420.7 471.5M375.1 443.4L440 459.9M375.1 443.4L419 461.1M375.1 443.4L419 461.1M391.2 361L440 459.9M391.2 361L420.7 471.5M391.2 361L419 461.1M391.2 369.2L431 477.5M391.2 369.2L431 477.5M391.2 369.2L440 471.5M391.2 377.4L420.7 471.5M391.2 377.4L440 459.9M391.2 377.4L440 471.5M391.2 385.6L429.2 456.2M391.2 385.6L419 461.1M391.2 385.6L440 459.9M391.2 393.8L440 471.5M391.2 393.8L431 477.5M391.2 393.8L419 461.1M391.2 402L440 459.9M391.2 402L440 471.5M391.2 402L440 459.9M391.2 410.2L431 477.5M391.2 410.2L429.2 456.2M391.2 410.2L429.2 456.2M391.2 418.4L429.2 456.2M391.2 418.4L440 471.5M391.2 418.4L431 477.5M391.2 426.6L419 461.1M391.2 426.6L440 471.5M391.2 426.6L440 459.9M391.2 434.8L431 477.5M391.2 434.8L429.2 456.2M391.2 434.8L429.2 456.2M391.2 443L431 477.5M391.2 443L429.2 456.2M391.2 443L440 459.9M407.2 361L431 477.5M407.2 361L440 471.5M407.2 361L440 471.5M407.2 369.2L440 471.5M407.2 369.2L420.7 471.5M407.2 369.2L420.7 471.5M407.2 377.4L440 459.9M407.2 377.4L440 459.9M407.2 377.4L420.7 471.5M407.2 385.6L440 471.5M407.2 385.6L440 471.5M407.2 385.6L440 459.9M407.2 393.8L420.7 471.5M407.2 393.8L431 477.5M407.2 393.8L431 477.5M407.2 402L440 459.9M407.2 402L431 477.5M407.2 402L429.2 456.2M407.2 410.2L440 471.5M407.2 410.2L420.7 471.5M407.2 410.2L440 459.9M407.2 418.4L431 477.5M407.2 418.4L419 461.1M407.2 418.4L420.7 471.5M407.2 426.6L420.7 471.5M407.2 426.6L420.7 471.5M407.2 426.6L431 477.5M407.2 434.8L440 471.5M407.2 434.8L440 459.9M407.2 434.8L440 471.5M407.2 443L419 461.1M407.2 443L420.7 471.5M407.2 443L440 471.5M423.3 361L420.7 471.5M423.3 361L440 459.9M423.3 361L419 461.1M423.3 369.2L440 459.9M423.3 369.2L440 459.9M423.3 369.2L429.2 456.2M423.3 377.4L431 477.5M423.3 377.4L440 471.5M423.3 377.4L420.7 471.5M423.3 385.6L420.7 471.5M423.3 385.6L440 459.9M423.3 385.6L440 459.9M423.3 393.8L429.2 456.2M423.3 393.8L419 461.1M423.3 393.8L440 471.5M423.3 402L419 461.1M423.3 402L431 477.5M423.3 402L420.7 471.5M423.3 410.2L431 477.5M423.3 410.2L420.7 471.5M423.3 410.2L420.7 471.5M423.3 418.4L431 477.5M423.3 418.4L429.2 456.2M423.3 418.4L440 471.5M423.3 426.6L431 477.5M423.3 426.6L419 461.1M423.3 426.6L429.2 456.2M423.3 434.8L419 461.1M423.3 434.8L429.2 456.2M423.3 434.8L440 471.5M423.3 443L431 477.5M423.3 443L440 459.9M423.3 443L420.7 471.5M439.4 361L429.2 456.2M439.4 361L440 471.5M439.4 361L420.7 471.5M439.4 369.2L419 461.1M439.4 369.2L440 471.5M439.4 369.2L431 477.5M439.4 377.4L431 477.5M439.4 377.4L420.7 471.5M439.4 377.4L420.7 471.5M439.4 385.6L440 471.5M439.4 385.6L429.2 456.2M439.4 385.6L420.7 471.5M439.4 393.8L431 477.5M439.4 393.8L429.2 456.2M439.4 393.8L440 471.5M439.4 402L440 459.9M439.4 402L419 461.1M439.4 402L419 461.1M439.4 410.2L419 461.1M439.4 410.2L440 471.5M439.4 410.2L431 477.5M439.4 418.4L440 471.5M439.4 418.4L420.7 471.5M439.4 418.4L440 471.5M439.4 426.6L440 471.5M439.4 426.6L419 461.1M439.4 426.6L429.2 456.2M439.4 434.8L431 477.5M439.4 434.8L429.2 456.2M439.4 434.8L419 461.1M439.4 443L431 477.5M439.4 443L440 459.9M439.4 443L440 459.9M455.5 361L419 461.1M455.5 361L440 459.9M455.5 361L440 459.9M455.5 369.2L431 477.5M455.5 369.2L431 477.5M455.5 369.2L440 471.5M455.5 377.4L429.2 456.2M455.5 377.4L431 477.5M455.5 377.4L440 471.5M455.5 385.6L429.2 456.2M455.5 385.6L429.2 456.2M455.5 385.6L440 471.5M455.5 393.8L431 477.5M455.5 393.8L440 459.9M455.5 393.8L429.2 456.2M455.5 402L431 477.5M455.5 402L440 459.9M455.5 402L440 459.9M455.5 410.2L431 477.5M455.5 410.2L440 459.9M455.5 410.2L431 477.5M455.5 418.4L431 477.5M455.5 418.4L440 471.5M455.5 418.4L419 461.1M455.5 426.6L431 477.5M455.5 426.6L429.2 456.2M455.5 426.6L419 461.1M455.5 434.8L429.2 456.2M455.5 434.8L431 477.5M455.5 434.8L440 471.5M455.5 443L419 461.1M455.5 443L440 471.5M455.5 443L419 461.1M471.6 361L419 461.1M471.6 361L420.7 471.5M471.6 361L431 477.5M471.6 369.2L440 459.9M471.6 369.2L429.2 456.2M471.6 369.2L431 477.5M471.6 377.4L431 477.5M471.6 377.4L429.2 456.2M471.6 377.4L440 459.9M471.6 385.6L440 459.9M471.6 385.6L440 471.5M471.6 385.6L420.7 471.5M471.6 393.8L431 477.5M471.6 393.8L440 459.9M471.6 393.8L440 471.5M471.6 402L440 471.5M471.6 402L440 459.9M471.6 402L431 477.5M471.6 410.2L429.2 456.2M471.6 410.2L429.2 456.2M471.6 410.2L429.2 456.2M471.6 418.4L429.2 456.2M471.6 418.4L429.2 456.2M471.6 418.4L429.2 456.2M471.6 426.6L419 461.1M471.6 426.6L419 461.1M471.6 426.6L429.2 456.2M471.6 434.8L431 477.5M471.6 434.8L440 471.5M471.6 434.8L419 461.1M471.6 443L419 461.1M471.6 443L429.2 456.2M471.6 443L431 477.5M487.6 361L440 471.5M487.6 361L440 471.5M487.6 361L440 471.5M487.6 369.2L431 477.5M487.6 369.2L429.2 456.2M487.6 369.2L429.2 456.2M487.6 377.4L419 461.1M487.6 377.4L440 459.9M487.6 377.4L440 459.9M487.6 385.6L420.7 471.5M487.6 385.6L440 459.9M487.6 385.6L440 459.9M487.6 393.8L429.2 456.2M487.6 393.8L419 461.1M487.6 393.8L440 471.5M487.6 402L440 459.9M487.6 402L440 459.9M487.6 402L431 477.5M487.6 410.2L420.7 471.5M487.6 410.2L431 477.5M487.6 410.2L440 459.9M487.6 418.4L431 477.5M487.6 418.4L419 461.1M487.6 418.4L431 477.5M487.6 426.6L440 471.5M487.6 426.6L440 459.9M487.6 426.6L431 477.5M487.6 434.8L420.7 471.5M487.6 434.8L440 459.9M487.6 434.8L431 477.5M487.6 443L440 459.9M487.6 443L431 477.5M487.6 443L440 471.5M503.7 361L431 477.5M503.7 361L440 459.9M503.7 361L429.2 456.2M503.7 369.2L440 471.5M503.7 369.2L429.2 456.2M503.7 369.2L419 461.1M503.7 377.4L429.2 456.2M503.7 377.4L419 461.1M503.7 377.4L419 461.1M503.7 385.6L440 471.5M503.7 385.6L440 459.9M503.7 385.6L440 471.5M503.7 393.8L420.7 471.5M503.7 393.8L431 477.5M503.7 393.8L440 471.5M503.7 402L429.2 456.2M503.7 402L431 477.5M503.7 402L440 471.5M503.7 410.2L440 471.5M503.7 410.2L419 461.1M503.7 410.2L420.7 471.5M503.7 418.4L420.7 471.5M503.7 418.4L429.2 456.2M503.7 418.4L440 471.5M503.7 426.6L429.2 456.2M503.7 426.6L431 477.5M503.7 426.6L419 461.1M503.7 434.8L419 461.1M503.7 434.8L429.2 456.2M503.7 434.8L431 477.5M503.7 443L419 461.1M503.7 443L431 477.5M503.7 443L420.7 471.5" fill="none" stroke="#b4b4b4" stroke-width="0.28" stroke-opacity="0.8"/>
<path d="M419 461.1L429.2 456.2M419 461.1L440 459.9M419 461.1L420.7 471.5M419 461.1L431 477.5M419 461.1L440 471.5M429.2 456.2L440 459.9M429.2 456.2L420.7 471.5M429.2 456.2L431 477.5M429.2 456.2L440 471.5M440 459.9L420.7 471.5M440 459.9L431 477.5M440 459.9L440 471.5M420.7 471.5L431 477.5M420.7 471.5L440 471.5M431 477.5L440 471.5" fill="none" stroke="#b8b8b8" stroke-width="0.3"/>
<circle cx="359" cy="361" r="4.8" fill="#f0d090"/>
<circle cx="359" cy="369.2" r="4.8" fill="#f2e8a0"/>
<circle cx="359" cy="377.4" r="4.8" fill="#f0c880"/>
<circle cx="359" cy="385.6" r="4.8" fill="#f0d898"/>
<circle cx="359" cy="393.8" r="4.8" fill="#f0d898"/>
<circle cx="359" cy="402" r="4.8" fill="#f0e0a0"/>
<circle cx="359" cy="410.2" r="4.8" fill="#f2e8a0"/>
<circle cx="359" cy="418.4" r="4.8" fill="#eebc78"/>
<circle cx="359" cy="426.6" r="4.8" fill="#f0d898"/>
<circle cx="359" cy="434.8" r="4.8" fill="#f0d898"/>
<circle cx="358.6" cy="440.4" r="5.3" fill="#c81e32"/>
<circle cx="358.6" cy="448.4" r="4.8" fill="#eebc78"/>
<circle cx="375.1" cy="361" r="4.8" fill="#f0c070"/>
<circle cx="375.1" cy="369.2" r="4.8" fill="#f2e8a0"/>
<circle cx="375.1" cy="377.4" r="4.8" fill="#f2e8a0"/>
<circle cx="375.1" cy="385.6" r="4.8" fill="#e8a050"/>
<circle cx="375.1" cy="393.8" r="4.8" fill="#f2e8a0"/>
<circle cx="375.1" cy="402" r="4.8" fill="#f2e8a0"/>
<circle cx="375.1" cy="410.2" r="4.8" fill="#f0d898"/>
<circle cx="375.1" cy="418.4" r="4.8" fill="#f0d898"/>
<circle cx="375.1" cy="426.6" r="4.8" fill="#f0d898"/>
<circle cx="375.1" cy="435.6" r="5.1" fill="#d84030"/>
<circle cx="375.1" cy="443.4" r="4.8" fill="#eeb070"/>
<circle cx="391.2" cy="361" r="4.8" fill="#e8a050"/>
<circle cx="391.2" cy="369.2" r="4.8" fill="#f2e8a0"/>
<circle cx="391.2" cy="377.4" r="4.8" fill="#f2e8a0"/>
<circle cx="391.2" cy="385.6" r="4.8" fill="#f0c070"/>
<circle cx="391.2" cy="393.8" r="4.8" fill="#eeb878"/>
<circle cx="391.2" cy="402" r="4.8" fill="#eed090"/>
<circle cx="391.2" cy="410.2" r="4.8" fill="#eec080"/>
<circle cx="391.2" cy="418.4" r="4.8" fill="#f0d090"/>
<circle cx="391.2" cy="426.6" r="4.8" fill="#f2eaa0"/>
<circle cx="391.2" cy="434.8" r="4.8" fill="#e8a050"/>
<circle cx="391.2" cy="443" r="4.8" fill="#e89048"/>
<circle cx="407.2" cy="361" r="4.8" fill="#f0c070"/>
<circle cx="407.2" cy="369.2" r="4.8" fill="#e07a38"/>
<circle cx="407.2" cy="377.4" r="4.8" fill="#f0d090"/>
<circle cx="407.2" cy="385.6" r="4.8" fill="#f2e8a0"/>
<circle cx="407.2" cy="393.8" r="4.8" fill="#e88848"/>
<circle cx="407.2" cy="402" r="4.8" fill="#e07838"/>
<circle cx="407.2" cy="410.2" r="4.8" fill="#f2e8a0"/>
<circle cx="407.2" cy="418.4" r="4.8" fill="#f0d090"/>
<circle cx="407.2" cy="426.6" r="4.8" fill="#e8a050"/>
<circle cx="407.2" cy="434.8" r="4.8" fill="#e8a050"/>
<circle cx="407.2" cy="443" r="4.8" fill="#eec070"/>
<circle cx="423.3" cy="361" r="4.8" fill="#f2e8a0"/>
<circle cx="423.3" cy="369.2" r="4.8" fill="#f2e8a0"/>
<circle cx="423.3" cy="377.4" r="4.8" fill="#f0d898"/>
<circle cx="423.3" cy="385.6" r="4.8" fill="#f2e8a0"/>
<circle cx="423.3" cy="393.8" r="4.8" fill="#e05a30"/>
<circle cx="423.3" cy="402" r="4.8" fill="#f2e8a0"/>
<circle cx="423.3" cy="410.2" r="4.8" fill="#f0e0a0"/>
<circle cx="423.3" cy="418.4" r="4.8" fill="#eec080"/>
<circle cx="423.3" cy="426.6" r="4.8" fill="#f2e8a0"/>
<circle cx="423.3" cy="434.8" r="4.8" fill="#e8a050"/>
<circle cx="423.3" cy="443" r="4.8" fill="#f0e0a0"/>
<circle cx="439.4" cy="361" r="4.8" fill="#f2e8a0"/>
<circle cx="439.4" cy="369.2" r="4.8" fill="#f2e8a0"/>
<circle cx="439.4" cy="377.4" r="4.8" fill="#f0c070"/>
<circle cx="439.4" cy="385.6" r="4.8" fill="#f0d898"/>
<circle cx="439.4" cy="393.8" r="4.8" fill="#f0d090"/>
<circle cx="439.4" cy="402" r="4.8" fill="#f2e8a0"/>
<circle cx="439.4" cy="410.2" r="4.8" fill="#f0d090"/>
<circle cx="439.4" cy="418.4" r="4.8" fill="#e8a050"/>
<circle cx="439.4" cy="426.6" r="4.8" fill="#f0c880"/>
<circle cx="439.4" cy="434.8" r="4.8" fill="#f0d898"/>
<circle cx="439.4" cy="443" r="4.8" fill="#e88a40"/>
<circle cx="455.5" cy="361" r="4.8" fill="#f0b870"/>
<circle cx="455.5" cy="369.2" r="4.8" fill="#f2e8a0"/>
<circle cx="455.5" cy="377.4" r="4.8" fill="#f2e8a0"/>
<circle cx="455.5" cy="385.6" r="4.8" fill="#f2e8a0"/>
<circle cx="455.5" cy="393.8" r="4.8" fill="#f2e8a0"/>
<circle cx="455.5" cy="402" r="4.8" fill="#f0c070"/>
<circle cx="455.5" cy="410.2" r="4.8" fill="#f0d090"/>
<circle cx="455.5" cy="418.4" r="4.8" fill="#f0d090"/>
<circle cx="455.5" cy="426.6" r="4.8" fill="#f2e8a0"/>
<circle cx="455.5" cy="434.8" r="4.8" fill="#f0e0a0"/>
<circle cx="455.5" cy="443" r="4.8" fill="#f2e8a0"/>
<circle cx="471.6" cy="361" r="4.8" fill="#f0d090"/>
<circle cx="471.6" cy="369.2" r="4.8" fill="#e07030"/>
<circle cx="471.6" cy="377.4" r="4.8" fill="#e8a050"/>
<circle cx="471.6" cy="385.6" r="4.8" fill="#f0c070"/>
<circle cx="471.6" cy="393.8" r="4.8" fill="#f0dc98"/>
<circle cx="471.6" cy="402" r="4.8" fill="#e8b068"/>
<circle cx="471.6" cy="410.2" r="4.8" fill="#f2e8a0"/>
<circle cx="471.6" cy="418.4" r="4.8" fill="#eec080"/>
<circle cx="471.6" cy="426.6" r="4.8" fill="#e8a050"/>
<circle cx="471.6" cy="434.8" r="4.8" fill="#f0d898"/>
<circle cx="471.6" cy="443" r="4.8" fill="#f0c880"/>
<circle cx="487.6" cy="361" r="4.8" fill="#f2e8a0"/>
<circle cx="487.6" cy="369.2" r="4.8" fill="#f2e8a0"/>
<circle cx="487.6" cy="377.4" r="4.8" fill="#f2e8a0"/>
<circle cx="487.6" cy="385.6" r="4.8" fill="#f0d898"/>
<circle cx="487.6" cy="393.8" r="4.8" fill="#f2e8a0"/>
<circle cx="487.6" cy="402" r="4.8" fill="#f2e8a0"/>
<circle cx="487.6" cy="410.2" r="4.8" fill="#eeb878"/>
<circle cx="487.6" cy="418.4" r="4.8" fill="#f2e8a0"/>
<circle cx="487.6" cy="426.6" r="4.8" fill="#f0d898"/>
<circle cx="487.6" cy="434.8" r="4.8" fill="#f0d898"/>
<circle cx="487.6" cy="443" r="4.8" fill="#e8a050"/>
<circle cx="503.7" cy="361" r="4.8" fill="#f2e8a0"/>
<circle cx="503.7" cy="369.2" r="4.8" fill="#f2e8a0"/>
<circle cx="503.7" cy="377.4" r="4.8" fill="#f0c880"/>
<circle cx="503.7" cy="385.6" r="4.8" fill="#f0c880"/>
<circle cx="503.7" cy="393.8" r="4.8" fill="#f2e8a0"/>
<circle cx="503.7" cy="402" r="4.8" fill="#f2e8a0"/>
<circle cx="503.7" cy="410.2" r="4.8" fill="#e8a050"/>
<circle cx="503.7" cy="418.4" r="4.8" fill="#f0d898"/>
<circle cx="503.7" cy="426.6" r="4.8" fill="#f0d898"/>
<circle cx="503.7" cy="434.8" r="4.8" fill="#f2e8a0"/>
<circle cx="503.7" cy="443" r="4.8" fill="#e8a050"/>
<circle cx="419" cy="461.1" r="5.5" fill="#c81e32"/>
<circle cx="429.2" cy="456.2" r="5.3" fill="#c81e32"/>
<circle cx="440" cy="459.9" r="4.8" fill="#e8904a"/>
<circle cx="420.7" cy="471.5" r="4.8" fill="#eca050"/>
<circle cx="431" cy="477.5" r="4.8" fill="#e8883e"/>
<circle cx="440" cy="471.5" r="4.8" fill="#e8904a"/>
<text transform="translate(359.00 361.94) scale(0.25)" font-family="Liberation Sans" font-size="10.40" font-weight="normal" fill="#2a1a10" text-anchor="middle" textLength="17.16" lengthAdjust="spacingAndGlyphs" fill-opacity="0.9">ID2</text>
<text transform="translate(359.00 370.14) scale(0.25)" font-family="Liberation Sans" font-size="10.40" font-weight="normal" fill="#2a1a10" text-anchor="middle" textLength="28.60" lengthAdjust="spacingAndGlyphs" fill-opacity="0.9">PDE4B</text>
<text transform="translate(359.00 378.34) scale(0.25)" font-family="Liberation Sans" font-size="10.40" font-weight="normal" fill="#2a1a10" text-anchor="middle" textLength="34.32" lengthAdjust="spacingAndGlyphs" fill-opacity="0.9">SLC2A3</text>
<text transform="translate(359.00 386.54) scale(0.25)" font-family="Liberation Sans" font-size="10.40" font-weight="normal" fill="#2a1a10" text-anchor="middle" textLength="28.60" lengthAdjust="spacingAndGlyphs" fill-opacity="0.9">TXNIP</text>
<text transform="translate(359.00 394.74) scale(0.25)" font-family="Liberation Sans" font-size="10.40" font-weight="normal" fill="#2a1a10" text-anchor="middle" textLength="28.60" lengthAdjust="spacingAndGlyphs" fill-opacity="0.9">KDM6B</text>
<text transform="translate(359.00 402.94) scale(0.25)" font-family="Liberation Sans" font-size="10.40" font-weight="normal" fill="#2a1a10" text-anchor="middle" textLength="17.16" lengthAdjust="spacingAndGlyphs" fill-opacity="0.9">REL</text>
<text transform="translate(359.00 411.14) scale(0.25)" font-family="Liberation Sans" font-size="10.40" font-weight="normal" fill="#2a1a10" text-anchor="middle" textLength="34.56" lengthAdjust="spacingAndGlyphs" fill-opacity="0.9">BHLHE40</text>
<text transform="translate(359.00 419.34) scale(0.25)" font-family="Liberation Sans" font-size="10.40" font-weight="normal" fill="#2a1a10" text-anchor="middle" textLength="28.60" lengthAdjust="spacingAndGlyphs" fill-opacity="0.9">CCNL1</text>
<text transform="translate(359.00 427.54) scale(0.25)" font-family="Liberation Sans" font-size="10.40" font-weight="normal" fill="#2a1a10" text-anchor="middle" textLength="22.88" lengthAdjust="spacingAndGlyphs" fill-opacity="0.9">SAT1</text>
<text transform="translate(359.00 435.74) scale(0.25)" font-family="Liberation Sans" font-size="10.40" font-weight="normal" fill="#2a1a10" text-anchor="middle" textLength="22.88" lengthAdjust="spacingAndGlyphs" fill-opacity="0.9">IL7R</text>
<text transform="translate(358.60 441.34) scale(0.25)" font-family="Liberation Sans" font-size="10.40" font-weight="normal" fill="#2a1a10" text-anchor="middle" textLength="22.88" lengthAdjust="spacingAndGlyphs" fill-opacity="0.9">CD83</text>
<text transform="translate(358.60 449.34) scale(0.25)" font-family="Liberation Sans" font-size="10.40" font-weight="normal" fill="#2a1a10" text-anchor="middle" textLength="34.32" lengthAdjust="spacingAndGlyphs" fill-opacity="0.9">NFKBIA</text>
<text transform="translate(375.08 361.94) scale(0.25)" font-family="Liberation Sans" font-size="10.40" font-weight="normal" fill="#2a1a10" text-anchor="middle" textLength="17.16" lengthAdjust="spacingAndGlyphs" fill-opacity="0.9">EZR</text>
<text transform="translate(375.08 370.14) scale(0.25)" font-family="Liberation Sans" font-size="10.40" font-weight="normal" fill="#2a1a10" text-anchor="middle" textLength="28.60" lengthAdjust="spacingAndGlyphs" fill-opacity="0.9">ANXA1</text>
<text transform="translate(375.08 378.34) scale(0.25)" font-family="Liberation Sans" font-size="10.40" font-weight="normal" fill="#2a1a10" text-anchor="middle" textLength="22.88" lengthAdjust="spacingAndGlyphs" fill-opacity="0.9">LMNA</text>
<text transform="translate(375.08 386.54) scale(0.25)" font-family="Liberation Sans" font-size="10.40" font-weight="normal" fill="#2a1a10" text-anchor="middle" textLength="22.88" lengthAdjust="spacingAndGlyphs" fill-opacity="0.9">IER5</text>
<text transform="translate(375.08 394.74) scale(0.25)" font-family="Liberation Sans" font-size="10.40" font-weight="normal" fill="#2a1a10" text-anchor="middle" textLength="22.88" lengthAdjust="spacingAndGlyphs" fill-opacity="0.9">JUNB</text>
<text transform="translate(375.08 402.94) scale(0.25)" font-family="Liberation Sans" font-size="10.40" font-weight="normal" fill="#2a1a10" text-anchor="middle" textLength="22.88" lengthAdjust="spacingAndGlyphs" fill-opacity="0.9">KLF6</text>
<text transform="translate(375.08 411.14) scale(0.25)" font-family="Liberation Sans" font-size="10.40" font-weight="normal" fill="#2a1a10" text-anchor="middle" textLength="22.88" lengthAdjust="spacingAndGlyphs" fill-opacity="0.9">RGS1</text>
<text transform="translate(375.08 419.34) scale(0.25)" font-family="Liberation Sans" font-size="10.40" font-weight="normal" fill="#2a1a10" text-anchor="middle" textLength="22.88" lengthAdjust="spacingAndGlyphs" fill-opacity="0.9">CD69</text>
<text transform="translate(375.08 427.54) scale(0.25)" font-family="Liberation Sans" font-size="10.40" font-weight="normal" fill="#2a1a10" text-anchor="middle" textLength="22.88" lengthAdjust="spacingAndGlyphs" fill-opacity="0.9">IER2</text>
<text transform="translate(375.10 436.54) scale(0.25)" font-family="Liberation Sans" font-size="10.40" font-weight="normal" fill="#2a1a10" text-anchor="middle" textLength="28.60" lengthAdjust="spacingAndGlyphs" fill-opacity="0.9">DUSP2</text>
<text transform="translate(375.10 444.34) scale(0.25)" font-family="Liberation Sans" font-size="10.40" font-weight="normal" fill="#2a1a10" text-anchor="middle" textLength="28.60" lengthAdjust="spacingAndGlyphs" fill-opacity="0.9">CXCR4</text>
<text transform="translate(391.16 361.94) scale(0.25)" font-family="Liberation Sans" font-size="10.40" font-weight="normal" fill="#2a1a10" text-anchor="middle" textLength="28.60" lengthAdjust="spacingAndGlyphs" fill-opacity="0.9">ZFP36</text>
<text transform="translate(391.16 370.14) scale(0.25)" font-family="Liberation Sans" font-size="10.40" font-weight="normal" fill="#2a1a10" text-anchor="middle" textLength="34.56" lengthAdjust="spacingAndGlyphs" fill-opacity="0.9">TSC22D3</text>
<text transform="translate(391.16 378.34) scale(0.25)" font-family="Liberation Sans" font-size="10.40" font-weight="normal" fill="#2a1a10" text-anchor="middle" textLength="28.60" lengthAdjust="spacingAndGlyphs" fill-opacity="0.9">NR4A2</text>
<text transform="translate(391.16 386.54) scale(0.25)" font-family="Liberation Sans" font-size="10.40" font-weight="normal" fill="#2a1a10" text-anchor="middle" textLength="34.56" lengthAdjust="spacingAndGlyphs" fill-opacity="0.9">PPP1R15A</text>
<text transform="translate(391.16 394.74) scale(0.25)" font-family="Liberation Sans" font-size="10.40" font-weight="normal" fill="#2a1a10" text-anchor="middle" textLength="34.56" lengthAdjust="spacingAndGlyphs" fill-opacity="0.9">TNFAIP3</text>
<text transform="translate(391.16 402.94) scale(0.25)" font-family="Liberation Sans" font-size="10.40" font-weight="normal" fill="#2a1a10" text-anchor="middle" textLength="22.88" lengthAdjust="spacingAndGlyphs" fill-opacity="0.9">SRGN</text>
<text transform="translate(391.16 411.14) scale(0.25)" font-family="Liberation Sans" font-size="10.40" font-weight="normal" fill="#2a1a10" text-anchor="middle" textLength="22.88" lengthAdjust="spacingAndGlyphs" fill-opacity="0.9">CCL5</text>
<text transform="translate(391.16 419.34) scale(0.25)" font-family="Liberation Sans" font-size="10.40" font-weight="normal" fill="#2a1a10" text-anchor="middle" textLength="22.88" lengthAdjust="spacingAndGlyphs" fill-opacity="0.9">IFNG</text>
<text transform="translate(391.16 427.54) scale(0.25)" font-family="Liberation Sans" font-size="10.40" font-weight="normal" fill="#2a1a10" text-anchor="middle" textLength="22.88" lengthAdjust="spacingAndGlyphs" fill-opacity="0.9">BTG1</text>
<text transform="translate(391.16 435.74) scale(0.25)" font-family="Liberation Sans" font-size="10.40" font-weight="normal" fill="#2a1a10" text-anchor="middle" textLength="22.88" lengthAdjust="spacingAndGlyphs" fill-opacity="0.9">FOSB</text>
<text transform="translate(391.16 443.94) scale(0.25)" font-family="Liberation Sans" font-size="10.40" font-weight="normal" fill="#2a1a10" text-anchor="middle" textLength="22.88" lengthAdjust="spacingAndGlyphs" fill-opacity="0.9">EGR1</text>
<text transform="translate(407.24 361.94) scale(0.25)" font-family="Liberation Sans" font-size="10.40" font-weight="normal" fill="#2a1a10" text-anchor="middle" textLength="22.88" lengthAdjust="spacingAndGlyphs" fill-opacity="0.9">ATF3</text>
<text transform="translate(407.24 370.14) scale(0.25)" font-family="Liberation Sans" font-size="10.40" font-weight="normal" fill="#2a1a10" text-anchor="middle" textLength="28.60" lengthAdjust="spacingAndGlyphs" fill-opacity="0.9">SOCS3</text>
<text transform="translate(407.24 378.34) scale(0.25)" font-family="Liberation Sans" font-size="10.40" font-weight="normal" fill="#2a1a10" text-anchor="middle" textLength="28.60" lengthAdjust="spacingAndGlyphs" fill-opacity="0.9">H3-3B</text>
<text transform="translate(407.24 386.54) scale(0.25)" font-family="Liberation Sans" font-size="10.40" font-weight="normal" fill="#2a1a10" text-anchor="middle" textLength="28.60" lengthAdjust="spacingAndGlyphs" fill-opacity="0.9">YPEL3</text>
<text transform="translate(407.24 394.74) scale(0.25)" font-family="Liberation Sans" font-size="10.40" font-weight="normal" fill="#2a1a10" text-anchor="middle" textLength="34.32" lengthAdjust="spacingAndGlyphs" fill-opacity="0.9">NFKBIZ</text>
<text transform="translate(407.24 402.94) scale(0.25)" font-family="Liberation Sans" font-size="10.40" font-weight="normal" fill="#2a1a10" text-anchor="middle" textLength="22.88" lengthAdjust="spacingAndGlyphs" fill-opacity="0.9">CREM</text>
<text transform="translate(407.24 411.14) scale(0.25)" font-family="Liberation Sans" font-size="10.40" font-weight="normal" fill="#2a1a10" text-anchor="middle" textLength="22.88" lengthAdjust="spacingAndGlyphs" fill-opacity="0.9">IRF1</text>
<text transform="translate(407.24 419.34) scale(0.25)" font-family="Liberation Sans" font-size="10.40" font-weight="normal" fill="#2a1a10" text-anchor="middle" textLength="28.60" lengthAdjust="spacingAndGlyphs" fill-opacity="0.9">STAT3</text>
<text transform="translate(407.24 427.54) scale(0.25)" font-family="Liberation Sans" font-size="10.40" font-weight="normal" fill="#2a1a10" text-anchor="middle" textLength="28.60" lengthAdjust="spacingAndGlyphs" fill-opacity="0.9">CEBPB</text>
<text transform="translate(407.24 435.74) scale(0.25)" font-family="Liberation Sans" font-size="10.40" font-weight="normal" fill="#2a1a10" text-anchor="middle" textLength="28.60" lengthAdjust="spacingAndGlyphs" fill-opacity="0.9">PNRC1</text>
<text transform="translate(407.24 443.94) scale(0.25)" font-family="Liberation Sans" font-size="10.40" font-weight="normal" fill="#2a1a10" text-anchor="middle" textLength="22.88" lengthAdjust="spacingAndGlyphs" fill-opacity="0.9">SIK1</text>
<text transform="translate(423.32 361.94) scale(0.25)" font-family="Liberation Sans" font-size="10.40" font-weight="normal" fill="#2a1a10" text-anchor="middle" textLength="22.88" lengthAdjust="spacingAndGlyphs" fill-opacity="0.9">TOB1</text>
<text transform="translate(423.32 370.14) scale(0.25)" font-family="Liberation Sans" font-size="10.40" font-weight="normal" fill="#2a1a10" text-anchor="middle" textLength="22.88" lengthAdjust="spacingAndGlyphs" fill-opacity="0.9">RHOB</text>
<text transform="translate(423.32 378.34) scale(0.25)" font-family="Liberation Sans" font-size="10.40" font-weight="normal" fill="#2a1a10" text-anchor="middle" textLength="34.32" lengthAdjust="spacingAndGlyphs" fill-opacity="0.9">CDKN1A</text>
<text transform="translate(423.32 386.54) scale(0.25)" font-family="Liberation Sans" font-size="10.40" font-weight="normal" fill="#2a1a10" text-anchor="middle" textLength="34.56" lengthAdjust="spacingAndGlyphs" fill-opacity="0.9">GADD45B</text>
<text transform="translate(423.32 394.74) scale(0.25)" font-family="Liberation Sans" font-size="10.40" font-weight="normal" fill="#2a1a10" text-anchor="middle" textLength="22.88" lengthAdjust="spacingAndGlyphs" fill-opacity="0.9">MCL1</text>
<text transform="translate(423.32 402.94) scale(0.25)" font-family="Liberation Sans" font-size="10.40" font-weight="normal" fill="#2a1a10" text-anchor="middle" textLength="17.16" lengthAdjust="spacingAndGlyphs" fill-opacity="0.9">ID2</text>
<text transform="translate(423.32 411.14) scale(0.25)" font-family="Liberation Sans" font-size="10.40" font-weight="normal" fill="#2a1a10" text-anchor="middle" textLength="28.60" lengthAdjust="spacingAndGlyphs" fill-opacity="0.9">PDE4B</text>
<text transform="translate(423.32 419.34) scale(0.25)" font-family="Liberation Sans" font-size="10.40" font-weight="normal" fill="#2a1a10" text-anchor="middle" textLength="34.32" lengthAdjust="spacingAndGlyphs" fill-opacity="0.9">SLC2A3</text>
<text transform="translate(423.32 427.54) scale(0.25)" font-family="Liberation Sans" font-size="10.40" font-weight="normal" fill="#2a1a10" text-anchor="middle" textLength="28.60" lengthAdjust="spacingAndGlyphs" fill-opacity="0.9">TXNIP</text>
<text transform="translate(423.32 435.74) scale(0.25)" font-family="Liberation Sans" font-size="10.40" font-weight="normal" fill="#2a1a10" text-anchor="middle" textLength="28.60" lengthAdjust="spacingAndGlyphs" fill-opacity="0.9">KDM6B</text>
<text transform="translate(423.32 443.94) scale(0.25)" font-family="Liberation Sans" font-size="10.40" font-weight="normal" fill="#2a1a10" text-anchor="middle" textLength="17.16" lengthAdjust="spacingAndGlyphs" fill-opacity="0.9">REL</text>
<text transform="translate(439.40 361.94) scale(0.25)" font-family="Liberation Sans" font-size="10.40" font-weight="normal" fill="#2a1a10" text-anchor="middle" textLength="34.56" lengthAdjust="spacingAndGlyphs" fill-opacity="0.9">BHLHE40</text>
<text transform="translate(439.40 370.14) scale(0.25)" font-family="Liberation Sans" font-size="10.40" font-weight="normal" fill="#2a1a10" text-anchor="middle" textLength="28.60" lengthAdjust="spacingAndGlyphs" fill-opacity="0.9">CCNL1</text>
<text transform="translate(439.40 378.34) scale(0.25)" font-family="Liberation Sans" font-size="10.40" font-weight="normal" fill="#2a1a10" text-anchor="middle" textLength="22.88" lengthAdjust="spacingAndGlyphs" fill-opacity="0.9">SAT1</text>
<text transform="translate(439.40 386.54) scale(0.25)" font-family="Liberation Sans" font-size="10.40" font-weight="normal" fill="#2a1a10" text-anchor="middle" textLength="22.88" lengthAdjust="spacingAndGlyphs" fill-opacity="0.9">IL7R</text>
<text transform="translate(439.40 394.74) scale(0.25)" font-family="Liberation Sans" font-size="10.40" font-weight="normal" fill="#2a1a10" text-anchor="middle" textLength="22.88" lengthAdjust="spacingAndGlyphs" fill-opacity="0.9">CD83</text>
<text transform="translate(439.40 402.94) scale(0.25)" font-family="Liberation Sans" font-size="10.40" font-weight="normal" fill="#2a1a10" text-anchor="middle" textLength="34.32" lengthAdjust="spacingAndGlyphs" fill-opacity="0.9">NFKBIA</text>
<text transform="translate(439.40 411.14) scale(0.25)" font-family="Liberation Sans" font-size="10.40" font-weight="normal" fill="#2a1a10" text-anchor="middle" textLength="17.16" lengthAdjust="spacingAndGlyphs" fill-opacity="0.9">EZR</text>
<text transform="translate(439.40 419.34) scale(0.25)" font-family="Liberation Sans" font-size="10.40" font-weight="normal" fill="#2a1a10" text-anchor="middle" textLength="28.60" lengthAdjust="spacingAndGlyphs" fill-opacity="0.9">ANXA1</text>
<text transform="translate(439.40 427.54) scale(0.25)" font-family="Liberation Sans" font-size="10.40" font-weight="normal" fill="#2a1a10" text-anchor="middle" textLength="22.88" lengthAdjust="spacingAndGlyphs" fill-opacity="0.9">LMNA</text>
<text transform="translate(439.40 435.74) scale(0.25)" font-family="Liberation Sans" font-size="10.40" font-weight="normal" fill="#2a1a10" text-anchor="middle" textLength="22.88" lengthAdjust="spacingAndGlyphs" fill-opacity="0.9">IER5</text>
<text transform="translate(439.40 443.94) scale(0.25)" font-family="Liberation Sans" font-size="10.40" font-weight="normal" fill="#2a1a10" text-anchor="middle" textLength="22.88" lengthAdjust="spacingAndGlyphs" fill-opacity="0.9">JUNB</text>
<text transform="translate(455.48 361.94) scale(0.25)" font-family="Liberation Sans" font-size="10.40" font-weight="normal" fill="#2a1a10" text-anchor="middle" textLength="22.88" lengthAdjust="spacingAndGlyphs" fill-opacity="0.9">KLF6</text>
<text transform="translate(455.48 370.14) scale(0.25)" font-family="Liberation Sans" font-size="10.40" font-weight="normal" fill="#2a1a10" text-anchor="middle" textLength="22.88" lengthAdjust="spacingAndGlyphs" fill-opacity="0.9">RGS1</text>
<text transform="translate(455.48 378.34) scale(0.25)" font-family="Liberation Sans" font-size="10.40" font-weight="normal" fill="#2a1a10" text-anchor="middle" textLength="22.88" lengthAdjust="spacingAndGlyphs" fill-opacity="0.9">CD69</text>
<text transform="translate(455.48 386.54) scale(0.25)" font-family="Liberation Sans" font-size="10.40" font-weight="normal" fill="#2a1a10" text-anchor="middle" textLength="22.88" lengthAdjust="spacingAndGlyphs" fill-opacity="0.9">IER2</text>
<text transform="translate(455.48 394.74) scale(0.25)" font-family="Liberation Sans" font-size="10.40" font-weight="normal" fill="#2a1a10" text-anchor="middle" textLength="28.60" lengthAdjust="spacingAndGlyphs" fill-opacity="0.9">DUSP2</text>
<text transform="translate(455.48 402.94) scale(0.25)" font-family="Liberation Sans" font-size="10.40" font-weight="normal" fill="#2a1a10" text-anchor="middle" textLength="28.60" lengthAdjust="spacingAndGlyphs" fill-opacity="0.9">CXCR4</text>
<text transform="translate(455.48 411.14) scale(0.25)" font-family="Liberation Sans" font-size="10.40" font-weight="normal" fill="#2a1a10" text-anchor="middle" textLength="28.60" lengthAdjust="spacingAndGlyphs" fill-opacity="0.9">ZFP36</text>
<text transform="translate(455.48 419.34) scale(0.25)" font-family="Liberation Sans" font-size="10.40" font-weight="normal" fill="#2a1a10" text-anchor="middle" textLength="34.56" lengthAdjust="spacingAndGlyphs" fill-opacity="0.9">TSC22D3</text>
<text transform="translate(455.48 427.54) scale(0.25)" font-family="Liberation Sans" font-size="10.40" font-weight="normal" fill="#2a1a10" text-anchor="middle" textLength="28.60" lengthAdjust="spacingAndGlyphs" fill-opacity="0.9">NR4A2</text>
<text transform="translate(455.48 435.74) scale(0.25)" font-family="Liberation Sans" font-size="10.40" font-weight="normal" fill="#2a1a10" text-anchor="middle" textLength="34.56" lengthAdjust="spacingAndGlyphs" fill-opacity="0.9">PPP1R15A</text>
<text transform="translate(455.48 443.94) scale(0.25)" font-family="Liberation Sans" font-size="10.40" font-weight="normal" fill="#2a1a10" text-anchor="middle" textLength="34.56" lengthAdjust="spacingAndGlyphs" fill-opacity="0.9">TNFAIP3</text>
<text transform="translate(471.56 361.94) scale(0.25)" font-family="Liberation Sans" font-size="10.40" font-weight="normal" fill="#2a1a10" text-anchor="middle" textLength="22.88" lengthAdjust="spacingAndGlyphs" fill-opacity="0.9">SRGN</text>
<text transform="translate(471.56 370.14) scale(0.25)" font-family="Liberation Sans" font-size="10.40" font-weight="normal" fill="#2a1a10" text-anchor="middle" textLength="22.88" lengthAdjust="spacingAndGlyphs" fill-opacity="0.9">CCL5</text>
<text transform="translate(471.56 378.34) scale(0.25)" font-family="Liberation Sans" font-size="10.40" font-weight="normal" fill="#2a1a10" text-anchor="middle" textLength="22.88" lengthAdjust="spacingAndGlyphs" fill-opacity="0.9">IFNG</text>
<text transform="translate(471.56 386.54) scale(0.25)" font-family="Liberation Sans" font-size="10.40" font-weight="normal" fill="#2a1a10" text-anchor="middle" textLength="22.88" lengthAdjust="spacingAndGlyphs" fill-opacity="0.9">BTG1</text>
<text transform="translate(471.56 394.74) scale(0.25)" font-family="Liberation Sans" font-size="10.40" font-weight="normal" fill="#2a1a10" text-anchor="middle" textLength="22.88" lengthAdjust="spacingAndGlyphs" fill-opacity="0.9">FOSB</text>
<text transform="translate(471.56 402.94) scale(0.25)" font-family="Liberation Sans" font-size="10.40" font-weight="normal" fill="#2a1a10" text-anchor="middle" textLength="22.88" lengthAdjust="spacingAndGlyphs" fill-opacity="0.9">EGR1</text>
<text transform="translate(471.56 411.14) scale(0.25)" font-family="Liberation Sans" font-size="10.40" font-weight="normal" fill="#2a1a10" text-anchor="middle" textLength="22.88" lengthAdjust="spacingAndGlyphs" fill-opacity="0.9">ATF3</text>
<text transform="translate(471.56 419.34) scale(0.25)" font-family="Liberation Sans" font-size="10.40" font-weight="normal" fill="#2a1a10" text-anchor="middle" textLength="28.60" lengthAdjust="spacingAndGlyphs" fill-opacity="0.9">SOCS3</text>
<text transform="translate(471.56 427.54) scale(0.25)" font-family="Liberation Sans" font-size="10.40" font-weight="normal" fill="#2a1a10" text-anchor="middle" textLength="28.60" lengthAdjust="spacingAndGlyphs" fill-opacity="0.9">H3-3B</text>
<text transform="translate(471.56 435.74) scale(0.25)" font-family="Liberation Sans" font-size="10.40" font-weight="normal" fill="#2a1a10" text-anchor="middle" textLength="28.60" lengthAdjust="spacingAndGlyphs" fill-opacity="0.9">YPEL3</text>
<text transform="translate(471.56 443.94) scale(0.25)" font-family="Liberation Sans" font-size="10.40" font-weight="normal" fill="#2a1a10" text-anchor="middle" textLength="34.32" lengthAdjust="spacingAndGlyphs" fill-opacity="0.9">NFKBIZ</text>
<text transform="translate(487.64 361.94) scale(0.25)" font-family="Liberation Sans" font-size="10.40" font-weight="normal" fill="#2a1a10" text-anchor="middle" textLength="22.88" lengthAdjust="spacingAndGlyphs" fill-opacity="0.9">CREM</text>
<text transform="translate(487.64 370.14) scale(0.25)" font-family="Liberation Sans" font-size="10.40" font-weight="normal" fill="#2a1a10" text-anchor="middle" textLength="22.88" lengthAdjust="spacingAndGlyphs" fill-opacity="0.9">IRF1</text>
<text transform="translate(487.64 378.34) scale(0.25)" font-family="Liberation Sans" font-size="10.40" font-weight="normal" fill="#2a1a10" text-anchor="middle" textLength="28.60" lengthAdjust="spacingAndGlyphs" fill-opacity="0.9">STAT3</text>
<text transform="translate(487.64 386.54) scale(0.25)" font-family="Liberation Sans" font-size="10.40" font-weight="normal" fill="#2a1a10" text-anchor="middle" textLength="28.60" lengthAdjust="spacingAndGlyphs" fill-opacity="0.9">CEBPB</text>
<text transform="translate(487.64 394.74) scale(0.25)" font-family="Liberation Sans" font-size="10.40" font-weight="normal" fill="#2a1a10" text-anchor="middle" textLength="28.60" lengthAdjust="spacingAndGlyphs" fill-opacity="0.9">PNRC1</text>
<text transform="translate(487.64 402.94) scale(0.25)" font-family="Liberation Sans" font-size="10.40" font-weight="normal" fill="#2a1a10" text-anchor="middle" textLength="22.88" lengthAdjust="spacingAndGlyphs" fill-opacity="0.9">SIK1</text>
<text transform="translate(487.64 411.14) scale(0.25)" font-family="Liberation Sans" font-size="10.40" font-weight="normal" fill="#2a1a10" text-anchor="middle" textLength="22.88" lengthAdjust="spacingAndGlyphs" fill-opacity="0.9">TOB1</text>
<text transform="translate(487.64 419.34) scale(0.25)" font-family="Liberation Sans" font-size="10.40" font-weight="normal" fill="#2a1a10" text-anchor="middle" textLength="22.88" lengthAdjust="spacingAndGlyphs" fill-opacity="0.9">RHOB</text>
<text transform="translate(487.64 427.54) scale(0.25)" font-family="Liberation Sans" font-size="10.40" font-weight="normal" fill="#2a1a10" text-anchor="middle" textLength="34.32" lengthAdjust="spacingAndGlyphs" fill-opacity="0.9">CDKN1A</text>
<text transform="translate(487.64 435.74) scale(0.25)" font-family="Liberation Sans" font-size="10.40" font-weight="normal" fill="#2a1a10" text-anchor="middle" textLength="34.56" lengthAdjust="spacingAndGlyphs" fill-opacity="0.9">GADD45B</text>
<text transform="translate(487.64 443.94) scale(0.25)" font-family="Liberation Sans" font-size="10.40" font-weight="normal" fill="#2a1a10" text-anchor="middle" textLength="22.88" lengthAdjust="spacingAndGlyphs" fill-opacity="0.9">MCL1</text>
<text transform="translate(503.72 361.94) scale(0.25)" font-family="Liberation Sans" font-size="10.40" font-weight="normal" fill="#2a1a10" text-anchor="middle" textLength="17.16" lengthAdjust="spacingAndGlyphs" fill-opacity="0.9">ID2</text>
<text transform="translate(503.72 370.14) scale(0.25)" font-family="Liberation Sans" font-size="10.40" font-weight="normal" fill="#2a1a10" text-anchor="middle" textLength="28.60" lengthAdjust="spacingAndGlyphs" fill-opacity="0.9">PDE4B</text>
<text transform="translate(503.72 378.34) scale(0.25)" font-family="Liberation Sans" font-size="10.40" font-weight="normal" fill="#2a1a10" text-anchor="middle" textLength="34.32" lengthAdjust="spacingAndGlyphs" fill-opacity="0.9">SLC2A3</text>
<text transform="translate(503.72 386.54) scale(0.25)" font-family="Liberation Sans" font-size="10.40" font-weight="normal" fill="#2a1a10" text-anchor="middle" textLength="28.60" lengthAdjust="spacingAndGlyphs" fill-opacity="0.9">TXNIP</text>
<text transform="translate(503.72 394.74) scale(0.25)" font-family="Liberation Sans" font-size="10.40" font-weight="normal" fill="#2a1a10" text-anchor="middle" textLength="28.60" lengthAdjust="spacingAndGlyphs" fill-opacity="0.9">KDM6B</text>
<text transform="translate(503.72 402.94) scale(0.25)" font-family="Liberation Sans" font-size="10.40" font-weight="normal" fill="#2a1a10" text-anchor="middle" textLength="17.16" lengthAdjust="spacingAndGlyphs" fill-opacity="0.9">REL</text>
<text transform="translate(503.72 411.14) scale(0.25)" font-family="Liberation Sans" font-size="10.40" font-weight="normal" fill="#2a1a10" text-anchor="middle" textLength="34.56" lengthAdjust="spacingAndGlyphs" fill-opacity="0.9">BHLHE40</text>
<text transform="translate(503.72 419.34) scale(0.25)" font-family="Liberation Sans" font-size="10.40" font-weight="normal" fill="#2a1a10" text-anchor="middle" textLength="28.60" lengthAdjust="spacingAndGlyphs" fill-opacity="0.9">CCNL1</text>
<text transform="translate(503.72 427.54) scale(0.25)" font-family="Liberation Sans" font-size="10.40" font-weight="normal" fill="#2a1a10" text-anchor="middle" textLength="22.88" lengthAdjust="spacingAndGlyphs" fill-opacity="0.9">SAT1</text>
<text transform="translate(503.72 435.74) scale(0.25)" font-family="Liberation Sans" font-size="10.40" font-weight="normal" fill="#2a1a10" text-anchor="middle" textLength="22.88" lengthAdjust="spacingAndGlyphs" fill-opacity="0.9">IL7R</text>
<text transform="translate(503.72 443.94) scale(0.25)" font-family="Liberation Sans" font-size="10.40" font-weight="normal" fill="#2a1a10" text-anchor="middle" textLength="22.88" lengthAdjust="spacingAndGlyphs" fill-opacity="0.9">CD83</text>
<text transform="translate(419.00 462.04) scale(0.25)" font-family="Liberation Sans" font-size="10.40" font-weight="normal" fill="#2a1a10" text-anchor="middle" textLength="34.32" lengthAdjust="spacingAndGlyphs" fill-opacity="0.9">NFKBIA</text>
<text transform="translate(429.20 457.14) scale(0.25)" font-family="Liberation Sans" font-size="10.40" font-weight="normal" fill="#2a1a10" text-anchor="middle" textLength="17.16" lengthAdjust="spacingAndGlyphs" fill-opacity="0.9">EZR</text>
<text transform="translate(440.00 460.84) scale(0.25)" font-family="Liberation Sans" font-size="10.40" font-weight="normal" fill="#2a1a10" text-anchor="middle" textLength="28.60" lengthAdjust="spacingAndGlyphs" fill-opacity="0.9">ANXA1</text>
<text transform="translate(420.70 472.44) scale(0.25)" font-family="Liberation Sans" font-size="10.40" font-weight="normal" fill="#2a1a10" text-anchor="middle" textLength="22.88" lengthAdjust="spacingAndGlyphs" fill-opacity="0.9">LMNA</text>
<text transform="translate(431.00 478.44) scale(0.25)" font-family="Liberation Sans" font-size="10.40" font-weight="normal" fill="#2a1a10" text-anchor="middle" textLength="22.88" lengthAdjust="spacingAndGlyphs" fill-opacity="0.9">IER5</text>
<text transform="translate(440.00 472.44) scale(0.25)" font-family="Liberation Sans" font-size="10.40" font-weight="normal" fill="#2a1a10" text-anchor="middle" textLength="22.88" lengthAdjust="spacingAndGlyphs" fill-opacity="0.9">JUNB</text>
</svg></body></html>
